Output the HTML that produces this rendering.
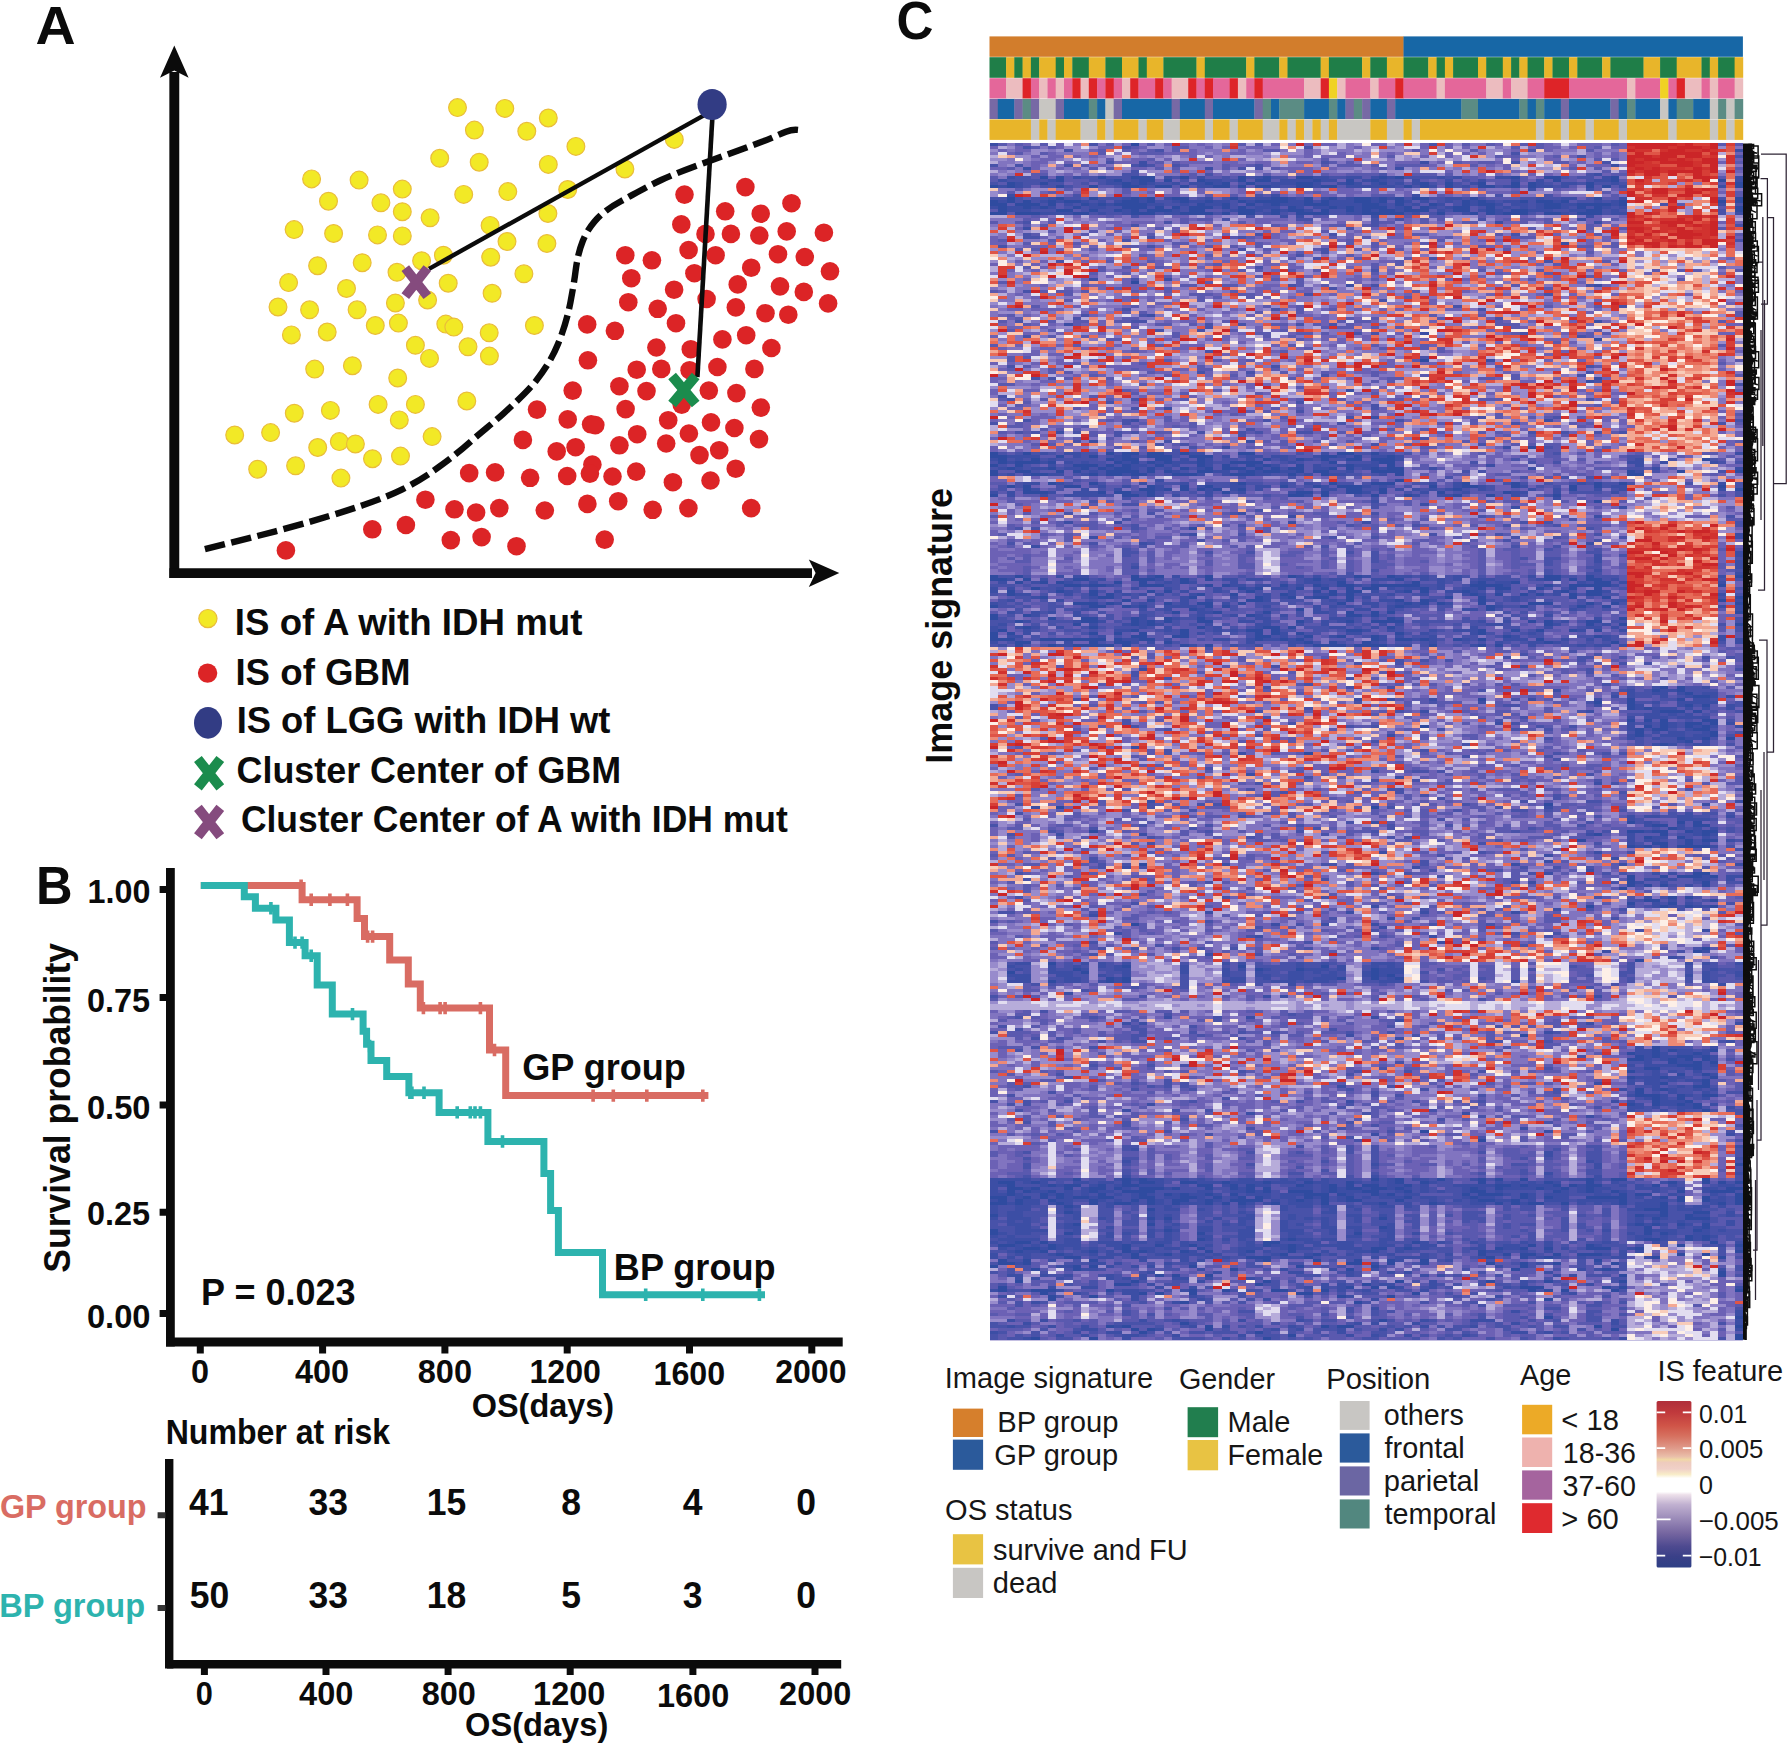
<!DOCTYPE html>
<html lang="en"><head><meta charset="utf-8"><title>Figure</title>
<style>
html,body{margin:0;padding:0;background:#fff}
body{width:1787px;height:1745px;overflow:hidden}
svg{display:block}
text{font-family:"Liberation Sans",sans-serif;fill:#0b0b0b}
.b{font-weight:700}
.r{font-weight:400;fill:#161616}
.sal{fill:#d96c63}
.tea{fill:#2db3ae}
</style></head><body>
<svg width="1787" height="1745" viewBox="0 0 1787 1745">
<rect width="1787" height="1745" fill="#fff"/>
<g id="panelA">
<path d="M174.3 578V72" stroke="#0b0b0b" stroke-width="9.9" fill="none"/>
<path d="M169.4 573.1H812" stroke="#0b0b0b" stroke-width="9.8" fill="none"/>
<path d="M174.3 45.6L188.6 77.8L174.3 70.6L160 77.8Z" fill="#0b0b0b"/>
<path d="M839.3 573.1L808.8 587L815.6 573.1L808.8 559.4Z" fill="#0b0b0b"/>
<g fill="#f2e926" stroke="#eabd3a" stroke-width="1.2">
<circle cx="457.5" cy="107.6" r="8.9"/>
<circle cx="504.8" cy="108.4" r="8.9"/>
<circle cx="548.3" cy="118.0" r="8.9"/>
<circle cx="474.4" cy="130.1" r="8.9"/>
<circle cx="526.8" cy="131.3" r="8.9"/>
<circle cx="439.7" cy="158.3" r="8.9"/>
<circle cx="479.2" cy="162.2" r="8.9"/>
<circle cx="548.3" cy="164.4" r="8.9"/>
<circle cx="311.6" cy="178.9" r="8.9"/>
<circle cx="359.1" cy="180.1" r="8.9"/>
<circle cx="402.3" cy="189.1" r="8.9"/>
<circle cx="463.7" cy="194.4" r="8.9"/>
<circle cx="507.8" cy="191.6" r="8.9"/>
<circle cx="328.5" cy="201.2" r="8.9"/>
<circle cx="380.9" cy="202.8" r="8.9"/>
<circle cx="402.3" cy="211.7" r="8.9"/>
<circle cx="430.1" cy="217.8" r="8.9"/>
<circle cx="547.9" cy="213.5" r="8.9"/>
<circle cx="490.1" cy="225.4" r="8.9"/>
<circle cx="294.1" cy="229.6" r="8.9"/>
<circle cx="333.6" cy="233.5" r="8.9"/>
<circle cx="377.5" cy="234.9" r="8.9"/>
<circle cx="402.3" cy="235.9" r="8.9"/>
<circle cx="507.0" cy="241.5" r="8.9"/>
<circle cx="546.9" cy="243.5" r="8.9"/>
<circle cx="443.4" cy="255.2" r="8.9"/>
<circle cx="421.6" cy="260.7" r="8.9"/>
<circle cx="490.7" cy="257.2" r="8.9"/>
<circle cx="317.6" cy="265.7" r="8.9"/>
<circle cx="362.2" cy="262.7" r="8.9"/>
<circle cx="397.0" cy="272.3" r="8.9"/>
<circle cx="523.9" cy="273.8" r="8.9"/>
<circle cx="288.6" cy="282.6" r="8.9"/>
<circle cx="346.5" cy="288.5" r="8.9"/>
<circle cx="448.2" cy="283.2" r="8.9"/>
<circle cx="492.1" cy="293.3" r="8.9"/>
<circle cx="427.6" cy="300.0" r="8.9"/>
<circle cx="395.4" cy="303.0" r="8.9"/>
<circle cx="278.0" cy="307.0" r="8.9"/>
<circle cx="309.6" cy="309.8" r="8.9"/>
<circle cx="357.1" cy="309.8" r="8.9"/>
<circle cx="398.4" cy="323.1" r="8.9"/>
<circle cx="375.3" cy="325.5" r="8.9"/>
<circle cx="445.8" cy="324.1" r="8.9"/>
<circle cx="453.8" cy="327.1" r="8.9"/>
<circle cx="534.4" cy="325.5" r="8.9"/>
<circle cx="327.2" cy="332.0" r="8.9"/>
<circle cx="291.4" cy="334.9" r="8.9"/>
<circle cx="489.2" cy="332.8" r="8.9"/>
<circle cx="415.4" cy="345.3" r="8.9"/>
<circle cx="429.5" cy="358.4" r="8.9"/>
<circle cx="314.7" cy="369.1" r="8.9"/>
<circle cx="352.4" cy="365.7" r="8.9"/>
<circle cx="397.7" cy="378.0" r="8.9"/>
<circle cx="378.1" cy="404.4" r="8.9"/>
<circle cx="415.4" cy="404.4" r="8.9"/>
<circle cx="294.3" cy="413.2" r="8.9"/>
<circle cx="330.4" cy="410.4" r="8.9"/>
<circle cx="399.3" cy="419.9" r="8.9"/>
<circle cx="234.7" cy="435.0" r="8.9"/>
<circle cx="270.6" cy="432.6" r="8.9"/>
<circle cx="432.1" cy="436.6" r="8.9"/>
<circle cx="317.7" cy="447.5" r="8.9"/>
<circle cx="339.3" cy="441.6" r="8.9"/>
<circle cx="355.4" cy="444.0" r="8.9"/>
<circle cx="372.5" cy="458.7" r="8.9"/>
<circle cx="400.5" cy="456.1" r="8.9"/>
<circle cx="257.7" cy="469.2" r="8.9"/>
<circle cx="295.6" cy="465.8" r="8.9"/>
<circle cx="340.9" cy="478.1" r="8.9"/>
<circle cx="575.9" cy="146.4" r="8.9"/>
<circle cx="674.3" cy="139.4" r="8.9"/>
<circle cx="624.9" cy="169.0" r="8.9"/>
<circle cx="567.7" cy="189.5" r="8.9"/>
<circle cx="468.0" cy="346.8" r="8.9"/>
<circle cx="489.4" cy="356.1" r="8.9"/>
<circle cx="466.8" cy="401.0" r="8.9"/>
</g>
<g fill="#dc2426">
<circle cx="745.4" cy="187.1" r="9.3"/>
<circle cx="684.5" cy="194.6" r="9.3"/>
<circle cx="791.5" cy="203.2" r="9.3"/>
<circle cx="725.2" cy="211.3" r="9.3"/>
<circle cx="760.7" cy="213.7" r="9.3"/>
<circle cx="681.3" cy="224.4" r="9.3"/>
<circle cx="705.5" cy="233.9" r="9.3"/>
<circle cx="730.9" cy="233.9" r="9.3"/>
<circle cx="759.3" cy="235.5" r="9.3"/>
<circle cx="786.7" cy="231.4" r="9.3"/>
<circle cx="823.9" cy="232.7" r="9.3"/>
<circle cx="688.6" cy="250.0" r="9.3"/>
<circle cx="715.6" cy="255.2" r="9.3"/>
<circle cx="778.0" cy="254.2" r="9.3"/>
<circle cx="804.8" cy="257.0" r="9.3"/>
<circle cx="625.3" cy="255.2" r="9.3"/>
<circle cx="651.9" cy="260.3" r="9.3"/>
<circle cx="751.2" cy="267.7" r="9.3"/>
<circle cx="830.0" cy="271.3" r="9.3"/>
<circle cx="631.3" cy="278.2" r="9.3"/>
<circle cx="694.4" cy="273.2" r="9.3"/>
<circle cx="737.7" cy="284.4" r="9.3"/>
<circle cx="780.0" cy="286.4" r="9.3"/>
<circle cx="803.8" cy="291.9" r="9.3"/>
<circle cx="674.1" cy="289.7" r="9.3"/>
<circle cx="628.3" cy="302.2" r="9.3"/>
<circle cx="706.6" cy="299.0" r="9.3"/>
<circle cx="657.7" cy="308.8" r="9.3"/>
<circle cx="735.8" cy="307.4" r="9.3"/>
<circle cx="828.1" cy="303.4" r="9.3"/>
<circle cx="765.5" cy="313.2" r="9.3"/>
<circle cx="788.3" cy="314.7" r="9.3"/>
<circle cx="587.2" cy="324.4" r="9.3"/>
<circle cx="614.9" cy="330.8" r="9.3"/>
<circle cx="676.0" cy="323.2" r="9.3"/>
<circle cx="722.4" cy="339.4" r="9.3"/>
<circle cx="746.2" cy="335.2" r="9.3"/>
<circle cx="771.4" cy="348.0" r="9.3"/>
<circle cx="656.4" cy="347.5" r="9.3"/>
<circle cx="690.8" cy="349.2" r="9.3"/>
<circle cx="587.9" cy="360.3" r="9.3"/>
<circle cx="636.7" cy="369.7" r="9.3"/>
<circle cx="661.3" cy="368.9" r="9.3"/>
<circle cx="689.6" cy="370.2" r="9.3"/>
<circle cx="717.4" cy="367.0" r="9.3"/>
<circle cx="754.4" cy="368.9" r="9.3"/>
<circle cx="572.7" cy="390.6" r="9.3"/>
<circle cx="619.4" cy="386.2" r="9.3"/>
<circle cx="646.5" cy="391.1" r="9.3"/>
<circle cx="708.8" cy="390.6" r="9.3"/>
<circle cx="736.4" cy="393.1" r="9.3"/>
<circle cx="537.0" cy="409.6" r="9.3"/>
<circle cx="625.6" cy="409.1" r="9.3"/>
<circle cx="681.7" cy="404.6" r="9.3"/>
<circle cx="760.8" cy="407.6" r="9.3"/>
<circle cx="567.7" cy="419.4" r="9.3"/>
<circle cx="591.1" cy="424.3" r="9.3"/>
<circle cx="595.3" cy="425.1" r="9.3"/>
<circle cx="668.2" cy="420.2" r="9.3"/>
<circle cx="711.0" cy="422.4" r="9.3"/>
<circle cx="734.4" cy="428.0" r="9.3"/>
<circle cx="522.9" cy="439.9" r="9.3"/>
<circle cx="637.2" cy="434.2" r="9.3"/>
<circle cx="688.9" cy="433.5" r="9.3"/>
<circle cx="759.0" cy="439.1" r="9.3"/>
<circle cx="556.7" cy="451.4" r="9.3"/>
<circle cx="575.6" cy="447.2" r="9.3"/>
<circle cx="619.4" cy="445.3" r="9.3"/>
<circle cx="666.2" cy="443.5" r="9.3"/>
<circle cx="699.5" cy="455.1" r="9.3"/>
<circle cx="719.2" cy="450.2" r="9.3"/>
<circle cx="592.4" cy="464.5" r="9.3"/>
<circle cx="589.9" cy="473.6" r="9.3"/>
<circle cx="735.7" cy="468.7" r="9.3"/>
<circle cx="469.2" cy="473.1" r="9.3"/>
<circle cx="495.1" cy="472.4" r="9.3"/>
<circle cx="530.1" cy="477.8" r="9.3"/>
<circle cx="567.2" cy="476.0" r="9.3"/>
<circle cx="612.5" cy="476.5" r="9.3"/>
<circle cx="636.2" cy="471.6" r="9.3"/>
<circle cx="672.9" cy="482.2" r="9.3"/>
<circle cx="710.5" cy="480.5" r="9.3"/>
<circle cx="425.4" cy="499.7" r="9.3"/>
<circle cx="454.5" cy="509.3" r="9.3"/>
<circle cx="476.1" cy="512.5" r="9.3"/>
<circle cx="499.3" cy="508.1" r="9.3"/>
<circle cx="544.8" cy="510.5" r="9.3"/>
<circle cx="587.4" cy="503.9" r="9.3"/>
<circle cx="618.2" cy="501.2" r="9.3"/>
<circle cx="652.7" cy="509.8" r="9.3"/>
<circle cx="688.4" cy="508.1" r="9.3"/>
<circle cx="751.2" cy="508.1" r="9.3"/>
<circle cx="450.8" cy="540.1" r="9.3"/>
<circle cx="481.6" cy="537.1" r="9.3"/>
<circle cx="516.5" cy="546.2" r="9.3"/>
<circle cx="604.7" cy="539.6" r="9.3"/>
<circle cx="372.3" cy="529.3" r="9.3"/>
<circle cx="405.9" cy="525.0" r="9.3"/>
<circle cx="285.9" cy="550.4" r="9.3"/>
</g>
<path d="M204.9 549.2 C235 541.5 258 536 281.5 529.7 C310 522 337 514 362 505.5 C378 500 391 495 402.3 489.4 C416 482.5 428 475 438.6 467.2 C450 459 460 451 469.2 442.8 C482 431.5 493 423 503.7 413.3 C516 402 527 392 535.7 381.3 C545 369.5 552.5 357.5 557.9 344.3 C564 329.5 568 315 570.5 302 C573 288.5 574.5 280 575.5 271.7 C577 260 579 250.5 582.6 241.5 C585.5 234 589.5 227.5 594.7 221.4 C601.5 213.5 610 207 620.9 201.2 C633 194.8 646 187 661.2 180 C677 172.8 694 166.5 709.5 161 C727 154.8 745 148 761.9 141.8 C771 138.5 779 134.5 786 131.7 C791.5 129.6 797 129.3 801.5 130.6" fill="none" stroke="#0b0b0b" stroke-width="6.4" stroke-dasharray="20.5 6.5"/>
<path d="M429 268.8L707 113.6" stroke="#0b0b0b" stroke-width="4.4" fill="none"/>
<path d="M712.8 110L697.4 377" stroke="#0b0b0b" stroke-width="4.6" fill="none"/>
<ellipse cx="712.1" cy="104.5" rx="14.6" ry="15.6" fill="#323c84"/>
<path d="M405.3 268.1L427.3 296.1M427.3 268.1L405.3 296.1" stroke="#854b7e" stroke-width="9.6" fill="none"/>
<path d="M672.1 376.0L695.7 404.0M695.7 376.0L672.1 404.0" stroke="#1b8c4d" stroke-width="10.0" fill="none"/>
<circle cx="207.9" cy="618.6" r="9.1" fill="#f2e926" stroke="#eabd3a" stroke-width="1.2"/>
<circle cx="207.6" cy="673.1" r="9.7" fill="#dc2426"/>
<ellipse cx="208" cy="722.9" rx="14" ry="15.8" fill="#323c84"/>
<path d="M197.9 759.0L220.3 787.4M220.3 759.0L197.9 787.4" stroke="#1b8c4d" stroke-width="9.8" fill="none"/>
<path d="M197.9 807.9L220.3 836.3M220.3 807.9L197.9 836.3" stroke="#854b7e" stroke-width="9.8" fill="none"/>
<text class="b" font-size="37.50" transform="translate(234.82 634.60) scale(0.9776 1)">IS of A with IDH mut</text>
<text class="b" font-size="37.50" transform="translate(235.42 684.50) scale(0.9777 1)">IS of GBM</text>
<text class="b" font-size="37.50" transform="translate(236.64 733.40) scale(0.9702 1)">IS of LGG with IDH wt</text>
<text class="b" font-size="37.50" transform="translate(236.57 782.80) scale(0.9564 1)">Cluster Center of GBM</text>
<text class="b" font-size="37.50" transform="translate(240.88 832.20) scale(0.9454 1)">Cluster Center of A with IDH mut</text>
<text class="b" font-size="53.80" transform="translate(35.51 43.60) scale(1.0320 1)">A</text>
</g>
<g id="panelB">
<path d="M200.8 885.6H302.1V899.7H357.1V918.4H364.5V936.6H389.7V960.1H408.3V983.9H420.3V1008.1H489.5V1050.0H505.7V1095.6H708.4" fill="none" stroke="#d96c63" stroke-width="7" stroke-linejoin="miter"/>
<path d="M301.1 879.4v12.4M311.2 893.5v12.4M329.9 893.5v12.4M347.4 893.5v12.4M367.6 930.4v12.4M372.6 930.4v12.4M423.4 1001.9v12.4M440.1 1001.9v12.4M445.1 1001.9v12.4M480.4 1001.9v12.4M494.5 1043.8v12.4M593.1 1089.4v12.4M613.3 1089.4v12.4M646.8 1089.4v12.4M702.8 1089.4v12.4" fill="none" stroke="#d96c63" stroke-width="3.6"/>
<path d="M200.8 885.6H244.3V896.7H255.4V908.3H275.9V920.0H289.4V942.6H305.1V955.7H317.2V984.9H332.3V1014.1H363.1V1031.2H366.6V1044.3H371.0V1060.4H386.7V1076.6H408.9V1092.7H439.1V1112.4H487.9V1141.5H543.9V1173.5H550.6V1210.4H558.4V1252.5H602.5V1294.8H765.0" fill="none" stroke="#2db3ae" stroke-width="7" stroke-linejoin="miter"/>
<path d="M270.9 902.1v12.4M295.0 936.4v12.4M302.1 936.4v12.4M311.2 949.5v12.4M352.5 1007.9v12.4M365.6 1033.8v12.4M369.6 1039.8v12.4M409.9 1086.5v12.4M411.9 1086.5v12.4M424.0 1086.5v12.4M457.2 1106.2v12.4M470.3 1106.2v12.4M475.0 1106.2v12.4M480.4 1106.2v12.4M502.5 1135.3v12.4M645.7 1288.6v12.4M702.8 1288.6v12.4M759.4 1288.6v12.4" fill="none" stroke="#2db3ae" stroke-width="3.6"/>
<path d="M170.4 868V1346.4" stroke="#0b0b0b" stroke-width="8.8" fill="none"/>
<path d="M166 1342H842.7" stroke="#0b0b0b" stroke-width="8.9" fill="none"/>
<path d="M159.6 889.5H167M159.6 997.6H167M159.6 1105.1H167M159.6 1212.2H167M159.6 1313.5H167" stroke="#0b0b0b" stroke-width="7" fill="none"/>
<path d="M200.3 1345V1353.5M322.6 1345V1353.5M444.9 1345V1353.5M567.2 1345V1353.5M689.5 1345V1353.5M811.8 1345V1353.5" stroke="#0b0b0b" stroke-width="7" fill="none"/>
<text class="b" font-size="34.00" transform="translate(87.56 903.00) scale(0.9501 1)">1.00</text>
<text class="b" font-size="34.00" transform="translate(86.90 1012.30) scale(0.9543 1)">0.75</text>
<text class="b" font-size="34.00" transform="translate(86.89 1118.70) scale(0.9620 1)">0.50</text>
<text class="b" font-size="34.00" transform="translate(86.90 1224.70) scale(0.9543 1)">0.25</text>
<text class="b" font-size="34.00" transform="translate(86.89 1327.70) scale(0.9620 1)">0.00</text>
<text class="b" font-size="34.00" transform="translate(191.00 1382.90) scale(0.9536 1)">0</text>
<text class="b" font-size="34.00" transform="translate(295.11 1382.90) scale(0.9518 1)">400</text>
<text class="b" font-size="34.00" transform="translate(417.72 1382.90) scale(0.9570 1)">800</text>
<text class="b" font-size="34.00" transform="translate(529.47 1382.90) scale(0.9439 1)">1200</text>
<text class="b" font-size="34.00" transform="translate(653.47 1384.50) scale(0.9481 1)">1600</text>
<text class="b" font-size="34.00" transform="translate(775.28 1382.90) scale(0.9412 1)">2000</text>
<text class="b" font-size="33.40" transform="translate(471.70 1417.00) scale(0.9720 1)">OS(days)</text>
<text class="b" font-size="36.20" transform="translate(69.70 1272.67) rotate(-90) scale(0.9819 1)">Survival probability</text>
<text class="b" font-size="37.50" transform="translate(201.06 1304.90) scale(0.9604 1)">P = 0.023</text>
<text class="b" font-size="37.60" transform="translate(522.16 1080.10) scale(0.9600 1)">GP group</text>
<text class="b" font-size="37.60" transform="translate(613.86 1280.40) scale(0.9593 1)">BP group</text>
<text class="b" font-size="52.90" transform="translate(36.01 904.20) scale(0.9576 1)">B</text>
<text class="b" font-size="34.30" transform="translate(165.72 1444.20) scale(0.9350 1)">Number at risk</text>
<path d="M169.2 1459V1668.4" stroke="#0b0b0b" stroke-width="8.4" fill="none"/>
<path d="M167 1664.2H841.2" stroke="#0b0b0b" stroke-width="8.6" fill="none"/>
<path d="M157.6 1515.2H165.5M157.6 1608H165.5" stroke="#333" stroke-width="6" fill="none"/>
<path d="M204.4 1668V1675M326.0 1668V1675M448.1 1668V1675M570.2 1668V1675M692.9 1668V1675M815.0 1668V1675" stroke="#0b0b0b" stroke-width="7" fill="none"/>
<text class="b sal" font-size="33.30" transform="translate(-0.09 1518.40) scale(0.9713 1)">GP group</text>
<text class="b tea" font-size="33.30" transform="translate(-0.72 1616.90) scale(0.9774 1)">BP group</text>
<text class="b" font-size="37.00" text-anchor="middle" transform="translate(208.80 1515.00) scale(0.9600 1)">41</text>
<text class="b" font-size="37.00" text-anchor="middle" transform="translate(328.30 1515.00) scale(0.9600 1)">33</text>
<text class="b" font-size="37.00" text-anchor="middle" transform="translate(446.60 1515.00) scale(0.9600 1)">15</text>
<text class="b" font-size="37.00" text-anchor="middle" transform="translate(571.20 1515.00) scale(0.9600 1)">8</text>
<text class="b" font-size="37.00" text-anchor="middle" transform="translate(692.60 1515.00) scale(0.9600 1)">4</text>
<text class="b" font-size="37.00" text-anchor="middle" transform="translate(806.10 1515.00) scale(0.9600 1)">0</text>
<text class="b" font-size="37.00" text-anchor="middle" transform="translate(209.60 1607.70) scale(0.9600 1)">50</text>
<text class="b" font-size="37.00" text-anchor="middle" transform="translate(328.30 1607.70) scale(0.9600 1)">33</text>
<text class="b" font-size="37.00" text-anchor="middle" transform="translate(446.60 1607.70) scale(0.9600 1)">18</text>
<text class="b" font-size="37.00" text-anchor="middle" transform="translate(571.20 1607.70) scale(0.9600 1)">5</text>
<text class="b" font-size="37.00" text-anchor="middle" transform="translate(692.60 1607.70) scale(0.9600 1)">3</text>
<text class="b" font-size="37.00" text-anchor="middle" transform="translate(806.10 1607.70) scale(0.9600 1)">0</text>
<text class="b" font-size="34.00" transform="translate(195.67 1704.50) scale(0.9040 1)">0</text>
<text class="b" font-size="34.00" transform="translate(299.11 1704.50) scale(0.9573 1)">400</text>
<text class="b" font-size="34.00" transform="translate(421.63 1704.50) scale(0.9552 1)">800</text>
<text class="b" font-size="34.00" text-anchor="middle" transform="translate(569.20 1704.50) scale(0.9550 1)">1200</text>
<text class="b" font-size="34.00" text-anchor="middle" transform="translate(693.10 1706.90) scale(0.9550 1)">1600</text>
<text class="b" font-size="34.00" text-anchor="middle" transform="translate(815.20 1704.50) scale(0.9550 1)">2000</text>
<text class="b" font-size="33.40" transform="translate(464.99 1736.30) scale(0.9776 1)">OS(days)</text>
</g>
<g id="panelC">
<text class="b" font-size="54.50" transform="translate(896.45 39.20) scale(0.9384 1)">C</text>
<text class="b" font-size="37.50" transform="translate(952.00 763.64) rotate(-90) scale(0.9589 1)">Image signature</text>
<rect x="989.5" y="36.4" width="414.3" height="20.4" fill="#d27d2c"/>
<rect x="1403.5" y="36.4" width="339.4" height="20.4" fill="#1767a6"/>
<rect x="989.5" y="57.2" width="16.9" height="20.6" fill="#1f7e48"/>
<rect x="1006.1" y="57.2" width="8.6" height="20.6" fill="#e8b52a"/>
<rect x="1014.3" y="57.2" width="8.6" height="20.6" fill="#1f7e48"/>
<rect x="1022.6" y="57.2" width="8.6" height="20.6" fill="#e8b52a"/>
<rect x="1030.9" y="57.2" width="8.6" height="20.6" fill="#1f7e48"/>
<rect x="1039.2" y="57.2" width="16.9" height="20.6" fill="#e8b52a"/>
<rect x="1055.7" y="57.2" width="8.6" height="20.6" fill="#1f7e48"/>
<rect x="1064.0" y="57.2" width="8.6" height="20.6" fill="#e8b52a"/>
<rect x="1072.3" y="57.2" width="16.9" height="20.6" fill="#1f7e48"/>
<rect x="1088.8" y="57.2" width="16.9" height="20.6" fill="#e8b52a"/>
<rect x="1105.4" y="57.2" width="16.9" height="20.6" fill="#1f7e48"/>
<rect x="1122.0" y="57.2" width="16.9" height="20.6" fill="#e8b52a"/>
<rect x="1138.5" y="57.2" width="8.6" height="20.6" fill="#1f7e48"/>
<rect x="1146.8" y="57.2" width="16.9" height="20.6" fill="#e8b52a"/>
<rect x="1163.4" y="57.2" width="33.4" height="20.6" fill="#1f7e48"/>
<rect x="1196.5" y="57.2" width="8.6" height="20.6" fill="#e8b52a"/>
<rect x="1204.8" y="57.2" width="41.7" height="20.6" fill="#1f7e48"/>
<rect x="1246.2" y="57.2" width="8.6" height="20.6" fill="#e8b52a"/>
<rect x="1254.4" y="57.2" width="25.1" height="20.6" fill="#1f7e48"/>
<rect x="1279.3" y="57.2" width="8.6" height="20.6" fill="#e8b52a"/>
<rect x="1287.5" y="57.2" width="33.4" height="20.6" fill="#1f7e48"/>
<rect x="1320.7" y="57.2" width="8.6" height="20.6" fill="#e8b52a"/>
<rect x="1328.9" y="57.2" width="33.4" height="20.6" fill="#1f7e48"/>
<rect x="1362.1" y="57.2" width="8.6" height="20.6" fill="#e8b52a"/>
<rect x="1370.3" y="57.2" width="16.9" height="20.6" fill="#1f7e48"/>
<rect x="1386.9" y="57.2" width="16.9" height="20.6" fill="#e8b52a"/>
<rect x="1403.5" y="57.2" width="25.1" height="20.6" fill="#1f7e48"/>
<rect x="1428.3" y="57.2" width="8.6" height="20.6" fill="#e8b52a"/>
<rect x="1436.6" y="57.2" width="8.6" height="20.6" fill="#1f7e48"/>
<rect x="1444.9" y="57.2" width="8.6" height="20.6" fill="#e8b52a"/>
<rect x="1453.1" y="57.2" width="25.1" height="20.6" fill="#1f7e48"/>
<rect x="1478.0" y="57.2" width="8.6" height="20.6" fill="#e8b52a"/>
<rect x="1486.2" y="57.2" width="16.9" height="20.6" fill="#1f7e48"/>
<rect x="1502.8" y="57.2" width="8.6" height="20.6" fill="#e8b52a"/>
<rect x="1511.1" y="57.2" width="8.6" height="20.6" fill="#1f7e48"/>
<rect x="1519.4" y="57.2" width="8.6" height="20.6" fill="#e8b52a"/>
<rect x="1527.6" y="57.2" width="16.9" height="20.6" fill="#1f7e48"/>
<rect x="1544.2" y="57.2" width="8.6" height="20.6" fill="#e8b52a"/>
<rect x="1552.5" y="57.2" width="16.9" height="20.6" fill="#1f7e48"/>
<rect x="1569.0" y="57.2" width="8.6" height="20.6" fill="#e8b52a"/>
<rect x="1577.3" y="57.2" width="25.1" height="20.6" fill="#1f7e48"/>
<rect x="1602.2" y="57.2" width="8.6" height="20.6" fill="#e8b52a"/>
<rect x="1610.4" y="57.2" width="33.4" height="20.6" fill="#1f7e48"/>
<rect x="1643.6" y="57.2" width="16.9" height="20.6" fill="#e8b52a"/>
<rect x="1660.1" y="57.2" width="16.9" height="20.6" fill="#1f7e48"/>
<rect x="1676.7" y="57.2" width="25.1" height="20.6" fill="#e8b52a"/>
<rect x="1701.5" y="57.2" width="8.6" height="20.6" fill="#1f7e48"/>
<rect x="1709.8" y="57.2" width="8.6" height="20.6" fill="#e8b52a"/>
<rect x="1718.1" y="57.2" width="16.9" height="20.6" fill="#1f7e48"/>
<rect x="1734.6" y="57.2" width="8.6" height="20.6" fill="#e8b52a"/>
<rect x="989.5" y="78.2" width="16.9" height="20.3" fill="#e4679a"/>
<rect x="1006.1" y="78.2" width="16.9" height="20.3" fill="#ecbcbf"/>
<rect x="1022.6" y="78.2" width="8.6" height="20.3" fill="#de2428"/>
<rect x="1030.9" y="78.2" width="8.6" height="20.3" fill="#e4679a"/>
<rect x="1039.2" y="78.2" width="8.6" height="20.3" fill="#ecbcbf"/>
<rect x="1047.5" y="78.2" width="8.6" height="20.3" fill="#e4679a"/>
<rect x="1055.7" y="78.2" width="8.6" height="20.3" fill="#ecbcbf"/>
<rect x="1064.0" y="78.2" width="8.6" height="20.3" fill="#e4679a"/>
<rect x="1072.3" y="78.2" width="8.6" height="20.3" fill="#de2428"/>
<rect x="1080.6" y="78.2" width="8.6" height="20.3" fill="#ecbcbf"/>
<rect x="1088.8" y="78.2" width="8.6" height="20.3" fill="#de2428"/>
<rect x="1097.1" y="78.2" width="8.6" height="20.3" fill="#e4679a"/>
<rect x="1105.4" y="78.2" width="8.6" height="20.3" fill="#de2428"/>
<rect x="1113.7" y="78.2" width="8.6" height="20.3" fill="#e4679a"/>
<rect x="1122.0" y="78.2" width="8.6" height="20.3" fill="#ecbcbf"/>
<rect x="1130.2" y="78.2" width="8.6" height="20.3" fill="#de2428"/>
<rect x="1138.5" y="78.2" width="16.9" height="20.3" fill="#e4679a"/>
<rect x="1155.1" y="78.2" width="8.6" height="20.3" fill="#de2428"/>
<rect x="1163.4" y="78.2" width="8.6" height="20.3" fill="#e4679a"/>
<rect x="1171.6" y="78.2" width="16.9" height="20.3" fill="#ecbcbf"/>
<rect x="1188.2" y="78.2" width="8.6" height="20.3" fill="#de2428"/>
<rect x="1196.5" y="78.2" width="8.6" height="20.3" fill="#e4679a"/>
<rect x="1204.8" y="78.2" width="8.6" height="20.3" fill="#de2428"/>
<rect x="1213.0" y="78.2" width="16.9" height="20.3" fill="#e4679a"/>
<rect x="1229.6" y="78.2" width="8.6" height="20.3" fill="#de2428"/>
<rect x="1237.9" y="78.2" width="8.6" height="20.3" fill="#ecbcbf"/>
<rect x="1246.2" y="78.2" width="8.6" height="20.3" fill="#e4679a"/>
<rect x="1254.4" y="78.2" width="8.6" height="20.3" fill="#de2428"/>
<rect x="1262.7" y="78.2" width="41.7" height="20.3" fill="#e4679a"/>
<rect x="1304.1" y="78.2" width="16.9" height="20.3" fill="#ecbcbf"/>
<rect x="1320.7" y="78.2" width="8.6" height="20.3" fill="#de2428"/>
<rect x="1328.9" y="78.2" width="8.6" height="20.3" fill="#f0d224"/>
<rect x="1337.2" y="78.2" width="8.6" height="20.3" fill="#ecbcbf"/>
<rect x="1345.5" y="78.2" width="25.1" height="20.3" fill="#e4679a"/>
<rect x="1370.3" y="78.2" width="8.6" height="20.3" fill="#ecbcbf"/>
<rect x="1378.6" y="78.2" width="16.9" height="20.3" fill="#e4679a"/>
<rect x="1395.2" y="78.2" width="8.6" height="20.3" fill="#de2428"/>
<rect x="1403.5" y="78.2" width="33.4" height="20.3" fill="#e4679a"/>
<rect x="1436.6" y="78.2" width="8.6" height="20.3" fill="#ecbcbf"/>
<rect x="1444.9" y="78.2" width="41.7" height="20.3" fill="#e4679a"/>
<rect x="1486.2" y="78.2" width="16.9" height="20.3" fill="#ecbcbf"/>
<rect x="1502.8" y="78.2" width="8.6" height="20.3" fill="#e4679a"/>
<rect x="1511.1" y="78.2" width="16.9" height="20.3" fill="#ecbcbf"/>
<rect x="1527.6" y="78.2" width="16.9" height="20.3" fill="#e4679a"/>
<rect x="1544.2" y="78.2" width="25.1" height="20.3" fill="#de2428"/>
<rect x="1569.0" y="78.2" width="58.3" height="20.3" fill="#e4679a"/>
<rect x="1627.0" y="78.2" width="8.6" height="20.3" fill="#ecbcbf"/>
<rect x="1635.3" y="78.2" width="25.1" height="20.3" fill="#e4679a"/>
<rect x="1660.1" y="78.2" width="8.6" height="20.3" fill="#f0d224"/>
<rect x="1668.4" y="78.2" width="8.6" height="20.3" fill="#e4679a"/>
<rect x="1676.7" y="78.2" width="8.6" height="20.3" fill="#de2428"/>
<rect x="1684.9" y="78.2" width="16.9" height="20.3" fill="#ecbcbf"/>
<rect x="1701.5" y="78.2" width="8.6" height="20.3" fill="#e4679a"/>
<rect x="1709.8" y="78.2" width="8.6" height="20.3" fill="#ecbcbf"/>
<rect x="1718.1" y="78.2" width="16.9" height="20.3" fill="#e4679a"/>
<rect x="1734.6" y="78.2" width="8.6" height="20.3" fill="#ecbcbf"/>
<rect x="989.5" y="98.9" width="8.6" height="20.1" fill="#7769a5"/>
<rect x="997.8" y="98.9" width="16.9" height="20.1" fill="#1767a6"/>
<rect x="1014.3" y="98.9" width="8.6" height="20.1" fill="#7769a5"/>
<rect x="1022.6" y="98.9" width="8.6" height="20.1" fill="#5b8c84"/>
<rect x="1030.9" y="98.9" width="8.6" height="20.1" fill="#7769a5"/>
<rect x="1039.2" y="98.9" width="16.9" height="20.1" fill="#c8c6c2"/>
<rect x="1055.7" y="98.9" width="8.6" height="20.1" fill="#7769a5"/>
<rect x="1064.0" y="98.9" width="25.1" height="20.1" fill="#1767a6"/>
<rect x="1088.8" y="98.9" width="8.6" height="20.1" fill="#5b8c84"/>
<rect x="1097.1" y="98.9" width="8.6" height="20.1" fill="#1767a6"/>
<rect x="1105.4" y="98.9" width="8.6" height="20.1" fill="#c8c6c2"/>
<rect x="1113.7" y="98.9" width="8.6" height="20.1" fill="#7769a5"/>
<rect x="1122.0" y="98.9" width="50.0" height="20.1" fill="#1767a6"/>
<rect x="1171.6" y="98.9" width="8.6" height="20.1" fill="#7769a5"/>
<rect x="1179.9" y="98.9" width="25.1" height="20.1" fill="#1767a6"/>
<rect x="1204.8" y="98.9" width="8.6" height="20.1" fill="#7769a5"/>
<rect x="1213.0" y="98.9" width="41.7" height="20.1" fill="#1767a6"/>
<rect x="1254.4" y="98.9" width="8.6" height="20.1" fill="#7769a5"/>
<rect x="1262.7" y="98.9" width="8.6" height="20.1" fill="#5b8c84"/>
<rect x="1271.0" y="98.9" width="8.6" height="20.1" fill="#1767a6"/>
<rect x="1279.3" y="98.9" width="25.1" height="20.1" fill="#5b8c84"/>
<rect x="1304.1" y="98.9" width="25.1" height="20.1" fill="#1767a6"/>
<rect x="1328.9" y="98.9" width="8.6" height="20.1" fill="#5b8c84"/>
<rect x="1337.2" y="98.9" width="8.6" height="20.1" fill="#1767a6"/>
<rect x="1345.5" y="98.9" width="8.6" height="20.1" fill="#7769a5"/>
<rect x="1353.8" y="98.9" width="8.6" height="20.1" fill="#5b8c84"/>
<rect x="1362.1" y="98.9" width="8.6" height="20.1" fill="#7769a5"/>
<rect x="1370.3" y="98.9" width="16.9" height="20.1" fill="#1767a6"/>
<rect x="1386.9" y="98.9" width="8.6" height="20.1" fill="#7769a5"/>
<rect x="1395.2" y="98.9" width="66.5" height="20.1" fill="#1767a6"/>
<rect x="1461.4" y="98.9" width="16.9" height="20.1" fill="#5b8c84"/>
<rect x="1478.0" y="98.9" width="41.7" height="20.1" fill="#1767a6"/>
<rect x="1519.4" y="98.9" width="8.6" height="20.1" fill="#5b8c84"/>
<rect x="1527.6" y="98.9" width="8.6" height="20.1" fill="#1767a6"/>
<rect x="1535.9" y="98.9" width="8.6" height="20.1" fill="#5b8c84"/>
<rect x="1544.2" y="98.9" width="16.9" height="20.1" fill="#1767a6"/>
<rect x="1560.8" y="98.9" width="8.6" height="20.1" fill="#7769a5"/>
<rect x="1569.0" y="98.9" width="41.7" height="20.1" fill="#1767a6"/>
<rect x="1610.4" y="98.9" width="8.6" height="20.1" fill="#7769a5"/>
<rect x="1618.7" y="98.9" width="8.6" height="20.1" fill="#1767a6"/>
<rect x="1627.0" y="98.9" width="8.6" height="20.1" fill="#5b8c84"/>
<rect x="1635.3" y="98.9" width="25.1" height="20.1" fill="#1767a6"/>
<rect x="1660.1" y="98.9" width="8.6" height="20.1" fill="#c8c6c2"/>
<rect x="1668.4" y="98.9" width="8.6" height="20.1" fill="#1767a6"/>
<rect x="1676.7" y="98.9" width="16.9" height="20.1" fill="#5b8c84"/>
<rect x="1693.2" y="98.9" width="16.9" height="20.1" fill="#1767a6"/>
<rect x="1709.8" y="98.9" width="8.6" height="20.1" fill="#c8c6c2"/>
<rect x="1718.1" y="98.9" width="8.6" height="20.1" fill="#5b8c84"/>
<rect x="1726.3" y="98.9" width="8.6" height="20.1" fill="#c8c6c2"/>
<rect x="1734.6" y="98.9" width="8.6" height="20.1" fill="#5b8c84"/>
<rect x="989.5" y="119.4" width="41.7" height="20.5" fill="#e8b52a"/>
<rect x="1030.9" y="119.4" width="8.6" height="20.5" fill="#c8c6c2"/>
<rect x="1039.2" y="119.4" width="8.6" height="20.5" fill="#e8b52a"/>
<rect x="1047.5" y="119.4" width="8.6" height="20.5" fill="#c8c6c2"/>
<rect x="1055.7" y="119.4" width="25.1" height="20.5" fill="#e8b52a"/>
<rect x="1080.6" y="119.4" width="16.9" height="20.5" fill="#c8c6c2"/>
<rect x="1097.1" y="119.4" width="8.6" height="20.5" fill="#e8b52a"/>
<rect x="1105.4" y="119.4" width="8.6" height="20.5" fill="#c8c6c2"/>
<rect x="1113.7" y="119.4" width="25.1" height="20.5" fill="#e8b52a"/>
<rect x="1138.5" y="119.4" width="8.6" height="20.5" fill="#c8c6c2"/>
<rect x="1146.8" y="119.4" width="16.9" height="20.5" fill="#e8b52a"/>
<rect x="1163.4" y="119.4" width="16.9" height="20.5" fill="#c8c6c2"/>
<rect x="1179.9" y="119.4" width="25.1" height="20.5" fill="#e8b52a"/>
<rect x="1204.8" y="119.4" width="8.6" height="20.5" fill="#c8c6c2"/>
<rect x="1213.0" y="119.4" width="16.9" height="20.5" fill="#e8b52a"/>
<rect x="1229.6" y="119.4" width="8.6" height="20.5" fill="#c8c6c2"/>
<rect x="1237.9" y="119.4" width="25.1" height="20.5" fill="#e8b52a"/>
<rect x="1262.7" y="119.4" width="16.9" height="20.5" fill="#c8c6c2"/>
<rect x="1279.3" y="119.4" width="8.6" height="20.5" fill="#e8b52a"/>
<rect x="1287.5" y="119.4" width="8.6" height="20.5" fill="#c8c6c2"/>
<rect x="1295.8" y="119.4" width="8.6" height="20.5" fill="#e8b52a"/>
<rect x="1304.1" y="119.4" width="8.6" height="20.5" fill="#c8c6c2"/>
<rect x="1312.4" y="119.4" width="8.6" height="20.5" fill="#e8b52a"/>
<rect x="1320.7" y="119.4" width="8.6" height="20.5" fill="#c8c6c2"/>
<rect x="1328.9" y="119.4" width="8.6" height="20.5" fill="#e8b52a"/>
<rect x="1337.2" y="119.4" width="33.4" height="20.5" fill="#c8c6c2"/>
<rect x="1370.3" y="119.4" width="16.9" height="20.5" fill="#e8b52a"/>
<rect x="1386.9" y="119.4" width="16.9" height="20.5" fill="#c8c6c2"/>
<rect x="1403.5" y="119.4" width="8.6" height="20.5" fill="#e8b52a"/>
<rect x="1411.7" y="119.4" width="8.6" height="20.5" fill="#c8c6c2"/>
<rect x="1420.0" y="119.4" width="116.2" height="20.5" fill="#e8b52a"/>
<rect x="1535.9" y="119.4" width="8.6" height="20.5" fill="#c8c6c2"/>
<rect x="1544.2" y="119.4" width="16.9" height="20.5" fill="#e8b52a"/>
<rect x="1560.8" y="119.4" width="8.6" height="20.5" fill="#c8c6c2"/>
<rect x="1569.0" y="119.4" width="16.9" height="20.5" fill="#e8b52a"/>
<rect x="1585.6" y="119.4" width="8.6" height="20.5" fill="#c8c6c2"/>
<rect x="1593.9" y="119.4" width="25.1" height="20.5" fill="#e8b52a"/>
<rect x="1618.7" y="119.4" width="8.6" height="20.5" fill="#c8c6c2"/>
<rect x="1627.0" y="119.4" width="41.7" height="20.5" fill="#e8b52a"/>
<rect x="1668.4" y="119.4" width="8.6" height="20.5" fill="#c8c6c2"/>
<rect x="1676.7" y="119.4" width="33.4" height="20.5" fill="#e8b52a"/>
<rect x="1709.8" y="119.4" width="8.6" height="20.5" fill="#c8c6c2"/>
<rect x="1718.1" y="119.4" width="8.6" height="20.5" fill="#e8b52a"/>
<rect x="1726.3" y="119.4" width="8.6" height="20.5" fill="#c8c6c2"/>
<rect x="1734.6" y="119.4" width="8.6" height="20.5" fill="#e8b52a"/>
<rect x="990.0" y="143.2" width="752.9" height="1197.2" fill="#6e62b6"/>
<g transform="translate(990.00 144.70) scale(8.2736 3.0005)" fill="none" stroke-width="1.04" shape-rendering="crispEdges">
<path stroke="#2f4ba0" d="M17 0h1M6 11h1M8 11h1M13 11h1M17 11h3M23 11h1M30 11h1M33 11h1M37 11h2M47 11h1M49 11h1M63 11h1M67 11h2M75 11h1M8 12h1M15 12h1M18 12h2M21 12h1M25 12h1M30 12h1M32 12h2M39 12h1M43 12h1M46 12h1M68 12h1M75 12h1M88 12h1M2 13h1M6 13h1M16 13h1M18 13h1M26 13h1M28 13h1M31 13h1M37 13h2M43 13h1M47 13h1M52 13h1M55 13h1M59 13h1M63 13h1M65 13h1M72 13h1M90 13h1M0 14h1M2 14h1M8 14h1M12 14h1M16 14h2M20 14h2M23 14h1M27 14h2M30 14h1M32 14h2M37 14h2M40 14h2M50 14h1M52 14h1M55 14h1M59 14h2M63 14h1M65 14h1M72 14h1M74 14h1M90 14h1M2 18h1M8 18h1M12 18h1M17 18h1M19 18h1M22 18h2M29 18h1M34 18h2M38 18h1M41 18h1M44 18h2M47 18h1M49 18h1M51 18h2M58 18h1M73 18h1M90 18h1M0 19h1M2 19h1M4 19h1M7 19h1M9 19h2M16 19h2M19 19h1M23 19h1M26 19h1M30 19h1M32 19h4M38 19h1M40 19h1M44 19h2M47 19h1M49 19h1M57 19h1M59 19h1M64 19h1M66 19h2M69 19h1M76 19h1M88 19h1M90 19h1M0 20h2M3 20h3M7 20h1M11 20h1M13 20h1M15 20h4M25 20h1M28 20h1M31 20h1M34 20h1M38 20h3M45 20h2M49 20h1M53 20h1M57 20h1M59 20h2M67 20h2M71 20h4M76 20h1M1 21h1M4 21h1M6 21h1M10 21h1M16 21h3M20 21h1M22 21h1M24 21h3M28 21h1M30 21h1M36 21h1M41 21h1M43 21h1M45 21h3M50 21h1M52 21h1M56 21h2M60 21h1M67 21h2M71 21h1M73 21h1M90 21h1M1 22h1M8 22h2M12 22h1M15 22h1M17 22h1M19 22h3M24 22h2M30 22h2M34 22h1M36 22h2M40 22h1M43 22h1M45 22h1M47 22h2M50 22h3M56 22h2M60 22h1M63 22h2M72 22h2M90 22h1M0 23h2M3 23h3M10 23h2M17 23h3M23 23h4M28 23h1M30 23h2M34 23h1M37 23h4M45 23h5M54 23h1M58 23h1M60 23h1M62 23h3M67 23h2M71 23h3M17 46h1M73 65h1M52 72h1M65 101h1M0 103h1M4 103h1M14 103h1M16 103h2M19 103h2M23 103h1M30 103h2M42 103h2M46 103h1M0 104h2M8 104h1M12 104h1M16 104h1M19 104h3M24 104h3M40 104h2M44 104h1M48 104h1M1 105h1M5 105h1M14 105h1M16 105h2M20 105h2M25 105h1M33 105h1M37 105h1M40 105h1M43 105h2M46 105h3M86 105h1M1 106h1M3 106h3M7 106h1M15 106h1M17 106h1M19 106h1M21 106h1M25 106h1M29 106h4M41 106h1M47 106h2M0 107h1M3 107h1M10 107h3M14 107h1M16 107h1M20 107h1M25 107h1M28 107h1M31 107h1M33 107h1M37 107h1M43 107h1M48 107h1M2 108h1M7 108h1M11 108h1M13 108h1M15 108h2M19 108h1M23 108h1M26 108h1M28 108h3M32 108h1M34 108h1M36 108h2M41 108h1M43 108h1M46 108h1M48 108h2M0 109h1M3 109h2M8 109h1M10 109h1M14 109h4M19 109h1M21 109h1M25 109h2M31 109h1M33 109h2M37 109h1M39 109h2M46 109h4M77 109h1M83 109h1M90 109h1M0 110h1M5 110h2M12 110h1M14 110h2M17 110h2M22 110h3M29 110h3M36 110h1M40 110h1M49 110h1M77 110h2M49 112h1M7 113h1M12 113h1M30 113h1M41 113h1M46 113h3M57 113h1M63 113h1M73 113h1M76 113h1M2 114h1M4 114h1M9 114h2M19 114h1M23 114h1M26 114h1M35 114h1M39 114h1M42 114h3M53 114h1M57 114h2M63 114h1M70 114h1M73 114h1M88 114h1M4 115h1M18 115h2M21 115h1M23 115h1M25 115h1M27 115h1M30 115h1M43 115h2M47 115h1M56 115h1M70 115h1M90 115h1M4 116h3M13 116h1M15 116h2M19 116h1M28 116h1M37 116h2M40 116h1M43 116h2M47 116h1M54 116h1M62 116h1M0 117h1M16 117h2M19 117h1M36 117h2M40 117h1M46 117h1M50 117h1M56 117h1M60 117h1M68 117h1M73 119h1M24 128h1M0 144h1M3 144h1M17 144h1M20 144h1M26 144h1M36 144h1M44 144h1M48 144h1M67 144h2M72 144h1M90 144h1M0 145h2M4 145h1M10 145h2M17 145h3M23 145h1M26 145h1M39 145h1M49 145h1M67 145h2M70 145h1M72 145h2M3 146h1M6 146h1M8 146h1M15 146h1M18 146h1M23 146h1M42 146h1M51 146h1M59 146h1M63 146h1M73 146h2M9 147h2M12 147h2M18 147h3M26 147h1M28 147h1M35 147h1M39 147h1M42 147h2M46 147h6M58 147h4M67 147h1M70 147h5M88 147h1M5 148h1M30 148h1M32 148h1M37 148h1M40 148h1M43 148h1M45 148h2M52 148h1M59 148h1M61 148h2M66 148h1M70 148h1M73 148h1M2 149h1M8 149h1M12 149h1M19 149h1M21 149h1M31 149h1M39 149h1M41 149h1M43 149h2M50 149h1M52 149h1M57 149h1M69 149h1M72 149h2M2 150h1M12 150h1M14 150h1M25 150h1M29 150h1M35 150h1M41 150h1M43 150h1M58 150h1M61 150h1M64 150h1M66 150h1M70 150h1M72 150h2M6 151h1M13 151h2M24 151h1M32 151h1M36 151h1M39 151h2M43 151h1M55 151h1M59 151h1M70 151h1M74 151h1M90 151h1M16 152h1M19 152h1M31 152h2M43 152h1M49 152h1M52 152h1M59 152h1M88 152h1M10 153h3M14 153h1M21 153h1M25 153h2M30 153h1M42 153h1M50 153h1M52 153h1M54 153h1M59 153h1M65 153h3M72 153h1M75 153h1M90 153h1M0 154h1M12 154h2M16 154h1M18 154h1M26 154h1M28 154h1M49 154h1M60 154h1M64 154h1M71 154h1M74 154h1M24 155h1M37 155h1M60 155h1M22 156h1M27 156h1M33 156h1M43 156h1M46 156h1M48 156h1M90 156h1M0 157h1M4 157h1M31 157h1M43 157h2M46 157h1M0 158h1M7 158h1M11 158h2M17 158h1M21 158h1M25 158h1M48 158h1M76 158h1M3 159h1M11 159h2M17 159h1M19 159h1M21 159h1M25 159h2M37 159h1M43 159h1M46 159h4M65 159h1M67 159h1M72 159h2M10 160h1M17 160h1M19 160h1M67 160h1M72 160h1M76 160h1M90 160h1M4 161h1M12 161h1M25 161h1M33 161h2M36 161h1M48 161h1M1 162h1M17 162h1M23 162h1M31 162h2M34 162h1M43 162h2M59 162h1M63 162h1M66 162h1M70 162h1M73 162h1M0 163h1M2 163h1M12 163h1M15 163h1M18 163h1M23 163h1M32 163h1M34 163h1M37 163h1M49 163h1M59 163h1M0 164h1M17 164h2M22 164h2M32 164h2M38 164h1M42 164h1M46 164h1M62 164h1M73 164h1M0 165h3M6 165h8M15 165h1M18 165h2M32 165h1M35 165h1M37 165h1M46 165h1M49 165h2M52 165h1M56 165h1M59 165h1M66 165h1M3 166h2M12 166h1M15 166h2M21 166h1M38 166h1M41 166h1M45 166h1M67 166h1M75 166h1M3 167h1M7 167h1M10 167h5M16 167h1M23 167h1M26 167h1M39 167h4M44 167h4M53 167h1M59 167h1M61 167h1M81 181h1M83 181h1M80 182h1M83 182h1M84 183h1M85 184h2M59 185h1M77 185h1M83 185h1M73 186h1M77 186h1M77 187h1M84 187h1M86 187h1M77 188h1M79 188h1M81 189h3M85 189h1M77 192h1M79 192h1M81 192h1M86 192h2M81 193h1M84 193h2M87 193h1M52 194h1M79 194h1M81 194h1M84 194h1M86 194h1M78 195h1M80 195h2M85 195h2M78 196h1M87 196h1M78 197h1M87 197h1M83 198h1M86 198h1M89 198h1M84 199h1M81 200h1M38 203h1M67 220h1M8 221h1M46 221h1M77 226h1M83 226h1M85 226h1M80 227h2M85 227h2M82 228h1M12 229h1M77 229h2M80 229h2M84 229h1M86 229h2M73 230h1M81 230h1M86 230h1M79 231h1M83 231h1M71 232h1M84 232h1M86 232h2M80 233h2M84 233h1M77 234h1M79 234h1M81 234h1M83 234h4M18 240h1M85 243h2M77 244h1M81 244h1M83 244h3M87 244h1M77 245h1M77 246h1M86 246h1M77 247h1M79 247h1M81 247h1M86 247h1M76 248h1M82 251h1M84 251h1M79 252h2M87 252h1M77 253h1M82 253h1M72 254h1M81 254h1M84 254h1M87 254h1M17 260h1M86 268h1M85 269h1M78 272h1M7 273h1M16 274h1M30 274h1M40 274h1M10 275h1M32 275h1M37 275h1M46 275h1M2 276h1M11 276h1M46 276h1M46 277h1M48 277h1M14 278h1M16 278h1M42 278h1M46 278h1M49 278h1M7 279h1M14 279h1M16 279h1M64 297h1M80 301h1M80 302h1M82 302h1M87 302h1M77 303h1M80 303h1M85 303h1M78 304h1M80 304h1M83 304h2M86 304h1M77 305h2M82 305h1M84 305h1M86 305h1M82 306h1M85 306h1M87 306h1M83 307h3M79 308h2M85 308h1M77 309h1M83 310h1M86 310h1M77 311h1M81 311h1M87 311h1M86 312h1M81 313h1M86 313h1M85 314h2M78 315h1M81 315h1M78 316h1M78 317h3M83 317h1M86 317h2M80 318h1M83 318h1M80 319h1M84 319h1M77 320h1M80 320h1M83 320h1M85 320h1M85 321h1M86 322h1M52 329h1M59 332h1M90 340h1M10 345h1M16 345h1M18 345h1M46 345h1M49 345h1M54 345h1M59 345h1M61 345h1M64 345h1M72 345h1M75 345h2M86 345h1M1 346h2M5 346h1M16 346h1M18 346h2M23 346h2M28 346h1M33 346h1M38 346h1M43 346h1M49 346h1M52 346h1M59 346h1M67 346h1M72 346h1M82 346h1M86 346h1M88 346h1M90 346h1M2 347h1M7 347h1M9 347h2M13 347h1M16 347h2M25 347h2M29 347h1M31 347h1M37 347h1M41 347h1M43 347h1M45 347h2M50 347h1M61 347h2M64 347h1M68 347h1M70 347h1M72 347h2M80 347h1M2 348h2M5 348h1M9 348h1M12 348h2M15 348h1M18 348h3M22 348h1M26 348h1M29 348h1M31 348h1M33 348h1M41 348h1M43 348h2M46 348h2M49 348h1M58 348h1M61 348h1M66 348h1M69 348h1M72 348h1M89 348h2M2 349h1M4 349h1M7 349h1M12 349h1M16 349h4M31 349h1M33 349h1M36 349h3M41 349h1M45 349h2M50 349h1M58 349h2M68 349h1M72 349h1M75 349h1M83 349h1M87 349h3M2 350h1M6 350h1M8 350h1M13 350h1M18 350h1M21 350h1M23 350h1M26 350h1M29 350h1M38 350h3M42 350h1M46 350h1M48 350h1M57 350h1M59 350h3M64 350h1M76 350h1M78 350h2M90 350h1M0 351h2M4 351h1M6 351h1M8 351h1M10 351h2M13 351h2M18 351h2M23 351h2M27 351h1M30 351h1M32 351h1M38 351h1M40 351h1M43 351h1M50 351h1M58 351h1M64 351h1M67 351h1M72 351h5M81 351h1M83 351h1M86 351h1M90 351h1M1 352h1M3 352h1M7 352h1M12 352h1M17 352h1M19 352h1M22 352h2M26 352h1M29 352h4M37 352h1M40 352h1M43 352h2M49 352h1M59 352h2M63 352h1M76 352h1M83 352h1M86 352h1M90 352h1M0 353h2M3 353h1M8 353h1M12 353h1M15 353h2M19 353h1M22 353h1M26 353h1M28 353h1M30 353h1M34 353h1M40 353h1M47 353h1M53 353h1M61 353h1M63 353h1M65 353h2M69 353h1M76 353h1M81 353h1M88 353h1M90 353h1M9 354h1M81 354h1M19 355h1M79 355h3M9 356h1M81 356h1M85 356h2M0 357h1M78 357h1M81 357h1M84 357h1M19 358h1M21 358h1M47 358h1M80 358h1M84 358h3M10 360h1M19 360h1M78 360h1M80 360h1M83 360h1M86 360h1M47 361h1M79 361h1M86 361h1M0 362h1M21 362h1M79 362h1M85 362h1M0 363h1M9 363h1M25 363h1M44 363h1M79 363h1M81 363h1M84 364h1M86 364h1M25 365h1M36 365h1M79 365h2M84 365h1M86 365h1M3 366h2M6 366h1M33 366h2M51 366h1M87 366h1M1 367h2M7 367h1M16 367h1M20 367h1M24 367h1M33 367h1M36 367h1M65 367h1M72 367h1M83 367h1M90 367h1M4 368h2M7 368h1M16 368h1M25 368h1M36 368h1M46 368h2M50 368h1M61 368h1M64 368h1M67 368h1M72 368h3M78 368h1M3 369h1M6 369h1M12 369h1M16 369h1M18 369h1M23 369h1M26 369h1M31 369h1M36 369h1M46 369h1M59 369h1M90 369h1M8 370h1M17 370h1M21 370h1M35 370h1M39 370h1M59 370h1M62 370h1M64 370h2M68 370h1M71 370h3M83 370h1M86 370h1M9 371h2M17 371h1M31 371h3M38 371h1M60 371h1M64 371h1M67 371h1M80 371h1M88 371h1M1 372h1M4 372h1M12 372h1M33 372h1M39 372h1M44 372h1M48 372h1M52 372h1M73 372h1M1 373h2M4 373h1M43 373h2M48 373h1M52 373h1M60 373h1M64 373h1M68 373h1M75 373h1M0 374h1M10 374h1M12 374h1M24 374h1M37 374h1M46 374h1M64 374h1M5 375h1M10 375h1M29 375h1M43 375h1M63 375h1M74 375h1M88 376h1M20 377h1M22 377h1M26 377h1M76 377h1M88 377h1M3 379h1M17 379h1M33 379h1M49 379h1M60 379h1M67 379h1M76 379h1M15 380h2M32 380h1M45 380h1M1 381h1M43 381h1M46 381h1M48 381h1M64 381h3M74 381h1M76 381h1M1 382h1M5 382h3M14 382h1M24 382h1M28 382h1M34 382h2M40 382h1M65 382h1M67 382h1M69 382h1M75 382h1M90 382h1M6 383h1M18 383h1M20 383h1M24 383h1M37 383h2M51 383h1M7 384h1M12 384h1M42 384h1M48 384h1M7 385h1M67 385h1M23 386h1M44 386h1M67 391h1M90 391h1M47 392h1M23 393h1M14 394h1M16 394h1M26 394h1M40 394h1M42 394h2M73 394h1M90 394h1M17 395h1M19 395h1M26 395h1M75 395h1M18 396h1M32 396h1M36 397h1M90 397h1M5 398h1M12 398h1M33 398h1M90 398h1"/>
<path stroke="#3c4ea5" d="M0 0h1M90 2h1M18 6h1M52 6h1M18 7h1M75 7h1M4 8h1M26 8h1M49 8h1M73 10h1M2 11h1M10 11h1M21 11h1M25 11h1M32 11h1M39 11h2M43 11h2M46 11h1M48 11h1M54 11h1M56 11h1M61 11h2M74 11h1M90 11h1M1 12h1M7 12h1M14 12h1M17 12h1M26 12h2M35 12h4M40 12h2M45 12h1M47 12h1M51 12h1M55 12h1M59 12h1M63 12h1M66 12h1M73 12h2M90 12h1M3 13h1M14 13h2M17 13h1M19 13h1M22 13h1M24 13h2M27 13h1M34 13h3M39 13h1M42 13h1M44 13h1M46 13h1M49 13h1M51 13h1M58 13h1M66 13h1M69 13h2M75 13h1M1 14h1M3 14h1M18 14h1M25 14h2M34 14h1M39 14h1M43 14h6M53 14h1M57 14h1M62 14h1M66 14h2M69 14h1M76 14h1M88 14h1M65 15h1M72 15h1M2 17h1M34 17h1M51 17h1M7 18h1M16 18h1M18 18h1M21 18h1M26 18h1M32 18h2M36 18h1M40 18h1M43 18h1M46 18h1M48 18h1M55 18h2M66 18h1M69 18h2M76 18h1M1 19h1M6 19h1M8 19h1M11 19h1M13 19h1M15 19h1M18 19h1M22 19h1M24 19h2M27 19h2M31 19h1M36 19h2M41 19h3M46 19h1M50 19h1M52 19h1M55 19h1M58 19h1M60 19h1M62 19h2M68 19h1M73 19h1M75 19h1M9 20h1M12 20h1M14 20h1M19 20h2M23 20h1M26 20h2M33 20h1M35 20h3M41 20h4M47 20h1M51 20h1M54 20h1M58 20h1M61 20h1M63 20h2M66 20h1M69 20h2M75 20h1M88 20h1M0 21h1M2 21h2M5 21h1M7 21h1M12 21h2M32 21h3M37 21h1M39 21h2M42 21h1M44 21h1M49 21h1M53 21h1M55 21h1M62 21h1M64 21h1M66 21h1M69 21h1M74 21h1M76 21h1M2 22h3M16 22h1M22 22h1M29 22h1M32 22h1M35 22h1M38 22h1M44 22h1M46 22h1M49 22h1M54 22h1M59 22h1M61 22h1M65 22h3M70 22h2M75 22h1M6 23h4M13 23h1M16 23h1M21 23h2M33 23h1M43 23h2M51 23h1M57 23h1M61 23h1M69 23h1M75 23h2M90 23h1M35 24h1M37 24h1M46 24h1M72 24h1M71 25h1M61 26h1M73 26h1M4 28h1M69 33h1M12 45h1M21 45h1M43 47h1M73 47h1M19 57h1M73 59h1M9 60h1M52 63h1M60 72h1M73 78h1M72 79h1M43 82h1M21 88h1M46 91h1M17 92h1M67 92h1M8 96h1M12 99h1M31 99h1M28 101h1M62 101h1M6 103h1M9 103h2M24 103h2M40 103h1M90 103h1M2 104h4M10 104h1M15 104h1M17 104h1M28 104h1M31 104h2M34 104h2M39 104h1M42 104h1M46 104h2M49 104h1M0 105h1M3 105h1M7 105h1M15 105h1M23 105h1M26 105h1M31 105h1M35 105h1M38 105h1M49 105h1M78 105h1M2 106h1M6 106h1M9 106h1M11 106h1M16 106h1M20 106h1M22 106h3M26 106h1M36 106h1M46 106h1M77 106h2M81 106h1M87 106h1M7 107h1M17 107h2M22 107h1M26 107h1M32 107h1M34 107h1M39 107h1M42 107h1M44 107h3M60 107h1M78 107h1M1 108h1M3 108h1M5 108h2M9 108h2M14 108h1M17 108h1M21 108h1M25 108h1M39 108h2M45 108h1M47 108h1M53 108h1M65 108h1M80 108h1M90 108h1M12 109h1M22 109h1M27 109h2M30 109h1M32 109h1M35 109h2M43 109h1M78 109h1M2 110h1M4 110h1M7 110h2M11 110h1M16 110h1M25 110h1M28 110h1M32 110h2M38 110h1M41 110h2M47 110h1M20 112h1M4 113h2M8 113h1M18 113h1M23 113h1M29 113h1M35 113h1M38 113h1M53 113h1M56 113h1M71 113h1M88 113h1M13 114h1M16 114h1M20 114h1M25 114h1M29 114h2M32 114h2M40 114h1M45 114h1M47 114h1M56 114h1M59 114h1M64 114h1M75 114h2M5 115h1M11 115h1M15 115h1M20 115h1M26 115h1M29 115h1M32 115h1M40 115h2M49 115h1M51 115h1M53 115h1M55 115h1M59 115h1M65 115h1M68 115h1M73 115h1M76 115h1M88 115h1M0 116h1M2 116h1M7 116h1M10 116h3M26 116h1M30 116h1M36 116h1M45 116h1M52 116h1M57 116h1M63 116h2M68 116h1M75 116h1M2 117h1M6 117h1M9 117h5M22 117h1M26 117h1M38 117h1M51 117h1M54 117h2M63 117h1M68 118h1M46 119h1M52 120h1M63 121h1M76 121h1M30 123h1M36 124h1M73 124h1M9 126h1M15 126h1M36 126h1M45 126h1M24 130h1M90 130h1M12 131h1M90 131h1M18 133h1M72 133h1M5 134h1M90 136h1M73 137h1M90 137h1M73 138h1M73 139h1M90 139h1M90 140h1M17 141h1M90 141h1M73 142h1M90 143h1M8 144h1M10 144h2M19 144h1M22 144h1M37 144h1M39 144h1M45 144h1M49 144h2M52 144h1M56 144h1M65 144h1M88 144h1M2 145h1M6 145h1M13 145h1M20 145h1M28 145h2M31 145h2M38 145h1M41 145h2M46 145h3M52 145h1M54 145h1M56 145h1M59 145h2M66 145h1M75 145h1M1 146h1M5 146h1M9 146h1M12 146h1M21 146h1M24 146h1M29 146h1M38 146h2M54 146h1M58 146h1M61 146h2M71 146h1M76 146h1M88 146h1M11 147h1M14 147h1M29 147h2M32 147h2M37 147h1M40 147h1M44 147h1M54 147h1M62 147h1M75 147h1M0 148h1M2 148h1M8 148h1M17 148h1M21 148h1M27 148h1M31 148h1M34 148h2M48 148h1M50 148h2M54 148h1M57 148h2M0 149h1M9 149h1M15 149h1M23 149h1M27 149h1M36 149h1M46 149h1M49 149h1M55 149h2M58 149h1M61 149h1M65 149h1M68 149h1M74 149h1M3 150h2M9 150h1M16 150h1M18 150h1M20 150h1M24 150h1M33 150h1M36 150h1M39 150h2M48 150h1M52 150h1M57 150h1M59 150h1M68 150h1M88 150h1M5 151h1M12 151h1M23 151h1M29 151h1M33 151h1M35 151h1M38 151h1M45 151h1M63 151h1M2 152h1M8 152h1M23 152h1M26 152h1M33 152h1M41 152h1M47 152h2M53 152h1M63 152h1M75 152h2M90 152h1M0 153h1M15 153h1M18 153h1M23 153h1M28 153h1M45 153h2M49 153h1M51 153h1M55 153h1M17 154h1M21 154h4M33 154h1M39 154h1M41 154h1M43 154h1M46 154h1M48 154h1M50 154h2M61 154h1M88 154h1M90 154h1M11 155h1M18 155h1M21 155h1M25 155h1M39 155h1M44 155h2M48 155h1M57 155h2M70 155h1M90 155h1M2 156h1M5 156h1M7 156h1M10 156h1M25 156h2M39 156h2M5 157h1M10 157h1M18 157h1M25 157h1M29 157h1M32 157h1M35 157h1M67 157h1M18 158h1M22 158h1M32 158h2M41 158h3M49 158h1M73 158h1M4 159h1M10 159h1M13 159h1M18 159h1M30 159h2M33 159h1M40 159h1M42 159h1M59 159h1M62 159h1M69 159h1M1 160h1M12 160h1M16 160h1M18 160h1M20 160h1M26 160h1M32 160h2M37 160h1M40 160h1M47 160h1M49 160h1M60 160h2M68 160h1M74 160h1M0 161h1M3 161h1M5 161h1M8 161h1M18 161h1M21 161h1M27 161h1M32 161h1M41 161h2M46 161h1M58 161h1M67 161h1M72 161h2M75 161h1M0 162h1M4 162h1M15 162h2M21 162h1M27 162h1M29 162h1M45 162h1M48 162h1M53 162h1M56 162h3M71 162h1M76 162h1M4 163h1M25 163h1M35 163h1M43 163h2M52 163h1M58 163h1M65 163h1M2 164h2M13 164h1M35 164h1M41 164h1M47 164h1M49 164h1M53 164h1M63 164h1M74 164h1M88 164h1M16 165h2M21 165h1M27 165h2M31 165h1M33 165h2M36 165h1M47 165h1M51 165h1M53 165h1M57 165h1M62 165h3M69 165h1M72 165h1M74 165h1M88 165h1M90 165h1M0 166h1M9 166h1M17 166h1M19 166h1M31 166h1M36 166h2M46 166h1M53 166h1M61 166h1M65 166h2M68 166h1M90 166h1M1 167h1M8 167h2M24 167h1M29 167h1M32 167h1M36 167h1M49 167h2M58 167h1M65 167h1M71 167h1M73 167h2M76 167h1M18 175h1M80 181h1M86 181h1M68 182h1M77 182h1M81 182h2M77 183h1M80 183h2M83 183h1M86 183h2M75 184h1M77 184h1M81 184h1M84 184h1M87 184h1M89 184h1M44 185h1M48 185h1M53 185h1M65 185h1M73 185h1M85 185h2M59 186h1M80 186h1M83 186h5M73 187h1M78 187h1M83 187h1M89 187h1M78 188h1M80 188h3M84 188h1M86 188h1M89 188h1M52 189h1M72 189h1M80 189h1M79 190h2M82 190h1M84 190h1M77 191h1M79 191h3M83 191h4M61 193h1M77 193h1M79 193h1M82 193h1M89 193h1M77 194h1M82 194h1M85 194h1M87 194h1M90 194h1M77 195h1M84 195h1M80 196h1M82 196h2M86 196h1M48 197h1M77 197h1M81 197h3M85 197h2M77 198h1M80 198h1M84 198h2M83 199h1M86 199h1M80 200h1M82 200h1M85 200h2M17 201h1M30 203h1M46 209h1M31 210h1M49 211h1M73 213h1M19 219h1M90 219h1M86 220h1M5 221h1M67 221h1M84 223h1M77 224h1M79 224h2M83 224h2M89 224h1M77 225h1M83 225h4M46 226h1M79 226h1M79 227h1M83 227h1M83 228h1M85 228h1M87 228h1M79 229h1M85 229h1M8 230h1M18 230h1M72 230h1M77 230h1M85 230h1M87 230h1M77 231h1M80 231h2M86 231h1M77 232h1M79 232h2M89 232h1M77 233h1M86 233h1M78 234h1M87 234h1M47 236h1M73 236h1M67 237h1M75 238h1M67 239h1M28 240h1M63 240h1M76 240h1M90 240h1M16 241h1M51 241h1M72 242h1M46 243h1M67 243h1M80 243h1M82 243h1M86 244h1M89 244h2M79 245h2M82 245h1M85 245h2M89 245h1M63 246h1M65 246h1M78 246h1M81 246h1M84 247h1M79 251h1M82 252h1M80 253h1M84 253h1M46 254h1M77 254h1M80 254h1M82 254h1M85 254h2M68 255h1M26 256h1M43 256h1M52 256h1M63 256h1M12 257h1M48 258h1M34 260h1M40 260h1M46 260h1M47 261h1M86 262h1M15 263h1M32 264h1M53 264h1M54 266h1M46 268h1M74 269h1M86 269h1M26 270h1M82 271h1M3 273h2M11 273h1M13 273h1M16 273h1M28 273h1M30 273h1M37 273h1M40 273h1M46 273h3M84 273h1M86 273h1M90 273h1M2 274h1M7 274h1M10 274h1M13 274h1M15 274h1M23 274h1M37 274h1M42 274h1M46 274h1M48 274h1M3 275h1M7 275h1M11 275h1M15 275h2M23 275h1M28 275h1M30 275h1M33 275h1M38 275h3M42 275h1M47 275h3M87 275h1M7 276h3M16 276h1M23 276h1M28 276h1M32 276h1M36 276h2M39 276h1M41 276h1M45 276h1M47 276h3M86 276h1M90 276h1M2 277h3M8 277h2M13 277h1M16 277h1M28 277h1M32 277h2M36 277h2M40 277h2M45 277h1M47 277h1M84 277h1M86 277h1M90 277h1M3 278h2M9 278h2M15 278h1M29 278h2M33 278h1M36 278h2M39 278h3M48 278h1M86 278h1M2 279h3M9 279h2M13 279h1M15 279h1M28 279h3M34 279h3M38 279h3M47 279h3M63 279h1M86 279h2M36 280h1M88 280h1M9 283h1M33 284h1M35 284h1M73 284h1M21 291h1M31 291h1M46 291h1M49 292h1M16 293h1M18 293h1M72 293h1M90 293h1M67 296h1M43 297h1M49 298h1M89 299h1M78 301h1M87 301h1M78 302h2M83 302h2M86 302h1M78 303h2M81 303h1M83 303h2M86 303h1M79 304h1M81 304h2M85 304h1M87 304h1M79 305h1M81 305h1M83 305h1M87 305h1M79 306h1M83 306h2M77 307h1M79 307h4M87 307h1M84 308h1M80 309h1M82 309h1M85 309h1M80 310h1M87 310h1M78 311h3M82 311h2M77 312h1M79 312h2M82 312h1M84 312h2M73 313h1M77 313h1M79 313h2M42 314h1M80 314h1M83 314h1M76 315h1M80 315h1M82 315h1M85 315h1M87 315h1M82 316h1M86 316h1M77 317h1M81 317h1M84 317h1M79 318h1M81 318h1M86 318h1M43 319h1M75 319h1M77 319h1M81 319h3M19 320h1M78 320h1M81 320h2M84 320h1M87 320h1M77 321h2M80 321h1M83 321h2M89 321h1M16 322h1M77 322h1M81 322h1M83 322h1M31 323h1M57 323h1M72 324h1M64 328h1M67 329h1M46 330h1M89 330h1M90 334h1M17 335h1M67 336h1M67 337h1M90 338h1M16 339h1M72 339h1M46 340h1M73 340h1M73 341h1M67 343h1M90 343h1M16 344h1M46 344h1M73 344h1M0 345h5M6 345h2M15 345h1M17 345h1M19 345h2M23 345h1M25 345h1M30 345h2M35 345h1M37 345h2M40 345h1M48 345h1M51 345h2M58 345h1M70 345h2M73 345h1M0 346h1M4 346h1M6 346h1M10 346h2M13 346h2M20 346h1M25 346h3M29 346h4M34 346h3M39 346h2M44 346h1M46 346h1M48 346h1M53 346h1M61 346h1M63 346h1M65 346h1M68 346h1M75 346h1M81 346h1M0 347h2M6 347h1M8 347h1M12 347h1M15 347h1M18 347h3M28 347h1M32 347h2M38 347h1M40 347h1M48 347h2M52 347h1M56 347h5M63 347h1M65 347h3M71 347h1M76 347h1M78 347h1M82 347h1M88 347h2M0 348h1M4 348h1M11 348h1M16 348h1M21 348h1M30 348h1M36 348h3M40 348h1M42 348h1M45 348h1M48 348h1M50 348h1M52 348h1M57 348h1M59 348h1M62 348h4M67 348h2M71 348h1M73 348h2M78 348h3M83 348h1M86 348h2M0 349h1M5 349h2M9 349h1M11 349h1M13 349h2M25 349h2M29 349h2M32 349h1M40 349h1M42 349h3M49 349h1M52 349h1M54 349h1M57 349h1M61 349h1M69 349h1M71 349h1M73 349h1M76 349h1M80 349h1M86 349h1M0 350h2M3 350h1M7 350h1M9 350h1M11 350h1M15 350h1M17 350h1M19 350h1M22 350h1M24 350h2M27 350h1M31 350h3M35 350h3M43 350h1M47 350h1M50 350h2M62 350h1M65 350h1M67 350h3M73 350h2M82 350h1M87 350h1M3 351h1M9 351h1M12 351h1M17 351h1M21 351h2M25 351h1M29 351h1M33 351h1M35 351h2M39 351h1M42 351h1M45 351h1M47 351h3M52 351h2M57 351h1M59 351h2M65 351h1M68 351h2M78 351h1M80 351h1M88 351h1M0 352h1M4 352h2M8 352h2M13 352h1M15 352h1M20 352h1M25 352h1M27 352h1M34 352h1M36 352h1M38 352h1M42 352h1M53 352h1M56 352h1M58 352h1M61 352h2M65 352h1M67 352h3M71 352h5M79 352h3M87 352h2M2 353h1M4 353h2M7 353h1M9 353h1M14 353h1M17 353h1M20 353h1M23 353h3M31 353h1M33 353h1M36 353h3M45 353h2M50 353h1M54 353h1M58 353h2M64 353h1M71 353h1M73 353h1M75 353h1M78 353h3M87 353h1M0 354h1M3 354h2M10 354h1M14 354h1M21 354h1M30 354h1M35 354h1M37 354h2M40 354h2M43 354h1M47 354h2M50 354h1M78 354h3M83 354h1M85 354h2M88 354h1M0 355h1M3 355h2M9 355h1M21 355h2M25 355h1M35 355h1M41 355h1M44 355h1M77 355h2M83 355h3M0 356h1M2 356h2M10 356h1M19 356h1M30 356h1M40 356h2M89 356h1M2 357h2M10 357h1M19 357h1M21 357h1M31 357h1M36 357h1M43 357h2M47 357h1M79 357h2M85 357h2M89 357h1M0 358h1M2 358h3M10 358h1M13 358h1M27 358h1M30 358h2M36 358h1M38 358h1M40 358h1M44 358h1M78 358h1M81 358h1M2 359h1M4 359h1M19 359h1M21 359h1M26 359h1M30 359h1M35 359h1M40 359h1M44 359h1M78 359h1M80 359h1M83 359h1M86 359h1M89 359h1M2 360h3M9 360h1M22 360h1M28 360h1M30 360h1M35 360h1M37 360h1M40 360h1M48 360h1M77 360h1M79 360h1M81 360h1M84 360h1M89 360h1M3 361h2M9 361h2M14 361h1M21 361h1M25 361h2M31 361h1M35 361h1M40 361h2M43 361h2M48 361h1M83 361h1M85 361h1M3 362h4M10 362h1M19 362h1M22 362h1M25 362h2M30 362h2M35 362h3M41 362h1M44 362h1M47 362h2M74 362h1M80 362h3M86 362h1M88 362h1M1 363h1M3 363h2M10 363h1M14 363h1M16 363h1M19 363h1M21 363h1M30 363h2M36 363h2M41 363h1M48 363h1M51 363h1M77 363h1M82 363h1M85 363h2M0 364h1M2 364h1M14 364h1M19 364h1M21 364h1M25 364h2M30 364h2M36 364h1M43 364h2M48 364h1M78 364h2M81 364h1M85 364h1M87 364h1M1 365h5M9 365h2M21 365h1M26 365h1M28 365h1M30 365h1M35 365h1M37 365h2M40 365h2M47 365h2M78 365h1M81 365h1M85 365h1M0 366h1M2 366h1M9 366h2M13 366h3M17 366h2M20 366h2M23 366h1M31 366h1M38 366h2M42 366h2M47 366h1M52 366h1M54 366h1M58 366h1M64 366h1M67 366h1M74 366h1M80 366h1M90 366h1M3 367h1M5 367h1M8 367h3M14 367h2M23 367h1M26 367h1M31 367h1M34 367h2M37 367h1M39 367h5M47 367h2M50 367h1M52 367h2M59 367h1M62 367h2M67 367h1M73 367h1M88 367h1M1 368h1M3 368h1M6 368h1M8 368h1M10 368h1M12 368h1M15 368h1M18 368h2M21 368h2M30 368h3M35 368h1M37 368h2M42 368h3M49 368h1M51 368h2M58 368h2M62 368h2M69 368h1M77 368h1M90 368h1M2 369h1M4 369h2M11 369h1M14 369h1M17 369h1M19 369h1M24 369h1M30 369h1M33 369h1M40 369h1M44 369h2M49 369h1M60 369h2M64 369h1M67 369h1M76 369h1M78 369h1M0 370h1M3 370h2M7 370h1M9 370h1M12 370h1M14 370h2M20 370h1M23 370h3M27 370h1M30 370h1M34 370h1M38 370h1M41 370h1M43 370h1M48 370h1M52 370h1M55 370h1M74 370h1M76 370h1M0 371h1M2 371h1M4 371h1M13 371h2M18 371h1M23 371h1M26 371h1M28 371h1M35 371h3M46 371h1M49 371h4M59 371h1M66 371h1M68 371h1M71 371h1M75 371h2M79 371h1M7 372h1M18 372h1M23 372h1M25 372h1M32 372h1M49 372h1M55 372h1M3 373h1M12 373h2M15 373h1M21 373h1M24 373h1M46 373h1M66 373h1M73 373h1M8 374h2M14 374h1M17 374h1M19 374h1M61 374h1M11 375h2M25 375h1M35 375h1M41 375h1M46 375h1M71 375h1M73 375h1M75 375h1M88 375h1M19 376h1M27 376h1M36 376h2M43 376h1M48 376h1M50 376h1M67 376h1M2 377h2M6 377h1M9 377h1M14 377h1M18 377h1M43 377h1M52 377h1M54 377h1M68 377h1M70 377h1M3 378h1M5 378h1M8 378h1M14 378h1M16 378h1M18 378h1M22 378h2M26 378h1M31 378h1M25 379h1M53 379h1M64 379h1M19 380h1M40 380h1M42 380h1M47 380h2M53 380h1M64 380h1M72 380h1M7 381h1M11 381h2M20 381h1M24 381h1M38 381h1M40 381h1M42 381h1M49 381h1M53 381h1M62 381h1M90 381h1M0 382h1M8 382h1M16 382h2M23 382h1M42 382h1M45 382h1M52 382h1M10 383h1M16 383h2M70 383h1M1 384h1M17 384h1M24 384h1M43 384h1M61 384h1M17 385h1M25 385h1M33 385h1M46 385h1M5 386h1M22 386h1M46 388h1M63 389h1M90 389h1M90 390h1M2 392h1M6 392h1M18 392h1M22 392h1M30 392h1M37 392h1M52 392h1M58 392h3M75 392h1M90 392h1M4 393h1M44 393h1M46 393h1M51 393h1M63 393h1M75 393h1M90 393h1M2 394h1M7 394h1M11 394h1M15 394h1M24 394h1M28 394h1M32 394h1M36 394h1M52 394h1M58 394h1M11 395h2M20 395h1M34 395h1M37 395h1M42 395h1M47 395h1M49 395h1M90 395h1M0 396h1M10 396h1M14 396h2M42 396h1M63 396h2M67 396h1M8 397h1M11 397h1M16 397h2M22 397h1M30 397h1M43 397h1M46 397h1M50 397h1M57 397h1M4 398h1M16 398h1M28 398h1M68 398h1M76 398h1"/>
<path stroke="#4852a9" d="M12 0h1M53 0h1M4 1h1M16 1h1M38 1h1M9 2h1M20 2h1M65 2h1M63 3h1M71 4h1M90 4h1M14 6h1M40 6h1M63 6h1M74 6h1M0 7h1M3 7h1M9 7h1M17 7h1M19 7h1M22 7h1M32 7h1M30 8h1M32 8h1M17 9h1M16 10h2M26 10h1M47 10h1M72 10h1M3 11h2M11 11h2M14 11h3M22 11h1M28 11h1M31 11h1M34 11h2M41 11h2M50 11h4M55 11h1M69 11h1M71 11h2M2 12h5M12 12h2M16 12h1M23 12h1M28 12h2M48 12h2M57 12h1M72 12h1M0 13h1M4 13h2M7 13h2M11 13h1M13 13h1M20 13h2M30 13h1M32 13h2M48 13h1M53 13h1M56 13h1M67 13h1M71 13h1M73 13h2M76 13h1M4 14h1M6 14h2M9 14h1M15 14h1M19 14h1M35 14h2M49 14h1M51 14h1M56 14h1M61 14h1M68 14h1M10 17h1M32 17h1M61 17h1M67 17h1M0 18h2M3 18h1M5 18h2M9 18h2M13 18h3M25 18h1M28 18h1M30 18h2M37 18h1M42 18h1M50 18h1M53 18h2M57 18h1M59 18h1M64 18h2M67 18h2M72 18h1M88 18h1M3 19h1M5 19h1M12 19h1M20 19h2M29 19h1M39 19h1M54 19h1M56 19h1M61 19h1M65 19h1M71 19h2M74 19h1M6 20h1M10 20h1M21 20h2M24 20h1M29 20h1M32 20h1M48 20h1M50 20h1M56 20h1M65 20h1M81 20h1M90 20h1M9 21h1M11 21h1M14 21h2M19 21h1M23 21h1M27 21h1M29 21h1M31 21h1M48 21h1M54 21h1M59 21h1M61 21h1M63 21h1M65 21h1M70 21h1M72 21h1M75 21h1M5 22h3M11 22h1M13 22h2M18 22h1M23 22h1M28 22h1M33 22h1M41 22h2M55 22h1M62 22h1M68 22h2M74 22h1M76 22h1M88 22h1M12 23h1M14 23h2M20 23h1M27 23h1M32 23h1M35 23h1M41 23h2M50 23h1M53 23h1M65 23h1M70 23h1M74 23h1M88 23h1M17 24h1M31 24h1M28 25h1M37 25h2M46 25h1M49 25h1M59 25h1M4 26h1M21 26h1M46 26h1M17 27h1M46 27h1M90 27h1M43 28h1M4 30h1M32 30h1M41 30h1M63 30h1M4 31h2M19 31h1M30 31h1M16 32h1M90 32h1M1 34h1M19 34h1M30 35h1M40 35h1M40 36h1M37 37h1M39 38h1M53 38h1M8 39h1M67 39h1M32 41h1M46 42h1M17 45h1M36 47h1M46 47h1M72 47h1M41 48h1M4 49h1M38 50h1M67 50h1M47 52h1M56 54h1M76 54h1M16 55h1M34 55h1M59 55h1M11 57h1M18 57h1M10 58h1M61 58h1M3 59h1M17 59h2M26 60h1M30 60h1M37 60h1M41 60h1M26 61h1M20 62h1M25 62h1M44 63h1M46 63h1M64 63h1M4 64h1M71 64h1M26 69h1M52 71h1M2 74h1M34 74h1M72 74h1M25 76h1M31 76h1M72 76h1M40 77h1M71 77h1M5 78h1M7 78h1M73 79h1M90 80h1M1 84h1M2 85h1M17 85h1M72 85h1M14 86h1M37 86h1M46 87h1M17 88h1M46 88h1M37 89h1M43 91h1M59 91h1M68 91h1M4 92h1M16 92h1M33 92h1M49 92h1M90 92h1M0 93h1M16 93h1M42 93h1M63 93h1M88 93h1M31 95h1M3 96h1M5 96h1M10 96h1M15 96h1M17 96h1M25 96h1M30 96h1M32 96h1M37 96h2M65 96h1M69 96h1M73 96h1M76 96h1M15 97h1M30 97h1M52 98h1M10 99h1M21 99h1M20 100h1M23 100h1M46 100h1M59 100h1M24 101h1M67 101h1M22 102h1M1 103h1M3 103h1M5 103h1M7 103h1M11 103h2M15 103h1M21 103h2M37 103h1M44 103h2M47 103h2M50 103h1M68 103h1M11 104h1M14 104h1M18 104h1M22 104h1M30 104h1M36 104h1M43 104h1M77 104h2M2 105h1M4 105h1M6 105h1M8 105h5M28 105h2M34 105h1M36 105h1M39 105h1M41 105h2M63 105h1M77 105h1M82 105h1M87 105h1M0 106h1M10 106h1M12 106h2M18 106h1M27 106h2M35 106h1M37 106h1M40 106h1M43 106h3M58 106h1M65 106h1M68 106h1M88 106h1M90 106h1M1 107h1M4 107h1M9 107h1M13 107h1M15 107h1M19 107h1M21 107h1M29 107h1M40 107h2M0 108h1M4 108h1M8 108h1M12 108h1M18 108h1M20 108h1M24 108h1M31 108h1M33 108h1M35 108h1M44 108h1M77 108h2M5 109h1M11 109h1M13 109h1M18 109h1M23 109h1M41 109h2M57 109h1M59 109h1M80 109h1M88 109h1M1 110h1M10 110h1M13 110h1M19 110h1M21 110h1M34 110h2M37 110h1M43 110h2M46 110h1M17 111h1M30 111h1M36 111h1M55 111h1M64 111h1M69 111h1M72 111h1M10 112h1M3 113h1M9 113h1M13 113h1M20 113h3M26 113h3M31 113h2M36 113h1M39 113h1M42 113h2M45 113h1M51 113h2M62 113h1M64 113h1M67 113h1M70 113h1M72 113h1M74 113h2M77 113h1M84 113h1M90 113h1M1 114h1M3 114h1M8 114h1M12 114h1M27 114h2M36 114h1M38 114h1M46 114h1M48 114h1M50 114h1M60 114h1M66 114h1M68 114h1M74 114h1M90 114h1M1 115h1M8 115h1M13 115h1M37 115h1M45 115h2M52 115h1M54 115h1M57 115h1M60 115h1M75 115h1M17 116h2M20 116h1M22 116h1M24 116h1M29 116h1M50 116h1M56 116h1M70 116h4M90 116h1M14 117h1M18 117h1M20 117h1M25 117h1M33 117h1M44 117h1M64 117h1M67 117h1M88 117h1M90 117h1M16 118h1M46 118h1M12 119h1M16 120h2M46 120h1M46 121h1M32 122h1M9 123h1M19 123h1M29 123h1M46 123h1M59 124h1M89 124h1M16 125h1M70 125h1M64 126h1M67 126h1M90 126h1M17 127h1M30 127h1M43 127h1M51 127h1M62 127h1M68 127h1M90 127h1M3 128h1M5 128h1M17 128h1M72 128h1M23 130h1M30 130h1M53 130h1M61 130h1M73 130h1M41 131h1M46 131h1M63 131h1M68 131h1M76 131h1M25 132h1M62 132h1M73 132h1M2 133h1M12 133h1M19 133h1M18 134h1M40 134h1M63 134h1M68 134h1M16 135h1M67 135h1M73 135h1M16 136h2M26 136h1M31 136h1M43 136h1M46 136h1M72 136h2M16 137h1M46 137h1M76 137h1M46 138h1M64 138h1M67 138h2M90 138h1M46 139h1M67 139h1M17 140h1M67 140h1M73 140h1M72 141h2M46 142h1M67 142h1M90 142h1M43 143h1M67 143h1M72 143h2M1 144h2M4 144h1M25 144h1M30 144h1M42 144h2M51 144h1M53 144h1M55 144h1M57 144h1M59 144h1M61 144h2M69 144h2M73 144h3M9 145h1M12 145h1M22 145h1M24 145h1M33 145h1M37 145h1M40 145h1M44 145h1M53 145h1M55 145h1M58 145h1M61 145h3M65 145h1M74 145h1M88 145h1M90 145h1M10 146h1M20 146h1M22 146h1M35 146h1M37 146h1M40 146h2M46 146h1M50 146h1M55 146h1M60 146h1M72 146h1M0 147h3M4 147h1M7 147h2M15 147h1M21 147h2M25 147h1M36 147h1M41 147h1M45 147h1M52 147h2M57 147h1M66 147h1M68 147h1M6 148h2M10 148h1M12 148h1M22 148h1M24 148h1M36 148h1M39 148h1M49 148h1M53 148h1M56 148h1M64 148h1M67 148h1M69 148h1M76 148h1M90 148h1M7 149h1M10 149h1M13 149h1M28 149h1M30 149h1M32 149h1M59 149h1M62 149h1M70 149h1M0 150h1M6 150h1M11 150h1M15 150h1M17 150h1M22 150h1M32 150h1M42 150h1M44 150h4M51 150h1M55 150h1M65 150h1M67 150h1M71 150h1M74 150h2M90 150h1M3 151h2M11 151h1M15 151h1M17 151h1M19 151h1M47 151h1M53 151h2M62 151h1M64 151h2M72 151h1M88 151h1M1 152h1M4 152h1M6 152h1M12 152h1M29 152h1M35 152h3M40 152h1M42 152h1M45 152h1M60 152h1M62 152h1M64 152h1M67 152h1M71 152h1M1 153h1M3 153h1M7 153h1M13 153h1M17 153h1M19 153h1M22 153h1M32 153h3M36 153h1M38 153h1M40 153h2M48 153h1M61 153h1M71 153h1M73 153h1M76 153h1M1 154h2M4 154h1M7 154h2M11 154h1M19 154h1M25 154h1M29 154h1M32 154h1M42 154h1M44 154h1M52 154h1M54 154h2M62 154h2M65 154h1M68 154h1M70 154h1M72 154h1M3 155h1M7 155h1M9 155h2M12 155h1M20 155h1M26 155h1M29 155h1M33 155h2M41 155h1M49 155h1M54 155h1M61 155h1M65 155h1M71 155h1M74 155h1M3 156h1M6 156h1M13 156h1M18 156h2M21 156h1M32 156h1M37 156h1M41 156h1M62 156h1M64 156h1M67 156h1M2 157h1M11 157h1M14 157h1M19 157h1M24 157h1M28 157h1M33 157h1M37 157h1M41 157h1M45 157h1M47 157h1M63 157h1M1 158h1M14 158h1M16 158h1M23 158h2M26 158h2M30 158h1M35 158h1M38 158h1M44 158h1M46 158h1M57 158h1M62 158h1M64 158h1M90 158h1M0 159h3M7 159h3M15 159h1M20 159h1M22 159h1M34 159h1M38 159h1M41 159h1M44 159h1M51 159h4M57 159h2M68 159h1M71 159h1M75 159h2M90 159h1M0 160h1M5 160h1M7 160h1M22 160h1M24 160h1M28 160h1M43 160h1M45 160h1M52 160h1M56 160h1M58 160h2M62 160h1M73 160h1M88 160h1M1 161h1M11 161h1M13 161h1M15 161h3M19 161h1M26 161h1M29 161h1M31 161h1M38 161h3M44 161h1M49 161h1M62 161h2M71 161h1M90 161h1M5 162h1M9 162h2M12 162h1M20 162h1M22 162h1M26 162h1M28 162h1M30 162h1M35 162h2M39 162h2M42 162h1M49 162h1M54 162h1M65 162h1M90 162h1M7 163h1M11 163h1M21 163h2M27 163h1M29 163h1M31 163h1M38 163h2M50 163h1M53 163h1M60 163h1M62 163h1M64 163h1M66 163h1M5 164h1M12 164h1M15 164h1M31 164h1M34 164h1M37 164h1M45 164h1M51 164h2M57 164h2M61 164h1M65 164h2M71 164h2M75 164h1M3 165h1M5 165h1M25 165h1M38 165h1M43 165h1M54 165h1M58 165h1M75 165h1M2 166h1M13 166h1M22 166h1M39 166h1M42 166h1M47 166h1M49 166h2M52 166h1M57 166h1M59 166h1M62 166h1M64 166h1M69 166h1M72 166h1M74 166h1M88 166h1M0 167h1M4 167h1M6 167h1M18 167h2M21 167h1M30 167h2M38 167h1M43 167h1M48 167h1M52 167h1M56 167h1M63 167h1M69 167h2M72 167h1M26 168h1M70 169h1M64 170h1M73 170h1M62 171h1M71 171h2M76 171h1M86 171h1M89 171h1M49 172h1M52 172h1M55 172h1M71 172h1M44 173h1M49 173h1M76 173h1M79 173h1M34 174h1M64 174h1M72 175h1M90 175h1M17 176h1M72 176h1M17 177h1M21 178h1M43 178h1M38 180h1M74 180h1M33 181h1M43 181h1M48 181h1M77 181h1M84 181h2M59 182h1M76 182h1M79 182h1M84 182h4M75 183h1M78 183h2M85 183h1M78 184h2M83 184h1M10 185h1M63 185h1M81 185h2M87 185h1M44 186h1M53 186h1M72 186h1M78 186h2M90 186h1M0 187h1M62 187h2M80 187h1M85 187h1M90 187h1M0 188h1M38 188h1M32 189h1M49 189h1M71 189h1M87 189h1M90 189h1M77 190h2M81 190h1M83 190h1M86 190h1M33 191h1M64 191h1M82 191h1M16 192h1M61 192h1M84 192h1M89 192h1M16 193h1M36 193h1M63 193h1M78 193h1M80 193h1M83 193h1M86 193h1M17 194h1M43 194h1M46 194h1M66 194h1M70 194h1M80 194h1M83 194h1M21 195h1M54 195h1M63 195h1M67 195h1M79 195h1M82 195h1M87 195h1M77 196h1M84 196h2M90 196h1M32 197h1M79 197h1M84 197h1M89 197h1M67 198h1M78 198h1M81 198h2M87 198h1M46 199h1M78 199h1M81 199h2M57 200h1M78 200h1M84 200h1M89 200h1M21 202h1M52 202h1M21 203h1M68 203h1M74 203h1M76 203h1M57 204h1M67 204h1M68 205h1M26 208h1M51 209h2M54 209h1M72 210h1M38 211h1M46 212h1M51 212h1M73 212h1M32 213h1M75 213h1M31 215h1M48 215h2M84 215h1M90 215h1M35 216h1M49 216h1M76 216h1M52 217h1M68 217h1M54 218h1M68 218h1M64 219h1M72 219h2M3 220h1M19 220h1M25 220h1M27 220h1M57 220h1M19 221h1M48 221h1M61 221h1M16 222h1M24 222h1M56 222h1M63 222h2M67 222h1M76 222h1M3 223h1M82 223h1M86 223h2M89 223h1M30 224h1M73 224h1M81 224h2M85 224h2M54 225h1M78 225h1M87 225h1M43 226h1M72 226h1M78 226h1M80 226h1M0 227h1M18 227h1M26 227h1M37 227h1M48 227h1M55 227h1M71 227h1M12 228h1M24 228h1M39 228h1M48 228h1M65 228h1M80 228h1M84 228h1M89 228h1M7 229h1M26 229h1M37 229h1M46 229h1M63 229h1M72 229h1M74 229h1M89 229h1M2 230h1M40 230h1M83 230h2M19 231h1M31 231h1M48 231h1M50 231h1M84 231h1M87 231h1M61 232h1M81 232h1M83 232h1M85 232h1M90 232h1M19 233h1M59 233h1M73 233h1M78 233h1M83 233h1M85 233h1M80 234h1M89 234h1M90 235h1M59 236h1M77 236h1M54 237h1M12 238h1M12 239h1M52 239h1M13 240h1M16 240h1M40 240h2M52 240h1M13 241h1M18 241h1M64 241h1M68 241h1M72 241h1M53 242h1M61 242h1M3 243h1M50 243h1M65 243h1M74 243h1M76 243h1M54 244h1M4 245h1M40 245h1M81 245h1M87 245h1M26 246h1M75 246h1M85 246h1M89 246h2M78 247h1M82 247h1M18 250h1M3 251h1M28 251h1M40 251h1M73 251h1M77 251h1M81 251h1M85 251h1M77 252h2M84 252h1M86 252h1M17 253h1M81 253h1M85 253h1M89 253h1M79 254h1M83 254h1M52 255h1M72 255h1M76 255h1M83 255h1M1 256h2M12 256h1M41 258h1M51 258h1M75 258h1M0 259h1M26 259h1M37 260h1M53 260h1M60 260h1M32 261h1M46 262h1M78 262h1M63 263h1M68 263h1M31 264h1M47 264h1M67 264h1M12 266h1M38 266h1M20 267h1M64 267h1M13 268h1M17 268h1M22 268h1M25 268h1M29 268h1M38 268h1M85 268h1M83 269h1M12 270h1M32 270h1M83 271h1M87 271h1M2 273h1M9 273h1M14 273h1M23 273h1M32 273h1M35 273h2M38 273h2M41 273h1M49 273h1M77 273h1M87 273h1M3 274h2M9 274h1M11 274h1M14 274h1M28 274h1M32 274h5M38 274h2M45 274h1M47 274h1M49 274h1M70 274h1M77 274h1M84 274h1M86 274h2M90 274h1M2 275h1M4 275h1M8 275h2M13 275h2M34 275h3M41 275h1M45 275h1M54 275h1M65 275h1M77 275h1M84 275h1M86 275h1M88 275h3M4 276h1M10 276h1M14 276h2M29 276h2M33 276h2M38 276h1M40 276h1M42 276h1M52 276h1M76 276h2M84 276h1M87 276h1M89 276h1M10 277h2M14 277h1M23 277h1M29 277h2M34 277h2M38 277h2M42 277h1M49 277h1M72 277h1M76 277h1M87 277h2M2 278h1M7 278h2M11 278h1M23 278h1M28 278h1M32 278h1M35 278h1M38 278h1M45 278h1M47 278h1M59 278h1M77 278h1M84 278h1M87 278h1M90 278h1M8 279h1M11 279h1M23 279h1M32 279h2M37 279h1M41 279h1M45 279h2M52 279h1M77 279h1M84 279h1M5 280h1M7 280h1M23 280h1M32 280h1M47 280h1M75 280h1M17 281h1M23 281h1M72 281h1M11 282h1M0 284h1M18 284h1M59 285h1M6 289h1M21 290h1M36 290h1M3 291h1M12 291h1M27 291h1M17 292h1M27 292h1M1 294h1M17 294h1M24 294h1M48 294h1M61 294h1M3 295h1M17 295h2M41 295h1M0 296h1M18 296h1M24 296h1M30 296h1M34 296h1M43 296h1M48 296h1M68 296h1M17 297h2M25 297h1M51 297h1M5 298h1M8 298h1M17 298h1M30 298h1M13 299h1M17 299h2M61 299h1M67 299h1M88 299h1M5 301h1M12 301h1M62 301h1M81 301h4M3 302h1M81 302h1M85 302h1M71 304h1M80 305h1M89 305h1M49 306h1M77 306h2M86 306h1M12 307h1M19 307h1M23 307h1M86 307h1M47 308h1M67 308h1M77 308h2M81 308h3M86 308h2M30 309h1M44 309h1M50 309h1M59 309h1M78 309h2M83 309h1M8 310h1M43 310h1M79 310h1M81 310h1M85 310h1M9 311h1M84 311h1M86 311h1M21 312h1M78 312h1M81 312h1M83 312h1M17 313h1M21 313h1M23 313h1M85 313h1M4 314h1M19 314h1M21 314h1M23 314h1M48 314h1M78 314h2M82 314h1M84 314h1M87 314h1M17 315h1M24 315h1M43 315h1M52 315h1M68 315h1M83 315h2M86 315h1M7 316h1M46 316h1M68 316h1M77 316h1M80 316h1M83 316h2M87 316h1M89 316h2M2 317h1M46 317h1M49 317h1M59 317h1M85 317h1M28 318h1M78 318h1M82 318h1M85 318h1M0 319h1M4 319h1M9 319h1M24 319h1M37 319h1M51 319h1M59 319h1M2 320h1M4 320h1M43 320h1M42 321h1M73 321h1M79 321h1M82 321h1M86 321h1M3 322h1M22 322h1M26 322h1M53 322h1M78 322h2M84 322h2M87 322h1M89 322h2M45 323h1M90 323h1M59 324h1M23 325h1M54 325h1M4 326h1M16 326h1M43 326h1M67 326h1M16 327h1M46 327h1M90 327h1M31 328h1M42 328h1M0 329h1M21 329h1M48 329h1M89 329h1M26 330h1M43 331h1M59 331h1M44 332h1M90 332h1M16 334h2M37 334h1M43 334h1M46 334h1M72 334h2M16 335h1M43 335h1M46 335h1M68 335h1M73 335h1M90 335h1M4 336h1M31 336h1M37 336h1M43 336h1M46 336h1M59 336h1M72 336h2M90 336h1M46 337h1M72 337h2M90 337h1M4 338h1M16 338h2M46 338h1M64 338h1M67 338h1M72 338h2M40 339h1M46 339h1M73 339h1M90 339h1M4 340h1M16 340h1M31 340h1M63 340h2M4 341h1M37 341h1M46 341h1M90 341h1M16 342h1M40 342h1M64 342h1M72 342h2M90 342h1M16 343h1M36 343h2M46 343h1M59 343h1M64 343h1M72 343h2M4 344h1M43 344h1M67 344h1M90 344h1M5 345h1M8 345h2M12 345h2M21 345h2M24 345h1M26 345h1M29 345h1M33 345h2M36 345h1M41 345h4M47 345h1M53 345h1M55 345h1M60 345h1M67 345h3M74 345h1M78 345h1M90 345h1M3 346h1M8 346h1M12 346h1M15 346h1M17 346h1M21 346h1M37 346h1M41 346h2M45 346h1M47 346h1M54 346h2M62 346h1M64 346h1M66 346h1M73 346h1M76 346h2M83 346h1M89 346h1M3 347h3M14 347h1M23 347h1M30 347h1M35 347h2M39 347h1M42 347h1M47 347h1M51 347h1M54 347h2M74 347h2M79 347h1M83 347h1M87 347h1M90 347h1M6 348h3M14 348h1M17 348h1M23 348h3M27 348h2M39 348h1M51 348h1M53 348h1M55 348h2M60 348h1M70 348h1M75 348h2M81 348h2M88 348h1M1 349h1M3 349h1M8 349h1M10 349h1M15 349h1M20 349h5M28 349h1M34 349h1M39 349h1M47 349h2M51 349h1M53 349h1M55 349h2M60 349h1M62 349h4M67 349h1M70 349h1M74 349h1M77 349h1M81 349h1M90 349h1M4 350h2M10 350h1M12 350h1M14 350h1M16 350h1M20 350h1M30 350h1M34 350h1M44 350h2M49 350h1M56 350h1M58 350h1M63 350h1M70 350h3M75 350h1M77 350h1M83 350h1M88 350h1M2 351h1M5 351h1M7 351h1M15 351h2M20 351h1M26 351h1M28 351h1M34 351h1M37 351h1M41 351h1M44 351h1M46 351h1M51 351h1M54 351h3M61 351h1M63 351h1M77 351h1M87 351h1M89 351h1M2 352h1M10 352h2M14 352h1M16 352h1M18 352h1M21 352h1M24 352h1M28 352h1M35 352h1M39 352h1M41 352h1M45 352h4M50 352h3M54 352h1M57 352h1M64 352h1M70 352h1M77 352h2M82 352h1M89 352h1M13 353h1M18 353h1M21 353h1M27 353h1M35 353h1M39 353h1M43 353h1M48 353h2M52 353h1M55 353h3M60 353h1M62 353h1M67 353h2M72 353h1M74 353h1M77 353h1M83 353h1M86 353h1M89 353h1M1 354h2M5 354h2M8 354h1M13 354h1M17 354h1M19 354h2M22 354h1M25 354h2M28 354h1M31 354h1M36 354h1M44 354h1M46 354h1M51 354h1M57 354h3M62 354h1M64 354h2M69 354h1M76 354h1M82 354h1M84 354h1M1 355h2M6 355h1M8 355h1M10 355h1M13 355h2M17 355h1M20 355h1M26 355h1M28 355h1M30 355h1M36 355h3M40 355h1M43 355h1M46 355h3M50 355h2M62 355h1M64 355h2M69 355h1M74 355h1M82 355h1M86 355h2M89 355h1M1 356h1M4 356h3M8 356h1M13 356h2M16 356h1M20 356h3M25 356h2M28 356h1M31 356h1M35 356h4M43 356h2M47 356h2M57 356h3M74 356h1M77 356h4M82 356h3M1 357h1M4 357h3M9 357h1M13 357h2M17 357h1M20 357h1M22 357h1M25 357h2M28 357h3M35 357h1M37 357h2M40 357h2M48 357h1M50 357h2M55 357h1M57 357h2M62 357h1M65 357h1M71 357h1M74 357h1M77 357h1M82 357h2M88 357h1M90 357h1M5 358h1M8 358h2M14 358h1M17 358h1M20 358h1M22 358h1M25 358h1M35 358h1M37 358h1M39 358h1M41 358h1M43 358h1M46 358h1M48 358h1M51 358h1M57 358h3M62 358h1M69 358h1M77 358h1M79 358h1M82 358h2M87 358h1M0 359h2M3 359h1M5 359h1M9 359h2M14 359h1M16 359h2M28 359h1M31 359h1M36 359h3M41 359h1M43 359h1M46 359h3M50 359h2M57 359h1M59 359h1M69 359h1M77 359h1M81 359h2M84 359h2M87 359h1M0 360h1M6 360h1M8 360h1M16 360h2M21 360h1M25 360h2M29 360h1M31 360h1M36 360h1M41 360h1M43 360h2M46 360h2M51 360h1M62 360h1M64 360h2M69 360h1M71 360h1M74 360h1M0 361h3M5 361h1M8 361h1M19 361h1M22 361h1M28 361h3M36 361h3M51 361h1M62 361h1M69 361h1M71 361h1M74 361h1M77 361h2M81 361h1M84 361h1M87 361h2M1 362h2M9 362h1M13 362h2M16 362h2M20 362h1M28 362h2M39 362h2M43 362h1M64 362h1M69 362h1M72 362h1M77 362h2M83 362h2M87 362h1M89 362h2M2 363h1M5 363h2M17 363h1M22 363h1M26 363h1M35 363h1M38 363h1M40 363h1M43 363h1M47 363h1M55 363h1M65 363h1M74 363h1M78 363h1M80 363h1M83 363h2M87 363h4M1 364h1M3 364h3M8 364h2M13 364h1M16 364h1M22 364h1M28 364h2M35 364h1M37 364h2M40 364h2M46 364h2M63 364h1M65 364h1M74 364h1M77 364h1M80 364h1M82 364h1M89 364h1M0 365h1M8 365h1M13 365h2M16 365h1M19 365h2M22 365h1M31 365h1M39 365h1M43 365h2M50 365h2M57 365h1M59 365h1M65 365h1M71 365h1M74 365h1M77 365h1M82 365h2M87 365h1M89 365h2M1 366h1M5 366h1M7 366h2M12 366h1M16 366h1M19 366h1M24 366h3M28 366h1M30 366h1M35 366h3M41 366h1M44 366h3M48 366h3M55 366h1M59 366h1M61 366h2M65 366h1M70 366h1M72 366h2M75 366h1M81 366h1M0 367h1M4 367h1M6 367h1M12 367h1M17 367h3M21 367h1M25 367h1M30 367h1M32 367h1M45 367h2M61 367h1M64 367h1M69 367h1M74 367h3M78 367h1M81 367h1M86 367h2M2 368h1M9 368h1M11 368h1M13 368h1M20 368h1M23 368h1M26 368h1M29 368h1M34 368h1M39 368h1M45 368h1M53 368h3M57 368h1M71 368h1M76 368h1M88 368h1M0 369h2M8 369h1M10 369h1M13 369h1M20 369h2M28 369h2M34 369h2M37 369h2M43 369h1M47 369h1M50 369h2M54 369h2M57 369h1M62 369h2M65 369h1M70 369h1M73 369h2M88 369h1M2 370h1M5 370h2M10 370h2M16 370h1M19 370h1M22 370h1M26 370h1M31 370h1M33 370h1M40 370h1M44 370h1M46 370h2M53 370h1M60 370h2M66 370h1M88 370h1M5 371h4M12 371h1M16 371h1M19 371h4M25 371h1M27 371h1M29 371h2M34 371h1M39 371h1M42 371h3M48 371h1M53 371h1M55 371h1M58 371h1M62 371h1M65 371h1M69 371h1M72 371h3M90 371h1M2 372h2M10 372h1M28 372h1M41 372h1M43 372h1M54 372h1M60 372h1M71 372h1M0 373h1M9 373h3M19 373h1M22 373h2M31 373h1M36 373h2M51 373h1M63 373h1M65 373h1M67 373h1M71 373h1M76 373h1M3 374h2M21 374h1M31 374h2M40 374h1M42 374h1M47 374h1M65 374h1M71 374h1M76 374h1M90 374h1M2 375h1M4 375h1M9 375h1M13 375h1M21 375h2M33 375h1M57 375h1M68 375h1M76 375h1M90 375h1M0 376h1M2 376h1M6 376h1M18 376h1M42 376h1M44 376h1M59 376h1M7 377h2M13 377h1M15 377h1M37 377h3M44 377h1M56 377h1M61 377h1M72 377h3M90 377h1M9 378h1M15 378h1M32 378h1M67 378h1M75 378h2M12 379h1M15 379h2M18 379h1M22 379h2M34 379h1M36 379h1M42 379h1M46 379h1M51 379h1M59 379h1M65 379h1M68 379h1M75 379h1M1 380h1M9 380h1M12 380h1M17 380h1M21 380h2M33 380h2M37 380h1M43 380h1M46 380h1M54 380h1M56 380h1M59 380h1M61 380h2M69 380h1M76 380h1M26 381h1M34 381h1M37 381h1M41 381h1M52 381h1M55 381h1M63 381h1M75 381h1M2 382h3M15 382h1M18 382h2M21 382h1M29 382h1M31 382h2M36 382h1M38 382h1M44 382h1M49 382h2M61 382h1M66 382h1M76 382h1M7 383h1M11 383h1M14 383h1M30 383h1M40 383h1M42 383h1M45 383h2M55 383h1M58 383h1M69 383h1M8 384h1M25 384h1M30 384h1M38 384h1M56 384h1M74 384h1M26 385h1M31 385h1M60 385h1M3 386h1M6 386h1M18 386h1M26 386h1M30 386h1M45 386h1M52 386h1M58 386h1M65 386h1M73 386h1M76 386h1M3 387h1M16 387h1M59 387h1M72 387h2M21 388h1M43 388h1M67 388h2M76 388h1M90 388h1M16 389h1M30 389h2M43 389h1M46 389h1M48 389h1M72 389h2M16 390h1M19 390h1M40 390h1M46 390h1M59 390h1M67 390h1M72 390h1M76 390h1M37 391h1M43 391h1M59 391h1M64 391h1M72 391h2M10 392h1M21 392h1M23 392h1M38 392h1M40 392h2M46 392h1M48 392h1M53 392h1M65 392h1M68 392h1M72 392h2M0 393h1M15 393h5M24 393h1M34 393h1M43 393h1M58 393h1M61 393h1M88 393h1M0 394h2M3 394h2M20 394h1M23 394h1M30 394h1M37 394h1M41 394h1M48 394h1M50 394h1M54 394h1M56 394h2M61 394h2M65 394h1M68 394h2M75 394h2M6 395h1M10 395h1M28 395h1M33 395h1M36 395h1M39 395h3M44 395h1M55 395h2M62 395h1M71 395h1M1 396h1M5 396h1M12 396h1M19 396h1M21 396h1M24 396h2M27 396h3M31 396h1M33 396h1M36 396h1M39 396h1M46 396h2M57 396h1M66 396h1M69 396h1M0 397h1M3 397h1M5 397h1M15 397h1M18 397h1M32 397h3M40 397h1M47 397h1M52 397h1M55 397h1M58 397h1M0 398h1M2 398h2M8 398h2M22 398h4M30 398h1M34 398h1M36 398h1M38 398h1M45 398h2M51 398h1M54 398h1M56 398h1M60 398h1M64 398h1M69 398h1M74 398h1M88 398h1"/>
<path stroke="#5a59af" d="M1 0h1M3 0h1M6 0h1M14 0h1M19 0h1M30 0h1M32 0h1M57 0h1M60 0h1M64 0h1M66 0h1M75 0h1M88 0h1M90 0h1M5 1h1M7 1h1M17 1h1M22 1h2M63 1h1M66 1h1M73 1h1M13 2h1M16 2h1M19 2h1M22 2h1M33 2h2M51 2h1M58 2h1M72 2h1M3 3h1M6 3h1M13 3h1M18 3h3M48 4h1M61 4h1M63 4h1M68 4h1M14 5h1M19 5h1M40 5h1M73 5h1M75 5h1M20 6h1M22 6h1M41 6h1M43 6h1M56 6h1M59 6h2M68 6h2M90 6h1M11 7h1M23 7h1M28 7h1M31 7h1M40 7h1M42 7h3M46 7h1M49 7h4M58 7h1M2 8h1M12 8h1M14 8h1M20 8h1M22 8h1M28 8h1M34 8h1M47 8h1M70 8h1M73 8h1M90 8h1M74 9h1M5 10h2M24 10h1M33 10h1M40 10h1M43 10h4M51 10h3M55 10h1M75 10h2M0 11h1M5 11h1M9 11h1M24 11h1M26 11h2M29 11h1M45 11h1M57 11h2M64 11h1M70 11h1M88 11h1M0 12h1M9 12h3M31 12h1M34 12h1M44 12h1M52 12h1M54 12h1M58 12h1M60 12h3M64 12h1M67 12h1M69 12h2M76 12h1M1 13h1M10 13h1M23 13h1M40 13h2M45 13h1M50 13h1M54 13h1M57 13h1M61 13h2M68 13h1M88 13h1M10 14h2M13 14h2M22 14h1M24 14h1M29 14h1M42 14h1M58 14h1M64 14h1M70 14h1M73 14h1M75 14h1M3 15h1M9 15h1M16 15h1M68 15h1M73 15h1M76 15h1M2 16h1M7 16h1M16 16h1M39 16h1M63 16h1M74 16h1M90 16h1M26 17h1M29 17h1M33 17h1M46 17h3M54 17h1M75 17h1M90 17h1M4 18h1M11 18h1M24 18h1M60 18h4M74 18h2M14 19h1M48 19h1M51 19h1M53 19h1M70 19h1M2 20h1M8 20h1M30 20h1M52 20h1M62 20h1M83 20h1M8 21h1M21 21h1M35 21h1M38 21h1M51 21h1M58 21h1M88 21h1M0 22h1M10 22h1M26 22h2M39 22h1M53 22h1M58 22h1M2 23h1M29 23h1M36 23h1M52 23h1M55 23h2M59 23h1M66 23h1M5 24h1M14 24h1M39 24h2M50 24h1M53 24h2M59 24h1M4 25h1M23 25h1M25 25h2M52 25h1M54 25h1M62 25h1M64 25h2M67 25h1M75 25h1M0 26h1M3 26h1M7 26h1M23 26h1M30 26h1M38 26h1M47 26h2M52 26h1M57 26h2M64 26h1M67 26h1M4 27h1M6 27h1M34 27h1M41 27h2M45 27h1M72 27h1M20 28h1M65 28h1M72 28h1M76 28h1M88 28h1M7 29h1M12 29h1M22 29h1M40 29h1M5 30h1M11 30h1M19 30h1M51 30h2M61 30h1M73 30h1M90 30h1M29 31h1M31 31h1M41 31h1M45 31h1M55 31h1M63 31h3M1 32h1M7 32h1M43 32h1M54 32h1M4 33h1M10 33h1M22 33h2M32 33h1M43 33h1M46 33h1M52 33h1M75 33h1M16 34h2M26 34h1M29 34h1M32 34h1M46 34h1M59 34h1M71 34h2M75 34h1M3 35h1M5 35h1M12 35h1M33 35h1M39 35h1M44 35h1M49 35h1M62 35h1M37 36h1M72 36h1M18 37h1M26 37h1M43 37h1M36 38h1M44 38h1M50 38h1M14 39h1M19 39h1M49 39h1M74 39h1M27 40h1M46 40h1M49 40h1M68 40h1M4 41h1M13 41h1M16 41h1M20 41h1M46 41h1M88 41h1M13 42h1M30 42h1M32 42h1M36 42h1M39 42h1M59 42h1M66 42h1M80 42h1M83 42h1M85 42h1M90 42h1M12 43h1M16 43h1M46 43h1M61 43h1M67 43h1M21 44h1M32 44h1M72 44h1M34 45h1M37 45h1M46 45h1M65 45h1M83 45h1M1 46h1M26 46h1M37 46h1M11 47h1M23 47h2M28 47h2M37 47h1M40 47h1M63 47h1M15 48h1M21 48h1M67 48h1M0 49h1M6 49h1M8 49h2M11 49h1M17 49h1M21 49h1M29 49h1M51 49h1M9 50h1M24 50h3M30 50h2M17 51h1M25 51h1M27 51h1M31 51h1M50 51h1M9 52h1M25 52h1M5 54h1M17 54h1M33 54h1M37 54h1M67 54h1M73 54h1M37 55h1M41 55h1M16 56h1M18 56h1M32 56h1M37 56h1M90 56h1M2 57h1M53 57h1M59 57h1M90 57h1M3 58h1M16 58h2M43 58h1M46 58h1M54 58h1M1 59h1M7 59h1M10 59h2M15 59h2M28 59h1M42 59h1M44 59h2M61 59h1M88 59h1M4 60h1M10 60h1M20 60h2M24 60h1M34 60h2M39 60h1M43 60h1M61 60h3M17 61h1M40 61h1M42 61h2M46 61h1M49 61h1M63 61h1M2 62h1M7 62h1M29 62h1M35 62h1M73 62h1M22 63h1M32 63h2M37 63h2M40 63h1M63 63h1M72 63h1M74 63h1M7 64h1M11 64h1M22 64h1M33 64h1M36 64h1M72 64h1M14 65h2M37 65h1M68 66h1M0 67h1M10 67h1M20 67h1M36 67h1M46 67h1M52 67h1M88 67h1M38 68h1M47 68h1M52 68h1M54 68h1M17 69h1M35 69h1M54 69h1M2 71h1M4 71h1M2 72h1M12 72h1M21 72h1M27 72h1M31 72h1M51 72h1M90 72h1M10 73h1M18 73h1M88 73h1M4 74h1M25 74h1M61 74h1M73 74h1M2 75h1M7 75h1M17 75h1M25 75h2M34 75h1M7 76h1M9 76h1M19 76h1M35 76h1M40 76h1M46 76h1M12 77h1M21 77h1M29 77h1M31 77h1M46 77h1M52 77h1M63 77h1M90 77h1M9 78h1M14 78h1M36 78h1M48 78h2M59 78h2M63 78h1M46 79h1M48 79h1M1 80h2M18 80h1M37 81h1M16 82h1M27 82h1M17 83h1M23 83h1M32 83h1M46 83h1M12 84h1M1 85h1M6 85h1M14 85h1M23 85h1M37 85h1M42 85h1M49 85h1M59 85h3M4 86h1M75 86h1M3 87h1M73 87h1M10 88h1M34 88h1M37 88h1M31 89h1M33 89h1M29 90h1M61 90h1M90 90h1M21 91h1M35 91h1M61 91h1M65 91h1M67 91h1M71 91h1M14 92h1M21 92h1M58 92h1M3 93h1M18 93h1M24 93h1M39 93h1M54 93h1M58 93h1M70 93h1M72 93h1M90 93h1M2 94h2M11 94h1M17 94h1M22 94h1M24 94h1M71 94h1M6 95h1M8 95h1M10 95h1M38 95h1M46 95h1M48 95h1M52 95h1M1 96h1M4 96h1M12 96h1M16 96h1M20 96h2M31 96h1M42 96h1M54 96h1M59 96h1M61 96h1M75 96h1M12 97h1M45 97h1M62 97h1M65 97h1M69 97h1M10 98h1M14 98h1M40 98h1M60 98h1M17 99h1M33 99h1M35 99h1M39 99h1M43 99h1M57 99h1M90 99h1M5 100h1M7 100h1M22 100h1M35 100h1M41 100h1M50 100h1M63 100h1M65 100h1M67 100h2M15 101h1M18 101h1M31 101h1M36 101h1M52 101h2M68 101h1M74 101h1M14 102h1M67 102h2M73 102h1M2 103h1M8 103h1M18 103h1M27 103h1M33 103h2M38 103h1M49 103h1M52 103h1M59 103h1M67 103h1M71 103h1M78 103h1M86 103h2M6 104h2M9 104h1M13 104h1M23 104h1M27 104h1M33 104h1M37 104h2M45 104h1M64 104h1M67 104h2M76 104h1M83 104h1M89 104h1M13 105h1M22 105h1M24 105h1M27 105h1M30 105h1M32 105h1M65 105h1M68 105h1M71 105h1M88 105h1M90 105h1M14 106h1M34 106h1M38 106h2M49 106h1M73 106h1M2 107h1M5 107h1M8 107h1M23 107h2M27 107h1M30 107h1M35 107h1M38 107h1M49 107h1M52 107h1M58 107h1M66 107h1M77 107h1M80 107h1M22 108h1M27 108h1M38 108h1M51 108h2M54 108h1M73 108h2M76 108h1M79 108h1M82 108h1M1 109h2M6 109h2M20 109h1M24 109h1M29 109h1M38 109h1M44 109h1M63 109h1M3 110h1M20 110h1M27 110h1M45 110h1M52 110h1M56 110h2M61 110h2M68 110h1M71 110h1M87 110h1M9 111h1M42 111h1M44 111h1M67 111h1M74 111h1M11 112h2M16 112h1M24 112h1M31 112h2M35 112h1M46 112h1M48 112h1M54 112h1M61 112h1M72 112h1M0 113h2M10 113h1M16 113h1M33 113h2M55 113h1M68 113h2M14 114h2M17 114h1M21 114h1M31 114h1M37 114h1M41 114h1M55 114h1M67 114h1M71 114h2M0 115h1M3 115h1M7 115h1M14 115h1M17 115h1M24 115h1M31 115h1M38 115h1M42 115h1M58 115h1M63 115h1M66 115h1M71 115h2M1 116h1M21 116h1M23 116h1M27 116h1M39 116h1M41 116h2M46 116h1M51 116h1M55 116h1M58 116h4M74 116h1M76 116h1M88 116h1M4 117h2M7 117h2M23 117h2M28 117h1M30 117h3M34 117h2M45 117h1M49 117h1M52 117h1M57 117h1M61 117h1M66 117h1M73 117h2M76 117h1M2 118h1M7 118h1M11 118h1M26 118h1M33 118h1M35 118h1M71 118h1M79 118h1M2 119h1M14 119h1M17 119h1M31 119h1M37 119h1M45 119h1M50 119h1M60 119h1M62 119h2M69 119h1M72 119h1M76 119h1M3 120h1M12 120h1M47 120h1M50 120h1M11 121h1M34 121h1M73 121h1M89 121h1M17 122h1M19 122h2M59 122h1M4 123h1M12 123h1M15 123h1M28 123h1M36 123h2M39 123h2M0 124h1M11 124h1M17 124h1M20 124h1M31 124h1M40 124h1M46 124h1M60 124h1M69 124h1M48 125h1M52 125h1M73 125h1M89 125h2M5 126h1M8 126h1M12 126h1M42 126h1M51 126h1M2 127h1M8 127h1M10 127h3M16 127h1M25 127h1M28 127h1M44 127h1M46 127h1M49 127h1M52 127h1M58 127h1M67 127h1M71 127h4M2 128h1M12 128h1M18 128h1M21 128h1M23 128h1M26 128h1M30 128h1M33 128h1M41 128h1M46 128h1M53 128h1M64 128h1M73 128h1M17 129h1M30 129h1M33 129h1M1 130h1M6 130h1M9 130h1M46 130h1M59 130h1M62 130h1M9 131h1M15 131h1M17 131h1M20 131h2M30 131h1M40 131h1M56 131h1M69 131h1M2 132h1M9 132h1M19 132h1M28 132h1M30 132h1M52 132h1M58 132h1M67 132h1M4 133h1M23 133h1M44 133h1M51 133h1M57 133h1M63 133h1M69 133h1M2 134h1M12 134h1M16 134h1M23 134h1M29 134h1M31 134h1M38 134h1M43 134h1M58 134h1M72 134h1M17 135h1M31 135h1M40 135h1M43 135h1M46 135h1M48 135h1M59 135h1M62 135h2M68 135h1M72 135h1M88 135h1M90 135h1M19 136h1M36 136h2M40 136h1M59 136h1M63 136h1M67 136h2M4 137h1M17 137h1M19 137h1M26 137h1M30 137h2M35 137h2M40 137h1M43 137h1M48 137h1M59 137h1M63 137h1M67 137h2M2 138h1M4 138h1M9 138h1M16 138h2M19 138h1M30 138h1M41 138h1M48 138h1M59 138h1M63 138h1M72 138h1M3 139h2M16 139h2M19 139h1M26 139h1M30 139h1M40 139h1M43 139h1M47 139h1M52 139h1M59 139h1M63 139h1M68 139h1M72 139h1M16 140h1M26 140h1M30 140h2M35 140h1M40 140h1M43 140h1M46 140h3M59 140h1M63 140h3M68 140h1M72 140h1M76 140h1M88 140h1M4 141h1M16 141h1M30 141h2M37 141h1M40 141h1M43 141h1M46 141h2M59 141h1M63 141h1M67 141h2M76 141h1M88 141h1M4 142h1M16 142h2M19 142h1M43 142h1M59 142h1M65 142h1M68 142h1M72 142h1M89 142h1M4 143h1M16 143h2M31 143h1M41 143h1M46 143h1M52 143h1M59 143h1M63 143h1M65 143h1M68 143h1M6 144h1M12 144h1M18 144h1M28 144h2M31 144h1M33 144h1M35 144h1M38 144h1M40 144h1M46 144h2M64 144h1M71 144h1M76 144h1M15 145h1M21 145h1M27 145h1M30 145h1M34 145h1M50 145h1M69 145h1M71 145h1M76 145h1M0 146h1M4 146h1M11 146h1M13 146h2M17 146h1M19 146h1M28 146h1M32 146h1M34 146h1M43 146h1M47 146h1M49 146h1M52 146h2M56 146h1M65 146h2M69 146h1M75 146h1M3 147h1M5 147h2M17 147h1M24 147h1M31 147h1M34 147h1M38 147h1M56 147h1M63 147h2M69 147h1M76 147h1M4 148h1M9 148h1M15 148h1M18 148h1M26 148h1M28 148h2M42 148h1M60 148h1M63 148h1M75 148h1M3 149h1M6 149h1M20 149h1M22 149h1M26 149h1M34 149h2M37 149h2M40 149h1M47 149h2M53 149h1M63 149h1M66 149h1M88 149h1M90 149h1M1 150h1M8 150h1M10 150h1M13 150h1M21 150h1M26 150h1M28 150h1M34 150h1M37 150h1M49 150h2M60 150h1M63 150h1M2 151h1M9 151h1M20 151h3M26 151h1M30 151h1M34 151h1M41 151h1M44 151h1M48 151h1M50 151h1M52 151h1M60 151h2M66 151h4M73 151h1M76 151h1M10 152h2M13 152h1M15 152h1M20 152h1M24 152h1M27 152h2M50 152h1M54 152h1M58 152h1M61 152h1M65 152h1M68 152h2M74 152h1M2 153h1M5 153h2M8 153h1M24 153h1M29 153h1M37 153h1M47 153h1M53 153h1M62 153h2M69 153h2M3 154h1M6 154h1M10 154h1M14 154h1M34 154h1M45 154h1M47 154h1M59 154h1M67 154h1M69 154h1M73 154h1M76 154h1M6 155h1M27 155h1M30 155h3M35 155h1M40 155h1M42 155h1M50 155h1M52 155h1M59 155h1M63 155h2M72 155h2M75 155h1M88 155h1M0 156h1M16 156h1M20 156h1M24 156h1M28 156h3M34 156h1M44 156h2M47 156h1M49 156h3M54 156h1M68 156h1M70 156h1M72 156h2M76 156h1M1 157h1M6 157h1M12 157h1M16 157h1M20 157h1M22 157h1M26 157h1M48 157h1M51 157h4M61 157h1M64 157h1M69 157h1M73 157h1M75 157h1M2 158h1M5 158h1M8 158h1M13 158h1M19 158h1M28 158h1M31 158h1M47 158h1M52 158h1M54 158h1M59 158h1M66 158h2M75 158h1M5 159h2M16 159h1M23 159h2M32 159h1M55 159h2M66 159h1M2 160h1M8 160h2M13 160h3M21 160h1M23 160h1M25 160h1M34 160h2M38 160h2M44 160h1M51 160h1M53 160h3M64 160h1M69 160h1M71 160h1M75 160h1M6 161h1M9 161h1M14 161h1M23 161h2M35 161h1M43 161h1M45 161h1M47 161h1M52 161h1M56 161h1M59 161h1M66 161h1M70 161h1M76 161h1M88 161h1M3 162h1M6 162h1M8 162h1M11 162h1M13 162h1M18 162h2M24 162h2M41 162h1M47 162h1M50 162h3M55 162h1M62 162h1M64 162h1M67 162h2M75 162h1M88 162h1M9 163h1M16 163h1M20 163h1M24 163h1M26 163h1M30 163h1M42 163h1M45 163h2M54 163h3M63 163h1M71 163h1M74 163h1M76 163h1M90 163h1M7 164h1M10 164h1M16 164h1M19 164h2M24 164h1M26 164h1M36 164h1M40 164h1M44 164h1M50 164h1M55 164h1M60 164h1M64 164h1M69 164h1M90 164h1M4 165h1M20 165h1M23 165h1M26 165h1M29 165h2M41 165h2M60 165h1M67 165h2M70 165h2M73 165h1M76 165h1M1 166h1M6 166h2M14 166h1M23 166h1M28 166h1M30 166h1M32 166h4M43 166h1M51 166h1M54 166h1M56 166h1M58 166h1M63 166h1M71 166h1M73 166h1M76 166h1M2 167h1M15 167h1M17 167h1M20 167h1M22 167h1M25 167h1M28 167h1M34 167h1M37 167h1M54 167h2M57 167h1M60 167h1M66 167h1M68 167h1M88 167h1M20 168h1M31 168h1M46 168h1M52 168h1M61 168h1M65 168h1M70 168h2M73 168h1M89 168h2M26 169h1M56 169h1M61 169h2M64 169h1M88 169h1M19 170h1M52 170h1M90 170h1M17 171h1M19 171h1M30 171h1M40 171h1M53 171h1M65 171h1M80 171h1M90 171h1M30 172h1M47 172h1M63 172h1M69 172h1M75 172h1M86 172h1M90 172h1M52 173h1M61 173h1M71 173h1M73 173h1M8 174h1M18 174h1M28 174h1M49 174h1M60 174h1M90 174h1M61 175h1M69 175h1M71 175h1M25 176h1M36 176h1M47 176h1M50 176h1M69 176h1M65 177h1M72 177h1M75 177h1M17 178h1M46 178h1M51 178h1M73 178h1M76 178h1M81 178h1M90 178h1M87 179h1M13 180h1M37 180h1M47 180h1M49 180h1M51 180h1M53 180h1M57 180h1M61 180h1M63 180h1M76 181h1M78 181h1M89 181h1M33 182h1M65 182h1M72 182h1M78 182h1M37 183h1M68 183h1M12 184h1M17 184h1M30 184h1M65 184h1M68 184h1M80 184h1M82 184h1M49 185h1M51 185h2M67 185h1M70 185h1M75 185h2M80 185h1M18 186h1M20 186h1M50 186h1M52 186h1M54 186h3M61 186h1M68 186h1M76 186h1M81 186h1M89 186h1M12 187h1M50 187h1M54 187h1M61 187h1M72 187h1M87 187h1M67 188h1M75 188h1M83 188h1M85 188h1M87 188h2M18 189h1M38 189h1M47 189h1M50 189h1M57 189h1M61 189h2M67 189h1M76 189h4M84 189h1M86 189h1M89 189h1M46 190h1M52 190h1M58 190h1M61 190h1M63 190h1M85 190h1M87 190h1M3 191h1M50 191h1M59 191h1M62 191h1M89 191h1M5 192h1M20 192h1M64 192h1M68 192h1M72 192h1M80 192h1M83 192h1M85 192h1M46 193h1M57 193h1M65 193h1M13 194h1M44 194h2M59 194h1M67 194h1M76 194h1M10 195h1M20 195h1M33 195h1M41 195h1M50 195h1M64 195h2M69 195h2M76 195h1M83 195h1M48 196h1M67 196h1M79 196h1M81 196h1M89 196h1M52 197h1M57 197h2M80 197h1M6 198h1M36 198h1M52 198h1M58 198h1M76 198h1M79 198h1M30 199h1M36 199h1M67 199h1M79 199h2M87 199h1M89 199h1M77 200h1M79 200h1M83 200h1M87 200h1M3 201h1M67 201h1M90 201h1M10 202h1M19 202h1M40 202h1M43 202h1M58 202h1M60 202h1M62 202h1M66 202h1M71 202h1M7 203h1M19 203h1M25 203h1M28 203h1M34 203h1M37 203h1M52 203h1M55 203h1M59 203h1M69 203h1M73 203h1M17 204h1M49 204h1M74 204h1M90 204h1M18 205h1M49 206h1M18 207h1M20 207h1M59 207h1M63 207h1M69 207h1M72 207h2M90 207h1M12 208h1M37 208h1M46 208h1M51 208h1M67 208h1M72 208h1M26 209h1M36 209h2M50 209h1M58 209h1M73 209h1M3 210h1M40 210h1M55 210h1M59 210h1M63 210h1M25 211h1M42 211h1M52 211h1M59 211h1M64 211h1M68 211h1M90 211h1M38 212h1M55 212h1M63 212h1M65 212h1M77 212h1M84 212h1M90 212h1M30 213h1M45 213h1M54 213h2M59 213h1M86 213h1M89 213h2M5 215h1M16 215h1M39 215h1M58 215h1M61 215h3M67 215h2M73 215h1M34 216h1M44 216h1M64 216h1M3 217h1M32 217h1M34 217h1M50 217h1M62 217h1M64 217h1M69 217h1M73 217h1M76 217h1M23 218h1M41 218h1M50 218h1M76 218h1M13 219h1M26 219h1M43 219h1M52 219h1M55 219h1M67 219h1M13 220h1M20 220h1M22 220h1M38 220h1M46 220h1M48 220h1M51 220h1M53 220h1M58 220h1M65 220h1M69 220h2M72 220h2M82 220h1M23 221h1M26 221h3M44 221h1M58 221h2M68 221h2M71 221h2M76 221h1M80 221h1M8 222h1M21 222h1M41 222h1M46 222h1M50 222h1M52 222h1M59 222h1M68 222h1M72 222h2M82 222h1M87 222h1M90 222h1M10 223h1M23 223h1M30 223h1M33 223h2M36 223h1M40 223h1M46 223h1M52 223h1M54 223h2M61 223h1M64 223h1M67 223h1M71 223h1M77 223h1M80 223h1M83 223h1M10 224h1M24 224h1M26 224h2M31 224h1M36 224h1M41 224h1M47 224h1M50 224h1M52 224h1M59 224h1M63 224h2M67 224h1M76 224h1M78 224h1M87 224h1M4 225h1M9 225h1M15 225h1M17 225h2M57 225h1M68 225h1M71 225h1M89 225h2M19 226h1M35 226h1M48 226h1M52 226h1M59 226h1M67 226h1M81 226h1M84 226h1M87 226h1M90 226h1M3 227h1M8 227h2M17 227h1M33 227h1M52 227h1M57 227h1M62 227h1M67 227h2M74 227h1M84 227h1M87 227h1M89 227h1M2 228h2M7 228h1M37 228h1M41 228h1M45 228h1M61 228h2M66 228h1M68 228h1M71 228h1M75 228h5M81 228h1M86 228h1M88 228h1M90 228h1M8 229h1M13 229h1M16 229h1M23 229h1M25 229h1M30 229h1M43 229h3M51 229h2M61 229h2M64 229h2M69 229h1M76 229h1M83 229h1M90 229h1M23 230h1M26 230h1M32 230h1M34 230h1M43 230h1M46 230h1M52 230h1M59 230h1M68 230h1M71 230h1M74 230h1M76 230h1M78 230h3M82 230h1M2 231h1M8 231h1M11 231h1M20 231h1M27 231h1M32 231h1M34 231h1M42 231h1M59 231h1M65 231h3M70 231h3M78 231h1M85 231h1M32 232h2M35 232h1M49 232h2M54 232h1M64 232h1M68 232h1M78 232h1M82 232h1M17 233h1M82 233h1M89 233h1M73 234h1M82 234h1M11 235h1M64 235h1M68 235h1M85 235h1M87 235h1M4 236h1M19 236h1M40 236h1M52 236h1M56 236h1M60 236h1M72 236h1M0 237h1M2 237h1M16 237h1M31 237h1M73 237h1M85 237h1M88 237h1M7 238h1M27 238h2M31 238h1M55 238h1M57 238h1M73 238h1M86 238h1M89 238h1M13 239h1M69 239h1M88 239h1M4 240h2M11 240h1M43 240h1M75 240h1M12 241h1M43 241h1M52 241h1M75 241h1M86 241h1M33 242h1M42 242h1M46 242h1M60 242h1M63 242h2M67 242h2M70 242h1M85 242h1M4 243h1M12 243h1M47 243h1M51 243h2M63 243h1M69 243h1M77 243h1M79 243h1M84 243h1M89 243h2M9 244h1M17 244h1M38 244h1M63 244h1M74 244h2M79 244h2M19 245h1M62 245h2M76 245h1M83 245h2M2 246h1M24 246h1M28 246h1M43 246h1M50 246h1M62 246h1M71 246h1M79 246h2M82 246h3M87 246h1M4 247h1M8 247h1M24 247h1M37 247h1M43 247h1M46 247h1M53 247h1M65 247h1M80 247h1M83 247h1M85 247h1M87 247h1M89 247h1M4 248h1M10 248h1M31 248h1M36 248h1M47 248h1M75 248h1M78 248h1M82 248h1M4 249h1M19 249h1M79 249h1M31 250h1M41 250h1M48 250h1M47 251h1M49 251h1M52 251h1M64 251h2M68 251h1M74 251h1M90 251h1M4 252h1M38 252h1M81 252h1M85 252h1M46 253h2M50 253h1M57 253h1M72 253h1M74 253h1M78 253h1M12 254h1M16 254h1M19 254h1M26 254h1M53 254h1M62 254h1M78 254h1M11 255h1M41 255h1M59 255h1M61 255h1M86 255h1M4 256h1M19 256h1M21 256h1M33 256h1M37 256h1M40 256h1M47 256h1M54 256h1M60 256h1M68 256h1M76 256h1M88 256h1M17 257h1M28 257h1M32 257h1M52 257h1M59 257h2M67 257h1M16 258h2M36 258h1M67 258h2M2 259h1M22 259h1M40 259h2M50 259h1M59 259h1M63 259h1M67 259h2M9 260h1M18 260h1M26 260h1M59 260h1M90 260h1M15 261h1M18 261h1M34 261h1M36 261h1M43 261h1M59 261h1M61 261h1M0 262h1M16 262h1M18 262h1M26 262h1M31 262h2M40 262h1M44 262h1M49 262h1M59 262h1M65 262h1M67 262h1M16 263h1M19 263h1M47 263h1M52 263h1M61 263h1M90 263h1M3 264h1M16 264h1M42 264h1M44 264h1M48 264h1M63 264h1M69 264h1M32 265h1M41 265h1M59 265h1M0 266h1M26 266h1M36 266h1M49 266h1M65 266h1M6 267h1M10 267h1M12 267h1M14 267h1M29 267h1M37 267h1M49 267h1M89 267h1M0 268h1M12 268h1M32 268h1M37 268h1M47 268h1M81 268h1M87 268h1M10 269h1M22 269h1M26 269h1M28 269h1M32 269h1M41 269h1M11 270h1M14 270h1M19 270h1M36 270h1M73 270h1M24 271h1M26 271h1M37 271h1M41 272h1M8 273h1M10 273h1M15 273h1M29 273h1M33 273h1M42 273h1M45 273h1M52 273h2M65 273h1M89 273h1M8 274h1M29 274h1M41 274h1M52 274h1M57 274h1M59 274h2M71 274h1M76 274h1M88 274h2M29 275h1M56 275h1M60 275h1M63 275h1M70 275h3M3 276h1M13 276h1M35 276h1M54 276h1M57 276h1M59 276h2M63 276h1M71 276h2M88 276h1M7 277h1M15 277h1M52 277h1M56 277h2M59 277h2M63 277h1M65 277h1M71 277h1M77 277h1M89 277h1M13 278h1M34 278h1M52 278h1M54 278h1M56 278h1M60 278h1M63 278h1M65 278h1M70 278h1M72 278h1M76 278h1M88 278h2M42 279h1M54 279h2M57 279h1M59 279h1M65 279h1M70 279h3M76 279h1M88 279h3M4 280h1M8 280h1M12 280h1M18 280h1M29 280h1M38 280h1M40 280h2M45 280h2M48 280h1M73 280h1M84 280h1M4 281h1M7 281h1M16 281h1M18 281h1M22 281h1M36 281h1M65 281h1M4 282h2M12 282h1M23 282h1M46 282h1M55 282h1M57 282h1M70 282h1M73 282h1M40 283h1M47 283h1M61 283h1M73 283h1M3 284h1M5 284h1M28 284h1M31 284h1M46 284h1M51 284h1M69 284h1M71 284h1M82 284h1M0 285h1M16 285h2M31 285h1M46 285h1M52 285h1M73 285h1M4 289h1M15 289h2M20 289h2M23 289h1M31 289h2M35 289h1M38 289h1M48 289h1M58 289h1M90 289h1M3 290h2M11 290h1M35 290h1M37 290h2M2 291h1M5 291h1M11 291h1M13 291h1M18 291h1M34 291h1M36 291h3M40 291h1M43 291h1M49 291h1M70 291h1M72 291h1M1 292h1M6 292h1M12 292h1M25 292h1M31 292h1M40 292h1M42 292h1M47 292h2M68 292h1M90 292h1M6 293h1M17 293h1M35 293h1M37 293h1M43 293h1M48 293h1M53 293h1M67 293h2M71 293h1M75 293h1M5 294h1M16 294h1M18 294h1M35 294h1M52 294h1M63 294h1M65 294h1M68 294h1M71 294h2M10 295h1M24 295h1M30 295h1M2 296h3M7 296h1M10 296h1M13 296h1M16 296h1M28 296h1M31 296h2M35 296h1M37 296h1M40 296h3M60 296h1M62 296h1M89 296h1M2 297h2M5 297h1M7 297h1M13 297h1M15 297h2M24 297h1M26 297h1M29 297h1M34 297h1M36 297h2M54 297h1M60 297h1M67 297h1M3 298h1M9 298h1M15 298h2M21 298h2M24 298h1M46 298h1M54 298h1M56 298h1M60 298h1M67 298h1M74 298h1M7 299h2M15 299h1M31 299h1M33 299h1M40 299h1M45 299h1M60 299h1M74 299h1M76 299h1M33 300h1M49 300h1M67 300h2M1 301h3M8 301h1M46 301h1M49 301h1M67 301h1M76 301h1M86 301h1M21 302h1M31 302h1M34 302h1M61 302h1M89 302h1M13 303h1M73 303h1M76 303h1M82 303h1M77 304h1M89 304h1M85 305h1M12 306h1M19 306h1M80 306h2M47 307h1M67 307h1M78 307h1M12 308h1M15 308h1M19 308h1M43 308h1M50 308h2M0 309h1M6 309h1M8 309h1M21 309h1M23 309h1M31 309h1M43 309h1M63 309h1M65 309h1M67 309h2M72 309h1M81 309h1M84 309h1M86 309h2M89 309h1M2 310h1M30 310h1M58 310h1M77 310h2M84 310h1M89 310h1M24 311h1M52 311h1M85 311h1M6 312h2M13 312h1M17 312h1M54 312h1M73 312h1M87 312h2M2 313h1M4 313h1M15 313h1M18 313h1M41 313h2M53 313h1M60 313h1M64 313h2M67 313h1M82 313h1M87 313h1M90 313h1M2 314h2M12 314h1M17 314h1M20 314h1M24 314h1M54 314h1M62 314h1M77 314h1M81 314h1M90 314h1M3 315h1M12 315h1M21 315h1M23 315h1M29 315h1M42 315h1M46 315h1M58 315h1M77 315h1M79 315h1M90 315h1M19 316h1M28 316h1M38 316h1M43 316h1M65 316h1M67 316h1M72 316h1M79 316h1M81 316h1M85 316h1M10 317h1M32 317h1M63 317h1M67 317h2M82 317h1M88 317h1M9 318h1M11 318h1M38 318h1M40 318h1M46 318h1M49 318h1M59 318h1M69 318h1M84 318h1M6 319h1M23 319h1M34 319h1M40 319h2M48 319h1M56 319h1M58 319h1M78 319h2M85 319h1M87 319h1M89 319h1M8 320h1M17 320h1M23 320h1M28 320h1M45 320h1M52 320h1M57 320h1M59 320h1M70 320h1M12 321h1M18 321h1M37 321h1M46 321h2M54 321h1M58 321h1M61 321h1M75 321h1M81 321h1M90 321h1M7 322h1M12 322h1M35 322h1M46 322h1M48 322h1M61 322h1M80 322h1M82 322h1M12 323h1M17 323h1M22 323h1M26 323h1M41 323h1M46 323h1M76 323h1M4 324h1M8 324h1M12 324h2M15 324h1M17 324h1M23 324h1M46 324h1M61 324h1M63 324h2M73 324h1M2 325h1M4 325h1M10 325h1M16 325h1M44 325h1M57 325h1M68 325h1M74 325h1M7 326h1M21 326h1M23 326h1M47 326h2M54 326h1M72 326h1M7 327h1M25 327h2M38 327h1M43 327h1M68 327h1M73 327h1M9 328h1M16 328h2M43 328h1M48 328h1M50 328h1M73 328h1M90 328h1M10 329h1M32 329h1M39 329h1M46 329h1M72 329h1M2 330h1M5 330h1M8 330h1M23 330h1M32 330h1M48 330h1M55 330h2M69 330h2M90 330h1M17 331h1M30 331h1M40 331h1M47 331h1M64 331h1M69 331h1M7 332h1M14 332h1M17 332h2M48 332h1M52 332h1M64 332h1M73 332h1M76 332h1M5 333h1M26 333h1M57 333h1M26 334h1M40 334h1M53 334h1M59 334h1M64 334h1M67 334h2M10 335h1M19 335h1M30 335h2M40 335h1M59 335h1M62 335h2M67 335h1M72 335h1M0 336h1M3 336h1M16 336h2M19 336h1M36 336h1M40 336h1M62 336h2M65 336h1M68 336h1M76 336h1M0 337h1M3 337h1M9 337h1M16 337h2M19 337h1M21 337h1M26 337h1M31 337h1M36 337h3M43 337h1M48 337h1M62 337h4M68 337h1M76 337h1M19 338h1M21 338h1M26 338h1M30 338h2M40 338h1M43 338h1M59 338h1M63 338h1M68 338h1M76 338h1M4 339h1M17 339h1M36 339h1M43 339h1M50 339h1M59 339h1M65 339h1M67 339h1M17 340h1M26 340h1M37 340h1M40 340h1M43 340h1M47 340h2M52 340h2M57 340h1M65 340h1M67 340h2M72 340h1M76 340h1M16 341h1M26 341h1M31 341h1M43 341h1M59 341h1M61 341h1M63 341h2M67 341h1M72 341h1M76 341h1M4 342h1M17 342h1M19 342h1M26 342h1M36 342h1M43 342h1M46 342h1M62 342h2M67 342h2M88 342h1M2 343h3M9 343h1M19 343h1M21 343h1M30 343h2M40 343h2M43 343h1M58 343h1M62 343h2M65 343h1M68 343h1M76 343h1M3 344h1M17 344h1M25 344h1M31 344h1M36 344h2M47 344h1M51 344h1M59 344h1M64 344h1M68 344h1M72 344h1M76 344h1M11 345h1M27 345h2M32 345h1M39 345h1M45 345h1M50 345h1M56 345h2M62 345h2M66 345h1M88 345h1M7 346h1M9 346h1M50 346h2M57 346h2M60 346h1M70 346h2M78 346h2M87 346h1M11 347h1M21 347h2M24 347h1M34 347h1M44 347h1M53 347h1M69 347h1M77 347h1M86 347h1M1 348h1M10 348h1M32 348h1M34 348h2M77 348h1M27 349h1M66 349h1M78 349h2M82 349h1M28 350h1M41 350h1M52 350h4M66 350h1M81 350h1M86 350h1M89 350h1M31 351h1M62 351h1M66 351h1M70 351h2M79 351h1M6 352h1M33 352h1M55 352h1M6 353h1M10 353h2M29 353h1M32 353h1M41 353h2M44 353h1M51 353h1M70 353h1M82 353h1M16 354h1M23 354h1M27 354h1M29 354h1M39 354h1M45 354h1M53 354h1M56 354h1M67 354h2M71 354h2M74 354h1M77 354h1M87 354h1M89 354h2M5 355h1M16 355h1M27 355h1M29 355h1M31 355h1M57 355h2M63 355h1M71 355h2M76 355h1M88 355h1M90 355h1M17 356h1M29 356h1M46 356h1M51 356h1M53 356h1M55 356h1M61 356h3M65 356h1M67 356h3M71 356h1M76 356h1M87 356h2M8 357h1M16 357h1M27 357h1M39 357h1M45 357h2M53 357h1M59 357h1M63 357h2M68 357h2M72 357h2M76 357h1M87 357h1M1 358h1M6 358h1M16 358h1M26 358h1M28 358h2M50 358h1M53 358h1M61 358h1M63 358h3M67 358h1M71 358h2M74 358h1M76 358h1M88 358h3M6 359h1M8 359h1M13 359h1M20 359h1M22 359h1M25 359h1M27 359h1M39 359h1M53 359h1M55 359h1M58 359h1M61 359h1M63 359h3M71 359h1M74 359h1M76 359h1M79 359h1M88 359h1M90 359h1M1 360h1M5 360h1M13 360h2M20 360h1M23 360h1M27 360h1M38 360h1M45 360h1M53 360h1M57 360h2M61 360h1M63 360h1M76 360h1M82 360h1M85 360h1M87 360h2M90 360h1M13 361h1M16 361h2M20 361h1M23 361h1M27 361h1M39 361h1M45 361h2M50 361h1M58 361h1M61 361h1M63 361h1M65 361h1M72 361h1M82 361h1M89 361h2M8 362h1M27 362h1M38 362h1M50 362h2M55 362h1M57 362h2M61 362h3M65 362h1M67 362h2M71 362h1M76 362h1M8 363h1M13 363h1M20 363h1M27 363h3M45 363h2M50 363h1M56 363h4M61 363h4M68 363h2M71 363h2M76 363h1M6 364h1M10 364h1M20 364h1M39 364h1M45 364h1M51 364h1M53 364h1M57 364h2M62 364h1M67 364h3M73 364h1M76 364h1M83 364h1M88 364h1M90 364h1M6 365h1M17 365h1M27 365h1M29 365h1M46 365h1M55 365h1M58 365h1M62 365h1M64 365h1M67 365h1M69 365h1M73 365h1M76 365h1M88 365h1M22 366h1M27 366h1M29 366h1M32 366h1M53 366h1M57 366h1M60 366h1M63 366h1M66 366h1M68 366h1M71 366h1M76 366h1M86 366h1M88 366h1M11 367h1M13 367h1M22 367h1M27 367h1M29 367h1M38 367h1M44 367h1M49 367h1M51 367h1M55 367h1M58 367h1M66 367h1M68 367h1M71 367h1M14 368h1M17 368h1M27 368h1M33 368h1M40 368h2M48 368h1M65 368h2M68 368h1M70 368h1M75 368h1M9 369h1M15 369h1M22 369h1M25 369h1M27 369h1M32 369h1M39 369h1M41 369h2M48 369h1M52 369h2M58 369h1M66 369h1M68 369h2M71 369h2M83 369h1M13 370h1M18 370h1M28 370h2M32 370h1M36 370h2M42 370h1M45 370h1M49 370h2M54 370h1M57 370h2M67 370h1M69 370h1M75 370h1M80 370h1M90 370h1M1 371h1M3 371h1M11 371h1M15 371h1M24 371h1M40 371h2M54 371h1M56 371h1M61 371h1M70 371h1M77 371h1M13 372h1M15 372h1M21 372h1M24 372h1M29 372h1M31 372h1M40 372h1M58 372h1M63 372h1M76 372h1M88 372h1M5 373h1M16 373h1M41 373h1M50 373h1M54 373h2M61 373h2M5 374h1M7 374h1M15 374h2M23 374h1M26 374h2M29 374h1M38 374h2M41 374h1M44 374h1M48 374h1M57 374h1M59 374h1M62 374h2M68 374h1M70 374h1M72 374h1M74 374h1M88 374h1M6 375h1M16 375h2M19 375h2M30 375h1M36 375h2M44 375h1M47 375h1M51 375h1M64 375h2M72 375h1M1 376h1M9 376h1M15 376h1M24 376h1M26 376h1M29 376h1M47 376h1M49 376h1M64 376h2M72 376h1M74 376h2M90 376h1M1 377h1M19 377h1M21 377h1M23 377h1M29 377h1M41 377h1M47 377h2M50 377h1M55 377h1M59 377h1M63 377h2M17 378h1M25 378h1M27 378h1M34 378h1M36 378h1M38 378h1M58 378h1M63 378h1M5 379h3M10 379h1M20 379h2M29 379h2M32 379h1M41 379h1M44 379h1M47 379h1M61 379h1M66 379h1M69 379h1M73 379h1M0 380h1M3 380h1M5 380h1M7 380h1M10 380h2M36 380h1M50 380h1M52 380h1M63 380h1M65 380h1M68 380h1M71 380h1M81 380h1M90 380h1M0 381h1M2 381h1M15 381h3M54 381h1M61 381h1M69 381h1M9 382h1M11 382h2M25 382h1M41 382h1M43 382h1M46 382h2M60 382h1M63 382h2M2 383h1M5 383h1M21 383h1M28 383h1M32 383h1M39 383h1M44 383h1M53 383h1M63 383h1M74 383h1M76 383h1M88 383h1M3 384h1M11 384h1M14 384h1M18 384h1M26 384h1M32 384h1M35 384h1M40 384h1M45 384h3M50 384h2M55 384h1M57 384h1M64 384h2M68 384h1M88 384h1M2 385h1M15 385h1M18 385h1M24 385h1M29 385h1M56 385h1M61 385h1M69 385h1M76 385h1M1 386h1M9 386h2M12 386h1M16 386h2M21 386h1M24 386h1M28 386h1M34 386h1M38 386h2M41 386h2M55 386h1M57 386h1M71 386h1M74 386h1M5 387h1M10 387h1M14 387h1M36 387h3M44 387h1M46 387h1M57 387h1M62 387h3M67 387h2M85 387h1M90 387h1M2 388h1M16 388h1M23 388h1M25 388h1M30 388h1M36 388h1M40 388h1M65 388h1M72 388h2M9 389h1M14 389h1M17 389h1M40 389h1M47 389h1M62 389h1M64 389h1M68 389h1M0 390h1M3 390h2M17 390h1M21 390h1M25 390h2M30 390h2M36 390h2M43 390h1M47 390h1M50 390h1M55 390h1M58 390h1M62 390h2M65 390h1M73 390h1M17 391h1M19 391h1M26 391h1M31 391h1M40 391h1M46 391h2M62 391h2M68 391h1M3 392h2M8 392h2M12 392h1M16 392h2M19 392h2M24 392h3M28 392h1M32 392h1M50 392h1M55 392h1M57 392h1M62 392h2M67 392h1M76 392h1M1 393h1M5 393h1M9 393h1M11 393h2M14 393h1M20 393h1M22 393h1M25 393h1M28 393h1M31 393h2M36 393h1M38 393h1M40 393h2M48 393h2M52 393h2M57 393h1M60 393h1M64 393h1M66 393h1M68 393h1M71 393h3M76 393h1M6 394h1M9 394h2M12 394h1M17 394h3M31 394h1M35 394h1M39 394h1M44 394h2M47 394h1M49 394h1M60 394h1M64 394h1M66 394h1M1 395h3M13 395h1M15 395h1M18 395h1M22 395h1M27 395h1M31 395h1M45 395h2M48 395h1M52 395h1M63 395h1M66 395h1M69 395h1M73 395h1M88 395h1M7 396h1M9 396h1M13 396h1M17 396h1M26 396h1M34 396h1M37 396h1M41 396h1M44 396h1M48 396h1M51 396h1M55 396h1M58 396h1M62 396h1M68 396h1M72 396h1M74 396h3M90 396h1M1 397h1M4 397h1M7 397h1M9 397h2M12 397h1M14 397h1M19 397h1M21 397h1M27 397h1M35 397h1M38 397h2M41 397h2M54 397h1M56 397h1M62 397h1M64 397h2M70 397h1M72 397h1M1 398h1M6 398h1M20 398h1M26 398h1M29 398h1M32 398h1M35 398h1M37 398h1M39 398h1M41 398h2M44 398h1M48 398h3M55 398h1M65 398h1M70 398h4M75 398h1"/>
<path stroke="#6c61b5" d="M4 0h1M8 0h1M16 0h1M21 0h1M23 0h1M25 0h1M34 0h1M38 0h1M40 0h2M46 0h2M52 0h1M55 0h1M61 0h1M67 0h1M71 0h3M76 0h1M0 1h1M3 1h1M8 1h1M13 1h2M18 1h1M26 1h1M28 1h1M31 1h2M44 1h1M52 1h1M55 1h1M57 1h1M65 1h1M67 1h2M70 1h1M72 1h1M75 1h2M1 2h1M3 2h2M12 2h1M17 2h1M24 2h1M30 2h1M38 2h1M63 2h1M67 2h1M2 3h1M7 3h1M17 3h1M21 3h4M29 3h2M38 3h1M42 3h1M48 3h1M55 3h1M57 3h1M59 3h1M73 3h1M75 3h1M90 3h1M5 4h1M7 4h2M10 4h1M12 4h1M24 4h1M26 4h1M38 4h1M40 4h3M52 4h1M55 4h1M62 4h1M67 4h1M70 4h1M73 4h1M75 4h1M6 5h2M17 5h2M21 5h1M30 5h1M63 5h1M67 5h2M90 5h1M5 6h2M9 6h1M15 6h3M19 6h1M23 6h4M28 6h2M32 6h2M37 6h2M49 6h3M54 6h1M57 6h2M61 6h1M71 6h1M88 6h1M5 7h1M13 7h1M20 7h1M29 7h2M33 7h1M53 7h1M60 7h1M62 7h1M70 7h1M72 7h3M0 8h2M5 8h1M8 8h1M10 8h1M17 8h2M35 8h4M41 8h1M46 8h1M62 8h1M4 9h1M6 9h1M22 9h1M26 9h1M36 9h1M38 9h1M55 9h1M63 9h1M76 9h1M90 9h1M9 10h1M11 10h1M23 10h1M27 10h1M29 10h2M37 10h2M41 10h2M59 10h1M61 10h1M65 10h1M67 10h1M74 10h1M7 11h1M36 11h1M59 11h1M66 11h1M73 11h1M20 12h1M22 12h1M42 12h1M53 12h1M56 12h1M65 12h1M71 12h1M9 13h1M12 13h1M29 13h1M64 13h1M5 14h1M31 14h1M54 14h1M22 15h1M25 15h1M30 15h1M33 15h1M42 15h2M46 15h1M49 15h1M57 15h1M59 15h1M63 15h1M69 15h2M75 15h1M6 16h1M10 16h1M19 16h1M22 16h1M25 16h1M30 16h1M34 16h1M38 16h1M40 16h1M42 16h3M46 16h1M50 16h1M60 16h3M88 16h1M9 17h1M16 17h1M21 17h2M35 17h1M37 17h1M40 17h2M43 17h1M50 17h1M55 17h1M57 17h1M59 17h1M68 17h1M20 18h1M27 18h1M39 18h1M71 18h1M55 20h1M3 24h2M6 24h1M10 24h1M12 24h2M15 24h1M18 24h2M22 24h2M26 24h1M44 24h1M61 24h2M64 24h1M73 24h1M76 24h1M5 25h1M7 25h1M24 25h1M32 25h4M40 25h1M44 25h1M48 25h1M50 25h1M61 25h1M66 25h1M72 25h2M14 26h2M17 26h3M26 26h1M32 26h2M37 26h1M42 26h1M50 26h1M54 26h1M62 26h2M72 26h1M74 26h1M88 26h1M90 26h1M15 27h2M27 27h1M35 27h1M40 27h1M47 27h1M49 27h1M73 27h1M75 27h1M3 28h1M10 28h1M14 28h1M22 28h1M46 28h1M49 28h1M70 28h1M15 29h1M33 29h1M35 29h2M44 29h1M72 29h1M14 30h1M28 30h1M34 30h1M43 30h1M49 30h1M65 30h1M68 30h1M0 31h1M6 31h1M8 31h1M16 31h1M32 31h1M34 31h1M43 31h1M48 31h2M53 31h2M74 31h1M90 31h1M0 32h1M13 32h1M21 32h1M26 32h1M31 32h1M35 32h2M42 32h1M47 32h1M59 32h1M61 32h1M72 32h1M74 32h1M0 33h2M7 33h1M33 33h1M36 33h1M50 33h1M56 33h1M72 33h1M4 34h3M10 34h1M12 34h1M18 34h1M20 34h1M22 34h1M24 34h1M40 34h1M42 34h1M49 34h1M54 34h1M60 34h1M62 34h1M74 34h1M8 35h1M18 35h2M46 35h1M52 35h1M72 35h1M31 36h1M33 36h1M66 36h1M11 37h1M19 37h1M28 37h1M32 37h1M36 37h1M72 37h1M14 38h1M19 38h1M26 38h1M42 38h1M57 38h1M65 38h1M89 38h1M3 39h1M6 39h1M11 39h1M20 39h1M28 39h1M33 39h1M47 39h2M0 40h1M5 40h1M18 40h1M20 40h1M23 40h1M26 40h1M33 40h2M36 40h1M66 40h1M75 40h1M6 41h1M21 41h1M25 41h1M36 41h2M43 41h1M53 41h1M59 41h1M2 42h1M5 42h1M15 42h2M19 42h1M26 42h1M34 42h1M48 42h1M61 42h1M72 42h1M76 42h1M48 43h1M62 43h1M79 43h1M88 43h1M12 44h1M14 44h1M23 44h1M26 44h1M34 44h1M38 44h1M44 44h1M46 44h1M59 44h1M68 44h1M4 45h1M11 45h1M16 45h1M43 45h2M55 45h1M57 45h1M68 45h1M73 45h1M16 46h1M44 46h1M71 46h1M6 47h1M12 47h2M16 47h3M33 47h2M45 47h1M74 47h1M9 48h1M13 48h1M17 48h1M19 48h1M32 48h2M38 48h1M46 48h1M1 49h1M18 49h1M32 49h1M34 49h1M37 49h2M57 49h1M90 49h1M3 50h1M21 50h1M27 50h1M32 50h1M41 50h1M50 50h1M60 50h1M62 50h1M66 50h1M70 50h1M75 50h1M84 50h1M5 51h1M16 51h1M19 51h1M33 51h1M36 51h1M71 51h1M12 52h1M14 52h1M16 52h1M19 52h1M53 52h1M73 52h1M20 53h2M53 53h1M67 53h1M89 53h1M10 54h1M16 54h1M19 54h1M36 54h1M41 54h1M61 54h1M2 55h2M5 55h4M12 55h1M15 55h1M21 55h1M25 55h1M29 55h1M35 55h1M40 55h1M44 55h1M47 55h1M49 55h1M55 55h2M64 55h1M73 55h1M11 56h1M28 56h1M59 56h1M72 56h1M1 57h1M4 57h1M12 57h1M24 57h1M31 57h1M37 57h2M40 57h1M2 58h1M35 58h1M39 58h2M44 58h1M60 58h1M13 59h1M21 59h1M23 59h2M40 59h1M46 59h1M53 59h1M62 59h1M65 59h1M70 59h1M74 59h1M1 60h1M5 60h1M7 60h1M11 60h1M13 60h1M17 60h1M40 60h1M44 60h1M47 60h1M72 60h1M89 60h2M2 61h2M6 61h1M32 61h1M35 61h1M52 61h1M58 61h1M64 61h1M32 62h1M34 62h1M44 62h1M60 62h1M4 63h2M8 63h1M13 63h1M30 63h1M36 63h1M49 63h1M62 63h1M69 63h1M71 63h1M88 63h2M0 64h1M28 64h1M40 64h2M45 64h1M48 64h1M19 65h1M21 65h1M26 65h1M28 65h1M33 65h1M38 65h1M40 65h1M42 65h1M45 65h1M52 65h1M67 65h2M19 66h1M30 66h1M42 66h1M57 66h1M61 66h1M70 66h1M3 67h1M8 67h1M15 67h1M23 67h3M34 67h1M41 67h1M53 67h1M59 67h1M64 67h1M1 68h1M6 68h2M11 68h1M14 68h1M17 68h1M22 68h2M37 68h1M44 68h1M49 68h1M66 68h1M71 68h1M5 69h1M16 69h1M18 69h1M34 69h1M55 69h1M69 69h1M90 69h1M4 70h2M7 70h2M28 70h1M67 70h1M16 71h1M73 71h1M8 72h1M30 72h1M36 72h1M48 72h1M67 72h1M71 72h1M88 72h1M0 73h1M2 73h1M5 73h1M8 73h2M17 73h1M30 73h1M48 73h1M52 73h2M60 73h1M11 74h1M14 74h5M47 74h2M1 75h1M8 75h1M15 75h2M18 75h2M22 75h2M30 75h1M37 75h1M45 75h1M61 75h1M88 75h1M12 76h1M20 76h2M26 76h1M29 76h1M41 76h1M44 76h2M47 76h1M56 76h1M62 76h1M10 77h1M13 77h1M18 77h1M26 77h1M37 77h1M0 78h2M29 78h1M39 78h1M43 78h1M47 78h1M61 78h1M68 78h1M74 78h1M0 79h1M6 79h2M14 79h1M57 79h1M64 79h2M5 80h1M14 80h1M28 80h1M31 80h1M33 80h1M45 80h1M31 81h1M47 81h1M0 82h1M4 82h2M17 82h1M46 82h1M71 82h1M73 82h1M90 82h1M0 83h1M19 83h2M33 83h1M41 83h1M44 83h1M54 83h1M60 83h1M72 83h1M75 83h2M14 84h1M18 84h1M24 84h1M41 84h1M49 84h1M52 84h1M68 84h1M4 85h1M20 85h1M22 85h1M36 85h1M48 85h1M51 85h1M73 85h1M75 85h1M17 86h1M28 86h1M43 86h1M45 86h1M1 87h1M4 87h1M12 87h1M32 87h1M37 87h1M44 87h1M62 87h1M71 87h2M2 88h2M12 88h1M14 88h1M20 88h1M29 88h1M40 88h1M47 88h1M51 88h1M64 88h1M14 89h1M16 89h2M26 89h1M28 89h2M46 89h2M88 89h1M1 90h1M6 90h1M13 90h1M27 90h1M30 90h1M37 90h1M43 90h1M46 90h1M48 90h1M67 90h2M2 91h1M5 91h3M15 91h1M23 91h1M57 91h2M74 91h2M88 91h1M90 91h1M0 92h1M5 92h1M10 92h1M13 92h1M15 92h1M18 92h1M23 92h1M31 92h2M35 92h1M37 92h1M44 92h1M50 92h1M68 92h1M74 92h1M76 92h1M4 93h2M17 93h1M21 93h2M30 93h1M40 93h1M46 93h2M49 93h1M56 93h1M64 93h1M71 93h1M76 93h1M4 94h1M7 94h2M10 94h1M16 94h1M21 94h1M23 94h1M30 94h1M36 94h1M38 94h1M40 94h2M43 94h1M49 94h1M68 94h1M72 94h1M77 94h1M90 94h1M4 95h1M14 95h1M24 95h1M28 95h1M32 95h2M35 95h1M37 95h1M64 95h1M76 95h1M2 96h1M13 96h2M28 96h1M33 96h1M35 96h1M39 96h2M45 96h2M51 96h1M62 96h1M70 96h1M88 96h1M90 96h1M1 97h1M4 97h1M6 97h1M20 97h1M24 97h1M32 97h1M34 97h1M38 97h1M40 97h1M43 97h1M54 97h1M61 97h1M73 97h1M90 97h1M0 98h1M8 98h1M19 98h1M21 98h1M23 98h1M34 98h1M44 98h1M47 98h2M59 98h1M63 98h3M68 98h1M4 99h1M7 99h1M14 99h1M18 99h1M47 99h1M59 99h1M62 99h1M65 99h1M72 99h1M89 99h1M9 100h1M14 100h1M24 100h1M26 100h1M28 100h1M31 100h1M33 100h2M54 100h1M72 100h1M76 100h1M89 100h1M0 101h1M5 101h1M8 101h1M22 101h1M25 101h1M27 101h1M32 101h1M35 101h1M45 101h1M61 101h1M88 101h1M90 101h1M0 102h1M3 102h1M8 102h1M12 102h1M18 102h1M24 102h1M33 102h1M47 102h1M52 102h1M62 102h1M90 102h1M28 103h1M32 103h1M35 103h2M41 103h1M54 103h1M58 103h1M61 103h1M73 103h1M77 103h1M50 104h2M58 104h1M60 104h2M63 104h1M73 104h1M80 104h1M84 104h1M19 105h1M45 105h1M51 105h1M60 105h1M62 105h1M66 105h2M69 105h1M76 105h1M33 106h1M60 106h1M66 106h2M71 106h1M74 106h1M6 107h1M36 107h1M47 107h1M56 107h2M59 107h1M63 107h2M68 107h1M72 107h1M89 107h2M42 108h1M57 108h1M69 108h1M71 108h1M75 108h1M9 109h1M45 109h1M53 109h1M64 109h2M69 109h2M72 109h1M81 109h1M9 110h1M39 110h1M48 110h1M55 110h1M60 110h1M66 110h1M70 110h1M72 110h1M75 110h1M86 110h1M88 110h1M90 110h1M0 111h1M5 111h1M12 111h1M14 111h1M19 111h1M22 111h2M31 111h2M40 111h1M48 111h2M60 111h1M63 111h1M79 111h1M0 112h2M23 112h1M26 112h1M30 112h1M33 112h2M37 112h1M42 112h1M56 112h1M64 112h1M70 112h1M73 112h1M80 112h1M84 112h1M87 112h1M11 113h1M14 113h2M24 113h1M40 113h1M50 113h1M59 113h1M0 114h1M5 114h1M11 114h1M24 114h1M34 114h1M49 114h1M52 114h1M54 114h1M61 114h2M65 114h1M84 114h2M6 115h1M33 115h1M35 115h2M48 115h1M61 115h2M64 115h1M67 115h1M69 115h1M79 115h1M3 116h1M14 116h1M25 116h1M31 116h1M33 116h2M48 116h2M67 116h1M80 116h2M89 116h1M3 117h1M27 117h1M41 117h1M47 117h1M59 117h1M62 117h1M69 117h2M72 117h1M75 117h1M84 117h1M87 117h1M89 117h1M1 118h1M12 118h1M17 118h2M24 118h1M34 118h1M48 118h1M51 118h2M59 118h1M62 118h1M65 118h1M72 118h2M84 118h1M3 119h3M8 119h2M22 119h2M26 119h2M33 119h4M42 119h3M48 119h2M52 119h1M4 120h1M25 120h2M29 120h1M34 120h1M38 120h1M56 120h2M63 120h2M72 120h3M19 121h1M28 121h2M38 121h1M40 121h1M43 121h1M54 121h1M56 121h1M75 121h1M2 122h1M7 122h1M16 122h1M23 122h1M26 122h1M29 122h1M31 122h1M36 122h1M40 122h1M57 122h1M89 122h1M2 123h1M17 123h1M21 123h1M32 123h3M38 123h1M43 123h2M48 123h2M54 123h1M72 123h2M90 123h1M6 124h3M10 124h1M12 124h1M15 124h1M23 124h1M28 124h1M38 124h2M41 124h1M43 124h2M48 124h1M52 124h1M62 124h1M84 124h3M3 125h1M5 125h1M17 125h1M19 125h3M31 125h1M33 125h1M40 125h1M46 125h1M49 125h1M58 125h1M63 125h1M72 125h1M0 126h1M7 126h1M10 126h2M17 126h4M29 126h2M34 126h1M40 126h2M44 126h1M46 126h1M48 126h1M58 126h4M63 126h1M72 126h2M76 126h1M3 127h1M5 127h1M13 127h1M15 127h1M19 127h1M22 127h1M24 127h1M34 127h1M37 127h1M40 127h2M45 127h1M56 127h1M61 127h1M66 127h1M76 127h1M9 128h1M13 128h2M16 128h1M32 128h1M35 128h1M44 128h1M51 128h1M54 128h1M62 128h1M65 128h1M90 128h1M0 129h1M18 129h1M22 129h1M40 129h1M46 129h1M48 129h1M67 129h2M73 129h1M0 130h1M7 130h1M10 130h1M15 130h2M18 130h1M20 130h2M37 130h1M42 130h1M48 130h1M69 130h1M72 130h1M6 131h1M18 131h1M24 131h1M26 131h1M29 131h1M31 131h1M36 131h1M43 131h1M47 131h2M53 131h2M72 131h1M3 132h1M5 132h1M14 132h1M18 132h1M20 132h2M23 132h2M32 132h1M39 132h3M45 132h2M51 132h1M53 132h1M61 132h1M68 132h2M72 132h1M90 132h1M0 133h1M5 133h1M7 133h1M11 133h1M16 133h1M20 133h1M28 133h1M34 133h2M40 133h1M42 133h1M53 133h2M58 133h1M65 133h1M67 133h1M74 133h2M88 133h1M1 134h1M6 134h1M9 134h1M13 134h1M15 134h1M17 134h1M20 134h3M33 134h2M42 134h1M46 134h2M51 134h1M57 134h1M65 134h1M67 134h1M73 134h1M88 134h1M90 134h1M0 135h1M3 135h2M12 135h1M19 135h1M22 135h1M25 135h2M30 135h1M36 135h3M44 135h1M47 135h1M51 135h2M57 135h2M61 135h1M64 135h2M69 135h1M74 135h1M0 136h5M6 136h1M10 136h1M21 136h2M25 136h1M29 136h2M35 136h1M41 136h1M44 136h1M48 136h1M51 136h3M58 136h1M61 136h2M64 136h2M69 136h1M71 136h1M76 136h1M88 136h1M0 137h2M3 137h1M5 137h2M9 137h1M14 137h1M21 137h1M37 137h1M44 137h1M47 137h1M51 137h1M57 137h2M61 137h2M64 137h2M71 137h2M74 137h1M88 137h1M0 138h1M21 138h1M25 138h2M31 138h1M35 138h3M40 138h1M43 138h1M47 138h1M50 138h3M58 138h1M61 138h2M65 138h1M69 138h1M71 138h1M76 138h1M88 138h1M0 139h1M8 139h2M31 139h1M35 139h4M41 139h1M44 139h1M48 139h1M50 139h2M57 139h2M62 139h1M64 139h1M69 139h1M74 139h1M76 139h1M88 139h1M1 140h4M19 140h1M21 140h2M36 140h1M41 140h1M44 140h1M50 140h3M55 140h1M58 140h1M62 140h1M74 140h1M0 141h1M2 141h2M5 141h1M9 141h1M14 141h1M19 141h1M21 141h1M23 141h1M25 141h2M35 141h2M38 141h1M41 141h1M44 141h1M48 141h1M52 141h1M58 141h1M62 141h1M64 141h2M71 141h1M75 141h1M1 142h3M10 142h1M14 142h1M26 142h1M31 142h1M35 142h4M44 142h1M47 142h2M51 142h2M57 142h1M63 142h2M69 142h1M71 142h1M74 142h1M76 142h1M88 142h1M3 143h1M8 143h3M19 143h1M26 143h1M30 143h1M36 143h2M39 143h2M47 143h2M50 143h1M57 143h1M62 143h1M64 143h1M69 143h1M74 143h1M76 143h1M88 143h1M5 144h1M7 144h1M13 144h1M15 144h2M23 144h2M32 144h1M41 144h1M60 144h1M7 145h2M14 145h1M25 145h1M35 145h1M43 145h1M51 145h1M64 145h1M7 146h1M16 146h1M25 146h3M30 146h1M36 146h1M45 146h1M48 146h1M64 146h1M67 146h1M70 146h1M90 146h1M23 147h1M27 147h1M55 147h1M65 147h1M90 147h1M1 148h1M3 148h1M13 148h2M16 148h1M19 148h2M23 148h1M41 148h1M44 148h1M71 148h1M74 148h1M88 148h1M11 149h1M14 149h1M17 149h2M24 149h2M42 149h1M51 149h1M64 149h1M71 149h1M76 149h1M5 150h1M23 150h1M27 150h1M31 150h1M38 150h1M53 150h2M76 150h1M1 151h1M7 151h2M10 151h1M16 151h1M31 151h1M42 151h1M57 151h2M0 152h1M3 152h1M5 152h1M9 152h1M14 152h1M17 152h2M22 152h1M25 152h1M44 152h1M46 152h1M55 152h1M70 152h1M73 152h1M4 153h1M20 153h1M31 153h1M43 153h1M57 153h1M64 153h1M88 153h1M5 154h1M9 154h1M15 154h1M27 154h1M31 154h1M35 154h1M38 154h1M40 154h1M58 154h1M1 155h1M15 155h3M19 155h1M22 155h2M28 155h1M36 155h1M43 155h1M46 155h2M51 155h1M55 155h1M62 155h1M67 155h1M69 155h1M76 155h1M4 156h1M9 156h1M11 156h1M14 156h2M23 156h1M31 156h1M52 156h2M56 156h1M58 156h2M63 156h1M66 156h1M74 156h1M15 157h1M17 157h1M21 157h1M27 157h1M36 157h1M39 157h2M42 157h1M49 157h1M57 157h3M70 157h1M72 157h1M76 157h1M88 157h3M4 158h1M9 158h1M15 158h1M29 158h1M34 158h1M36 158h2M40 158h1M45 158h1M58 158h1M65 158h1M71 158h1M74 158h1M88 158h1M14 159h1M28 159h2M39 159h1M45 159h1M60 159h1M63 159h2M70 159h1M88 159h1M4 160h1M29 160h1M31 160h1M46 160h1M48 160h1M50 160h1M65 160h1M2 161h1M10 161h1M22 161h1M30 161h1M50 161h1M53 161h1M60 161h1M64 161h2M68 161h2M74 161h1M2 162h1M7 162h1M14 162h1M33 162h1M37 162h2M46 162h1M60 162h2M69 162h1M1 163h1M3 163h1M6 163h1M10 163h1M13 163h2M17 163h1M33 163h1M40 163h1M47 163h2M51 163h1M61 163h1M68 163h3M73 163h1M75 163h1M6 164h1M8 164h2M11 164h1M25 164h1M27 164h2M39 164h1M43 164h1M67 164h1M22 165h1M24 165h1M39 165h1M48 165h1M55 165h1M61 165h1M65 165h1M10 166h2M18 166h1M24 166h4M44 166h1M48 166h1M55 166h1M60 166h1M70 166h1M5 167h1M62 167h1M64 167h1M67 167h1M75 167h1M90 167h1M9 168h1M21 168h2M30 168h1M44 168h1M54 168h2M57 168h1M60 168h1M63 168h2M72 168h1M75 168h1M79 168h2M88 168h1M14 169h1M16 169h1M44 169h1M51 169h2M60 169h1M67 169h1M89 169h1M38 170h3M54 170h1M59 170h2M65 170h2M69 170h1M72 170h1M75 170h1M78 170h3M89 170h1M21 171h1M47 171h2M57 171h1M67 171h1M75 171h1M82 171h1M5 172h1M11 172h1M37 172h1M43 172h1M50 172h1M53 172h1M64 172h3M68 172h1M70 172h1M72 172h1M76 172h1M88 172h1M4 173h1M31 173h1M53 173h1M55 173h1M58 173h1M90 173h1M25 174h1M55 174h1M57 174h1M61 174h1M71 174h2M74 174h1M76 174h1M83 174h1M86 174h1M34 175h1M62 175h1M64 175h1M68 175h1M70 175h1M74 175h1M33 176h1M49 176h1M56 176h1M67 176h1M70 176h1M2 177h2M11 177h1M30 177h1M34 177h1M36 177h1M50 177h1M52 177h1M61 177h1M68 177h1M89 177h1M3 178h1M26 178h1M34 178h1M36 178h1M50 178h1M75 178h1M78 178h1M84 178h1M17 179h2M50 179h1M62 179h1M73 179h1M4 180h1M16 180h1M22 180h1M48 180h1M59 180h1M73 180h1M75 180h1M85 180h1M90 180h1M31 181h1M53 181h1M55 181h1M58 181h2M61 181h1M63 181h7M72 181h1M74 181h1M79 181h1M82 181h1M87 181h1M26 182h1M30 182h1M37 182h1M43 182h1M51 182h1M55 182h1M57 182h2M61 182h3M66 182h1M74 182h1M5 183h1M26 183h1M54 183h4M73 183h1M82 183h1M88 183h1M24 184h1M26 184h1M52 184h1M54 184h1M57 184h3M63 184h2M66 184h1M70 184h2M73 184h1M88 184h1M35 185h1M39 185h1M50 185h1M54 185h1M61 185h1M66 185h1M78 185h2M84 185h1M89 185h1M2 186h1M12 186h1M17 186h1M22 186h1M31 186h1M33 186h1M42 186h1M62 186h1M64 186h1M69 186h1M75 186h1M82 186h1M1 187h1M10 187h1M46 187h1M57 187h2M64 187h1M69 187h1M81 187h2M16 188h1M32 188h1M41 188h1M50 188h1M52 188h1M54 188h1M57 188h1M59 188h1M61 188h2M64 188h1M72 188h1M90 188h1M2 189h1M23 189h1M27 189h1M46 189h1M51 189h1M55 189h1M58 189h1M88 189h1M5 190h1M35 190h1M53 190h1M59 190h2M65 190h1M73 190h1M76 190h1M89 190h1M20 191h1M28 191h1M52 191h1M63 191h1M72 191h1M87 191h1M11 192h2M29 192h1M36 192h1M51 192h1M54 192h1M76 192h1M78 192h1M82 192h1M18 193h1M26 193h2M32 193h1M55 193h1M66 193h3M74 193h1M10 194h1M18 194h1M26 194h2M33 194h1M60 194h1M63 194h1M65 194h1M69 194h1M89 194h1M30 195h1M49 195h1M51 195h1M59 195h3M72 195h1M74 195h1M89 195h1M11 196h1M26 196h1M32 196h1M59 196h1M69 196h1M72 196h1M15 197h1M28 197h1M49 197h1M72 197h1M76 197h1M16 198h1M35 198h1M44 198h1M57 198h1M61 198h1M68 198h1M71 198h1M75 198h1M16 199h1M34 199h1M63 199h1M68 199h1M74 199h1M77 199h1M85 199h1M38 200h1M42 200h1M46 200h1M50 200h1M60 200h1M68 200h1M76 200h1M2 201h1M14 201h1M25 201h1M44 201h1M50 201h1M61 201h1M69 201h1M84 201h1M28 202h1M31 202h1M51 202h1M54 202h1M57 202h1M59 202h1M67 202h2M72 202h3M76 202h1M89 202h1M3 203h1M8 203h1M23 203h2M31 203h1M35 203h2M56 203h3M64 203h1M67 203h1M71 203h1M11 204h1M18 204h1M43 204h1M52 204h2M75 204h2M22 205h1M47 205h1M59 205h1M67 205h1M90 205h1M8 206h1M23 206h1M48 206h1M52 206h1M54 206h1M61 206h1M64 206h2M67 206h1M69 206h1M74 206h1M76 206h1M88 206h1M23 207h1M26 207h1M39 207h2M50 207h1M60 207h1M62 207h1M66 207h3M74 207h1M0 208h1M19 208h1M21 208h1M28 208h1M34 208h1M39 208h2M43 208h1M47 208h1M50 208h1M52 208h1M55 208h1M58 208h3M64 208h1M68 208h1M70 208h2M73 208h1M90 208h1M5 209h1M31 209h1M40 209h1M42 209h2M47 209h2M53 209h1M57 209h1M61 209h2M68 209h1M70 209h1M2 210h1M13 210h1M19 210h1M43 210h1M50 210h1M53 210h1M57 210h2M61 210h1M70 210h1M76 210h1M90 210h1M1 211h1M8 211h1M13 211h1M20 211h1M53 211h1M63 211h1M66 211h1M75 211h1M84 211h1M6 212h1M11 212h1M16 212h2M58 212h1M60 212h1M64 212h1M66 212h2M72 212h1M75 212h1M88 212h1M7 213h1M12 213h1M31 213h1M34 213h1M37 213h1M44 213h1M46 213h1M48 213h1M51 213h2M57 213h1M62 213h2M65 213h1M69 213h1M76 213h1M7 215h1M11 215h1M14 215h1M30 215h1M36 215h2M40 215h1M45 215h1M51 215h1M55 215h2M60 215h1M65 215h1M72 215h1M75 215h2M46 216h2M54 216h1M58 216h2M62 216h2M68 216h1M72 216h2M31 217h1M40 217h1M43 217h2M46 217h1M55 217h1M59 217h1M65 217h1M67 217h1M71 217h1M90 217h1M3 218h1M42 218h2M45 218h1M58 218h1M63 218h1M65 218h1M69 218h1M71 218h1M73 218h1M2 219h2M8 219h2M21 219h1M27 219h1M40 219h1M42 219h1M45 219h1M48 219h2M56 219h1M62 219h1M74 219h1M87 219h1M7 220h2M17 220h1M33 220h1M37 220h1M55 220h1M60 220h1M66 220h1M71 220h1M75 220h2M1 221h2M9 221h1M12 221h1M17 221h1M34 221h1M52 221h2M57 221h1M63 221h1M70 221h1M73 221h1M90 221h1M1 222h1M28 222h1M34 222h1M47 222h1M55 222h1M57 222h1M65 222h1M70 222h1M84 222h1M0 223h1M7 223h1M13 223h1M16 223h1M18 223h1M26 223h1M41 223h2M50 223h1M57 223h1M63 223h1M65 223h1M70 223h1M76 223h1M78 223h2M85 223h1M4 224h1M7 224h1M9 224h1M11 224h1M16 224h1M20 224h2M32 224h1M53 224h1M55 224h1M58 224h1M60 224h1M65 224h1M71 224h1M90 224h1M10 225h1M12 225h1M23 225h1M25 225h2M37 225h1M52 225h1M60 225h1M73 225h1M79 225h4M0 226h1M3 226h2M11 226h1M15 226h2M41 226h1M51 226h1M55 226h1M57 226h1M60 226h1M64 226h1M70 226h1M73 226h1M75 226h1M82 226h1M86 226h1M89 226h1M5 227h1M7 227h1M12 227h1M21 227h1M36 227h1M38 227h2M41 227h1M47 227h1M59 227h2M64 227h2M72 227h1M75 227h2M78 227h1M82 227h1M88 227h1M90 227h1M0 228h1M8 228h1M10 228h1M14 228h1M18 228h1M21 228h1M25 228h2M34 228h1M43 228h1M46 228h1M51 228h2M55 228h1M59 228h1M64 228h1M67 228h1M69 228h2M72 228h3M0 229h1M10 229h2M17 229h2M40 229h2M49 229h2M56 229h1M58 229h1M66 229h1M68 229h1M73 229h1M82 229h1M88 229h1M0 230h1M5 230h1M13 230h1M37 230h1M51 230h1M57 230h1M60 230h1M67 230h1M90 230h1M5 231h1M16 231h1M22 231h1M35 231h1M52 231h2M58 231h1M73 231h2M89 231h1M5 232h1M10 232h1M23 232h1M28 232h1M31 232h1M34 232h1M37 232h1M40 232h1M44 232h1M58 232h3M63 232h1M65 232h1M72 232h2M76 232h1M28 233h1M48 233h1M51 233h1M79 233h1M87 233h1M2 234h1M10 234h1M22 234h1M25 234h1M37 234h1M61 234h1M74 234h1M20 235h1M37 235h1M47 235h1M54 235h1M0 236h1M5 236h1M8 236h1M10 236h1M21 236h1M28 236h1M51 236h1M54 236h2M61 236h1M74 236h3M12 237h1M20 237h1M22 237h1M32 237h2M52 237h2M58 237h2M64 237h1M68 237h1M72 237h1M75 237h1M84 237h1M86 237h1M90 237h1M0 238h1M3 238h1M30 238h1M33 238h1M65 238h2M22 239h1M28 239h1M30 239h2M34 239h1M50 239h1M57 239h1M76 239h1M89 239h2M1 240h2M12 240h1M21 240h1M25 240h1M30 240h1M35 240h1M38 240h1M51 240h1M54 240h1M58 240h1M60 240h1M64 240h2M67 240h3M71 240h1M9 241h1M21 241h2M30 241h1M37 241h2M42 241h1M44 241h2M53 241h1M55 241h2M58 241h1M60 241h2M63 241h1M69 241h1M73 241h1M80 241h1M89 241h2M3 242h1M6 242h1M9 242h2M22 242h1M37 242h1M47 242h1M50 242h1M52 242h1M58 242h1M73 242h1M75 242h1M88 242h1M5 243h1M10 243h1M17 243h1M22 243h1M43 243h1M71 243h1M73 243h1M78 243h1M81 243h1M83 243h1M88 243h1M10 244h1M14 244h1M18 244h2M22 244h1M40 244h1M59 244h1M64 244h1M68 244h1M78 244h1M82 244h1M88 244h1M13 245h1M16 245h1M32 245h1M38 245h1M46 245h1M50 245h1M61 245h1M65 245h1M68 245h1M73 245h2M78 245h1M88 245h1M90 245h1M0 246h1M11 246h2M14 246h1M19 246h1M21 246h1M23 246h1M25 246h1M54 246h1M61 246h1M73 246h1M5 247h1M12 247h1M49 247h1M62 247h1M71 247h4M76 247h1M2 248h1M8 248h1M16 248h1M20 248h1M28 248h1M52 248h1M59 248h2M63 248h1M71 248h1M30 249h1M37 249h1M40 249h1M46 249h1M70 249h1M88 249h1M12 250h1M19 250h1M46 250h1M49 250h1M64 250h1M68 250h1M71 250h1M2 251h1M8 251h1M10 251h1M19 251h2M23 251h1M29 251h1M34 251h3M43 251h1M57 251h1M60 251h1M62 251h2M66 251h1M83 251h1M87 251h1M89 251h1M0 252h1M11 252h1M17 252h1M42 252h2M54 252h1M61 252h1M66 252h1M83 252h1M89 252h2M4 253h1M12 253h1M14 253h3M26 253h2M30 253h1M39 253h1M43 253h1M45 253h1M56 253h1M58 253h2M67 253h1M79 253h1M83 253h1M86 253h2M6 254h1M8 254h2M13 254h1M27 254h1M33 254h1M37 254h1M39 254h1M48 254h1M57 254h1M73 254h1M88 254h1M2 255h1M4 255h1M15 255h1M19 255h1M38 255h1M43 255h1M53 255h1M73 255h1M75 255h1M3 256h1M5 256h1M7 256h1M14 256h1M18 256h1M20 256h1M22 256h1M31 256h2M36 256h1M42 256h1M53 256h1M62 256h1M64 256h1M67 256h1M72 256h1M2 257h1M11 257h1M18 257h1M21 257h2M26 257h1M40 257h1M48 257h1M53 257h1M62 257h2M73 257h1M75 257h1M82 257h1M6 258h2M23 258h1M29 258h1M35 258h1M40 258h1M43 258h2M59 258h1M63 258h1M73 258h1M86 258h1M1 259h1M3 259h1M6 259h1M16 259h2M20 259h1M23 259h1M27 259h1M32 259h1M35 259h1M37 259h1M43 259h1M46 259h1M53 259h1M74 259h1M0 260h1M7 260h1M10 260h1M23 260h1M29 260h1M32 260h2M47 260h3M52 260h1M56 260h1M61 260h2M64 260h1M66 260h2M74 260h1M10 261h1M17 261h1M20 261h1M22 261h1M26 261h1M28 261h1M33 261h1M38 261h1M46 261h1M65 261h1M67 261h1M14 262h2M19 262h2M23 262h1M27 262h1M35 262h1M41 262h2M47 262h1M57 262h1M66 262h1M68 262h1M88 262h1M0 263h2M7 263h1M18 263h1M20 263h1M26 263h1M30 263h2M35 263h1M38 263h1M41 263h1M43 263h2M48 263h1M54 263h1M56 263h2M59 263h1M71 263h1M73 263h1M4 264h1M6 264h3M12 264h1M30 264h1M43 264h1M59 264h1M68 264h1M88 264h1M7 265h1M17 265h1M20 265h1M24 265h1M33 265h2M46 265h2M49 265h1M51 265h1M56 265h1M62 265h1M85 265h1M4 266h1M8 266h3M18 266h1M32 266h1M37 266h1M42 266h1M44 266h1M51 266h1M56 266h1M64 266h1M72 266h1M0 267h1M9 267h1M22 267h1M25 267h1M32 267h1M44 267h1M46 267h1M48 267h1M51 267h1M62 267h1M81 267h1M83 267h1M86 267h1M2 268h1M5 268h1M10 268h1M16 268h1M19 268h1M21 268h1M23 268h1M26 268h1M31 268h1M36 268h1M40 268h1M48 268h1M51 268h1M59 268h1M90 268h1M4 269h1M8 269h2M11 269h1M17 269h1M30 269h1M35 269h2M40 269h1M43 269h1M47 269h1M67 269h1M82 269h1M90 269h1M0 270h1M9 270h1M37 270h2M40 270h1M42 270h1M48 270h1M0 271h2M4 271h1M10 271h1M25 271h1M34 271h2M49 271h1M52 271h1M76 271h1M80 271h1M88 271h1M4 272h2M7 272h1M9 272h1M12 272h1M21 272h1M25 272h2M28 272h1M31 272h2M36 272h1M43 272h1M48 272h1M52 272h1M67 272h1M75 272h1M77 272h1M34 273h1M54 273h1M59 273h2M63 273h1M70 273h3M76 273h1M88 273h1M53 274h4M63 274h1M72 274h1M52 275h2M57 275h1M59 275h1M76 275h1M55 276h2M65 276h1M70 276h1M53 277h1M55 277h1M70 277h1M53 278h1M55 278h1M57 278h1M53 279h1M56 279h1M60 279h1M9 280h1M16 280h1M19 280h1M25 280h1M27 280h1M30 280h1M37 280h1M44 280h1M54 280h1M56 280h1M69 280h4M76 280h1M5 281h1M10 281h1M12 281h1M15 281h1M20 281h1M26 281h1M29 281h1M33 281h1M35 281h1M38 281h1M46 281h3M52 281h1M69 281h1M74 281h1M17 282h1M22 282h1M28 282h1M31 282h1M33 282h1M36 282h1M39 282h1M61 282h1M67 282h1M86 282h1M0 283h1M4 283h1M6 283h1M19 283h1M22 283h1M31 283h2M37 283h1M39 283h1M43 283h1M46 283h1M55 283h1M63 283h1M65 283h1M69 283h1M74 283h1M76 283h1M90 283h1M1 284h1M9 284h1M21 284h1M25 284h1M32 284h1M40 284h1M49 284h1M52 284h1M60 284h1M67 284h1M74 284h1M90 284h1M7 285h1M9 285h1M18 285h1M23 285h1M28 285h1M33 285h1M40 285h1M42 285h2M49 285h1M51 285h1M60 285h1M67 285h1M74 285h1M87 285h1M0 289h1M3 289h1M13 289h1M17 289h1M26 289h1M28 289h1M30 289h1M39 289h2M46 289h1M51 289h1M89 289h1M6 290h1M12 290h1M17 290h2M22 290h2M30 290h2M44 290h1M46 290h1M51 290h1M76 290h1M90 290h1M1 291h1M6 291h1M10 291h1M16 291h1M20 291h1M24 291h3M28 291h1M35 291h1M42 291h1M51 291h1M57 291h1M67 291h2M71 291h1M75 291h1M5 292h1M7 292h1M13 292h1M32 292h1M35 292h1M37 292h2M56 292h1M62 292h1M67 292h1M74 292h2M0 293h1M30 293h1M32 293h1M38 293h1M47 293h1M54 293h1M59 293h2M64 293h1M74 293h1M8 294h1M14 294h1M19 294h1M22 294h1M25 294h1M28 294h2M34 294h1M41 294h3M46 294h2M51 294h1M56 294h1M73 294h1M89 294h1M0 295h2M8 295h2M15 295h1M20 295h1M25 295h1M28 295h1M32 295h2M37 295h2M42 295h2M46 295h2M49 295h1M51 295h1M57 295h1M67 295h1M89 295h1M5 296h1M9 296h1M15 296h1M17 296h1M19 296h4M26 296h2M38 296h1M44 296h1M47 296h1M49 296h1M51 296h1M53 296h2M59 296h1M63 296h1M69 296h1M90 296h1M4 297h1M9 297h1M11 297h1M14 297h1M20 297h2M23 297h1M32 297h1M40 297h2M46 297h1M56 297h1M66 297h1M68 297h2M73 297h1M18 298h1M20 298h1M26 298h3M31 298h2M34 298h1M36 298h2M39 298h1M42 298h1M44 298h1M52 298h1M62 298h1M1 299h1M3 299h3M12 299h1M16 299h1M24 299h1M37 299h1M46 299h1M48 299h1M51 299h1M63 299h2M68 299h3M75 299h1M84 299h1M90 299h1M0 300h2M4 300h1M6 300h1M10 300h1M17 300h2M65 300h1M76 300h1M90 300h1M0 301h1M24 301h1M26 301h1M28 301h1M30 301h4M37 301h2M42 301h1M48 301h1M50 301h1M52 301h2M60 301h1M85 301h1M1 302h1M12 302h1M18 302h1M20 302h1M41 302h2M44 302h1M46 302h2M69 302h1M72 302h1M76 302h2M1 303h1M6 303h1M16 303h1M30 303h1M32 303h1M44 303h1M46 303h1M57 303h1M87 303h1M89 303h1M1 304h1M14 304h1M16 304h4M24 304h1M27 304h1M30 304h1M32 304h1M37 304h2M64 304h1M74 304h3M9 305h1M17 305h1M60 305h1M90 305h1M5 306h1M14 306h1M29 306h1M47 306h1M51 306h2M65 306h1M89 306h1M2 307h1M5 307h1M9 307h1M13 307h2M18 307h1M26 307h1M32 307h1M36 307h1M46 307h1M48 307h1M50 307h1M55 307h1M63 307h3M73 307h1M90 307h1M17 308h2M29 308h1M37 308h1M44 308h1M55 308h1M68 308h1M73 308h1M89 308h1M1 309h1M7 309h1M18 309h2M51 309h1M55 309h1M57 309h1M66 309h1M71 309h1M7 310h1M17 310h1M32 310h1M34 310h1M39 310h1M51 310h2M55 310h1M63 310h1M90 310h1M3 311h1M8 311h1M12 311h1M15 311h1M17 311h2M25 311h1M33 311h1M39 311h2M43 311h1M46 311h3M58 311h1M72 311h1M27 312h1M48 312h1M52 312h1M62 312h1M72 312h1M89 312h1M9 313h2M12 313h1M16 313h1M22 313h1M37 313h1M62 313h1M75 313h2M83 313h2M89 313h1M1 314h1M9 314h2M16 314h1M18 314h1M32 314h1M40 314h2M43 314h2M56 314h1M60 314h1M72 314h1M0 315h1M2 315h1M9 315h1M11 315h1M15 315h1M18 315h3M35 315h1M38 315h1M40 315h1M44 315h1M61 315h2M65 315h1M74 315h1M89 315h1M0 316h1M9 316h1M16 316h1M21 316h1M23 316h1M29 316h1M35 316h1M40 316h2M44 316h1M49 316h1M75 316h1M0 317h1M8 317h1M14 317h1M16 317h4M22 317h1M27 317h1M30 317h1M38 317h1M41 317h1M43 317h1M61 317h1M65 317h2M76 317h1M90 317h1M2 318h2M7 318h2M12 318h2M18 318h1M25 318h1M42 318h1M61 318h2M75 318h1M77 318h1M87 318h1M89 318h1M2 319h1M5 319h1M8 319h1M17 319h1M22 319h1M25 319h2M28 319h2M31 319h1M33 319h1M38 319h1M44 319h1M46 319h1M52 319h1M62 319h2M66 319h1M69 319h1M73 319h1M76 319h1M86 319h1M88 319h1M9 320h1M12 320h1M16 320h1M18 320h1M22 320h1M24 320h2M29 320h3M33 320h3M37 320h2M42 320h1M47 320h1M49 320h1M54 320h1M56 320h1M63 320h3M71 320h1M73 320h2M79 320h1M89 320h1M3 321h3M11 321h1M14 321h2M23 321h1M25 321h1M28 321h1M30 321h2M33 321h1M36 321h1M40 321h1M48 321h1M72 321h1M87 321h1M4 322h1M30 322h1M37 322h1M39 322h1M43 322h2M49 322h1M55 322h1M57 322h3M65 322h1M67 322h2M70 322h1M73 322h1M0 323h1M5 323h1M7 323h1M18 323h3M23 323h2M32 323h1M34 323h1M50 323h1M53 323h1M62 323h1M67 323h3M11 324h1M16 324h1M28 324h1M30 324h2M33 324h1M38 324h1M40 324h1M48 324h1M51 324h2M55 324h2M65 324h1M69 324h1M71 324h1M76 324h1M6 325h1M11 325h1M25 325h1M30 325h1M35 325h1M40 325h1M42 325h1M47 325h2M50 325h1M63 325h1M72 325h2M75 325h1M87 325h2M90 325h1M0 326h1M2 326h1M25 326h1M27 326h1M30 326h1M33 326h1M37 326h2M42 326h1M46 326h1M52 326h1M61 326h1M63 326h1M68 326h1M70 326h1M90 326h1M0 327h2M3 327h2M12 327h1M15 327h1M21 327h1M23 327h1M31 327h1M33 327h1M40 327h1M45 327h1M47 327h2M50 327h1M59 327h1M61 327h1M64 327h1M72 327h1M74 327h1M3 328h1M5 328h1M10 328h1M12 328h1M14 328h2M21 328h1M26 328h1M37 328h1M40 328h1M44 328h1M47 328h1M56 328h1M60 328h2M70 328h1M5 329h1M7 329h1M14 329h1M31 329h1M36 329h1M41 329h1M43 329h3M47 329h1M49 329h2M58 329h1M64 329h1M76 329h1M4 330h1M6 330h1M9 330h1M13 330h1M16 330h1M19 330h1M21 330h1M24 330h1M30 330h1M36 330h2M40 330h1M52 330h1M58 330h2M76 330h1M5 331h1M7 331h3M18 331h1M33 331h1M35 331h1M48 331h1M51 331h1M67 331h1M73 331h1M76 331h1M90 331h1M11 332h3M16 332h1M23 332h1M28 332h1M33 332h1M35 332h1M38 332h1M40 332h1M42 332h2M50 332h1M56 332h1M67 332h4M89 332h1M0 333h1M6 333h1M12 333h1M16 333h1M42 333h2M56 333h1M59 333h2M72 333h2M90 333h1M1 334h5M9 334h1M19 334h1M21 334h2M30 334h2M44 334h1M51 334h2M57 334h1M62 334h2M65 334h1M69 334h1M71 334h1M74 334h1M76 334h1M88 334h1M1 335h1M3 335h3M9 335h1M14 335h1M25 335h2M28 335h2M36 335h2M41 335h1M44 335h1M48 335h1M51 335h3M56 335h3M61 335h1M64 335h2M69 335h1M71 335h1M76 335h1M88 335h1M1 336h2M8 336h1M20 336h3M25 336h2M30 336h1M38 336h1M41 336h1M47 336h2M51 336h3M58 336h1M61 336h1M64 336h1M71 336h1M74 336h1M2 337h1M4 337h1M10 337h1M22 337h1M25 337h1M30 337h1M35 337h1M40 337h2M44 337h1M47 337h1M51 337h1M59 337h1M69 337h1M71 337h1M74 337h1M2 338h2M5 338h1M22 338h1M35 338h4M44 338h1M47 338h2M50 338h1M52 338h2M62 338h1M65 338h1M74 338h1M88 338h1M0 339h1M3 339h1M5 339h1M10 339h1M13 339h1M19 339h1M21 339h1M25 339h2M30 339h2M37 339h1M41 339h1M44 339h1M47 339h1M51 339h2M55 339h1M57 339h1M62 339h3M68 339h2M74 339h1M76 339h1M88 339h1M0 340h1M2 340h2M14 340h1M19 340h1M21 340h2M25 340h1M29 340h2M35 340h2M38 340h1M41 340h1M44 340h1M50 340h2M55 340h1M59 340h1M62 340h1M69 340h1M71 340h1M75 340h1M88 340h1M0 341h1M2 341h2M9 341h2M13 341h1M17 341h1M19 341h1M25 341h1M30 341h1M36 341h1M40 341h1M44 341h1M47 341h1M50 341h3M56 341h1M58 341h1M62 341h1M65 341h1M68 341h1M75 341h1M88 341h1M1 342h3M8 342h2M13 342h2M21 342h3M30 342h2M35 342h1M37 342h2M44 342h1M47 342h2M51 342h2M56 342h2M59 342h1M61 342h1M65 342h1M71 342h1M74 342h3M0 343h2M8 343h1M10 343h1M13 343h1M17 343h1M25 343h2M35 343h1M44 343h1M47 343h1M50 343h2M56 343h2M69 343h1M74 343h2M88 343h1M0 344h1M2 344h1M5 344h1M8 344h2M14 344h1M18 344h2M21 344h1M26 344h1M30 344h1M39 344h1M41 344h1M44 344h1M48 344h1M57 344h2M61 344h3M65 344h1M69 344h1M74 344h2M88 344h1M14 345h1M65 345h1M77 345h1M79 345h2M82 345h2M87 345h1M89 345h1M22 346h1M56 346h1M69 346h1M74 346h1M27 347h1M81 347h1M54 348h1M85 348h1M35 349h1M84 349h1M84 350h1M82 351h1M66 352h1M15 354h1M55 354h1M61 354h1M63 354h1M23 355h1M39 355h1M45 355h1M53 355h1M55 355h1M59 355h1M61 355h1M68 355h1M23 356h1M27 356h1M39 356h1M45 356h1M50 356h1M56 356h1M64 356h1M72 356h1M90 356h1M56 357h1M61 357h1M67 357h1M45 358h1M55 358h2M68 358h1M73 358h1M29 359h1M45 359h1M62 359h1M67 359h2M72 359h2M39 360h1M50 360h1M55 360h1M59 360h1M67 360h2M72 360h2M6 361h1M53 361h1M55 361h3M59 361h1M64 361h1M68 361h1M76 361h1M80 361h1M45 362h2M53 362h1M56 362h1M59 362h1M73 362h1M23 363h1M39 363h1M53 363h1M67 363h1M73 363h1M17 364h1M23 364h1M27 364h1M50 364h1M55 364h1M59 364h1M61 364h1M64 364h1M71 364h2M23 365h1M45 365h1M53 365h1M56 365h1M61 365h1M63 365h1M68 365h1M11 366h1M40 366h1M79 366h1M83 366h1M85 366h1M28 367h1M56 367h2M60 367h1M70 367h1M77 367h1M89 367h1M24 368h1M28 368h1M56 368h1M60 368h1M7 369h1M56 369h1M75 369h1M77 369h1M80 369h1M1 370h1M51 370h1M63 370h1M70 370h1M57 371h1M85 371h1M6 372h1M14 372h1M16 372h2M34 372h1M36 372h2M57 372h1M62 372h1M64 372h1M69 372h1M74 372h1M80 372h1M86 372h1M90 372h1M6 373h1M14 373h1M17 373h2M27 373h2M30 373h1M53 373h1M57 373h2M86 373h1M90 373h1M11 374h1M22 374h1M30 374h1M33 374h1M36 374h1M43 374h1M50 374h1M52 374h2M58 374h1M1 375h1M14 375h2M24 375h1M26 375h1M31 375h2M42 375h1M49 375h1M61 375h1M86 375h1M3 376h1M12 376h3M17 376h1M22 376h2M25 376h1M31 376h1M33 376h1M35 376h1M38 376h1M51 376h1M54 376h1M63 376h1M68 376h1M10 377h1M12 377h1M16 377h1M32 377h5M42 377h1M53 377h1M57 377h1M65 377h1M67 377h1M75 377h1M78 377h1M1 378h1M11 378h2M35 378h1M41 378h1M46 378h1M51 378h2M56 378h1M61 378h1M72 378h2M78 378h1M88 378h1M11 379h1M13 379h1M26 379h1M39 379h1M54 379h2M84 379h1M88 379h3M2 380h1M13 380h1M18 380h1M23 380h1M30 380h2M38 380h2M44 380h1M49 380h1M66 380h1M73 380h1M87 380h2M3 381h1M13 381h1M18 381h1M23 381h1M29 381h1M31 381h1M33 381h1M36 381h1M45 381h1M50 381h1M77 381h1M88 381h1M10 382h1M13 382h1M20 382h1M26 382h1M48 382h1M51 382h1M53 382h1M55 382h1M58 382h2M62 382h1M88 382h1M1 383h1M12 383h1M15 383h1M19 383h1M29 383h1M33 383h3M41 383h1M48 383h1M50 383h1M54 383h1M56 383h1M64 383h1M72 383h2M81 383h1M84 383h1M90 383h1M0 384h1M5 384h1M13 384h1M23 384h1M31 384h1M33 384h2M49 384h1M53 384h2M62 384h1M69 384h4M90 384h1M1 385h1M3 385h1M9 385h1M16 385h1M20 385h1M35 385h1M38 385h1M40 385h1M42 385h1M44 385h1M53 385h1M58 385h2M63 385h1M65 385h1M74 385h1M90 385h1M4 386h1M8 386h1M11 386h1M14 386h1M19 386h1M33 386h1M47 386h3M53 386h1M63 386h2M67 386h1M69 386h1M72 386h1M88 386h2M0 387h3M4 387h1M6 387h1M8 387h1M12 387h2M21 387h2M26 387h1M29 387h3M40 387h1M43 387h1M47 387h1M49 387h1M51 387h1M55 387h2M65 387h1M74 387h3M89 387h1M3 388h2M10 388h1M14 388h1M17 388h1M19 388h1M27 388h3M31 388h1M35 388h1M37 388h1M39 388h1M41 388h1M44 388h1M47 388h1M49 388h1M57 388h1M59 388h1M62 388h3M69 388h1M74 388h1M88 388h1M0 389h2M3 389h3M8 389h1M10 389h1M19 389h1M21 389h1M25 389h1M27 389h1M29 389h1M35 389h1M37 389h3M44 389h1M50 389h3M58 389h2M65 389h1M67 389h1M69 389h1M76 389h1M78 389h1M88 389h1M1 390h2M6 390h1M9 390h2M13 390h2M22 390h1M29 390h1M35 390h1M38 390h1M41 390h1M52 390h2M57 390h1M61 390h1M64 390h1M68 390h2M71 390h1M74 390h1M77 390h1M87 390h2M3 391h2M6 391h1M9 391h1M16 391h1M21 391h2M28 391h1M30 391h1M35 391h2M38 391h1M41 391h1M44 391h1M48 391h1M50 391h1M52 391h1M55 391h1M57 391h2M61 391h1M65 391h1M71 391h1M76 391h1M80 391h1M7 392h1M11 392h1M31 392h1M39 392h1M42 392h1M44 392h2M49 392h1M51 392h1M54 392h1M56 392h1M64 392h1M66 392h1M70 392h2M80 392h1M88 392h1M2 393h2M8 393h1M10 393h1M21 393h1M26 393h1M29 393h2M35 393h1M42 393h1M56 393h1M59 393h1M62 393h1M65 393h1M69 393h1M74 393h1M85 393h1M5 394h1M8 394h1M13 394h1M21 394h2M29 394h1M33 394h2M38 394h1M46 394h1M51 394h1M63 394h1M74 394h1M82 394h1M0 395h1M4 395h1M8 395h2M16 395h1M24 395h2M29 395h2M32 395h1M50 395h1M53 395h1M57 395h1M59 395h2M68 395h1M74 395h1M76 395h1M85 395h1M2 396h1M8 396h1M11 396h1M23 396h1M30 396h1M38 396h1M43 396h1M45 396h1M50 396h1M52 396h1M54 396h1M60 396h1M71 396h1M88 396h1M2 397h1M6 397h1M20 397h1M24 397h2M28 397h2M44 397h2M49 397h1M51 397h1M53 397h1M59 397h2M63 397h1M68 397h2M73 397h1M75 397h1M86 397h1M88 397h1M7 398h1M10 398h1M14 398h1M17 398h3M27 398h1M31 398h1M43 398h1M47 398h1M52 398h1M57 398h3M61 398h2M67 398h1"/>
<path stroke="#8174c0" d="M2 0h1M10 0h1M13 0h1M18 0h1M24 0h1M26 0h1M28 0h1M36 0h1M43 0h1M49 0h1M58 0h2M68 0h1M74 0h1M6 1h1M21 1h1M24 1h2M30 1h1M33 1h2M43 1h1M48 1h1M61 1h1M90 1h1M2 2h1M7 2h1M18 2h1M21 2h1M25 2h3M29 2h1M32 2h1M35 2h1M39 2h1M42 2h2M50 2h1M52 2h1M59 2h1M62 2h1M68 2h3M73 2h3M0 3h1M4 3h1M8 3h4M15 3h1M25 3h1M27 3h2M31 3h2M39 3h1M43 3h1M45 3h1M47 3h1M49 3h1M52 3h1M62 3h1M68 3h1M72 3h1M76 3h1M11 4h1M13 4h1M18 4h1M20 4h1M23 4h1M28 4h1M33 4h1M36 4h2M44 4h2M47 4h1M64 4h2M72 4h1M74 4h1M76 4h1M2 5h1M5 5h1M8 5h1M12 5h1M16 5h1M39 5h1M43 5h1M48 5h1M51 5h1M61 5h1M76 5h1M1 6h2M4 6h1M10 6h1M27 6h1M30 6h2M36 6h1M39 6h1M42 6h1M44 6h1M47 6h2M53 6h1M65 6h1M70 6h1M1 7h1M4 7h1M6 7h1M8 7h1M12 7h1M14 7h1M24 7h4M36 7h2M45 7h1M48 7h1M59 7h1M61 7h1M76 7h1M90 7h1M3 8h1M9 8h1M19 8h1M25 8h1M27 8h1M29 8h1M39 8h1M42 8h2M45 8h1M48 8h1M51 8h1M53 8h1M56 8h1M58 8h1M60 8h1M69 8h1M1 9h1M3 9h1M10 9h2M16 9h1M24 9h1M28 9h1M32 9h1M40 9h2M44 9h1M46 9h1M51 9h1M64 9h1M0 10h1M2 10h1M8 10h1M13 10h1M18 10h1M20 10h3M25 10h1M28 10h1M34 10h2M48 10h1M57 10h1M62 10h1M68 10h1M70 10h2M88 10h1M90 10h1M1 11h1M60 11h1M65 11h1M76 11h1M24 12h1M50 12h1M60 13h1M85 13h1M71 14h1M1 15h2M4 15h1M8 15h1M10 15h1M13 15h1M15 15h1M19 15h1M29 15h1M39 15h1M44 15h1M50 15h1M60 15h3M66 15h1M88 15h1M90 15h1M1 16h1M15 16h1M17 16h2M29 16h1M32 16h1M45 16h1M48 16h2M68 16h1M75 16h1M8 17h1M14 17h1M17 17h1M19 17h1M23 17h1M30 17h1M36 17h1M38 17h1M44 17h2M56 17h1M64 17h2M69 17h3M74 17h1M76 17h1M7 24h1M16 24h1M27 24h1M33 24h2M36 24h1M38 24h1M42 24h2M55 24h1M60 24h1M65 24h1M71 24h1M74 24h2M0 25h4M10 25h1M12 25h1M16 25h4M21 25h2M30 25h2M36 25h1M41 25h3M51 25h1M76 25h1M1 26h2M6 26h1M9 26h1M11 26h1M13 26h1M16 26h1M20 26h1M22 26h1M24 26h2M29 26h1M31 26h1M34 26h3M45 26h1M51 26h1M53 26h1M56 26h1M60 26h1M66 26h1M70 26h1M0 27h1M3 27h1M13 27h1M18 27h1M20 27h1M32 27h1M48 27h1M62 27h1M69 27h1M13 28h1M16 28h1M19 28h1M27 28h1M40 28h1M52 28h1M67 28h1M69 28h1M74 28h1M3 29h1M18 29h2M30 29h2M43 29h1M49 29h1M56 29h1M76 29h1M1 30h1M7 30h1M10 30h1M16 30h1M18 30h1M26 30h1M35 30h1M44 30h1M53 30h1M62 30h1M1 31h1M35 31h1M38 31h1M42 31h1M56 31h1M58 31h1M61 31h1M71 31h1M4 32h2M23 32h1M32 32h3M48 32h4M58 32h1M64 32h1M11 33h1M14 33h1M19 33h1M26 33h2M34 33h1M48 33h2M54 33h1M58 33h2M61 33h1M71 33h1M90 33h1M2 34h2M25 34h1M30 34h1M47 34h1M56 34h2M90 34h1M7 35h1M11 35h1M23 35h2M28 35h2M34 35h1M65 35h1M75 35h2M88 35h1M90 35h1M1 36h1M5 36h1M7 36h1M12 36h1M14 36h1M18 36h1M21 36h1M26 36h1M36 36h1M39 36h1M50 36h1M75 36h1M78 36h1M2 37h1M9 37h1M21 37h1M23 37h1M38 37h1M40 37h1M42 37h1M44 37h1M52 37h1M70 37h1M78 37h1M10 38h1M12 38h1M17 38h1M20 38h1M23 38h1M27 38h4M33 38h1M47 38h1M74 38h2M88 38h1M17 39h2M21 39h1M23 39h1M30 39h1M35 39h1M41 39h1M45 39h2M53 39h1M58 39h1M60 39h1M65 39h1M87 39h1M3 40h1M25 40h1M43 40h3M47 40h1M58 40h1M12 41h1M17 41h1M31 41h1M33 41h1M48 41h1M58 41h1M63 41h1M73 41h1M89 41h2M4 42h1M14 42h1M23 42h3M28 42h1M33 42h1M37 42h1M49 42h1M88 42h1M0 43h1M2 43h1M15 43h1M18 43h1M23 43h1M39 43h1M42 43h1M44 43h1M54 43h2M69 43h1M2 44h1M4 44h1M17 44h1M27 44h1M42 44h2M65 44h1M74 44h2M83 44h1M90 44h1M3 45h1M7 45h1M22 45h1M24 45h1M28 45h1M40 45h3M45 45h1M47 45h1M53 45h1M60 45h2M64 45h1M67 45h1M71 45h1M74 45h1M90 45h1M3 46h1M11 46h1M21 46h1M29 46h1M33 46h2M41 46h2M46 46h1M49 46h1M57 46h1M62 46h1M65 46h1M90 46h1M1 47h1M4 47h2M14 47h2M30 47h1M32 47h1M39 47h1M61 47h1M67 47h1M70 47h2M75 47h1M89 47h1M0 48h1M3 48h2M6 48h1M22 48h2M31 48h1M34 48h2M37 48h1M42 48h1M47 48h1M49 48h1M54 48h1M60 48h1M73 48h1M3 49h1M10 49h1M20 49h1M24 49h1M26 49h1M28 49h1M42 49h2M48 49h1M58 49h1M62 49h1M72 49h1M88 49h1M2 50h1M4 50h1M7 50h1M12 50h1M15 50h1M36 50h1M40 50h1M44 50h1M47 50h1M49 50h1M52 50h1M64 50h2M90 50h1M2 51h1M4 51h1M9 51h2M15 51h1M18 51h1M20 51h1M23 51h1M26 51h1M37 51h2M46 51h2M53 51h1M59 51h1M65 51h1M69 51h1M1 52h2M5 52h1M13 52h1M22 52h1M27 52h2M34 52h1M37 52h2M40 52h1M43 52h1M67 52h1M71 52h1M89 52h1M4 53h3M48 53h2M55 53h1M61 53h1M68 53h1M72 53h1M0 54h1M6 54h1M12 54h4M20 54h1M24 54h1M26 54h1M32 54h1M43 54h1M45 54h1M68 54h2M72 54h1M1 55h1M4 55h1M11 55h1M19 55h1M22 55h1M30 55h1M32 55h1M43 55h1M58 55h1M89 55h2M0 56h1M4 56h1M7 56h1M14 56h1M19 56h1M23 56h1M26 56h1M29 56h1M34 56h1M38 56h1M85 56h1M0 57h1M5 57h1M10 57h1M13 57h1M20 57h1M28 57h1M39 57h1M41 57h1M44 57h1M46 57h2M63 57h1M70 57h1M76 57h1M8 58h1M15 58h1M18 58h2M24 58h1M26 58h1M29 58h1M41 58h1M50 58h1M57 58h1M64 58h1M2 59h1M5 59h1M20 59h1M22 59h1M26 59h1M30 59h2M35 59h1M37 59h1M49 59h1M2 60h1M8 60h1M19 60h1M25 60h1M31 60h2M36 60h1M45 60h1M55 60h2M65 60h1M7 61h1M14 61h2M22 61h2M29 61h1M37 61h1M45 61h1M57 61h1M67 61h2M6 62h1M9 62h1M16 62h1M18 62h1M22 62h2M41 62h3M50 62h1M68 62h1M76 62h1M81 62h1M12 63h1M18 63h1M23 63h1M29 63h1M41 63h1M45 63h1M61 63h1M66 63h1M3 64h1M6 64h1M13 64h1M15 64h1M17 64h2M21 64h1M26 64h1M30 64h1M35 64h1M37 64h1M42 64h1M44 64h1M54 64h1M57 64h3M69 64h1M74 64h1M1 65h1M3 65h1M8 65h1M12 65h1M22 65h1M30 65h2M34 65h1M47 65h1M49 65h1M51 65h1M25 66h1M28 66h1M41 66h1M51 66h1M63 66h2M90 66h1M13 67h1M38 67h1M40 67h1M43 67h2M47 67h1M51 67h1M65 67h2M70 67h1M2 68h2M5 68h1M31 68h1M35 68h1M41 68h1M43 68h1M46 68h1M59 68h1M67 68h1M74 68h1M88 68h1M90 68h1M7 69h1M19 69h1M23 69h1M40 69h1M42 69h1M45 69h3M50 69h1M58 69h1M73 69h1M2 70h2M14 70h1M34 70h1M41 70h1M44 70h1M54 70h2M58 70h1M8 71h1M21 71h1M25 71h1M30 71h1M36 71h1M40 71h1M49 71h1M88 71h1M7 72h1M10 72h1M15 72h1M18 72h1M22 72h1M28 72h1M33 72h1M35 72h1M47 72h1M63 72h1M3 73h1M12 73h2M25 73h1M28 73h1M32 73h1M34 73h1M75 73h1M89 73h1M1 74h1M5 74h1M26 74h1M33 74h1M37 74h2M50 74h1M54 74h1M57 74h1M64 74h2M88 74h1M4 75h1M6 75h1M31 75h1M41 75h2M46 75h1M57 75h2M67 75h2M72 75h1M76 75h1M2 76h2M6 76h1M11 76h1M23 76h1M37 76h1M43 76h1M48 76h1M57 76h1M63 76h1M90 76h1M1 77h1M8 77h2M19 77h1M36 77h1M41 77h1M45 77h1M47 77h2M69 77h1M76 77h1M6 78h1M16 78h1M22 78h1M24 78h1M26 78h1M30 78h1M57 78h1M65 78h1M71 78h1M1 79h1M3 79h1M18 79h1M39 79h1M59 79h1M71 79h1M86 79h1M88 79h1M3 80h2M6 80h1M8 80h2M11 80h1M15 80h1M20 80h1M26 80h1M29 80h1M40 80h1M54 80h1M88 80h1M5 81h1M14 81h1M49 81h1M53 81h2M60 81h2M73 81h1M90 81h1M8 82h1M19 82h2M23 82h1M31 82h1M37 82h1M41 82h1M48 82h1M52 82h1M55 82h1M61 82h1M68 82h1M75 82h1M4 83h1M8 83h1M45 83h1M63 83h1M71 83h1M0 84h1M3 84h2M7 84h1M17 84h1M21 84h1M30 84h1M50 84h1M60 84h1M69 84h1M72 84h1M75 84h1M8 85h1M10 85h1M15 85h1M25 85h1M27 85h2M32 85h1M34 85h1M44 85h1M46 85h2M88 85h1M1 86h1M12 86h1M25 86h1M27 86h1M29 86h1M36 86h1M88 86h1M90 86h1M5 87h1M16 87h2M21 87h1M28 87h1M33 87h1M35 87h1M38 87h2M45 87h1M54 87h1M66 87h1M11 88h1M26 88h1M33 88h1M36 88h1M38 88h1M41 88h1M53 88h2M57 88h1M61 88h1M74 88h1M19 89h1M38 89h1M42 89h2M48 89h1M54 89h1M68 89h1M71 89h1M73 89h1M90 89h1M0 90h1M2 90h2M5 90h1M7 90h1M15 90h1M21 90h1M28 90h1M34 90h1M38 90h1M44 90h1M65 90h1M76 90h1M10 91h2M14 91h1M16 91h2M19 91h2M27 91h1M32 91h1M41 91h1M49 91h1M51 91h1M62 91h1M1 92h2M22 92h1M27 92h1M46 92h3M63 92h1M65 92h1M72 92h1M88 92h1M2 93h1M14 93h1M23 93h1M26 93h1M28 93h1M32 93h1M34 93h2M37 93h2M61 93h1M74 93h1M9 94h1M14 94h1M18 94h1M20 94h1M25 94h1M28 94h1M31 94h2M35 94h1M42 94h1M44 94h1M46 94h1M48 94h1M54 94h1M62 94h1M64 94h2M67 94h1M74 94h1M76 94h1M7 95h1M11 95h2M17 95h1M25 95h1M30 95h1M42 95h2M51 95h1M75 95h1M6 96h1M18 96h1M48 96h2M55 96h1M3 97h1M14 97h1M18 97h1M21 97h1M25 97h1M31 97h1M33 97h1M37 97h1M39 97h1M46 97h1M53 97h1M57 97h1M74 97h1M3 98h1M6 98h1M9 98h1M12 98h1M15 98h1M18 98h1M22 98h1M24 98h2M28 98h2M32 98h2M35 98h1M39 98h1M42 98h2M50 98h1M73 98h2M76 98h1M5 99h1M8 99h1M11 99h1M15 99h2M24 99h2M29 99h1M37 99h2M42 99h1M44 99h1M51 99h1M2 100h3M21 100h1M27 100h1M30 100h1M36 100h1M38 100h1M45 100h1M55 100h2M62 100h1M75 100h1M2 101h1M4 101h1M9 101h3M14 101h1M21 101h1M26 101h1M29 101h2M40 101h1M43 101h1M47 101h2M54 101h1M56 101h1M60 101h1M73 101h1M75 101h1M1 102h1M4 102h1M10 102h1M30 102h1M34 102h1M46 102h1M61 102h1M71 102h1M13 103h1M29 103h1M39 103h1M51 103h1M55 103h1M70 103h1M79 103h1M82 103h1M88 103h2M29 104h1M52 104h1M54 104h1M57 104h1M62 104h1M66 104h1M71 104h1M88 104h1M90 104h1M18 105h1M57 105h2M64 105h1M75 105h1M8 106h1M42 106h1M51 106h3M55 106h2M62 106h1M70 106h1M75 106h1M80 106h1M54 107h1M61 107h2M67 107h1M69 107h1M71 107h1M73 107h2M88 107h1M50 108h1M56 108h1M58 108h1M60 108h5M67 108h2M70 108h1M81 108h1M85 108h1M50 109h1M55 109h1M60 109h2M67 109h1M71 109h1M73 109h1M75 109h2M82 109h1M50 110h1M53 110h1M65 110h1M67 110h1M73 110h1M7 111h2M10 111h1M13 111h1M16 111h1M24 111h6M35 111h1M37 111h1M39 111h1M46 111h2M50 111h1M53 111h1M56 111h1M61 111h2M89 111h1M9 112h1M13 112h1M15 112h1M21 112h2M27 112h2M38 112h1M43 112h2M47 112h1M53 112h1M59 112h1M63 112h1M69 112h1M74 112h1M76 112h2M2 113h1M6 113h1M17 113h1M19 113h1M37 113h1M49 113h1M54 113h1M60 113h2M65 113h2M6 114h2M18 114h1M22 114h1M51 114h1M69 114h1M79 114h2M87 114h1M2 115h1M9 115h2M16 115h1M39 115h1M50 115h1M74 115h1M8 116h2M32 116h1M35 116h1M53 116h1M69 116h1M82 116h1M85 116h2M1 117h1M21 117h1M39 117h1M42 117h1M48 117h1M53 117h1M58 117h1M71 117h1M77 117h1M0 118h1M5 118h1M8 118h1M10 118h1M14 118h1M19 118h1M36 118h3M40 118h1M42 118h4M53 118h2M56 118h1M67 118h1M69 118h2M74 118h1M88 118h2M0 119h2M7 119h1M15 119h2M18 119h1M25 119h1M32 119h1M38 119h1M51 119h1M58 119h1M61 119h1M67 119h1M70 119h1M78 119h1M5 120h1M7 120h1M15 120h1M24 120h1M27 120h2M32 120h1M35 120h1M37 120h1M44 120h2M48 120h2M51 120h1M53 120h1M55 120h1M59 120h1M67 120h1M69 120h2M76 120h2M1 121h1M3 121h1M5 121h1M16 121h2M24 121h1M26 121h1M31 121h1M44 121h1M47 121h2M51 121h2M55 121h1M59 121h1M62 121h1M69 121h1M72 121h1M74 121h1M85 121h2M88 121h1M5 122h2M9 122h1M15 122h1M28 122h1M34 122h2M39 122h1M46 122h3M51 122h1M55 122h2M58 122h1M62 122h1M67 122h1M73 122h1M88 122h1M0 123h1M5 123h1M13 123h2M16 123h1M22 123h2M26 123h1M35 123h1M47 123h1M52 123h2M56 123h2M79 123h1M87 123h1M89 123h1M2 124h1M25 124h3M30 124h1M33 124h1M45 124h1M47 124h1M49 124h1M61 124h1M72 124h1M74 124h1M80 124h1M0 125h1M2 125h1M7 125h1M9 125h2M12 125h1M14 125h1M18 125h1M22 125h2M26 125h1M36 125h1M38 125h1M41 125h3M55 125h3M59 125h1M68 125h2M2 126h2M16 126h1M21 126h1M28 126h1M33 126h1M43 126h1M49 126h2M62 126h1M68 126h1M74 126h1M4 127h1M6 127h2M9 127h1M14 127h1M18 127h1M21 127h1M29 127h1M31 127h1M35 127h1M38 127h1M42 127h1M47 127h1M53 127h3M60 127h1M64 127h1M70 127h1M75 127h1M0 128h2M8 128h1M19 128h1M22 128h1M29 128h1M36 128h1M38 128h1M40 128h1M43 128h1M58 128h1M61 128h1M67 128h4M76 128h1M2 129h1M6 129h1M9 129h1M14 129h1M19 129h3M23 129h2M26 129h1M28 129h1M42 129h1M49 129h1M60 129h3M64 129h1M69 129h1M71 129h1M75 129h1M90 129h1M8 130h1M12 130h2M17 130h1M19 130h1M22 130h1M27 130h2M31 130h1M34 130h2M43 130h1M47 130h1M49 130h2M57 130h1M60 130h1M66 130h1M76 130h1M2 131h1M16 131h1M19 131h1M28 131h1M32 131h1M34 131h2M37 131h1M57 131h1M73 131h2M88 131h1M1 132h1M4 132h1M6 132h1M11 132h3M26 132h2M31 132h1M35 132h1M38 132h1M42 132h1M48 132h1M54 132h1M63 132h3M71 132h1M76 132h1M1 133h1M14 133h2M24 133h1M27 133h1M39 133h1M41 133h1M46 133h1M50 133h1M59 133h1M62 133h1M68 133h1M0 134h1M3 134h1M7 134h1M28 134h1M35 134h2M45 134h1M54 134h1M61 134h2M64 134h1M66 134h1M69 134h1M1 135h2M5 135h2M8 135h3M13 135h1M21 135h1M23 135h1M27 135h3M35 135h1M41 135h1M45 135h1M53 135h1M55 135h1M76 135h1M5 136h1M8 136h2M12 136h3M18 136h1M23 136h1M27 136h1M38 136h2M47 136h1M49 136h2M55 136h3M74 136h2M2 137h1M8 137h1M10 137h1M12 137h1M18 137h1M22 137h2M25 137h1M28 137h2M38 137h1M41 137h1M50 137h1M52 137h2M55 137h1M69 137h1M75 137h1M1 138h1M3 138h1M5 138h2M10 138h1M13 138h2M20 138h1M23 138h1M27 138h1M29 138h1M44 138h1M49 138h1M53 138h1M55 138h1M57 138h1M70 138h1M1 139h2M5 139h2M12 139h3M20 139h4M25 139h1M27 139h3M39 139h1M49 139h1M53 139h1M55 139h2M61 139h1M65 139h2M71 139h1M0 140h1M5 140h2M8 140h3M12 140h4M25 140h1M27 140h1M29 140h1M37 140h3M49 140h1M53 140h2M57 140h1M69 140h1M71 140h1M89 140h1M1 141h1M8 141h1M10 141h1M12 141h2M18 141h1M20 141h1M22 141h1M27 141h3M39 141h1M50 141h2M55 141h3M61 141h1M69 141h1M74 141h1M0 142h1M5 142h2M8 142h2M13 142h1M18 142h1M20 142h4M25 142h1M27 142h4M39 142h3M49 142h2M55 142h1M58 142h1M61 142h2M75 142h1M0 143h3M13 143h2M20 143h4M25 143h1M29 143h1M35 143h1M38 143h1M44 143h1M49 143h1M51 143h1M53 143h1M55 143h2M58 143h1M61 143h1M71 143h1M75 143h1M89 143h1M14 144h1M21 144h1M34 144h1M58 144h1M63 144h1M66 144h1M3 145h1M5 145h1M16 145h1M36 145h1M45 145h1M2 146h1M31 146h1M33 146h1M44 146h1M16 147h1M11 148h1M38 148h1M47 148h1M55 148h1M68 148h1M72 148h1M5 149h1M16 149h1M29 149h1M33 149h1M54 149h1M60 149h1M67 149h1M75 149h1M19 150h1M30 150h1M62 150h1M69 150h1M18 151h1M25 151h1M27 151h1M46 151h1M49 151h1M71 151h1M75 151h1M21 152h1M30 152h1M34 152h1M38 152h1M51 152h1M72 152h1M16 153h1M27 153h1M39 153h1M44 153h1M56 153h1M58 153h1M60 153h1M68 153h1M74 153h1M89 153h1M30 154h1M37 154h1M53 154h1M57 154h1M66 154h1M75 154h1M0 155h1M2 155h1M4 155h1M8 155h1M13 155h2M66 155h1M68 155h1M1 156h1M8 156h1M12 156h1M35 156h2M55 156h1M65 156h1M71 156h1M88 156h1M3 157h1M8 157h1M23 157h1M30 157h1M34 157h1M56 157h1M66 157h1M68 157h1M71 157h1M74 157h1M3 158h1M6 158h1M50 158h1M53 158h1M56 158h1M60 158h1M72 158h1M27 159h1M35 159h2M50 159h1M6 160h1M11 160h1M30 160h1M36 160h1M41 160h2M57 160h1M66 160h1M70 160h1M20 161h1M28 161h1M37 161h1M51 161h1M54 161h1M72 162h1M74 162h1M80 162h1M8 163h1M36 163h1M41 163h1M57 163h1M67 163h1M72 163h1M88 163h1M1 164h1M4 164h1M14 164h1M21 164h1M30 164h1M48 164h1M54 164h1M56 164h1M59 164h1M68 164h1M81 164h1M14 165h1M40 165h1M44 165h1M5 166h1M20 166h1M29 166h1M40 166h1M27 167h1M33 167h1M35 167h1M15 168h1M18 168h1M28 168h1M33 168h1M35 168h1M39 168h1M56 168h1M58 168h1M66 168h2M74 168h1M84 168h1M5 169h1M7 169h1M19 169h1M39 169h1M50 169h1M58 169h1M63 169h1M65 169h1M68 169h1M71 169h1M73 169h1M76 169h1M82 169h1M90 169h1M4 170h1M15 170h1M23 170h1M43 170h1M48 170h1M51 170h1M56 170h1M58 170h1M68 170h1M74 170h1M76 170h1M0 171h1M4 171h1M6 171h1M27 171h1M39 171h1M56 171h1M59 171h1M66 171h1M70 171h1M74 171h1M77 171h1M79 171h1M17 172h1M19 172h1M23 172h1M29 172h1M33 172h1M36 172h1M51 172h1M54 172h1M56 172h1M62 172h1M79 172h1M85 172h1M0 173h1M25 173h1M30 173h1M42 173h1M54 173h1M56 173h1M64 173h1M69 173h1M75 173h1M12 174h1M48 174h1M51 174h1M58 174h2M67 174h1M89 174h1M2 175h1M17 175h1M25 175h1M50 175h1M54 175h1M58 175h1M63 175h1M65 175h1M76 175h2M81 175h2M84 175h2M88 175h2M43 176h2M55 176h1M59 176h1M68 176h1M71 176h1M74 176h1M80 176h1M82 176h1M84 176h1M86 176h1M89 176h2M4 177h1M25 177h1M35 177h1M54 177h1M59 177h1M66 177h1M76 177h1M80 177h1M6 178h1M39 178h1M54 178h2M57 178h1M59 178h1M62 178h1M65 178h1M68 178h1M72 178h1M74 178h1M89 178h1M3 179h1M11 179h1M58 179h2M71 179h2M80 179h1M83 179h1M7 180h1M18 180h1M30 180h1M42 180h1M54 180h1M62 180h1M64 180h1M67 180h5M76 180h1M84 180h1M88 180h1M5 181h1M13 181h2M17 181h1M21 181h1M23 181h1M29 181h1M37 181h1M40 181h1M42 181h1M47 181h1M54 181h1M57 181h1M60 181h1M70 181h1M12 182h1M17 182h1M45 182h1M50 182h1M52 182h1M54 182h1M69 182h1M71 182h1M75 182h1M88 182h3M3 183h1M18 183h1M23 183h2M44 183h1M50 183h1M52 183h1M61 183h1M69 183h3M74 183h1M89 183h1M10 184h1M16 184h1M31 184h1M38 184h1M50 184h1M56 184h1M13 185h1M22 185h2M56 185h3M64 185h1M69 185h1M71 185h1M74 185h1M30 186h1M40 186h1M49 186h1M67 186h1M6 187h1M33 187h1M55 187h1M59 187h1M70 187h1M74 187h1M79 187h1M22 188h1M33 188h1M53 188h1M56 188h1M73 188h1M13 189h1M15 189h1M19 189h1M25 189h1M40 189h1M43 189h2M54 189h1M59 189h1M63 189h1M65 189h2M68 189h1M73 189h1M11 190h1M17 190h2M21 190h1M25 190h1M40 190h1M57 190h1M66 190h1M70 190h1M90 190h1M0 191h1M24 191h1M29 191h1M35 191h3M48 191h1M51 191h1M60 191h1M73 191h1M76 191h1M78 191h1M88 191h1M90 191h1M24 192h1M27 192h2M32 192h1M37 192h1M42 192h1M45 192h1M57 192h2M60 192h1M63 192h1M69 192h1M74 192h2M90 192h1M3 193h1M9 193h1M17 193h1M21 193h1M35 193h1M43 193h1M50 193h1M53 193h1M59 193h1M64 193h1M69 193h1M73 193h1M31 194h1M49 194h1M53 194h1M58 194h1M71 194h3M78 194h1M88 194h1M11 195h1M14 195h1M23 195h1M47 195h1M57 195h2M68 195h1M75 195h1M88 195h1M90 195h1M3 196h1M14 196h1M46 196h1M52 196h1M58 196h1M63 196h1M68 196h1M74 196h1M10 197h1M24 197h2M47 197h1M56 197h1M59 197h1M61 197h1M68 197h1M73 197h1M88 197h1M17 198h1M20 198h1M30 198h1M40 198h1M46 198h2M49 198h1M54 198h1M59 198h1M72 198h2M90 198h1M0 199h1M2 199h1M45 199h1M52 199h1M56 199h1M60 199h1M69 199h1M73 199h1M75 199h2M88 199h1M90 199h1M22 200h1M49 200h1M51 200h1M54 200h3M64 200h1M67 200h1M69 200h1M72 200h1M75 200h1M88 200h1M90 200h1M11 201h1M30 201h1M38 201h1M40 201h1M62 201h1M66 201h1M70 201h1M73 201h2M83 201h1M4 202h1M12 202h1M30 202h1M38 202h2M55 202h1M63 202h2M69 202h1M79 202h1M90 202h1M1 203h2M6 203h1M27 203h1M53 203h1M60 203h3M70 203h1M89 203h1M4 204h1M15 204h1M22 204h1M25 204h1M28 204h1M34 204h2M44 204h1M47 204h1M61 204h2M65 204h1M68 204h3M72 204h2M87 204h1M10 205h1M25 205h1M28 205h1M49 205h1M54 205h1M75 205h1M38 206h1M50 206h1M53 206h1M59 206h1M62 206h1M68 206h1M70 206h1M72 206h2M79 206h1M90 206h1M0 207h1M3 207h1M6 207h1M14 207h1M28 207h2M33 207h2M51 207h1M53 207h2M56 207h2M65 207h1M70 207h2M76 207h1M87 207h1M3 208h1M5 208h1M7 208h1M24 208h1M31 208h1M36 208h1M63 208h1M75 208h1M82 208h1M88 208h2M8 209h2M16 209h1M56 209h1M63 209h1M71 209h2M75 209h2M89 209h2M8 210h1M20 210h1M24 210h1M29 210h1M34 210h1M38 210h1M41 210h1M44 210h1M46 210h2M49 210h1M51 210h2M54 210h1M56 210h1M60 210h1M62 210h1M65 210h1M73 210h1M75 210h1M77 210h1M88 210h1M7 211h1M10 211h1M22 211h3M28 211h1M36 211h2M39 211h1M46 211h1M54 211h2M58 211h1M61 211h1M65 211h1M69 211h1M73 211h2M76 211h1M10 212h1M12 212h1M31 212h1M33 212h1M39 212h1M42 212h1M44 212h1M54 212h1M59 212h1M71 212h1M74 212h1M82 212h1M8 213h2M17 213h1M28 213h1M42 213h1M47 213h1M53 213h1M56 213h1M61 213h1M64 213h1M68 213h1M71 213h2M74 213h1M22 214h1M29 214h4M39 214h1M46 214h1M51 214h2M65 214h1M67 214h1M73 214h1M89 214h1M0 215h3M6 215h1M9 215h1M26 215h1M28 215h1M32 215h1M50 215h1M57 215h1M69 215h1M71 215h1M74 215h1M77 215h1M83 215h1M89 215h1M5 216h2M8 216h1M32 216h1M40 216h1M51 216h1M55 216h1M57 216h1M61 216h1M65 216h1M70 216h1M90 216h1M5 217h1M8 217h1M16 217h2M29 217h1M41 217h1M49 217h1M51 217h1M53 217h1M57 217h1M60 217h1M63 217h1M72 217h1M75 217h1M26 218h2M29 218h1M52 218h1M55 218h1M57 218h1M64 218h1M70 218h1M72 218h1M74 218h1M5 219h1M25 219h1M38 219h1M51 219h1M53 219h2M57 219h2M61 219h1M66 219h1M68 219h2M75 219h2M80 219h1M85 219h2M89 219h1M42 220h1M45 220h1M49 220h2M54 220h1M64 220h1M74 220h1M13 221h1M24 221h1M32 221h1M36 221h1M47 221h1M50 221h1M86 221h1M3 222h1M7 222h1M10 222h1M13 222h1M25 222h3M42 222h1M48 222h2M60 222h1M62 222h1M66 222h1M74 222h1M88 222h1M1 223h1M4 223h1M20 223h1M22 223h1M24 223h1M27 223h3M37 223h1M39 223h1M47 223h2M53 223h1M60 223h1M62 223h1M69 223h1M73 223h1M81 223h1M0 224h1M12 224h2M17 224h1M25 224h1M40 224h1M44 224h3M49 224h1M54 224h1M56 224h2M61 224h1M69 224h1M74 224h1M88 224h1M11 225h1M33 225h1M35 225h1M39 225h1M42 225h1M46 225h2M49 225h1M61 225h1M63 225h5M75 225h1M7 226h1M9 226h1M12 226h1M17 226h1M24 226h1M26 226h1M32 226h3M37 226h1M40 226h1M50 226h1M62 226h1M66 226h1M68 226h1M71 226h1M74 226h1M76 226h1M2 227h1M10 227h1M15 227h1M19 227h1M22 227h2M25 227h1M27 227h1M31 227h2M35 227h1M43 227h2M49 227h3M53 227h1M66 227h1M73 227h1M1 228h1M6 228h1M9 228h1M11 228h1M15 228h1M20 228h1M29 228h1M31 228h2M47 228h1M60 228h1M63 228h1M3 229h3M9 229h1M24 229h1M27 229h1M31 229h1M33 229h2M53 229h2M59 229h1M70 229h2M4 230h1M7 230h1M12 230h1M19 230h1M22 230h1M33 230h1M36 230h1M44 230h1M49 230h1M56 230h1M58 230h1M64 230h3M75 230h1M89 230h1M3 231h2M14 231h1M17 231h2M21 231h1M24 231h1M28 231h2M36 231h2M43 231h1M47 231h1M54 231h1M56 231h1M61 231h1M63 231h2M82 231h1M90 231h1M0 232h1M2 232h1M4 232h1M13 232h1M20 232h1M51 232h1M55 232h1M62 232h1M66 232h1M69 232h1M74 232h1M4 233h1M9 233h1M14 233h1M20 233h1M22 233h1M24 233h1M31 233h1M35 233h1M42 233h1M55 233h1M58 233h1M65 233h1M67 233h1M71 233h2M75 233h1M90 233h1M0 234h1M9 234h1M18 234h1M24 234h1M30 234h1M33 234h1M54 234h1M59 234h2M75 234h1M88 234h1M4 235h1M7 235h1M12 235h1M17 235h1M24 235h1M28 235h1M60 235h2M63 235h1M65 235h1M72 235h1M75 235h1M77 235h1M88 235h1M3 236h1M22 236h2M31 236h2M66 236h2M71 236h1M88 236h2M3 237h1M5 237h1M11 237h1M15 237h1M21 237h1M27 237h1M36 237h1M40 237h1M60 237h1M71 237h1M76 237h1M4 238h1M11 238h1M13 238h1M15 238h2M32 238h1M36 238h1M40 238h1M52 238h2M60 238h1M62 238h1M68 238h1M4 239h1M6 239h1M9 239h1M20 239h2M26 239h1M33 239h1M40 239h1M49 239h1M54 239h1M62 239h2M65 239h1M74 239h1M84 239h1M3 240h1M7 240h1M14 240h1M29 240h1M31 240h2M36 240h1M39 240h1M53 240h1M73 240h1M77 240h1M88 240h1M2 241h1M7 241h1M26 241h1M46 241h1M48 241h2M59 241h1M65 241h2M70 241h1M74 241h1M79 241h1M83 241h1M7 242h1M23 242h1M32 242h1M39 242h1M62 242h1M69 242h1M0 243h1M6 243h1M21 243h1M23 243h1M34 243h1M42 243h1M44 243h1M53 243h1M55 243h1M58 243h1M61 243h1M68 243h1M75 243h1M87 243h1M2 244h1M16 244h1M26 244h1M31 244h1M46 244h1M48 244h1M51 244h2M61 244h1M65 244h1M69 244h1M73 244h1M76 244h1M0 245h1M6 245h1M14 245h1M28 245h1M49 245h1M66 245h1M71 245h1M1 246h1M8 246h1M15 246h1M29 246h1M37 246h1M44 246h1M46 246h1M53 246h1M60 246h1M66 246h1M68 246h1M0 247h1M2 247h2M10 247h1M25 247h1M28 247h3M40 247h1M44 247h1M48 247h1M88 247h1M90 247h1M3 248h1M5 248h1M9 248h1M13 248h1M18 248h2M37 248h1M43 248h1M50 248h1M65 248h1M74 248h1M77 248h1M86 248h1M89 248h1M9 249h1M18 249h1M20 249h2M25 249h1M29 249h1M31 249h1M52 249h1M55 249h1M60 249h1M67 249h1M71 249h3M78 249h1M89 249h1M0 250h1M8 250h2M14 250h1M16 250h1M20 250h1M23 250h1M26 250h1M32 250h1M34 250h1M56 250h1M76 250h1M4 251h1M7 251h1M12 251h1M18 251h1M25 251h2M37 251h1M42 251h1M45 251h2M53 251h1M58 251h1M75 251h1M78 251h1M80 251h1M86 251h1M12 252h1M15 252h1M18 252h1M23 252h1M35 252h1M48 252h1M56 252h2M60 252h1M67 252h2M70 252h1M88 252h1M0 253h1M5 253h1M10 253h1M19 253h1M21 253h1M33 253h1M35 253h1M49 253h1M71 253h1M2 254h1M5 254h1M15 254h1M18 254h1M35 254h1M41 254h1M44 254h1M67 254h1M71 254h1M74 254h1M76 254h1M17 255h2M20 255h1M23 255h1M31 255h1M33 255h1M40 255h1M46 255h1M49 255h2M55 255h1M58 255h1M79 255h1M89 255h1M0 256h1M6 256h1M11 256h1M16 256h2M41 256h1M46 256h1M48 256h1M61 256h1M70 256h2M73 256h1M75 256h1M3 257h1M6 257h2M14 257h1M16 257h1M19 257h2M37 257h1M41 257h4M50 257h2M54 257h2M69 257h3M78 257h1M0 258h1M3 258h2M12 258h1M18 258h2M22 258h1M26 258h1M30 258h1M32 258h1M34 258h1M37 258h1M50 258h1M52 258h2M60 258h2M66 258h1M70 258h1M76 258h1M78 258h1M4 259h1M14 259h1M18 259h1M24 259h1M30 259h1M34 259h1M38 259h1M48 259h1M55 259h1M61 259h1M64 259h1M66 259h1M69 259h1M76 259h1M2 260h1M13 260h1M20 260h3M27 260h2M35 260h1M38 260h1M50 260h2M57 260h2M72 260h1M2 261h2M16 261h1M40 261h2M44 261h1M55 261h1M57 261h1M76 261h1M90 261h1M1 262h1M4 262h1M9 262h2M17 262h1M28 262h1M30 262h1M34 262h1M48 262h1M51 262h1M54 262h1M2 263h3M8 263h1M17 263h1M22 263h1M29 263h1M33 263h1M39 263h2M64 263h1M69 263h1M88 263h1M0 264h2M9 264h1M13 264h1M15 264h1M17 264h1M21 264h1M23 264h3M29 264h1M33 264h1M38 264h1M46 264h1M49 264h2M52 264h1M54 264h1M57 264h1M65 264h1M1 265h2M12 265h1M18 265h1M21 265h1M29 265h1M35 265h1M38 265h1M42 265h2M48 265h1M58 265h1M61 265h1M63 265h1M65 265h1M72 265h2M1 266h1M14 266h1M20 266h1M22 266h1M27 266h3M34 266h2M40 266h1M47 266h2M4 267h1M15 267h1M18 267h1M21 267h1M24 267h1M27 267h1M38 267h1M43 267h1M47 267h1M78 267h1M3 268h2M6 268h1M9 268h1M11 268h1M27 268h1M39 268h1M42 268h1M44 268h2M49 268h1M52 268h1M62 268h1M65 268h1M76 268h3M84 268h1M0 269h2M5 269h1M19 269h1M21 269h1M27 269h1M29 269h1M45 269h2M63 269h1M70 269h1M4 270h1M8 270h1M10 270h1M17 270h1M24 270h1M29 270h1M34 270h2M43 270h4M55 270h1M64 270h1M81 270h2M87 270h1M5 271h3M11 271h1M14 271h1M23 271h1M32 271h2M41 271h1M43 271h1M45 271h1M48 271h1M67 271h1M77 271h2M0 272h1M2 272h2M8 272h1M13 272h2M16 272h1M33 272h1M37 272h1M40 272h1M46 272h2M49 272h1M83 272h1M85 272h1M88 272h2M26 273h1M43 273h1M55 273h3M65 274h1M26 275h1M55 275h1M17 276h1M53 276h1M17 277h2M43 277h1M54 277h1M71 278h1M12 279h1M18 279h1M0 280h1M11 280h1M20 280h1M33 280h1M39 280h1M42 280h2M49 280h3M61 280h2M65 280h1M67 280h1M79 280h1M82 280h1M85 280h1M9 281h1M11 281h1M14 281h1M21 281h1M25 281h1M28 281h1M42 281h2M49 281h1M56 281h1M60 281h2M63 281h1M70 281h1M73 281h1M82 281h1M86 281h1M90 281h1M0 282h1M2 282h2M7 282h1M18 282h1M25 282h1M38 282h1M40 282h1M44 282h1M47 282h1M49 282h1M51 282h1M59 282h1M65 282h1M76 282h1M89 282h2M2 283h1M11 283h1M15 283h1M18 283h1M20 283h1M26 283h1M29 283h2M33 283h1M35 283h1M51 283h1M57 283h2M60 283h1M62 283h1M68 283h1M71 283h1M83 283h1M89 283h1M10 284h1M13 284h2M16 284h2M20 284h1M23 284h1M26 284h1M29 284h1M36 284h1M38 284h1M45 284h1M55 284h1M57 284h1M61 284h2M65 284h1M2 285h2M11 285h1M22 285h1M25 285h2M30 285h1M32 285h1M44 285h1M53 285h1M57 285h1M64 285h1M68 285h2M89 285h1M7 289h1M11 289h1M25 289h1M29 289h1M33 289h1M37 289h1M44 289h1M47 289h1M49 289h1M52 289h1M54 289h1M62 289h1M64 289h1M71 289h1M73 289h1M76 289h1M78 289h1M0 290h2M7 290h1M13 290h2M16 290h1M19 290h2M25 290h1M28 290h1M33 290h2M39 290h3M54 290h1M58 290h2M62 290h1M89 290h1M0 291h1M7 291h2M15 291h1M22 291h1M29 291h2M33 291h1M44 291h1M47 291h1M53 291h3M62 291h1M2 292h2M10 292h2M20 292h2M23 292h1M28 292h1M30 292h1M41 292h1M44 292h3M52 292h2M55 292h1M59 292h1M1 293h3M7 293h1M9 293h4M19 293h1M23 293h3M31 293h1M34 293h1M41 293h2M44 293h3M52 293h1M73 293h1M6 294h1M10 294h1M26 294h2M33 294h1M36 294h2M39 294h1M44 294h1M69 294h1M4 295h1M6 295h1M11 295h2M16 295h1M19 295h1M26 295h1M29 295h1M34 295h1M36 295h1M40 295h1M44 295h2M48 295h1M50 295h1M52 295h1M75 295h1M77 295h1M83 295h1M8 296h1M11 296h2M14 296h1M25 296h1M29 296h1M36 296h1M45 296h1M57 296h1M64 296h1M66 296h1M76 296h1M88 296h1M10 297h1M12 297h1M19 297h1M27 297h1M33 297h1M42 297h1M44 297h1M49 297h1M58 297h2M61 297h2M74 297h1M77 297h1M4 298h1M7 298h1M25 298h1M38 298h1M63 298h2M71 298h2M87 298h2M0 299h1M6 299h1M14 299h1M20 299h1M22 299h2M27 299h1M29 299h2M34 299h1M36 299h1M38 299h1M73 299h1M80 299h1M5 300h1M8 300h1M11 300h2M15 300h2M20 300h3M30 300h1M37 300h1M41 300h3M45 300h1M47 300h1M52 300h1M58 300h1M70 300h1M72 300h1M75 300h1M88 300h1M7 301h1M9 301h1M11 301h1M19 301h2M22 301h1M25 301h1M35 301h2M39 301h3M51 301h1M59 301h1M61 301h1M63 301h1M69 301h1M72 301h1M77 301h1M79 301h1M89 301h2M5 302h1M13 302h1M23 302h1M32 302h1M45 302h1M49 302h1M52 302h1M55 302h1M57 302h1M64 302h1M73 302h1M5 303h1M9 303h1M12 303h1M18 303h3M27 303h2M38 303h1M41 303h1M45 303h1M48 303h2M53 303h1M55 303h1M63 303h3M68 303h1M72 303h1M2 304h1M5 304h1M7 304h1M9 304h1M12 304h1M29 304h1M31 304h1M35 304h1M39 304h1M45 304h1M54 304h1M60 304h1M63 304h1M65 304h1M68 304h1M90 304h1M1 305h1M18 305h1M45 305h1M49 305h1M61 305h1M63 305h2M72 305h1M88 305h1M3 306h1M13 306h1M20 306h1M34 306h1M37 306h1M63 306h2M75 306h1M1 307h1M3 307h1M8 307h1M10 307h1M15 307h1M17 307h1M20 307h2M29 307h2M33 307h2M41 307h1M44 307h1M54 307h1M68 307h2M71 307h1M75 307h1M0 308h3M11 308h1M23 308h2M26 308h1M32 308h1M35 308h1M45 308h1M52 308h1M56 308h4M62 308h2M72 308h1M20 309h1M22 309h1M25 309h2M32 309h1M34 309h2M40 309h1M49 309h1M54 309h1M70 309h1M0 310h1M4 310h1M11 310h1M14 310h1M18 310h1M26 310h1M28 310h1M44 310h1M47 310h1M49 310h1M59 310h1M67 310h3M71 310h1M82 310h1M0 311h3M13 311h1M21 311h1M32 311h1M45 311h1M61 311h2M66 311h1M71 311h1M76 311h1M88 311h3M1 312h1M4 312h2M14 312h2M18 312h1M20 312h1M37 312h1M65 312h1M71 312h1M75 312h1M0 313h2M11 313h1M13 313h1M19 313h2M27 313h1M38 313h1M44 313h1M46 313h1M48 313h1M51 313h1M54 313h1M61 313h1M68 313h1M72 313h1M78 313h1M5 314h1M7 314h1M11 314h1M14 314h2M25 314h1M27 314h2M31 314h1M45 314h2M52 314h2M58 314h2M67 314h1M71 314h1M75 314h2M89 314h1M7 315h1M10 315h1M14 315h1M16 315h1M28 315h1M32 315h1M36 315h1M41 315h1M54 315h2M64 315h1M88 315h1M2 316h1M6 316h1M8 316h1M12 316h4M17 316h2M24 316h1M27 316h1M31 316h1M45 316h1M47 316h2M52 316h1M61 316h1M76 316h1M88 316h1M1 317h1M4 317h4M11 317h2M20 317h2M24 317h1M26 317h1M29 317h1M31 317h1M33 317h1M36 317h2M50 317h4M56 317h2M60 317h1M62 317h1M89 317h1M6 318h1M17 318h1M26 318h1M31 318h1M39 318h1M41 318h1M43 318h1M48 318h1M50 318h2M58 318h1M60 318h1M64 318h2M67 318h1M70 318h1M74 318h1M88 318h1M90 318h1M12 319h1M14 319h3M18 319h2M30 319h1M32 319h1M36 319h1M39 319h1M42 319h1M45 319h1M49 319h2M54 319h1M60 319h2M68 319h1M71 319h1M74 319h1M0 320h2M5 320h2M11 320h1M14 320h1M20 320h2M32 320h1M36 320h1M39 320h1M44 320h1M48 320h1M50 320h1M61 320h1M67 320h1M72 320h1M75 320h1M86 320h1M88 320h1M0 321h1M6 321h1M17 321h1M22 321h1M24 321h1M26 321h1M32 321h1M35 321h1M39 321h1M49 321h4M59 321h1M63 321h1M68 321h1M74 321h1M2 322h1M5 322h1M10 322h1M14 322h1M17 322h1M19 322h1M28 322h1M33 322h1M47 322h1M54 322h1M60 322h1M62 322h1M64 322h1M71 322h1M75 322h2M8 323h1M10 323h2M14 323h1M21 323h1M30 323h1M33 323h1M38 323h1M44 323h1M47 323h1M52 323h1M55 323h2M59 323h2M63 323h1M65 323h1M73 323h1M0 324h1M3 324h1M6 324h1M10 324h1M19 324h1M25 324h1M35 324h2M39 324h1M42 324h2M54 324h1M68 324h1M74 324h1M5 325h1M12 325h3M36 325h3M46 325h1M49 325h1M56 325h1M59 325h1M62 325h1M66 325h2M71 325h1M9 326h1M12 326h1M17 326h1M24 326h1M28 326h1M35 326h2M45 326h1M53 326h1M57 326h1M59 326h1M69 326h1M71 326h1M75 326h1M88 326h1M2 327h1M5 327h2M10 327h2M13 327h2M17 327h1M19 327h1M27 327h1M32 327h1M35 327h1M37 327h1M39 327h1M41 327h1M49 327h1M57 327h1M76 327h1M0 328h1M2 328h1M7 328h1M18 328h2M23 328h1M32 328h3M51 328h1M55 328h1M66 328h1M72 328h1M76 328h1M2 329h1M8 329h2M11 329h2M17 329h1M19 329h1M24 329h2M28 329h1M35 329h1M55 329h1M59 329h1M63 329h1M65 329h2M69 329h2M73 329h2M0 330h2M3 330h1M7 330h1M11 330h1M14 330h1M17 330h2M22 330h1M25 330h1M27 330h3M35 330h1M38 330h1M43 330h2M47 330h1M51 330h1M54 330h1M62 330h1M67 330h1M73 330h2M10 331h1M12 331h2M19 331h1M22 331h1M24 331h2M28 331h1M32 331h1M37 331h1M45 331h1M55 331h1M62 331h1M66 331h1M1 332h1M4 332h2M8 332h1M25 332h1M31 332h1M41 332h1M53 332h1M55 332h1M65 332h2M71 332h1M78 332h1M8 333h2M13 333h1M25 333h1M27 333h2M31 333h1M37 333h1M40 333h1M44 333h1M46 333h1M58 333h1M67 333h2M74 333h1M0 334h1M8 334h1M10 334h1M12 334h3M20 334h1M23 334h1M25 334h1M27 334h1M29 334h1M39 334h1M41 334h1M47 334h2M50 334h1M56 334h1M58 334h1M60 334h2M0 335h1M2 335h1M6 335h1M8 335h1M13 335h1M20 335h4M35 335h1M38 335h1M47 335h1M50 335h1M55 335h1M66 335h1M74 335h2M5 336h2M10 336h1M12 336h1M14 336h1M18 336h1M23 336h1M29 336h1M35 336h1M39 336h1M44 336h1M49 336h2M54 336h4M69 336h1M88 336h1M1 337h1M5 337h1M8 337h1M13 337h2M18 337h1M39 337h1M50 337h1M52 337h2M55 337h2M58 337h1M61 337h1M75 337h1M88 337h2M0 338h2M6 338h1M9 338h2M12 338h2M18 338h1M23 338h1M25 338h1M27 338h1M39 338h1M41 338h1M49 338h1M51 338h1M55 338h4M69 338h1M71 338h1M75 338h1M1 339h2M6 339h1M9 339h1M22 339h1M29 339h1M35 339h1M38 339h2M48 339h2M56 339h1M58 339h1M71 339h1M75 339h1M1 340h1M5 340h2M8 340h3M12 340h2M18 340h1M23 340h1M39 340h1M56 340h1M58 340h1M66 340h1M74 340h1M1 341h1M5 341h1M8 341h1M12 341h1M14 341h1M18 341h1M21 341h3M29 341h1M35 341h1M38 341h1M41 341h1M48 341h2M53 341h1M55 341h1M57 341h1M69 341h1M71 341h1M74 341h1M0 342h1M10 342h1M12 342h1M25 342h1M28 342h2M41 342h1M50 342h1M53 342h1M58 342h1M69 342h1M5 343h1M14 343h1M20 343h1M22 343h2M28 343h1M38 343h2M48 343h2M52 343h2M61 343h1M71 343h1M1 344h1M6 344h1M10 344h1M22 344h2M27 344h1M29 344h1M35 344h1M38 344h1M40 344h1M49 344h2M52 344h2M55 344h2M71 344h1M81 345h1M80 346h1M85 346h1M84 347h1M80 350h1M85 350h1M24 354h1M32 354h1M49 354h1M60 354h1M70 354h1M73 354h1M75 354h1M15 355h1M24 355h1M49 355h1M56 355h1M67 355h1M73 355h1M75 355h1M24 356h1M49 356h1M73 356h1M75 356h1M23 357h1M75 357h1M15 358h1M18 358h1M23 358h2M49 358h1M75 358h1M23 359h1M56 359h1M24 360h1M56 360h1M15 361h1M24 361h1M60 361h1M67 361h1M73 361h1M15 362h1M23 362h2M49 362h1M75 362h1M15 363h1M18 363h1M24 363h1M49 363h1M52 363h1M60 363h1M75 363h1M24 364h1M54 364h1M56 364h1M75 364h1M15 365h1M24 365h1M49 365h1M60 365h1M72 365h1M56 366h1M69 366h1M89 366h1M54 367h1M85 367h1M0 368h1M56 370h1M89 370h1M47 371h1M63 371h1M82 371h2M0 372h1M5 372h1M8 372h2M19 372h2M22 372h1M26 372h1M38 372h1M45 372h2M51 372h1M56 372h1M65 372h1M72 372h1M82 372h2M20 373h1M34 373h1M47 373h1M59 373h1M69 373h1M72 373h1M83 373h1M1 374h1M18 374h1M45 374h1M66 374h1M69 374h1M23 375h1M27 375h2M34 375h1M55 375h1M67 375h1M78 375h1M4 376h1M8 376h1M10 376h2M21 376h1M28 376h1M30 376h1M41 376h1M45 376h1M52 376h1M58 376h1M62 376h1M73 376h1M89 376h1M0 377h1M24 377h1M27 377h2M31 377h1M40 377h1M60 377h1M69 377h1M79 377h2M89 377h1M0 378h1M6 378h2M10 378h1M20 378h2M28 378h2M37 378h1M43 378h3M50 378h1M53 378h2M59 378h1M62 378h1M0 379h2M14 379h1M19 379h1M35 379h1M37 379h1M40 379h1M52 379h1M56 379h1M58 379h1M63 379h1M70 379h1M72 379h1M80 379h1M86 379h1M4 380h1M6 380h1M14 380h1M20 380h1M24 380h2M35 380h1M41 380h1M67 380h1M74 380h1M82 380h1M4 381h3M14 381h1M19 381h1M32 381h1M51 381h1M67 381h1M72 381h2M79 381h1M86 381h1M89 381h1M33 382h1M37 382h1M54 382h1M56 382h1M70 382h1M72 382h1M89 382h1M3 383h2M25 383h3M43 383h1M47 383h1M49 383h1M60 383h2M65 383h1M68 383h1M71 383h1M75 383h1M79 383h1M87 383h1M89 383h1M6 384h1M9 384h1M15 384h2M19 384h1M22 384h1M37 384h1M39 384h1M41 384h1M52 384h1M63 384h1M75 384h1M80 384h1M87 384h1M89 384h1M8 385h1M32 385h1M34 385h1M39 385h1M43 385h1M45 385h1M47 385h1M49 385h1M70 385h1M75 385h1M77 385h1M81 385h1M83 385h1M88 385h1M13 386h1M29 386h1M31 386h1M36 386h1M50 386h2M54 386h1M68 386h1M75 386h1M81 386h1M9 387h1M15 387h1M17 387h3M23 387h1M25 387h1M27 387h2M35 387h1M39 387h1M41 387h1M48 387h1M50 387h1M52 387h2M58 387h1M69 387h1M71 387h1M0 388h2M5 388h2M13 388h1M18 388h1M20 388h1M22 388h1M26 388h1M38 388h1M50 388h2M55 388h2M58 388h1M61 388h1M71 388h1M75 388h1M77 388h1M86 388h1M89 388h1M2 389h1M12 389h1M22 389h2M26 389h1M36 389h1M49 389h1M55 389h1M57 389h1M61 389h1M74 389h2M89 389h1M8 390h1M15 390h1M18 390h1M23 390h1M27 390h2M44 390h1M48 390h2M60 390h1M75 390h1M86 390h1M0 391h3M8 391h1M10 391h1M13 391h2M18 391h1M25 391h1M27 391h1M29 391h1M39 391h1M49 391h1M51 391h1M53 391h1M56 391h1M69 391h1M74 391h2M85 391h2M13 392h2M27 392h1M29 392h1M33 392h1M35 392h2M6 393h2M13 393h1M33 393h1M37 393h1M54 393h2M70 393h1M81 393h1M86 393h1M89 393h1M25 394h1M53 394h1M55 394h1M59 394h1M67 394h1M72 394h1M80 394h1M85 394h2M88 394h1M7 395h1M14 395h1M21 395h1M23 395h1M35 395h1M38 395h1M43 395h1M58 395h1M61 395h1M64 395h1M67 395h1M72 395h1M3 396h1M20 396h1M40 396h1M53 396h1M56 396h1M61 396h1M65 396h1M78 396h2M86 396h1M13 397h1M23 397h1M26 397h1M31 397h1M37 397h1M61 397h1M66 397h1M13 398h1M15 398h1M21 398h1M40 398h1M53 398h1M63 398h1M66 398h1M80 398h1"/>
<path stroke="#988bcc" d="M15 0h1M20 0h1M27 0h1M44 0h1M56 0h1M70 0h1M2 1h1M9 1h2M12 1h1M19 1h2M27 1h1M41 1h1M45 1h1M49 1h1M54 1h1M58 1h1M62 1h1M69 1h1M88 1h1M0 2h1M5 2h2M8 2h1M10 2h2M31 2h1M37 2h1M41 2h1M45 2h1M47 2h3M54 2h1M56 2h2M60 2h2M5 3h1M26 3h1M33 3h1M35 3h3M44 3h1M58 3h1M60 3h1M65 3h3M69 3h2M74 3h1M3 4h2M6 4h1M14 4h1M17 4h1M19 4h1M21 4h1M27 4h1M31 4h2M50 4h1M56 4h1M60 4h1M66 4h1M0 5h2M4 5h1M9 5h1M11 5h1M13 5h1M20 5h1M23 5h1M25 5h1M27 5h1M32 5h1M37 5h2M41 5h2M45 5h1M50 5h1M54 5h1M56 5h1M70 5h1M72 5h1M88 5h1M3 6h1M7 6h1M13 6h1M21 6h1M34 6h1M72 6h1M2 7h1M34 7h1M39 7h1M41 7h1M54 7h1M6 8h2M11 8h1M16 8h1M21 8h1M23 8h2M44 8h1M50 8h1M55 8h1M61 8h1M66 8h2M72 8h1M74 8h1M2 9h1M7 9h1M9 9h1M15 9h1M19 9h2M31 9h1M33 9h1M35 9h1M42 9h2M45 9h1M48 9h2M56 9h1M58 9h1M68 9h1M70 9h1M72 9h2M88 9h1M1 10h1M7 10h1M10 10h1M12 10h1M14 10h2M32 10h1M39 10h1M49 10h1M54 10h1M56 10h1M58 10h1M63 10h1M20 11h1M83 13h1M5 15h2M14 15h1M20 15h2M26 15h3M35 15h1M40 15h1M51 15h1M53 15h1M64 15h1M71 15h1M0 16h1M3 16h1M5 16h1M9 16h1M12 16h1M14 16h1M21 16h1M28 16h1M36 16h1M41 16h1M47 16h1M54 16h1M65 16h3M0 17h1M5 17h1M12 17h1M25 17h1M42 17h1M49 17h1M53 17h1M88 17h1M80 21h1M84 21h1M84 22h1M84 23h1M89 23h1M9 24h1M20 24h1M24 24h1M28 24h2M45 24h1M48 24h1M56 24h3M67 24h2M90 24h1M11 25h1M15 25h1M20 25h1M27 25h1M47 25h1M53 25h1M56 25h1M60 25h1M70 25h1M10 26h1M12 26h1M39 26h3M49 26h1M65 26h1M68 26h1M71 26h1M75 26h2M5 27h1M14 27h1M21 27h1M37 27h1M54 27h1M88 27h1M0 28h1M7 28h2M12 28h1M44 28h1M58 28h4M4 29h1M8 29h1M21 29h1M26 29h1M32 29h1M46 29h2M51 29h2M54 29h2M60 29h1M0 30h1M3 30h1M8 30h1M21 30h1M30 30h1M40 30h1M45 30h1M54 30h2M59 30h1M71 30h1M74 30h1M7 31h1M12 31h3M20 31h1M23 31h1M27 31h1M37 31h1M39 31h1M52 31h1M69 31h2M6 32h1M10 32h1M14 32h1M22 32h1M29 32h1M40 32h1M56 32h1M65 32h1M73 32h1M75 32h1M3 33h1M18 33h1M20 33h2M24 33h1M29 33h1M35 33h1M31 34h1M45 34h1M63 34h1M65 34h2M88 34h1M0 35h1M13 35h1M22 35h1M25 35h1M32 35h1M42 35h1M50 35h1M61 35h1M66 35h1M69 35h1M10 36h2M13 36h1M15 36h1M17 36h1M22 36h1M25 36h1M28 36h1M41 36h1M45 36h1M47 36h1M57 36h1M63 36h2M73 36h1M12 37h1M17 37h1M30 37h1M35 37h1M50 37h1M58 37h1M63 37h1M71 37h1M73 37h1M82 37h1M3 38h1M5 38h2M9 38h1M13 38h1M21 38h2M25 38h1M37 38h1M41 38h1M48 38h1M56 38h1M60 38h1M68 38h1M84 38h1M0 39h1M2 39h1M4 39h1M26 39h1M38 39h1M54 39h1M70 39h3M78 39h1M81 39h1M85 39h1M89 39h1M6 40h1M14 40h1M16 40h1M32 40h1M37 40h1M53 40h2M61 40h1M63 40h1M67 40h1M70 40h1M83 40h1M14 41h2M55 41h1M60 41h1M62 41h1M64 41h1M66 41h1M74 41h2M78 41h1M7 42h1M18 42h1M38 42h1M42 42h1M45 42h1M68 42h2M3 43h1M13 43h1M21 43h1M26 43h1M29 43h1M31 43h1M38 43h1M47 43h1M51 43h1M53 43h1M59 43h1M72 43h1M13 44h1M22 44h1M25 44h1M28 44h1M48 44h1M57 44h1M61 44h1M1 45h1M8 45h1M10 45h1M13 45h2M18 45h1M29 45h1M31 45h1M36 45h1M66 45h1M8 46h1M18 46h1M23 46h1M28 46h1M31 46h1M38 46h1M45 46h1M47 46h1M51 46h2M60 46h1M3 47h1M7 47h1M21 47h1M25 47h1M42 47h1M56 47h1M58 47h1M88 47h1M1 48h1M10 48h1M39 48h1M50 48h1M89 48h1M14 49h1M19 49h1M23 49h1M27 49h1M31 49h1M36 49h1M44 49h1M46 49h1M49 49h1M66 49h1M14 50h1M19 50h1M23 50h1M35 50h1M57 50h3M81 50h1M8 51h1M13 51h1M22 51h1M24 51h1M28 51h1M35 51h1M39 51h2M43 51h1M67 51h1M80 51h1M6 52h2M18 52h1M29 52h1M32 52h2M39 52h1M41 52h1M49 52h1M55 52h2M90 52h1M0 53h1M2 53h1M9 53h1M14 53h2M18 53h1M26 53h1M36 53h1M41 53h1M44 53h1M56 53h1M60 53h1M1 54h1M8 54h1M18 54h1M28 54h1M30 54h1M34 54h1M40 54h1M46 54h1M51 54h1M64 54h1M66 54h1M78 54h1M88 54h1M9 55h1M14 55h1M17 55h2M20 55h1M26 55h2M33 55h1M36 55h1M39 55h1M53 55h1M67 55h1M71 55h1M74 55h1M82 55h1M84 55h1M1 56h2M5 56h1M13 56h1M22 56h1M25 56h1M27 56h1M30 56h1M39 56h1M48 56h1M51 56h2M75 56h1M3 57h1M8 57h1M17 57h1M25 57h1M33 57h1M45 57h1M54 57h1M56 57h1M65 57h1M75 57h1M88 57h1M6 58h1M21 58h1M27 58h2M32 58h1M49 58h1M68 58h1M73 58h2M76 58h1M89 58h1M9 59h1M33 59h2M59 59h1M75 59h1M15 60h1M18 60h1M22 60h1M27 60h1M38 60h1M42 60h1M59 60h1M64 60h1M8 61h2M19 61h2M24 61h1M31 61h1M38 61h1M47 61h1M86 61h1M0 62h1M4 62h1M40 62h1M48 62h1M72 62h1M1 63h1M7 63h1M11 63h1M16 63h1M39 63h1M47 63h1M51 63h1M54 63h1M67 63h1M20 64h1M29 64h1M47 64h1M49 64h1M73 64h1M10 65h1M17 65h1M25 65h1M39 65h1M63 65h1M70 65h1M1 66h1M8 66h1M15 66h1M17 66h1M20 66h1M26 66h2M31 66h1M36 66h1M38 66h1M40 66h1M43 66h1M59 66h1M73 66h2M76 66h1M88 66h1M5 67h1M11 67h2M16 67h1M27 67h1M30 67h1M71 67h1M8 68h1M15 68h2M21 68h1M29 68h1M34 68h1M55 68h1M13 69h1M25 69h1M30 69h2M36 69h2M41 69h1M44 69h1M49 69h1M53 69h1M56 69h2M66 69h1M76 69h1M18 70h2M23 70h3M36 70h2M40 70h1M43 70h1M49 70h1M57 70h1M90 70h1M0 71h2M7 71h1M15 71h1M22 71h1M27 71h1M47 71h1M69 71h1M89 71h1M19 72h1M23 72h1M25 72h1M54 72h1M61 72h1M89 72h1M4 73h1M7 73h1M27 73h1M40 73h2M43 73h1M49 73h2M68 73h1M73 73h1M80 73h1M8 74h1M20 74h2M24 74h1M41 74h1M55 74h1M69 74h1M11 75h1M14 75h1M35 75h1M39 75h1M49 75h4M65 75h1M70 75h1M73 75h1M89 75h1M10 76h1M14 76h1M18 76h1M24 76h1M28 76h1M30 76h1M32 76h1M39 76h1M58 76h1M61 76h1M65 76h3M71 76h1M14 77h1M17 77h1M20 77h1M24 77h1M30 77h1M44 77h1M50 77h1M70 77h1M73 77h1M17 78h1M42 78h1M45 78h2M55 78h2M64 78h1M4 79h2M9 79h1M11 79h1M15 79h1M28 79h1M43 79h1M45 79h1M47 79h1M68 79h1M90 79h1M21 80h1M30 80h1M34 80h1M37 80h1M41 80h1M43 80h1M46 80h2M53 80h1M57 80h1M69 80h1M0 81h1M2 81h3M11 81h2M16 81h2M20 81h1M27 81h1M41 81h1M63 81h1M72 81h1M88 81h1M12 82h2M42 82h1M58 82h1M63 82h2M6 83h1M11 83h1M18 83h1M22 83h1M36 83h1M64 83h1M6 84h1M11 84h1M20 84h1M25 84h1M33 84h1M35 84h1M43 84h3M47 84h1M58 84h1M64 84h1M88 84h1M16 85h1M29 85h1M40 85h1M43 85h1M70 85h2M5 86h2M16 86h1M21 86h1M39 86h2M46 86h1M50 86h1M53 86h1M60 86h1M15 87h1M22 87h2M41 87h2M48 87h1M51 87h1M53 87h1M61 87h1M67 87h1M0 88h1M5 88h1M7 88h1M16 88h1M31 88h1M45 88h1M52 88h1M88 88h1M1 89h1M5 89h3M9 89h1M11 89h1M20 89h1M24 89h1M36 89h1M44 89h1M9 90h2M19 90h1M22 90h1M25 90h2M36 90h1M41 90h1M50 90h2M60 90h1M64 90h1M70 90h2M4 91h1M8 91h1M22 91h1M28 91h4M37 91h2M40 91h1M50 91h1M53 91h1M66 91h1M70 91h1M76 91h1M6 92h1M9 92h1M11 92h1M20 92h1M26 92h1M28 92h1M34 92h1M52 92h1M54 92h2M57 92h1M86 92h1M6 93h1M8 93h1M15 93h1M20 93h1M27 93h1M29 93h1M41 93h1M43 93h1M59 93h1M13 94h1M26 94h1M33 94h1M51 94h2M69 94h1M89 94h1M2 95h2M13 95h1M15 95h1M19 95h2M26 95h1M69 95h1M71 95h1M90 95h1M23 96h1M34 96h1M57 96h1M60 96h1M89 96h1M0 97h1M2 97h1M8 97h1M16 97h1M19 97h1M29 97h1M42 97h1M44 97h1M47 97h1M56 97h1M60 97h1M64 97h1M68 97h1M71 97h1M38 98h1M54 98h1M56 98h2M69 98h1M71 98h1M23 99h1M26 99h1M34 99h1M41 99h1M45 99h1M48 99h2M66 99h1M68 99h1M76 99h1M81 99h1M1 100h1M18 100h1M25 100h1M39 100h1M42 100h1M48 100h1M58 100h1M69 100h2M74 100h1M13 101h1M23 101h1M33 101h1M51 101h1M57 101h1M59 101h1M70 101h1M89 101h1M6 102h2M28 102h2M31 102h1M36 102h1M40 102h3M48 102h1M50 102h1M63 102h1M70 102h1M26 103h1M60 103h1M62 103h1M65 103h2M69 103h1M72 103h1M74 103h3M55 104h1M69 104h1M72 104h1M75 104h1M52 105h2M56 105h1M59 105h1M61 105h1M72 105h3M80 105h1M83 105h1M57 106h1M61 106h1M63 106h1M69 106h1M72 106h1M76 106h1M89 106h1M53 107h1M70 107h1M75 107h1M79 107h1M85 107h1M55 108h1M72 108h1M83 108h1M87 108h1M89 108h1M51 109h2M62 109h1M66 109h1M68 109h1M26 110h1M63 110h2M69 110h1M74 110h1M76 110h1M80 110h3M6 111h1M15 111h1M18 111h1M33 111h2M51 111h1M54 111h1M59 111h1M71 111h1M80 111h2M87 111h1M90 111h1M5 112h2M14 112h1M19 112h1M25 112h1M40 112h1M45 112h1M55 112h1M65 112h1M68 112h1M75 112h1M79 112h1M44 113h1M58 113h1M81 114h2M12 115h1M22 115h1M28 115h1M82 115h1M85 115h1M65 116h2M77 116h1M15 117h1M29 117h1M43 117h1M65 117h1M3 118h2M9 118h1M13 118h1M15 118h1M21 118h2M25 118h1M27 118h1M31 118h2M47 118h1M60 118h1M77 118h1M10 119h1M40 119h1M47 119h1M54 119h1M56 119h1M89 119h1M1 120h1M6 120h1M19 120h1M33 120h1M54 120h1M62 120h1M66 120h1M78 120h2M83 120h1M88 120h2M0 121h1M7 121h1M9 121h2M13 121h3M18 121h1M20 121h1M25 121h1M30 121h1M32 121h2M49 121h2M61 121h1M66 121h2M77 121h1M90 121h1M3 122h1M18 122h1M21 122h2M27 122h1M37 122h1M43 122h1M49 122h2M53 122h1M64 122h1M72 122h1M74 122h1M76 122h1M83 122h1M90 122h1M3 123h1M6 123h1M8 123h1M18 123h1M20 123h1M24 123h1M31 123h1M51 123h1M59 123h1M64 123h1M68 123h1M75 123h2M82 123h1M85 123h1M88 123h1M5 124h1M13 124h2M16 124h1M18 124h2M21 124h1M51 124h1M57 124h2M64 124h1M79 124h1M88 124h1M90 124h1M15 125h1M28 125h1M30 125h1M34 125h2M51 125h1M61 125h1M64 125h1M66 125h1M71 125h1M80 125h1M82 125h1M13 126h1M22 126h1M24 126h2M31 126h1M35 126h1M37 126h1M39 126h1M47 126h1M52 126h2M55 126h1M57 126h1M69 126h2M88 126h1M0 127h1M20 127h1M23 127h1M26 127h1M32 127h1M39 127h1M50 127h1M59 127h1M65 127h1M7 128h1M10 128h1M20 128h1M28 128h1M37 128h1M39 128h1M42 128h1M49 128h1M56 128h2M63 128h1M66 128h1M74 128h2M89 128h1M1 129h1M12 129h2M15 129h2M29 129h1M31 129h1M37 129h2M43 129h3M50 129h1M52 129h3M56 129h1M59 129h1M66 129h1M70 129h1M72 129h1M88 129h2M5 130h1M26 130h1M29 130h1M36 130h1M38 130h1M40 130h1M44 130h1M51 130h1M54 130h1M64 130h1M74 130h1M5 131h1M7 131h2M14 131h1M23 131h1M44 131h2M50 131h3M55 131h1M59 131h1M62 131h1M70 131h1M0 132h1M8 132h1M15 132h2M22 132h1M36 132h2M55 132h1M59 132h2M75 132h1M88 132h1M3 133h1M9 133h1M13 133h1M17 133h1M22 133h1M26 133h1M29 133h4M36 133h1M43 133h1M45 133h1M52 133h1M55 133h1M61 133h1M71 133h1M11 134h1M14 134h1M19 134h1M24 134h1M30 134h1M41 134h1M44 134h1M48 134h1M52 134h1M56 134h1M70 134h1M74 134h1M14 135h1M18 135h1M20 135h1M24 135h1M39 135h1M50 135h1M56 135h1M66 135h1M71 135h1M20 136h1M28 136h1M32 136h1M54 136h1M70 136h1M13 137h1M20 137h1M24 137h1M27 137h1M32 137h1M39 137h1M49 137h1M56 137h1M70 137h1M8 138h1M12 138h1M18 138h1M22 138h1M24 138h1M28 138h1M38 138h2M45 138h1M54 138h1M56 138h1M60 138h1M74 138h2M89 138h1M10 139h1M18 139h1M32 139h1M45 139h1M54 139h1M60 139h1M70 139h1M75 139h1M18 140h1M20 140h1M23 140h2M28 140h1M32 140h1M45 140h1M56 140h1M61 140h1M66 140h1M70 140h1M75 140h1M6 141h1M15 141h1M32 141h1M45 141h1M49 141h1M53 141h2M60 141h1M66 141h1M12 142h1M32 142h1M42 142h1M45 142h1M53 142h2M56 142h1M60 142h1M66 142h1M5 143h2M12 143h1M18 143h1M27 143h2M42 143h1M45 143h1M54 143h1M60 143h1M70 143h1M9 144h1M27 144h1M57 145h1M57 146h1M65 148h1M4 149h1M45 149h1M7 150h1M56 150h1M0 151h1M28 151h1M37 151h1M51 151h1M56 151h1M39 152h1M57 152h1M35 153h1M20 154h1M5 155h1M38 155h1M53 155h1M56 155h1M17 156h1M38 156h1M42 156h1M57 156h1M60 156h1M69 156h1M7 157h1M9 157h1M13 157h1M38 157h1M62 157h1M51 158h1M63 158h1M68 158h1M70 158h1M74 159h1M89 159h1M27 160h1M63 160h1M89 160h1M7 161h1M55 161h1M57 161h1M89 162h1M5 163h1M19 163h1M89 163h1M29 164h1M85 164h1M45 165h1M77 165h1M89 165h1M8 166h1M89 166h1M51 167h1M79 167h1M86 167h1M89 167h1M1 168h1M11 168h1M34 168h1M38 168h1M51 168h1M68 168h1M83 168h1M87 168h1M13 169h1M23 169h1M29 169h1M40 169h1M42 169h1M54 169h2M57 169h1M59 169h1M69 169h1M72 169h1M77 169h2M80 169h1M87 169h1M31 170h1M35 170h1M50 170h1M53 170h1M55 170h1M62 170h1M70 170h1M83 170h1M86 170h1M7 171h1M24 171h1M29 171h1M31 171h2M42 171h1M52 171h1M55 171h1M68 171h1M81 171h1M83 171h1M85 171h1M87 171h2M15 172h1M25 172h1M46 172h1M57 172h1M77 172h1M80 172h2M26 173h1M43 173h1M57 173h1M63 173h1M65 173h2M72 173h1M86 173h1M20 174h1M24 174h1M27 174h1M32 174h1M36 174h1M42 174h1M53 174h2M70 174h1M77 174h1M80 174h1M5 175h1M15 175h1M32 175h2M43 175h2M52 175h1M66 175h1M73 175h1M16 176h1M53 176h2M62 176h2M75 176h1M88 176h1M40 177h1M46 177h1M51 177h1M57 177h2M62 177h2M69 177h1M71 177h1M82 177h1M84 177h1M86 177h1M27 178h1M56 178h1M64 178h1M66 178h1M69 178h3M77 178h1M80 178h1M82 178h1M87 178h1M21 179h1M23 179h1M27 179h1M30 179h1M37 179h1M41 179h1M51 179h1M53 179h2M56 179h1M60 179h1M63 179h2M70 179h1M76 179h1M79 179h1M84 179h1M88 179h1M90 179h1M2 180h1M27 180h1M33 180h1M40 180h1M55 180h1M58 180h1M60 180h1M79 180h1M83 180h1M86 180h1M89 180h1M2 181h1M8 181h2M15 181h1M25 181h1M30 181h1M36 181h1M39 181h1M46 181h1M51 181h1M73 181h1M88 181h1M7 182h1M9 182h1M49 182h1M70 182h1M2 183h1M6 183h2M10 183h1M12 183h1M48 183h1M51 183h1M58 183h1M90 183h1M22 184h1M43 184h1M51 184h1M60 184h1M74 184h1M76 184h1M5 185h1M60 185h1M62 185h1M0 186h1M7 186h1M15 186h1M32 186h1M43 186h1M57 186h2M63 186h1M71 186h1M15 187h1M17 187h1M20 187h1M22 187h2M26 187h1M29 187h1M34 187h1M36 187h1M51 187h2M65 187h1M67 187h1M71 187h1M76 187h1M88 187h1M18 188h1M45 188h1M47 188h1M51 188h1M55 188h1M60 188h1M65 188h2M68 188h4M1 189h1M12 189h1M64 189h1M70 189h1M74 189h1M1 190h1M16 190h1M27 190h1M30 190h2M33 190h1M38 190h1M49 190h1M55 190h2M64 190h1M69 190h1M72 190h1M1 191h1M9 191h2M12 191h1M61 191h1M66 191h1M69 191h1M74 191h2M6 192h1M15 192h1M25 192h1M34 192h1M43 192h1M46 192h1M49 192h2M53 192h1M65 192h1M70 192h1M44 193h1M56 193h1M58 193h1M1 194h1M5 194h1M11 194h1M39 194h1M50 194h1M54 194h1M56 194h2M61 194h1M68 194h1M74 194h1M7 195h1M18 195h2M27 195h1M43 195h1M48 195h1M53 195h1M55 195h1M66 195h1M71 195h1M20 196h1M35 196h1M47 196h1M54 196h1M57 196h1M88 196h1M2 197h1M13 197h1M16 197h1M21 197h1M37 197h1M42 197h2M50 197h1M53 197h1M63 197h1M67 197h1M71 197h1M74 197h2M1 198h1M3 198h1M5 198h1M8 198h1M13 198h1M23 198h1M27 198h1M29 198h1M31 198h1M55 198h1M60 198h1M62 198h1M69 198h2M88 198h1M12 199h2M17 199h1M21 199h1M32 199h1M38 199h2M41 199h2M50 199h1M54 199h2M61 199h2M65 199h1M70 199h1M8 200h1M25 200h1M44 200h1M59 200h1M61 200h1M66 200h1M70 200h1M73 200h1M10 201h1M16 201h1M22 201h1M26 201h1M32 201h1M36 201h1M43 201h1M46 201h1M55 201h1M68 201h1M76 201h1M89 201h1M0 202h1M42 202h1M47 202h1M49 202h1M88 202h1M9 203h1M17 203h1M40 203h1M45 203h1M49 203h1M54 203h1M63 203h1M75 203h1M78 203h1M84 203h1M90 203h1M14 204h1M20 204h1M24 204h1M33 204h1M37 204h1M55 204h2M59 204h1M63 204h2M66 204h1M3 205h1M11 205h1M17 205h1M42 205h1M51 205h1M57 205h2M61 205h1M73 205h1M76 205h1M88 205h1M5 206h2M14 206h1M20 206h1M28 206h1M33 206h1M45 206h1M66 206h1M75 206h1M4 207h1M8 207h1M10 207h1M12 207h1M15 207h1M37 207h1M44 207h2M52 207h1M58 207h1M64 207h1M75 207h1M77 207h1M88 207h2M2 208h1M9 208h1M13 208h1M32 208h1M35 208h1M53 208h1M62 208h1M1 209h1M25 209h1M28 209h1M38 209h1M45 209h1M59 209h1M69 209h1M88 209h1M21 210h1M26 210h1M45 210h1M66 210h2M69 210h1M82 210h1M2 211h1M6 211h1M27 211h1M32 211h1M60 211h1M62 211h1M67 211h1M71 211h1M9 212h1M14 212h1M57 212h1M70 212h1M89 212h1M10 213h1M23 213h1M29 213h1M39 213h2M60 213h1M67 213h1M3 214h1M7 214h1M24 214h1M37 214h1M53 214h1M55 214h1M57 214h1M62 214h1M68 214h1M72 214h1M76 214h1M85 214h1M90 214h1M8 215h1M10 215h1M34 215h1M38 215h1M43 215h1M54 215h1M64 215h1M88 215h1M28 216h1M50 216h1M60 216h1M67 216h1M69 216h1M1 217h1M7 217h1M14 217h1M30 217h1M42 217h1M58 217h1M5 218h3M38 218h1M49 218h1M51 218h1M60 218h3M67 218h1M75 218h1M81 218h1M83 218h1M90 218h1M1 219h1M11 219h1M22 219h1M24 219h1M32 219h1M36 219h1M47 219h1M50 219h1M70 219h1M2 220h1M10 220h1M24 220h1M39 220h1M59 220h1M68 220h1M83 220h1M88 220h1M90 220h1M3 221h1M16 221h1M55 221h2M60 221h1M65 221h1M74 221h1M84 221h1M88 221h1M23 222h1M54 222h1M58 222h1M61 222h1M77 222h1M80 222h1M5 223h1M11 223h2M14 223h2M17 223h1M21 223h1M43 223h1M45 223h1M56 223h1M58 223h2M66 223h1M74 223h2M88 223h1M90 223h1M3 224h1M14 224h2M18 224h1M29 224h1M33 224h1M42 224h2M68 224h1M72 224h1M75 224h1M5 225h2M13 225h1M20 225h1M27 225h3M53 225h1M56 225h1M59 225h1M62 225h1M70 225h1M88 225h1M1 226h1M5 226h2M20 226h1M49 226h1M53 226h2M56 226h1M58 226h1M61 226h1M69 226h1M1 227h1M6 227h1M13 227h2M34 227h1M40 227h1M45 227h1M61 227h1M69 227h2M77 227h1M19 228h1M23 228h1M33 228h1M42 228h1M44 228h1M50 228h1M54 228h1M58 228h1M1 229h1M19 229h2M28 229h2M36 229h1M55 229h1M57 229h1M1 230h1M9 230h2M16 230h1M20 230h2M24 230h2M28 230h3M35 230h1M39 230h1M41 230h2M53 230h1M62 230h2M69 230h1M6 231h1M9 231h1M13 231h1M23 231h1M25 231h2M39 231h1M44 231h1M46 231h1M49 231h1M62 231h1M68 231h1M75 231h2M88 231h1M16 232h1M22 232h1M42 232h1M52 232h1M88 232h1M0 233h1M2 233h1M12 233h1M18 233h1M29 233h1M33 233h2M56 233h1M66 233h1M74 233h1M88 233h1M3 234h1M7 234h1M28 234h1M32 234h1M43 234h2M47 234h1M51 234h1M56 234h1M64 234h1M67 234h1M69 234h1M72 234h1M90 234h1M3 235h1M10 235h1M16 235h1M19 235h1M40 235h1M46 235h1M49 235h1M52 235h1M56 235h2M59 235h1M62 235h1M66 235h1M73 235h1M76 235h1M9 236h1M27 236h1M33 236h1M35 236h1M37 236h1M50 236h1M53 236h1M64 236h1M69 236h1M90 236h1M13 237h1M23 237h1M30 237h1M55 237h1M62 237h1M70 237h1M81 237h1M1 238h1M14 238h1M21 238h1M35 238h1M38 238h2M41 238h1M46 238h1M50 238h2M59 238h1M61 238h1M72 238h1M90 238h1M2 239h1M5 239h1M14 239h1M23 239h1M39 239h1M42 239h1M47 239h2M53 239h1M59 239h1M22 240h1M42 240h1M47 240h1M50 240h1M55 240h1M72 240h1M11 241h1M33 241h1M50 241h1M57 241h1M62 241h1M67 241h1M88 241h1M1 242h1M5 242h1M11 242h1M13 242h1M28 242h1M36 242h1M45 242h1M65 242h2M74 242h1M82 242h1M90 242h1M1 243h1M14 243h1M24 243h1M26 243h1M30 243h1M33 243h1M40 243h2M54 243h1M56 243h1M70 243h1M6 244h1M8 244h1M15 244h1M34 244h1M41 244h1M43 244h1M56 244h2M9 245h1M15 245h1M23 245h2M26 245h1M31 245h1M36 245h1M41 245h2M44 245h1M54 245h1M58 245h1M69 245h2M5 246h1M13 246h1M31 246h1M34 246h1M36 246h1M41 246h1M48 246h1M59 246h1M64 246h1M7 247h1M20 247h1M31 247h1M35 247h1M39 247h1M42 247h1M60 247h1M75 247h1M7 248h1M15 248h1M26 248h1M30 248h1M41 248h1M45 248h1M49 248h1M51 248h1M58 248h1M70 248h1M73 248h1M79 248h1M81 248h1M87 248h1M5 249h1M27 249h1M41 249h1M53 249h1M58 249h1M66 249h1M82 249h1M5 250h1M7 250h1M24 250h1M28 250h1M33 250h1M35 250h2M42 250h1M57 250h3M69 250h1M72 250h1M80 250h1M84 250h1M1 251h1M6 251h1M13 251h1M22 251h1M54 251h2M59 251h1M2 252h1M7 252h1M16 252h1M21 252h1M29 252h1M31 252h1M36 252h1M41 252h1M45 252h1M47 252h1M58 252h1M65 252h1M72 252h2M76 252h1M20 253h1M29 253h1M32 253h1M37 253h2M48 253h1M53 253h1M60 253h1M63 253h1M66 253h1M68 253h1M75 253h2M14 254h1M17 254h1M30 254h1M42 254h1M47 254h1M64 254h1M66 254h1M68 254h1M75 254h1M89 254h1M1 255h1M6 255h2M9 255h2M12 255h1M14 255h1M22 255h1M26 255h1M28 255h1M30 255h1M32 255h1M34 255h1M48 255h1M56 255h1M66 255h1M69 255h2M74 255h1M80 255h1M84 255h1M15 256h1M23 256h2M29 256h2M51 256h1M58 256h1M66 256h1M15 257h1M29 257h1M38 257h1M47 257h1M66 257h1M1 258h2M8 258h2M15 258h1M20 258h2M27 258h2M38 258h2M47 258h1M49 258h1M55 258h1M58 258h1M64 258h1M71 258h1M74 258h1M77 258h1M83 258h1M10 259h1M19 259h1M29 259h1M33 259h1M36 259h1M44 259h1M47 259h1M51 259h1M56 259h1M60 259h1M77 259h1M79 259h1M1 260h1M3 260h2M8 260h1M11 260h1M15 260h1M36 260h1M42 260h2M55 260h1M65 260h1M75 260h1M88 260h1M5 261h1M7 261h1M9 261h1M21 261h1M23 261h2M29 261h1M37 261h1M39 261h1M42 261h1M58 261h1M66 261h1M72 261h1M75 261h1M89 261h1M2 262h2M29 262h1M37 262h2M52 262h1M60 262h2M71 262h1M75 262h1M6 263h1M10 263h2M21 263h1M25 263h1M27 263h2M42 263h1M75 263h1M85 263h2M2 264h1M5 264h1M18 264h3M22 264h1M26 264h1M34 264h1M51 264h1M60 264h2M71 264h1M73 264h1M82 264h1M10 265h2M15 265h1M22 265h1M25 265h1M40 265h1M44 265h1M50 265h1M52 265h1M60 265h1M64 265h1M67 265h1M5 266h3M24 266h1M30 266h1M33 266h1M45 266h1M74 266h1M86 266h2M2 267h1M7 267h1M13 267h1M19 267h1M23 267h1M36 267h1M39 267h1M42 267h1M45 267h1M54 267h1M60 267h1M74 267h2M20 268h1M41 268h1M43 268h1M67 268h1M83 268h1M12 269h1M15 269h1M18 269h1M20 269h1M23 269h1M31 269h1M77 269h1M84 269h1M89 269h1M1 270h2M5 270h1M20 270h1M33 270h1M39 270h1M47 270h1M56 270h1M74 270h2M86 270h1M88 270h3M9 271h1M19 271h1M21 271h1M30 271h1M38 271h2M42 271h1M46 271h2M68 271h1M70 271h1M89 271h1M1 272h1M11 272h1M17 272h1M19 272h1M23 272h1M30 272h1M42 272h1M65 272h1M69 272h1M86 272h1M0 273h1M12 273h1M17 273h2M21 273h1M24 273h1M31 273h1M44 273h1M78 273h1M0 274h1M5 274h1M12 274h1M17 274h1M19 274h1M22 274h1M25 274h1M44 274h1M78 274h1M80 274h1M1 275h1M5 275h2M12 275h1M17 275h3M22 275h1M27 275h1M31 275h1M81 275h1M83 275h1M0 276h1M5 276h1M12 276h1M18 276h1M20 276h2M26 276h1M43 276h1M81 276h1M85 276h1M0 277h1M5 277h2M12 277h1M26 277h1M80 277h2M0 278h1M5 278h1M12 278h1M22 278h1M24 278h2M27 278h1M31 278h1M43 278h1M73 278h1M78 278h1M80 278h1M0 279h1M5 279h2M17 279h1M19 279h1M25 279h3M31 279h1M43 279h1M79 279h1M1 280h1M10 280h1M13 280h2M21 280h1M34 280h1M58 280h1M60 280h1M86 280h1M1 281h1M6 281h1M19 281h1M32 281h1M40 281h2M45 281h1M51 281h1M55 281h1M57 281h1M76 281h1M80 281h1M8 282h1M19 282h1M26 282h1M43 282h1M48 282h1M62 282h2M68 282h1M71 282h1M83 282h3M87 282h1M1 283h1M3 283h1M5 283h1M10 283h1M14 283h1M16 283h2M21 283h1M23 283h1M25 283h1M41 283h1M49 283h2M56 283h1M70 283h1M87 283h1M6 284h1M11 284h2M30 284h1M34 284h1M42 284h2M56 284h1M59 284h1M64 284h1M68 284h1M76 284h1M88 284h1M1 285h1M4 285h1M12 285h1M15 285h1M19 285h2M24 285h1M29 285h1M34 285h1M36 285h1M45 285h1M58 285h1M75 285h1M0 286h1M12 286h1M16 286h2M31 286h1M37 286h1M43 286h1M46 286h1M73 286h1M90 286h1M18 287h1M22 287h1M25 287h1M37 287h2M40 287h1M43 287h1M72 287h2M88 287h1M90 287h1M16 288h1M31 288h1M37 288h1M43 288h1M46 288h2M52 288h1M64 288h1M72 288h1M90 288h1M1 289h2M5 289h1M24 289h1M34 289h1M36 289h1M41 289h1M50 289h1M74 289h2M8 290h2M24 290h1M26 290h1M42 290h2M48 290h1M57 290h1M60 290h1M81 290h1M17 291h1M19 291h1M32 291h1M41 291h1M45 291h1M52 291h1M69 291h1M83 291h1M4 292h1M9 292h1M14 292h1M16 292h1M18 292h1M22 292h1M24 292h1M34 292h1M43 292h1M51 292h1M64 292h1M89 292h1M5 293h1M13 293h1M15 293h1M21 293h2M26 293h1M28 293h2M51 293h1M61 293h1M76 293h1M89 293h1M0 294h1M3 294h1M12 294h2M15 294h1M20 294h2M31 294h1M45 294h1M53 294h1M57 294h1M59 294h1M88 294h1M13 295h2M22 295h2M31 295h1M39 295h1M66 295h1M23 296h1M71 296h1M74 296h1M8 297h1M28 297h1M30 297h2M38 297h1M45 297h1M50 297h1M53 297h1M0 298h3M10 298h2M23 298h1M40 298h1M43 298h1M45 298h1M48 298h1M66 298h1M70 298h1M76 298h1M2 299h1M9 299h2M26 299h1M28 299h1M32 299h1M43 299h1M50 299h1M52 299h1M56 299h1M85 299h1M2 300h2M7 300h1M9 300h1M14 300h1M25 300h2M28 300h1M31 300h2M34 300h1M36 300h1M40 300h1M50 300h1M57 300h1M85 300h1M4 301h1M17 301h1M54 301h1M57 301h1M71 301h1M74 301h1M88 301h1M4 302h1M9 302h1M15 302h1M25 302h1M27 302h1M30 302h1M35 302h1M39 302h1M43 302h1M58 302h3M63 302h1M0 303h1M2 303h1M4 303h1M11 303h1M22 303h1M24 303h1M31 303h1M33 303h2M36 303h1M39 303h2M47 303h1M50 303h2M54 303h1M61 303h1M69 303h1M0 304h1M3 304h1M11 304h1M15 304h1M34 304h1M40 304h1M43 304h1M48 304h1M50 304h2M66 304h1M88 304h1M2 305h1M6 305h1M14 305h1M21 305h1M29 305h1M32 305h1M34 305h1M37 305h1M39 305h2M54 305h1M62 305h1M67 305h1M76 305h1M0 306h1M6 306h4M18 306h1M26 306h1M31 306h2M36 306h1M42 306h1M48 306h1M50 306h1M58 306h1M67 306h1M76 306h1M88 306h1M4 307h1M35 307h1M61 307h2M89 307h1M4 308h1M7 308h1M13 308h1M25 308h1M30 308h1M49 308h1M53 308h1M65 308h1M69 308h1M9 309h2M12 309h2M27 309h2M42 309h1M46 309h1M53 309h1M58 309h1M62 309h1M69 309h1M3 310h1M9 310h2M12 310h1M20 310h1M24 310h2M31 310h1M33 310h1M37 310h1M40 310h1M42 310h1M46 310h1M60 310h1M66 310h1M72 310h1M75 310h1M88 310h1M4 311h4M41 311h1M16 312h1M31 312h1M39 312h1M50 312h1M55 312h1M58 312h2M63 312h2M66 312h1M76 312h1M7 313h2M24 313h1M28 313h1M33 313h2M13 314h1M22 314h1M26 314h1M35 314h1M51 314h1M61 314h1M63 314h1M65 314h2M68 314h1M88 314h1M4 315h3M25 315h2M30 315h2M33 315h2M37 315h1M39 315h1M45 315h1M47 315h1M50 315h1M53 315h1M56 315h2M59 315h1M3 316h3M10 316h2M20 316h1M22 316h1M26 316h1M34 316h1M37 316h1M39 316h1M42 316h1M53 316h1M56 316h2M59 316h1M64 316h1M69 316h1M71 316h1M3 317h1M9 317h1M13 317h1M23 317h1M25 317h1M28 317h1M34 317h1M40 317h1M44 317h1M47 317h2M58 317h1M64 317h1M73 317h1M10 318h1M15 318h1M19 318h1M21 318h1M24 318h1M27 318h1M30 318h1M34 318h1M37 318h1M44 318h1M52 318h1M73 318h1M1 319h1M10 319h1M27 319h1M65 319h1M67 319h1M70 319h1M3 320h1M26 320h1M40 320h1M51 320h1M55 320h1M2 321h1M8 321h1M10 321h1M13 321h1M16 321h1M19 321h3M29 321h1M38 321h1M41 321h1M44 321h2M56 321h1M60 321h1M62 321h1M64 321h1M67 321h1M76 321h1M0 322h2M6 322h1M15 322h1M18 322h1M23 322h2M29 322h1M31 322h1M34 322h1M38 322h1M40 322h3M50 322h1M56 322h1M72 322h1M1 323h1M4 323h1M6 323h1M9 323h1M13 323h1M16 323h1M25 323h1M35 323h1M37 323h1M39 323h2M43 323h1M48 323h1M54 323h1M61 323h1M64 323h1M66 323h1M70 323h2M74 323h2M5 324h1M29 324h1M37 324h1M41 324h1M47 324h1M53 324h1M60 324h1M75 324h1M79 324h1M0 325h2M15 325h1M18 325h4M24 325h1M26 325h1M28 325h1M31 325h1M34 325h1M41 325h1M43 325h1M52 325h2M55 325h1M58 325h1M65 325h1M69 325h1M76 325h1M1 326h1M5 326h2M8 326h1M11 326h1M14 326h1M19 326h1M26 326h1M55 326h2M76 326h1M18 327h1M22 327h1M30 327h1M34 327h1M36 327h1M44 327h1M60 327h1M63 327h1M69 327h2M6 328h1M20 328h1M25 328h1M27 328h1M29 328h2M36 328h1M41 328h1M45 328h2M49 328h1M52 328h3M57 328h1M59 328h1M62 328h2M65 328h1M67 328h1M69 328h1M74 328h1M88 328h1M4 329h1M13 329h1M16 329h1M22 329h1M26 329h2M29 329h1M34 329h1M40 329h1M42 329h1M62 329h1M71 329h1M39 330h1M45 330h1M50 330h1M64 330h1M72 330h1M87 330h2M0 331h2M4 331h1M11 331h1M16 331h1M27 331h1M29 331h1M31 331h1M36 331h1M38 331h1M46 331h1M49 331h2M57 331h1M61 331h1M72 331h1M74 331h1M88 331h2M10 332h1M21 332h1M26 332h2M29 332h1M32 332h1M34 332h1M37 332h1M39 332h1M46 332h1M57 332h1M62 332h1M72 332h1M81 332h1M88 332h1M11 333h1M14 333h1M20 333h1M22 333h2M34 333h2M38 333h2M47 333h2M53 333h2M61 333h2M70 333h1M6 334h1M28 334h1M32 334h1M35 334h2M38 334h1M49 334h1M54 334h2M66 334h1M70 334h1M75 334h1M12 335h1M15 335h1M18 335h1M24 335h1M27 335h1M39 335h1M49 335h1M54 335h1M60 335h1M9 336h1M13 336h1M15 336h1M27 336h2M45 336h1M70 336h1M75 336h1M6 337h1M12 337h1M20 337h1M23 337h2M27 337h1M29 337h1M32 337h1M34 337h1M49 337h1M54 337h1M57 337h1M60 337h1M66 337h1M8 338h1M14 338h1M20 338h1M24 338h1M28 338h2M32 338h1M34 338h1M54 338h1M61 338h1M8 339h1M12 339h1M14 339h2M18 339h1M20 339h1M24 339h1M28 339h1M32 339h1M45 339h1M53 339h2M60 339h2M27 340h2M42 340h1M45 340h1M49 340h1M54 340h1M61 340h1M6 341h1M20 341h1M27 341h2M39 341h1M45 341h1M5 342h2M15 342h1M18 342h1M20 342h1M27 342h1M39 342h1M45 342h1M49 342h1M55 342h1M60 342h1M12 343h1M24 343h1M27 343h1M29 343h1M32 343h1M34 343h1M55 343h1M12 344h2M20 344h1M24 344h1M28 344h1M60 344h1M66 344h1M70 344h1M85 351h1M84 353h2M18 354h1M34 354h1M52 354h1M54 354h1M66 354h1M18 355h1M34 355h1M52 355h1M54 355h1M66 355h1M70 355h1M15 356h1M18 356h1M42 356h1M52 356h1M54 356h1M66 356h1M15 357h1M24 357h1M32 357h1M34 357h1M42 357h1M49 357h1M60 357h1M66 357h1M12 358h1M42 358h1M52 358h1M54 358h1M60 358h1M12 359h1M15 359h1M18 359h1M24 359h1M34 359h1M49 359h1M52 359h1M54 359h1M60 359h1M66 359h1M75 359h1M15 360h1M18 360h1M34 360h1M49 360h1M52 360h1M66 360h1M70 360h1M75 360h1M12 361h1M18 361h1M34 361h1M49 361h1M54 361h1M66 361h1M70 361h1M75 361h1M18 362h1M34 362h1M42 362h1M60 362h1M32 363h1M34 363h1M42 363h1M54 363h1M15 364h1M32 364h1M42 364h1M49 364h1M52 364h1M60 364h1M18 365h1M34 365h1M42 365h1M52 365h1M54 365h1M66 365h1M75 365h1M78 366h1M84 366h1M82 368h1M89 368h1M85 370h1M87 370h1M45 371h1M89 371h1M30 372h1M35 372h1M42 372h1M50 372h1M53 372h1M68 372h1M75 372h1M85 372h1M89 372h1M8 373h1M26 373h1M32 373h1M35 373h1M38 373h1M40 373h1M49 373h1M56 373h1M70 373h1M74 373h1M88 373h2M6 374h1M13 374h1M20 374h1M25 374h1M35 374h1M49 374h1M56 374h1M60 374h1M73 374h1M75 374h1M79 374h1M82 374h1M86 374h1M7 375h1M18 375h1M48 375h1M52 375h2M56 375h1M58 375h2M62 375h1M69 375h1M89 375h1M16 376h1M40 376h1M56 376h1M60 376h1M66 376h1M69 376h3M76 376h2M82 376h1M4 377h2M11 377h1M46 377h1M51 377h1M66 377h1M71 377h1M2 378h1M33 378h1M39 378h1M42 378h1M48 378h2M65 378h2M68 378h1M71 378h1M74 378h1M80 378h1M83 378h3M87 378h1M90 378h1M2 379h1M8 379h1M27 379h1M43 379h1M45 379h1M48 379h1M50 379h1M57 379h1M62 379h1M78 379h1M82 379h1M26 380h1M29 380h1M55 380h1M57 380h1M75 380h1M85 380h1M8 381h3M21 381h1M25 381h1M35 381h1M44 381h1M47 381h1M59 381h1M68 381h1M71 381h1M78 381h1M80 381h2M85 381h1M87 381h1M22 382h1M27 382h1M68 382h1M74 382h1M78 382h1M81 382h2M84 382h3M0 383h1M8 383h1M13 383h1M22 383h1M52 383h1M77 383h1M80 383h1M83 383h1M10 384h1M27 384h3M59 384h1M66 384h2M73 384h1M76 384h2M81 384h1M83 384h1M85 384h1M5 385h2M10 385h2M14 385h1M21 385h2M30 385h1M36 385h2M41 385h1M51 385h1M62 385h1M71 385h1M84 385h1M86 385h1M89 385h1M0 386h1M2 386h1M7 386h1M27 386h1M32 386h1M37 386h1M43 386h1M46 386h1M60 386h1M62 386h1M66 386h1M20 387h1M24 387h1M42 387h1M45 387h1M61 387h1M66 387h1M81 387h1M87 387h2M8 388h2M12 388h1M24 388h1M45 388h1M48 388h1M52 388h1M54 388h1M66 388h1M81 388h1M85 388h1M6 389h1M13 389h1M15 389h1M18 389h1M20 389h1M24 389h1M28 389h1M41 389h1M45 389h1M53 389h1M56 389h1M60 389h1M71 389h1M85 389h1M12 390h1M20 390h1M24 390h1M32 390h1M39 390h1M45 390h1M51 390h1M56 390h1M82 390h1M89 390h1M5 391h1M12 391h1M15 391h1M20 391h1M23 391h2M32 391h2M60 391h1M83 391h1M87 391h2M0 392h2M5 392h1M43 392h1M61 392h1M74 392h1M83 392h1M85 392h1M87 392h1M89 392h1M27 393h1M39 393h1M45 393h1M47 393h1M50 393h1M78 393h1M80 393h1M27 394h1M70 394h2M5 395h1M54 395h1M65 395h1M70 395h1M87 395h1M4 396h1M6 396h1M16 396h1M22 396h1M59 396h1M70 396h1M73 396h1M77 396h1M82 396h1M89 396h1M48 397h1M67 397h1M71 397h1M74 397h1M76 397h1M78 397h1M11 398h1M82 398h1M84 398h1"/>
<path stroke="#b7acda" d="M5 0h1M31 0h1M33 0h1M42 0h1M48 0h1M51 0h1M1 1h1M39 1h1M42 1h1M46 1h1M56 1h1M60 1h1M64 1h1M74 1h1M40 2h1M44 2h1M71 2h1M40 3h1M54 3h1M64 3h1M71 3h1M88 3h1M0 4h1M15 4h1M22 4h1M29 4h2M34 4h1M49 4h1M51 4h1M53 4h1M15 5h1M22 5h1M31 5h1M33 5h1M46 5h2M49 5h1M52 5h2M55 5h1M58 5h3M66 5h1M69 5h1M0 6h1M64 6h1M66 6h1M35 7h1M55 7h1M64 7h1M67 7h1M71 7h1M88 7h1M13 8h1M33 8h1M57 8h1M63 8h1M65 8h1M0 9h1M8 9h1M14 9h1M27 9h1M29 9h2M34 9h1M47 9h1M50 9h1M67 9h1M75 9h1M4 10h1M80 12h1M82 14h1M23 15h1M48 15h1M56 15h1M74 15h1M27 16h1M69 16h1M52 17h1M58 17h1M60 17h1M62 17h1M85 18h1M83 19h2M78 21h1M77 22h1M79 22h1M83 22h1M0 24h2M11 24h1M21 24h1M25 24h1M30 24h1M32 24h1M66 24h1M88 24h1M9 25h1M14 25h1M29 25h1M39 25h1M45 25h1M58 25h1M90 25h1M27 26h2M59 26h1M69 26h1M8 27h1M23 27h1M28 27h1M39 27h1M2 28h1M18 28h1M29 28h1M36 28h1M42 28h1M56 28h1M66 28h1M1 29h1M5 29h2M11 29h1M13 29h1M16 29h1M27 29h1M37 29h1M62 29h1M90 29h1M9 30h1M13 30h1M15 30h1M64 30h1M69 30h1M88 30h1M3 31h1M9 31h1M24 31h1M26 31h1M36 31h1M46 31h1M88 31h1M17 32h1M28 32h1M55 32h1M2 33h1M28 33h1M62 33h1M64 33h1M8 34h1M21 34h1M39 34h1M44 34h1M50 34h1M67 34h1M37 35h1M2 36h1M4 36h1M19 36h1M32 36h1M34 36h1M44 36h1M70 36h2M80 36h1M86 36h1M88 36h1M1 37h1M6 37h3M13 37h1M39 37h1M41 37h1M47 37h2M53 37h1M56 37h1M66 37h1M69 37h1M74 37h2M2 38h1M34 38h1M38 38h1M80 38h1M82 38h1M86 38h1M7 39h1M22 39h1M36 39h1M75 39h1M13 40h1M73 40h1M76 40h1M81 40h1M87 40h1M0 41h1M8 41h1M23 41h1M41 41h1M45 41h1M65 41h1M76 41h1M83 41h1M0 42h1M6 42h1M20 42h1M53 42h1M60 42h1M65 42h1M86 42h1M4 43h1M17 43h1M25 43h1M32 43h1M50 43h1M57 43h1M70 43h1M74 43h1M84 43h1M5 44h1M19 44h1M60 44h1M82 44h1M86 44h1M9 45h1M19 45h1M38 45h1M49 45h1M77 45h1M86 45h1M88 45h2M7 46h1M15 46h1M20 46h1M24 46h1M35 46h2M39 46h1M69 46h1M82 46h1M86 46h1M9 47h1M38 47h1M41 47h1M49 47h1M57 47h1M77 47h1M80 47h1M2 48h1M27 48h1M43 48h1M63 48h1M76 48h1M86 48h1M2 49h1M39 49h1M52 49h1M54 49h1M69 49h1M75 49h1M84 49h1M1 50h1M10 50h1M13 50h1M72 50h1M3 51h1M41 51h1M58 51h1M84 51h1M90 51h1M4 52h1M20 52h2M42 52h1M54 52h1M62 52h2M65 52h2M72 52h1M80 52h1M82 52h1M84 52h1M10 53h1M13 53h1M24 53h2M30 53h3M39 53h1M50 53h1M57 53h1M71 53h1M78 53h1M22 54h1M25 54h1M59 54h1M70 54h1M90 54h1M10 55h1M28 55h1M46 55h1M60 55h1M72 55h1M85 55h2M24 56h1M31 56h1M44 56h1M50 56h1M55 56h3M6 57h1M9 57h1M15 57h1M26 57h1M29 57h1M35 57h1M43 57h1M60 57h1M62 57h1M66 57h2M9 58h1M11 58h1M13 58h1M30 58h1M37 58h1M4 59h1M8 59h1M19 59h1M27 59h1M36 59h1M47 59h1M55 59h1M57 59h1M23 60h1M48 60h1M86 60h1M12 61h1M39 61h1M66 61h1M77 61h1M80 61h1M5 62h1M21 62h1M26 62h1M74 62h1M10 63h1M14 63h1M59 63h1M75 63h1M82 63h1M8 64h1M19 64h1M24 64h1M32 64h1M51 64h1M67 64h1M6 65h1M29 65h1M75 65h2M79 65h1M90 65h1M4 66h1M11 66h1M13 66h1M21 66h1M23 66h1M32 66h2M45 66h1M47 66h1M56 66h1M58 66h1M71 66h1M29 67h1M31 67h1M48 67h1M50 67h1M32 68h1M39 68h2M42 68h1M56 68h2M10 69h1M24 69h1M52 69h1M64 69h1M72 69h1M6 70h1M9 70h1M22 70h1M46 70h1M52 70h1M56 70h1M13 71h1M23 71h1M29 71h1M34 71h1M48 71h1M60 71h1M76 71h1M5 72h1M11 72h1M44 72h1M53 72h1M69 72h1M76 72h1M15 73h1M35 73h2M57 73h2M66 73h1M90 73h1M0 74h1M3 74h1M22 74h1M31 74h1M39 74h1M60 74h1M5 75h1M9 75h2M13 75h1M40 75h1M53 75h1M27 76h1M34 76h1M36 76h1M50 76h1M64 76h1M76 76h1M7 77h1M15 77h1M39 77h1M59 77h1M11 78h1M38 78h1M58 78h1M88 78h1M19 79h1M33 79h1M49 79h1M16 80h1M24 80h1M60 80h2M6 81h2M9 81h1M13 81h1M19 81h1M22 81h3M30 81h1M36 81h1M45 81h1M51 81h1M75 81h1M22 82h1M28 82h1M30 82h1M32 82h2M44 82h1M54 82h1M60 82h1M66 82h1M1 83h2M12 83h1M25 83h1M27 83h1M30 83h2M47 83h1M49 83h1M55 83h1M59 83h1M88 83h1M9 84h1M22 84h1M26 84h1M28 84h2M36 84h2M90 84h1M5 85h1M13 85h1M65 85h1M8 86h1M19 86h1M22 86h1M35 86h1M63 86h1M66 86h2M2 87h1M14 87h1M26 87h2M40 87h1M47 87h1M58 87h1M64 87h1M22 88h1M24 88h1M27 88h2M43 88h1M50 88h1M62 88h1M83 88h1M10 89h1M22 89h1M25 89h1M35 89h1M39 89h2M49 89h1M53 89h1M66 89h1M69 89h1M74 89h1M31 90h2M42 90h1M47 90h1M75 90h1M18 91h1M25 91h1M39 91h1M54 91h3M81 91h1M39 92h3M45 92h1M70 92h1M10 93h1M33 93h1M69 93h1M75 93h1M89 93h1M0 94h1M19 94h1M27 94h1M45 94h1M47 94h1M50 94h1M53 94h1M56 94h1M60 94h1M86 94h2M0 95h1M5 95h1M23 95h1M34 95h1M45 95h1M50 95h1M56 95h1M61 95h1M63 95h1M66 95h1M70 95h1M72 95h2M9 96h1M24 96h1M26 96h1M41 96h1M47 96h1M64 96h1M17 97h1M27 97h1M63 97h1M16 98h1M31 98h1M41 98h1M13 99h1M20 99h1M46 99h1M0 100h1M17 100h1M44 100h1M61 100h1M88 100h1M3 101h1M12 101h1M34 101h1M63 101h1M2 102h1M45 102h1M54 102h1M65 102h1M89 102h1M53 103h1M57 103h1M63 103h2M81 103h1M53 104h1M56 104h1M59 104h1M65 104h1M70 104h1M79 104h1M82 104h1M85 104h1M87 104h1M50 105h1M55 105h1M70 105h1M89 105h1M54 106h1M59 106h1M64 106h1M86 106h1M51 107h1M55 107h1M65 107h1M76 107h1M81 107h1M59 108h1M84 108h1M86 108h1M88 108h1M54 109h1M56 109h1M58 109h1M51 110h1M54 110h1M58 110h1M89 110h1M3 111h1M11 111h1M20 111h1M43 111h1M84 111h1M86 111h1M3 112h1M7 112h1M36 112h1M58 112h1M81 112h1M86 112h1M88 112h1M78 113h1M34 115h1M78 115h1M84 116h1M87 116h1M79 117h1M23 118h1M28 118h2M41 118h1M64 118h1M80 118h1M86 118h2M11 119h1M39 119h1M55 119h1M66 119h1M79 119h1M81 119h1M85 119h1M2 120h1M8 120h1M10 120h1M13 120h1M21 120h2M39 120h1M42 120h1M87 120h1M2 121h1M6 121h1M8 121h1M23 121h1M36 121h1M41 121h1M45 121h1M57 121h1M68 121h1M70 121h1M12 122h1M38 122h1M41 122h2M71 122h1M77 122h1M79 122h2M1 123h1M10 123h1M25 123h1M42 123h1M55 123h1M60 123h1M69 123h1M78 123h1M4 124h1M63 124h1M66 124h1M70 124h1M75 124h1M81 124h1M8 125h1M29 125h1M37 125h1M50 125h1M77 125h1M79 125h1M83 125h1M85 125h2M88 125h1M4 126h1M23 126h1M38 126h1M1 127h1M4 128h1M6 128h1M27 128h1M34 128h1M48 128h1M3 129h1M7 129h1M25 129h1M27 129h1M34 129h1M39 129h1M65 129h1M76 129h1M4 130h1M32 130h1M39 130h1M41 130h1M45 130h1M63 130h1M65 130h1M1 131h1M22 131h1M25 131h1M33 131h1M67 131h1M75 131h1M29 132h1M34 132h1M47 132h1M50 132h1M47 133h1M60 133h1M66 133h1M76 133h1M89 133h1M10 134h1M25 134h1M39 134h1M53 134h1M15 135h1M32 135h3M49 135h1M54 135h1M60 135h1M70 135h1M75 135h1M15 136h1M24 136h1M34 136h1M45 136h1M60 136h1M66 136h1M15 137h1M34 137h1M45 137h1M54 137h1M60 137h1M66 137h1M7 138h1M15 138h1M32 138h1M42 138h1M66 138h1M15 139h1M24 139h1M34 139h1M34 140h1M42 140h1M60 140h1M11 141h1M24 141h1M42 141h1M70 141h1M15 142h1M24 142h1M33 142h1M70 142h1M15 143h1M24 143h1M32 143h1M34 143h1M66 143h1M54 144h1M68 146h1M89 146h1M25 148h1M33 148h1M1 149h1M7 152h1M56 152h1M66 152h1M9 153h1M36 154h1M56 154h1M61 156h1M75 156h1M50 157h1M10 158h1M20 158h1M39 158h1M55 158h1M61 158h1M69 158h1M61 159h1M85 159h1M3 160h1M78 160h1M61 161h1M28 163h1M87 163h1M76 164h1M84 165h1M13 168h1M23 168h1M62 168h1M77 168h1M85 168h2M0 169h1M75 169h1M83 169h2M6 170h1M11 170h2M20 170h1M57 170h1M71 170h1M77 170h1M87 170h1M1 171h1M8 171h1M43 171h2M58 171h1M64 171h1M12 172h1M45 172h1M58 172h1M60 172h2M82 172h1M23 173h1M28 173h1M34 173h1M59 173h2M81 173h1M83 173h1M39 174h1M50 174h1M56 174h1M78 174h2M82 174h1M88 174h1M30 175h1M39 175h1M51 175h1M53 175h1M55 175h3M60 175h1M67 175h1M3 176h1M8 176h1M27 176h1M57 176h2M60 176h1M65 176h1M81 176h1M87 176h1M8 177h1M24 177h1M28 177h1M39 177h1M56 177h1M73 177h2M78 177h1M81 177h1M83 177h1M88 177h1M47 178h1M49 178h1M83 178h1M86 178h1M39 179h1M44 179h1M48 179h1M61 179h1M65 179h2M68 179h1M78 179h1M50 180h1M56 180h1M72 180h1M77 180h1M82 180h1M4 181h1M20 181h1M52 181h1M71 181h1M75 181h1M90 181h1M6 182h1M27 182h1M44 182h1M1 183h1M21 183h1M39 183h1M41 183h1M46 183h1M59 183h2M65 183h1M2 184h1M37 184h1M42 184h1M53 184h1M55 185h1M68 185h1M90 185h1M45 186h1M47 186h1M70 186h1M2 187h1M40 187h1M53 187h1M66 187h1M75 187h1M13 188h1M17 188h1M63 188h1M76 188h1M0 189h1M53 189h1M60 189h1M41 190h1M68 190h1M74 190h2M6 191h1M27 191h1M42 191h1M47 191h1M49 191h1M53 191h1M57 191h1M71 191h1M7 192h1M17 192h1M19 192h1M44 192h1M55 192h1M62 192h1M66 192h2M73 192h1M88 192h1M30 193h2M45 193h1M54 193h1M60 193h1M70 193h1M88 193h1M21 194h1M41 194h1M22 195h1M28 195h1M32 195h1M56 195h1M6 196h1M24 196h1M34 196h1M43 196h1M50 196h1M53 196h1M56 196h1M61 196h2M73 196h1M76 196h1M11 197h1M20 197h1M30 197h1M35 197h1M39 197h1M41 197h1M44 197h2M55 197h1M62 197h1M64 197h1M4 198h1M41 198h1M56 198h1M66 198h1M18 199h1M28 199h1M49 199h1M53 199h1M59 199h1M66 199h1M7 200h1M15 200h1M41 200h1M62 200h1M19 201h1M21 201h1M39 201h1M41 201h1M48 201h1M52 201h3M59 201h2M64 201h1M82 201h1M8 202h1M23 202h1M27 202h1M70 202h1M75 202h1M84 202h1M0 203h1M10 203h2M22 203h1M32 203h1M44 203h1M50 203h1M88 203h1M8 204h1M32 204h1M42 204h1M50 204h1M60 204h1M81 204h1M23 205h1M33 205h1M53 205h1M56 205h1M64 205h2M70 205h1M72 205h1M80 205h1M2 206h1M10 206h2M18 206h2M25 206h1M39 206h1M41 206h1M46 206h2M51 206h1M56 206h1M63 206h1M16 207h1M27 207h1M35 207h1M55 207h1M1 208h1M22 208h1M33 208h1M54 208h1M56 208h2M87 208h1M0 209h1M12 209h1M27 209h1M55 209h1M74 209h1M77 209h1M83 210h1M34 211h1M47 211h2M51 211h1M72 211h1M80 211h2M86 211h1M88 211h1M43 212h1M86 212h1M1 213h1M20 213h1M66 213h1M77 213h1M83 213h1M87 213h2M14 214h1M18 214h1M38 214h1M40 214h1M44 214h1M49 214h1M58 214h1M60 214h2M69 214h1M75 214h1M80 214h1M88 214h1M25 215h1M33 215h1M42 215h1M47 215h1M52 215h1M59 215h1M85 215h1M3 216h1M22 216h1M29 216h1M37 216h1M53 216h1M81 216h1M84 216h1M89 216h1M0 217h1M54 217h1M80 217h1M84 217h1M86 217h1M88 217h1M66 218h1M88 218h1M71 219h1M63 220h1M78 220h1M80 220h1M85 220h1M87 220h1M71 222h1M89 222h1M32 223h1M44 223h1M51 223h1M68 223h1M8 224h1M19 224h1M35 224h1M38 224h1M51 224h1M62 224h1M0 225h1M3 225h1M7 225h2M14 225h1M19 225h1M24 225h1M31 225h2M34 225h1M38 225h1M40 225h1M43 225h1M55 225h1M58 225h1M72 225h1M74 225h1M2 226h1M8 226h1M10 226h1M13 226h1M22 226h1M25 226h1M27 226h1M30 226h1M38 226h2M42 226h1M63 226h1M65 226h1M11 227h1M20 227h1M30 227h1M42 227h1M54 227h1M56 227h1M58 227h1M63 227h1M4 228h1M13 228h1M27 228h1M30 228h1M53 228h1M56 228h1M22 229h1M35 229h1M60 229h1M6 230h1M11 230h1M14 230h1M38 230h1M45 230h1M48 230h1M50 230h1M54 230h1M61 230h1M70 230h1M10 231h1M15 231h1M33 231h1M40 231h2M57 231h1M1 232h1M6 232h1M8 232h1M12 232h1M48 232h1M5 233h1M13 233h1M40 233h1M52 233h1M63 233h1M69 233h1M1 234h1M21 234h1M27 234h1M50 234h1M53 234h1M55 234h1M66 234h1M1 235h1M8 235h1M15 235h1M27 235h1M34 235h1M36 235h1M38 235h2M41 235h1M45 235h1M55 235h1M67 235h1M71 235h1M79 235h1M12 236h1M14 236h1M16 236h1M38 236h1M49 236h1M57 236h1M83 236h1M6 237h1M10 237h1M17 237h1M34 237h1M38 237h1M49 237h1M51 237h1M56 237h2M63 237h1M66 237h1M8 238h1M37 238h1M54 238h1M56 238h1M64 238h1M67 238h1M69 238h1M77 238h1M0 239h1M16 239h1M18 239h1M25 239h1M38 239h1M56 239h1M60 239h1M66 239h1M70 239h2M82 239h2M20 240h1M37 240h1M61 240h1M82 240h1M86 240h2M31 241h1M40 241h1M18 242h1M44 242h1M48 242h1M51 242h1M54 242h1M79 242h1M83 242h1M89 242h1M2 243h1M9 243h1M15 243h1M59 243h1M64 243h1M49 244h1M60 244h1M67 244h1M71 244h1M7 245h2M21 245h1M34 245h1M45 245h1M48 245h1M56 245h1M67 245h1M27 246h1M55 246h1M88 246h1M1 247h1M9 247h1M13 247h1M47 247h1M58 247h1M70 247h1M22 248h1M40 248h1M42 248h1M68 248h1M80 248h1M85 248h1M90 248h1M7 249h1M13 249h2M17 249h1M32 249h1M35 249h1M49 249h1M54 249h1M57 249h1M62 249h1M64 249h1M68 249h2M75 249h1M85 249h1M87 249h1M2 250h1M10 250h1M22 250h1M37 250h1M45 250h1M47 250h1M50 250h2M53 250h1M65 250h1M83 250h1M11 251h1M15 251h1M67 251h1M69 251h1M6 252h1M22 252h1M30 252h1M40 252h1M50 252h1M52 252h1M55 252h1M59 252h1M62 252h1M8 253h1M24 253h1M41 253h1M44 253h1M52 253h1M69 253h1M73 253h1M1 254h1M11 254h1M51 254h1M60 254h1M0 255h1M42 255h1M60 255h1M63 255h1M78 255h1M25 256h1M27 256h2M38 256h1M44 256h1M78 256h1M0 257h1M23 257h1M25 257h1M27 257h1M34 257h1M46 257h1M64 257h2M72 257h1M76 257h1M86 257h1M90 257h1M24 258h2M42 258h1M46 258h1M54 258h1M88 258h1M9 259h1M15 259h1M28 259h1M39 259h1M42 259h1M52 259h1M62 259h1M70 259h1M86 259h2M5 260h1M14 260h1M19 260h1M25 260h1M44 260h1M68 260h1M70 260h1M76 260h1M84 260h1M86 260h1M89 260h1M0 261h1M11 261h1M13 261h2M19 261h1M25 261h1M27 261h1M48 261h1M63 261h2M69 261h2M84 261h1M86 261h1M88 261h1M7 262h1M12 262h1M21 262h1M24 262h2M43 262h1M53 262h1M56 262h1M63 262h1M69 262h1M84 262h1M89 262h1M9 263h1M23 263h1M32 263h1M37 263h1M49 263h1M58 263h1M70 263h1M80 263h1M82 263h1M84 263h1M14 264h1M28 264h1M40 264h1M70 264h1M74 264h1M84 264h1M0 265h1M8 265h2M23 265h1M26 265h1M28 265h1M36 265h1M74 265h1M87 265h2M13 266h1M15 266h1M19 266h1M25 266h1M31 266h1M39 266h1M43 266h1M46 266h1M78 266h1M82 266h1M89 266h1M16 267h1M28 267h1M40 267h2M61 267h1M71 267h1M79 267h1M82 267h1M84 267h2M8 268h1M56 268h1M79 268h1M82 268h1M89 268h1M3 269h1M7 269h1M33 269h1M39 269h1M42 269h1M73 269h1M76 269h1M78 269h1M87 269h1M6 270h1M69 270h1M77 270h1M79 270h1M83 270h2M3 271h1M15 271h1M29 271h1M36 271h1M75 271h1M79 271h1M84 271h1M15 272h1M35 272h1M39 272h1M53 272h1M61 272h1M1 273h1M5 273h1M19 273h2M25 273h1M62 273h1M79 273h2M82 273h2M85 273h1M1 274h1M18 274h1M20 274h2M24 274h1M26 274h2M31 274h1M43 274h1M75 274h1M79 274h1M81 274h1M0 275h1M20 275h2M24 275h2M43 275h2M62 275h1M67 275h2M73 275h1M78 275h3M82 275h1M85 275h1M1 276h1M6 276h1M19 276h1M22 276h1M24 276h2M31 276h1M44 276h1M78 276h2M83 276h1M1 277h1M19 277h2M22 277h1M24 277h2M27 277h1M31 277h1M44 277h1M61 277h1M67 277h1M78 277h1M83 277h1M85 277h1M6 278h1M17 278h3M21 278h1M26 278h1M67 278h1M79 278h1M81 278h2M85 278h1M1 279h1M21 279h2M44 279h1M64 279h1M67 279h1M73 279h1M78 279h1M81 279h3M35 280h1M52 280h2M55 280h1M66 280h1M74 280h1M77 280h1M2 281h1M8 281h1M27 281h1M31 281h1M39 281h1M44 281h1M77 281h2M81 281h1M83 281h1M6 282h1M9 282h1M14 282h1M29 282h1M45 282h1M50 282h1M52 282h1M54 282h1M74 282h1M82 282h1M13 283h1M28 283h1M34 283h1M48 283h1M75 283h1M79 283h1M81 283h1M19 284h1M27 284h1M44 284h1M47 284h1M53 284h1M87 284h1M6 285h1M21 285h1M35 285h1M37 285h1M41 285h1M63 285h1M76 285h1M80 285h1M83 285h1M85 285h1M2 286h3M7 286h3M13 286h1M18 286h9M28 286h3M32 286h2M36 286h1M39 286h4M44 286h1M49 286h1M51 286h2M58 286h2M63 286h2M67 286h2M74 286h3M80 286h1M86 286h1M0 287h6M7 287h1M11 287h2M14 287h1M16 287h2M19 287h1M23 287h2M26 287h1M28 287h9M41 287h2M44 287h6M51 287h2M54 287h1M58 287h1M61 287h1M63 287h3M67 287h2M76 287h2M81 287h1M86 287h1M89 287h1M0 288h16M17 288h4M22 288h5M28 288h3M32 288h2M36 288h1M38 288h1M40 288h3M44 288h2M48 288h2M53 288h1M58 288h1M61 288h1M63 288h1M67 288h2M73 288h1M75 288h2M84 288h1M86 288h1M88 288h1M19 289h1M22 289h1M42 289h1M66 289h1M80 289h1M82 289h1M86 289h1M2 290h1M10 290h1M15 290h1M52 290h1M61 290h1M70 290h1M88 290h1M9 291h1M14 291h1M39 291h1M73 291h2M82 291h1M0 292h1M39 292h1M71 292h1M86 292h1M4 293h1M8 293h1M20 293h1M33 293h1M66 293h1M77 293h1M7 294h1M9 294h1M23 294h1M30 294h1M38 294h1M49 294h1M5 295h1M27 295h1M35 295h1M54 295h1M62 295h1M70 295h1M73 295h1M6 296h1M55 296h2M72 296h1M86 296h1M0 297h1M35 297h1M52 297h1M80 297h1M35 298h1M57 298h1M77 298h1M11 299h1M41 299h1M55 299h1M65 299h1M81 299h1M87 299h1M13 300h1M27 300h1M56 300h1M62 300h1M69 300h1M71 300h1M80 300h2M10 301h1M27 301h1M34 301h1M45 301h1M56 301h1M68 301h1M14 302h1M22 302h1M36 302h1M50 302h1M62 302h1M65 302h1M68 302h1M88 302h1M3 303h1M7 303h1M14 303h1M17 303h1M23 303h1M67 303h1M71 303h1M75 303h1M88 303h1M90 303h1M42 304h1M3 305h1M5 305h1M16 305h1M30 305h1M35 305h1M41 305h2M46 305h1M48 305h1M50 305h1M53 305h1M2 306h1M4 306h1M22 306h2M25 306h1M35 306h1M39 306h1M54 306h2M57 306h1M59 306h1M71 306h2M22 307h1M27 307h1M45 307h1M74 307h1M6 308h1M39 308h1M54 308h1M61 308h1M74 308h1M64 309h1M74 309h1M5 310h1M15 310h1M41 310h1M48 310h1M64 310h1M26 311h2M30 311h1M37 311h1M10 312h2M19 312h1M24 312h1M34 312h1M38 312h1M43 312h2M61 312h1M67 312h1M26 313h1M30 313h2M49 313h1M56 313h2M6 314h1M29 314h1M36 314h3M55 314h1M57 314h1M69 314h1M1 315h1M13 315h1M22 315h1M27 315h1M48 315h1M63 315h1M66 315h1M30 316h1M60 316h1M63 316h1M66 316h1M39 317h1M45 317h1M55 317h1M70 317h2M1 318h1M4 318h1M14 318h1M16 318h1M20 318h1M22 318h2M35 318h2M45 318h1M53 318h1M63 318h1M72 318h1M76 318h1M7 319h1M64 319h1M7 320h1M13 320h1M53 320h1M62 320h1M1 321h1M7 321h1M9 321h1M34 321h1M43 321h1M71 321h1M88 321h1M8 322h2M11 322h1M20 322h1M25 322h1M27 322h1M45 322h1M88 322h1M3 323h1M36 323h1M42 323h1M58 323h1M72 323h1M79 323h1M82 323h1M14 324h1M27 324h1M34 324h1M49 324h2M62 324h1M66 324h1M88 324h1M7 325h1M9 325h1M39 325h1M51 325h1M18 326h1M22 326h1M39 326h1M41 326h1M49 326h1M73 326h2M84 326h1M9 327h1M20 327h1M28 327h2M55 327h1M65 327h3M89 327h1M1 328h1M4 328h1M13 328h1M28 328h1M58 328h1M79 328h1M82 328h1M3 329h1M6 329h1M15 329h1M23 329h1M30 329h1M38 329h1M51 329h1M57 329h1M75 329h1M86 329h1M88 329h1M10 330h1M12 330h1M20 330h1M42 330h1M60 330h1M63 330h1M2 331h2M20 331h1M41 331h1M52 331h1M54 331h1M65 331h1M70 331h2M78 331h1M80 331h1M6 332h1M24 332h1M30 332h1M36 332h1M49 332h1M54 332h1M60 332h1M77 332h1M1 333h2M19 333h1M24 333h1M30 333h1M32 333h1M50 333h2M63 333h3M71 333h1M85 333h2M88 333h1M15 334h1M18 334h1M24 334h1M34 334h1M42 334h1M45 334h1M32 335h1M45 335h1M70 335h1M24 336h1M32 336h2M42 336h1M60 336h1M66 336h1M82 336h1M11 337h1M15 337h1M28 337h1M42 337h1M45 337h1M70 337h1M15 338h1M45 338h1M60 338h1M23 339h1M27 339h1M34 339h1M42 339h1M66 339h1M70 339h1M82 339h1M15 340h1M20 340h1M24 340h1M32 340h1M34 340h1M70 340h1M77 340h1M87 340h1M15 341h1M24 341h1M32 341h3M42 341h1M54 341h1M60 341h1M66 341h1M70 341h1M7 342h1M24 342h1M32 342h3M54 342h1M66 342h1M70 342h1M6 343h1M18 343h1M45 343h1M54 343h1M60 343h1M66 343h1M70 343h1M78 343h1M7 344h1M15 344h1M32 344h1M34 344h1M45 344h1M54 344h1M85 349h1M85 352h1M7 354h1M12 354h1M33 354h1M42 354h1M11 355h2M32 355h1M42 355h1M60 355h1M11 356h2M32 356h1M60 356h1M7 357h1M11 357h2M52 357h1M54 357h1M70 357h1M32 358h1M34 358h1M66 358h1M70 358h1M32 359h1M42 359h1M70 359h1M32 360h1M42 360h1M54 360h1M60 360h1M32 361h1M42 361h1M52 361h1M11 362h2M52 362h1M54 362h1M66 362h1M70 362h1M11 363h1M66 363h1M70 363h1M18 364h1M34 364h1M66 364h1M70 364h1M7 365h1M12 365h1M32 365h1M70 365h1M82 367h1M84 367h1M83 368h1M84 369h2M87 369h1M89 369h1M82 370h1M78 371h1M84 371h1M11 372h1M47 372h1M66 372h1M70 372h1M78 372h2M81 372h1M7 373h1M25 373h1M78 373h1M80 373h2M85 373h1M87 373h1M34 374h1M51 374h1M67 374h1M83 374h1M89 374h1M0 375h1M38 375h1M40 375h1M50 375h1M77 375h1M81 375h3M32 376h1M46 376h1M53 376h1M61 376h1M78 376h1M80 376h1M83 376h2M86 376h1M62 377h1M77 377h1M82 377h1M87 377h1M4 378h1M13 378h1M19 378h1M24 378h1M40 378h1M47 378h1M55 378h1M60 378h1M77 378h1M79 378h1M89 378h1M4 379h1M24 379h1M77 379h1M81 379h1M85 379h1M70 380h1M77 380h2M84 380h1M86 380h1M39 381h1M57 381h2M60 381h1M71 382h1M73 382h1M77 382h1M79 382h2M23 383h1M62 383h1M86 383h1M36 384h1M44 384h1M58 384h1M60 384h1M86 384h1M0 385h1M12 385h1M19 385h1M23 385h1M27 385h2M50 385h1M52 385h1M54 385h1M57 385h1M64 385h1M68 385h1M72 385h2M79 385h1M85 385h1M15 386h1M20 386h1M25 386h1M56 386h1M70 386h1M77 386h1M84 386h3M32 387h1M34 387h1M54 387h1M60 387h1M70 387h1M77 387h1M80 387h1M7 388h1M11 388h1M15 388h1M33 388h1M42 388h1M53 388h1M60 388h1M78 388h1M80 388h1M82 388h1M84 388h1M11 389h1M32 389h1M42 389h1M54 389h1M66 389h1M86 389h2M5 390h1M34 390h1M42 390h1M54 390h1M66 390h1M70 390h1M79 390h1M34 391h1M45 391h1M54 391h1M66 391h1M70 391h1M77 391h2M81 391h1M15 392h1M34 392h1M69 392h1M77 392h1M79 392h1M81 392h1M84 392h1M86 392h1M67 393h1M77 393h1M82 393h1M87 393h1M77 394h2M81 394h1M87 394h1M89 394h1M51 395h1M86 395h1M89 395h1M35 396h1M49 396h1M79 397h1M82 397h2M89 397h1M79 398h1M81 398h1M89 398h1"/>
<path stroke="#e2ddf0" d="M7 0h1M9 0h1M69 0h1M11 1h1M37 1h1M40 1h1M50 1h2M15 2h1M46 2h1M1 3h1M16 3h1M34 3h1M41 3h1M61 3h1M25 4h1M39 4h1M57 4h1M10 5h1M36 5h1M57 5h1M65 5h1M74 5h1M8 6h1M11 6h1M75 6h1M47 7h1M66 7h1M68 7h1M31 8h1M64 8h1M76 8h1M88 8h1M18 9h1M52 9h3M71 9h1M19 10h1M60 10h1M66 10h1M78 11h1M82 11h1M79 14h1M34 15h1M45 15h1M54 15h1M67 15h1M13 16h1M23 16h2M51 16h1M70 16h3M24 17h1M73 17h1M77 18h1M77 20h1M86 20h1M87 21h1M86 22h1M8 24h1M41 24h1M6 25h1M13 25h1M55 25h1M74 25h1M88 25h1M8 26h1M9 27h1M22 27h1M25 27h1M33 27h1M59 27h1M64 27h3M70 27h1M21 28h1M38 28h1M57 28h1M25 29h1M39 29h1M41 29h1M73 29h1M2 30h1M6 30h1M12 30h1M20 30h1M27 30h1M29 30h1M42 30h1M11 31h1M18 31h1M21 31h1M47 31h1M67 31h1M45 32h1M52 32h1M66 32h1M70 32h1M13 33h1M15 33h1M17 33h1M30 33h1M37 33h1M42 33h1M45 33h1M33 34h1M38 34h1M55 34h1M31 35h1M38 35h1M47 35h1M30 36h1M42 36h1M79 36h1M83 36h1M90 36h1M3 37h1M14 37h1M24 37h1M60 37h1M76 37h1M79 37h1M81 37h1M83 37h1M88 37h1M31 38h1M35 38h1M49 38h1M85 38h1M9 39h1M15 39h1M79 39h1M12 40h1M38 40h3M42 40h1M78 40h1M3 41h1M11 41h1M38 41h1M85 41h3M3 42h1M8 42h1M31 42h1M54 42h1M79 42h1M7 43h1M11 43h1M14 43h1M22 43h1M77 43h1M82 43h1M90 43h1M0 44h1M8 44h2M15 44h1M24 44h1M56 44h1M64 44h1M81 44h1M23 45h1M32 45h1M39 45h1M75 45h1M82 45h1M14 46h1M73 46h1M81 46h1M88 46h1M10 47h1M87 47h1M8 48h1M52 48h1M71 48h1M64 49h1M81 49h2M86 49h1M5 50h1M16 50h1M18 50h1M22 50h1M33 50h1M69 50h1M88 50h1M14 51h1M30 51h1M44 51h1M74 51h1M83 51h1M89 51h1M10 52h1M26 52h1M48 52h1M61 52h1M64 52h1M69 52h1M1 53h1M29 53h1M37 53h1M45 53h1M54 53h1M58 53h1M74 53h1M7 54h1M11 54h1M39 54h1M58 54h1M63 54h1M80 54h2M13 55h1M63 55h1M10 56h1M21 56h1M40 56h1M45 56h1M66 56h1M69 56h2M16 57h1M21 57h1M27 57h1M72 57h1M74 57h1M48 58h1M0 59h1M43 59h1M58 59h1M6 60h1M28 60h1M84 60h1M0 61h1M18 61h1M54 61h1M72 61h1M75 61h1M88 61h1M8 62h1M30 62h2M33 62h1M82 62h1M21 63h1M34 63h2M48 63h1M1 64h1M14 64h1M31 64h1M34 64h1M44 65h1M18 66h1M24 66h1M66 66h1M18 67h1M33 67h1M42 67h1M57 67h1M60 67h1M73 67h1M77 67h1M4 68h1M26 68h2M4 69h1M39 70h1M66 70h1M5 71h1M11 71h2M19 71h1M31 71h1M33 71h1M42 71h1M55 71h1M74 71h1M9 72h1M32 72h1M39 72h1M43 72h1M46 72h1M55 72h1M66 72h1M1 73h1M16 73h1M23 73h1M29 73h1M82 73h1M6 74h1M10 74h1M45 74h1M66 74h1M43 75h1M75 75h1M87 76h1M38 77h1M51 77h1M8 78h1M15 78h1M21 78h1M25 78h1M83 78h1M12 79h1M20 79h1M24 79h1M41 79h1M58 79h1M66 79h1M83 79h1M0 80h1M17 80h1M22 80h1M42 80h1M72 80h1M28 81h1M32 81h1M44 81h1M48 81h1M2 82h1M6 82h1M36 82h1M49 82h2M79 82h1M24 83h1M35 83h1M2 84h1M5 84h1M48 84h1M55 84h1M76 84h1M55 85h1M58 85h1M67 85h1M74 85h1M86 85h2M0 86h1M23 86h1M26 86h1M38 86h1M69 86h1M73 86h1M0 87h1M9 87h1M20 87h1M24 87h1M34 87h1M90 87h1M18 88h1M23 88h1M59 88h1M71 88h1M84 89h1M14 90h1M45 90h1M88 90h1M42 91h1M38 92h1M42 92h1M11 93h1M25 93h1M45 93h1M57 93h1M6 94h1M37 94h1M66 94h1M75 94h1M1 95h1M16 95h1M18 95h1M22 95h1M36 95h1M40 95h1M54 95h1M67 95h2M80 96h1M85 96h1M9 97h2M23 97h1M28 97h1M52 97h1M79 97h1M81 97h1M13 98h1M45 98h1M66 98h1M80 98h1M82 98h1M88 98h2M1 99h1M40 99h1M67 99h1M69 99h1M87 99h1M66 100h1M86 100h1M49 101h1M86 101h1M15 102h2M27 102h1M57 102h1M80 103h1M83 103h1M74 104h1M79 106h1M83 106h1M85 106h1M50 107h1M83 107h2M66 108h1M74 109h1M87 109h1M59 110h1M83 110h2M4 111h1M21 111h1M58 111h1M70 111h1M4 112h1M39 112h1M52 112h1M25 113h1M83 113h1M85 113h1M84 115h1M87 115h1M89 115h1M79 116h1M20 118h1M49 118h1M78 118h1M81 118h1M21 119h1M29 119h1M57 119h1M77 119h1M86 119h1M40 120h1M65 120h1M80 120h1M82 120h1M86 120h1M22 121h1M35 121h1M71 121h1M79 121h1M87 121h1M1 122h1M44 122h1M60 122h1M68 122h2M75 122h1M85 122h1M11 123h1M41 123h1M50 123h1M74 123h1M77 123h1M80 123h1M83 123h2M86 123h1M53 124h1M82 124h2M13 125h1M32 125h1M39 125h1M45 125h1M84 125h1M1 126h1M6 126h1M75 126h1M86 127h1M50 128h1M8 129h1M11 129h1M41 129h1M47 129h1M51 129h1M57 129h1M2 130h2M25 130h1M55 130h2M75 130h1M3 131h1M11 131h1M39 131h1M42 131h1M58 131h1M66 131h1M77 131h1M7 132h1M44 132h1M56 132h1M66 132h1M77 132h1M6 133h1M21 133h1M33 133h1M37 133h1M48 133h2M4 134h1M8 134h1M27 134h1M7 135h1M11 135h1M42 135h1M7 136h1M11 136h1M33 136h1M42 136h1M7 137h1M33 137h1M42 137h1M11 138h1M33 138h2M7 139h1M11 139h1M33 139h1M42 139h1M11 140h1M7 141h1M33 141h2M11 142h1M34 142h1M7 143h1M11 143h1M89 150h1M55 157h1M65 157h1M82 159h1M87 160h1M80 163h1M70 164h1M83 164h1M86 165h1M82 166h1M82 167h1M41 168h2M48 168h1M69 168h1M81 168h2M2 169h1M6 169h1M34 169h1M38 169h1M66 169h1M74 169h1M79 169h1M81 169h1M86 169h1M84 170h1M88 170h1M28 171h1M34 171h1M61 171h1M78 171h1M44 172h1M59 172h1M73 172h1M83 172h1M2 173h1M8 173h1M13 173h1M37 173h1M39 173h1M47 173h2M62 173h1M70 173h1M78 173h1M80 173h1M84 173h2M87 173h1M89 173h1M1 174h1M15 174h1M46 174h1M66 174h1M69 174h1M81 174h1M13 175h1M26 175h1M78 175h3M83 175h1M86 175h1M0 176h1M2 176h1M6 176h1M11 176h1M34 176h1M64 176h1M83 176h1M10 177h1M22 177h1M43 177h1M90 177h1M52 178h1M60 178h1M63 178h1M85 178h1M5 179h1M8 179h1M20 179h1M47 179h1M74 179h1M77 179h1M81 179h1M85 179h1M12 180h1M15 180h1M17 180h1M26 180h1M29 180h1M80 180h2M0 181h1M24 181h1M26 181h1M35 181h1M56 181h1M0 182h3M13 182h1M39 182h1M60 182h1M0 183h1M30 183h1M63 183h1M0 184h1M19 184h1M29 184h1M41 184h1M44 184h1M47 184h2M72 184h1M12 185h1M72 185h1M6 186h1M11 186h1M38 186h1M51 186h1M60 186h1M88 186h1M25 187h1M27 187h1M42 188h1M11 189h1M35 189h1M2 190h2M28 190h2M54 190h1M88 190h1M5 191h1M26 191h1M34 191h1M40 191h1M44 191h2M55 191h1M70 191h1M10 192h1M14 192h1M35 192h1M71 192h1M19 193h1M25 193h1M42 193h1M52 193h1M71 193h1M76 193h1M4 194h1M20 194h1M30 194h1M40 195h1M44 195h1M4 196h1M31 196h1M71 196h1M8 197h1M17 197h1M51 197h1M60 197h1M15 198h1M32 198h1M63 198h2M4 199h1M23 199h1M27 199h1M57 199h1M16 200h1M40 200h1M53 200h1M71 200h1M74 200h1M57 201h1M81 201h1M88 201h1M11 202h1M35 202h1M50 202h1M56 202h1M13 203h1M16 203h1M43 203h1M65 203h1M72 203h1M87 203h1M10 204h1M51 204h1M80 204h1M85 204h2M9 205h1M12 205h1M16 205h1M29 205h1M34 205h1M50 205h1M66 205h1M77 205h1M81 205h1M84 205h1M87 205h1M40 206h1M60 206h1M84 206h1M87 206h1M25 207h1M31 207h1M61 207h1M79 207h1M11 208h1M65 208h1M80 208h1M85 208h2M18 209h1M20 209h1M35 209h1M65 209h1M78 209h2M87 209h1M48 210h1M79 210h1M4 211h1M29 211h1M77 211h1M79 211h1M83 211h1M45 212h1M53 212h1M69 212h1M83 212h1M85 212h1M24 213h1M82 213h1M26 214h1M56 214h1M63 214h1M70 214h2M77 214h1M83 214h1M17 215h1M66 215h1M25 216h1M41 216h2M66 216h1M71 216h1M74 216h1M88 216h1M45 217h1M61 217h1M16 218h1M25 218h1M37 218h1M56 218h1M78 218h1M80 218h1M86 218h1M39 219h1M44 219h1M63 219h1M65 219h1M81 219h1M83 219h1M79 220h1M4 221h1M11 221h1M14 221h1M31 221h1M33 221h1M51 221h1M66 221h1M81 221h1M36 222h1M51 222h1M83 222h1M2 223h1M9 223h1M38 223h1M16 225h1M44 225h2M48 225h1M50 225h2M69 225h1M18 226h1M31 226h1M44 226h1M88 226h1M5 228h1M14 229h1M38 229h1M48 229h1M15 230h1M27 230h1M31 230h1M47 230h1M55 230h1M88 230h1M1 231h1M7 231h1M45 231h1M69 231h1M6 233h1M41 233h1M54 233h1M76 233h1M8 234h1M11 234h1M29 234h1M45 234h1M52 234h1M68 234h1M6 235h1M22 235h1M31 235h1M50 235h1M74 235h1M58 236h1M68 236h1M8 237h1M19 237h1M26 237h1M87 237h1M47 238h1M58 238h1M79 238h1M84 238h1M88 238h1M15 239h1M29 239h1M61 239h1M81 239h1M86 239h1M9 240h1M79 240h1M8 241h1M78 241h1M8 242h1M30 242h1M71 242h1M78 242h1M25 243h1M49 243h1M62 243h1M5 244h1M42 244h1M53 244h1M62 244h1M70 244h1M72 244h1M12 245h1M75 245h1M42 246h1M58 246h1M70 246h1M21 247h1M26 247h1M67 247h1M14 248h1M29 248h1M53 248h1M84 248h1M1 249h1M8 249h1M10 249h1M22 249h1M26 249h1M33 249h1M48 249h1M51 249h1M56 249h1M80 249h1M84 249h1M3 250h1M43 250h2M74 250h1M82 250h1M0 251h1M38 251h1M61 251h1M88 251h1M5 252h1M14 252h1M20 252h1M25 252h1M27 252h1M39 252h1M51 252h1M53 252h1M6 253h1M9 253h1M13 253h1M36 253h1M3 254h2M7 254h1M34 254h1M45 254h1M52 254h1M61 254h1M3 255h1M36 255h1M47 255h1M51 255h1M54 255h1M77 255h1M81 255h1M87 255h1M69 256h1M79 256h1M83 256h1M85 256h1M1 257h1M24 257h1M30 257h1M33 257h1M45 257h1M57 257h1M74 257h1M77 257h1M79 257h2M84 257h1M14 258h1M84 258h1M89 258h2M7 259h1M11 259h1M21 259h1M57 259h1M83 259h1M24 260h1M30 260h1M41 260h1M78 260h1M80 260h1M1 261h1M8 261h1M54 261h1M80 261h1M82 261h1M85 261h1M6 262h1M8 262h1M11 262h1M22 262h1M50 262h1M55 262h1M58 262h1M74 262h1M77 262h1M82 262h2M46 263h1M53 263h1M55 263h1M81 263h1M41 264h1M55 264h1M72 264h1M81 264h1M83 264h1M3 265h1M6 265h1M14 265h1M19 265h1M37 265h1M54 265h1M66 265h1M77 265h1M80 265h2M84 265h1M86 265h1M17 266h1M21 266h1M61 266h1M66 266h2M84 266h2M26 267h1M30 267h1M35 267h1M53 267h1M80 267h1M14 268h1M28 268h1M30 268h1M34 268h1M57 268h1M49 269h1M59 269h1M68 269h1M88 269h1M15 270h2M21 270h1M25 270h1M61 270h2M78 270h1M85 270h1M2 271h1M13 271h1M40 271h1M58 271h1M81 271h1M20 272h1M44 272h1M80 272h3M87 272h1M90 272h1M6 273h1M22 273h1M27 273h1M50 273h2M58 273h1M61 273h1M69 273h1M75 273h1M81 273h1M6 274h1M58 274h1M61 274h1M67 274h3M73 274h2M82 274h2M85 274h1M51 275h1M58 275h1M61 275h1M64 275h1M69 275h1M75 275h1M27 276h1M51 276h1M58 276h1M61 276h2M64 276h1M66 276h2M73 276h1M75 276h1M80 276h1M82 276h1M21 277h1M50 277h1M58 277h1M62 277h1M64 277h1M68 277h1M73 277h1M75 277h1M79 277h1M82 277h1M1 278h1M20 278h1M44 278h1M61 278h2M68 278h2M83 278h1M20 279h1M24 279h1M51 279h1M61 279h1M68 279h1M75 279h1M80 279h1M85 279h1M2 280h2M24 280h1M63 280h1M80 280h1M89 280h1M13 281h1M30 281h1M34 281h1M79 281h1M89 281h1M13 282h1M16 282h1M24 282h1M32 282h1M37 282h1M41 282h1M56 282h1M77 282h1M7 283h1M24 283h1M45 283h1M52 283h1M86 283h1M7 284h1M77 284h2M81 284h1M8 285h1M79 285h1M84 285h1M1 286h1M5 286h2M10 286h2M14 286h2M34 286h2M38 286h1M45 286h1M48 286h1M50 286h1M53 286h2M57 286h1M60 286h2M65 286h1M69 286h4M77 286h1M79 286h1M83 286h2M87 286h3M6 287h1M8 287h3M13 287h1M15 287h1M20 287h2M27 287h1M39 287h1M50 287h1M53 287h1M55 287h3M59 287h2M62 287h1M66 287h1M69 287h3M74 287h2M78 287h1M80 287h1M83 287h2M87 287h1M21 288h1M27 288h1M34 288h2M39 288h1M50 288h2M54 288h4M59 288h2M62 288h1M65 288h2M70 288h2M74 288h1M77 288h7M85 288h1M87 288h1M89 288h1M8 289h1M10 289h1M14 289h1M43 289h1M45 289h1M69 289h1M5 290h1M27 290h1M29 290h1M47 290h1M56 290h1M65 290h1M78 290h1M80 290h1M48 291h1M78 291h1M81 291h1M84 291h1M33 292h1M36 292h1M58 292h1M66 292h1M69 292h1M79 292h1M39 293h1M49 293h1M58 293h1M78 293h1M82 293h2M87 293h1M2 294h1M4 294h1M70 294h1M83 294h1M85 294h1M2 295h1M7 295h1M21 295h1M68 295h1M84 295h1M33 296h1M39 296h1M78 296h2M85 296h1M87 296h1M22 297h1M55 297h1M13 298h1M53 298h1M81 298h1M19 299h1M47 299h1M62 299h1M23 300h2M35 300h1M39 300h1M44 300h1M46 300h1M48 300h1M51 300h1M53 300h1M73 300h1M78 300h1M84 300h1M16 301h1M43 301h1M64 301h1M19 302h1M29 302h1M66 302h1M37 303h1M28 304h1M57 304h1M69 304h1M15 305h1M20 305h1M55 305h2M58 305h1M28 306h1M41 306h1M43 306h1M11 307h1M40 307h1M59 307h1M3 308h1M20 308h1M70 308h2M3 309h1M15 309h1M29 309h1M75 309h1M22 310h1M45 310h1M62 310h1M14 311h1M19 311h1M22 311h1M28 311h2M38 311h1M42 311h1M55 311h1M29 312h1M40 312h2M46 312h1M53 312h1M70 312h1M58 313h1M8 314h1M30 314h1M33 314h1M39 314h1M47 314h1M8 315h1M49 315h1M51 315h1M70 315h1M25 316h1M32 316h1M51 316h1M58 316h1M70 316h1M75 317h1M0 318h1M5 318h1M29 318h1M32 318h1M47 318h1M56 318h1M71 318h1M21 319h1M10 320h1M15 320h1M27 320h1M41 320h1M46 320h1M60 320h1M27 321h1M53 321h1M57 321h1M70 321h1M21 322h1M32 322h1M36 322h1M63 322h1M51 323h1M80 323h1M1 324h1M32 324h1M58 324h1M78 324h1M84 324h1M86 324h2M89 324h1M8 325h1M45 325h1M64 325h1M82 325h1M50 326h1M86 326h1M54 327h1M56 327h1M58 327h1M75 327h1M22 328h1M24 328h1M35 328h1M68 328h1M71 328h1M56 329h1M61 329h1M90 329h1M15 330h1M71 330h1M14 331h1M44 331h1M53 331h1M56 331h1M60 331h1M79 331h1M87 331h1M2 332h1M15 332h1M22 332h1M63 332h1M74 332h1M3 333h1M7 333h1M15 333h1M17 333h1M21 333h1M52 333h1M66 333h1M69 333h1M7 334h1M11 334h1M33 334h1M7 335h1M11 335h1M33 335h2M42 335h1M7 336h1M11 336h1M34 336h1M7 337h1M7 338h1M11 338h1M33 338h1M42 338h1M66 338h1M70 338h1M7 339h1M11 339h1M33 339h1M7 340h1M11 340h1M33 340h1M60 340h1M79 340h1M11 341h1M79 341h1M42 342h1M7 343h1M11 343h1M15 343h1M33 343h1M42 343h1M79 343h1M11 344h1M33 344h1M42 344h1M85 345h1M84 346h1M85 347h1M84 348h1M11 354h1M33 355h1M7 356h1M34 356h1M70 356h1M18 357h1M33 357h1M7 358h1M33 358h1M7 359h1M33 359h1M7 360h1M11 360h2M7 361h1M11 361h1M7 362h1M32 362h2M7 363h1M12 363h1M33 363h1M7 364h1M12 364h1M33 364h1M11 365h1M77 366h1M79 367h1M79 368h1M85 368h2M79 369h1M81 369h1M77 370h1M84 370h1M67 372h1M77 372h1M77 374h2M8 375h1M39 375h1M70 375h1M79 375h2M84 375h1M87 375h1M5 376h1M7 376h1M20 376h1M34 376h1M39 376h1M55 376h1M57 376h1M79 376h1M81 376h1M87 376h1M45 377h1M81 377h1M85 377h1M64 378h1M86 378h1M9 379h1M74 379h1M79 379h1M83 379h1M27 380h1M58 380h1M80 380h1M83 380h1M28 381h1M56 381h1M83 381h2M30 382h1M87 382h1M59 383h1M66 383h1M82 383h1M2 384h1M20 384h1M82 384h1M84 384h1M4 385h1M13 385h1M55 385h1M66 385h1M78 385h1M80 385h1M35 386h1M59 386h1M78 386h1M83 386h1M11 387h1M33 387h1M78 387h1M84 387h1M32 388h1M34 388h1M70 388h1M83 388h1M87 388h1M7 389h1M33 389h2M70 389h1M77 389h1M82 389h3M7 390h1M33 390h1M83 390h3M7 391h1M11 391h1M82 391h1M84 391h1M89 391h1M78 392h1M79 393h1M83 394h1M77 395h1M79 395h5M84 396h2M87 396h1M80 397h1M85 397h1M87 397h1M78 398h1M83 398h1M85 398h3"/>
<path stroke="#fdefe7" d="M45 0h1M62 0h1M35 1h1M36 2h1M53 2h1M55 2h1M14 3h1M56 3h1M43 4h1M46 4h1M54 4h1M88 4h1M3 5h1M26 5h1M62 5h1M45 6h1M55 6h1M62 6h1M76 6h1M16 7h1M13 9h1M69 9h1M31 10h1M87 12h1M31 15h1M38 15h1M20 16h1M58 16h1M1 17h1M86 18h1M79 19h1M80 20h1M85 21h1M63 24h1M70 24h1M5 26h1M10 27h1M19 27h1M31 28h1M39 28h1M45 28h1M51 28h1M68 28h1M29 29h1M57 29h1M70 29h1M76 32h1M40 33h1M88 33h1M52 34h1M76 34h1M10 35h1M17 35h1M21 35h1M35 35h1M70 35h1M73 35h1M78 35h1M86 35h2M67 36h2M77 36h1M82 36h1M15 37h1M51 37h1M54 37h1M62 37h1M84 37h1M90 37h1M0 38h1M61 38h1M64 38h1M66 38h1M81 38h1M87 38h1M1 39h1M32 39h1M43 39h1M1 40h1M21 40h1M31 40h1M72 40h1M82 40h1M88 40h1M30 41h1M35 41h1M42 41h1M40 42h1M50 42h1M58 42h1M63 42h1M82 42h1M87 42h1M10 43h1M27 43h1M35 43h1M75 43h1M83 43h1M18 44h1M62 44h1M78 44h1M84 44h1M87 44h1M6 45h1M79 45h1M84 45h1M5 46h2M10 46h1M27 46h1M40 46h1M43 46h1M48 46h1M50 46h1M61 46h1M74 46h1M80 46h1M48 47h1M50 47h1M82 47h1M90 47h1M7 49h1M25 49h1M35 49h1M20 50h1M74 50h1M80 50h1M86 50h1M0 51h1M12 51h1M32 51h1M34 51h1M55 51h1M79 51h1M86 51h1M88 51h1M31 52h1M45 52h1M78 52h1M83 52h1M87 52h1M17 53h1M51 53h1M62 53h1M83 53h1M85 53h1M88 53h1M47 54h1M62 54h1M77 54h1M86 54h1M23 55h1M38 55h1M61 55h1M77 55h1M87 55h1M73 56h1M78 56h1M42 57h1M55 57h1M86 57h2M5 58h1M22 58h1M31 58h1M45 58h1M69 58h1M78 58h1M63 59h1M76 59h1M80 59h2M90 59h1M16 60h1M51 60h1M68 60h1M79 60h1M61 61h1M73 61h1M78 61h1M81 61h1M12 62h1M17 62h1M45 62h1M52 62h2M63 62h2M69 62h1M79 62h1M53 63h1M77 63h1M9 64h1M27 64h1M52 64h1M79 64h2M84 64h1M16 65h1M32 65h1M53 65h1M84 65h1M29 66h1M39 66h1M32 67h1M37 67h1M75 67h1M79 67h1M85 67h1M73 68h1M77 68h1M2 69h2M32 69h1M51 69h1M20 70h1M30 70h1M62 70h2M44 71h1M54 71h1M61 71h2M41 72h1M70 72h1M83 72h1M14 73h1M62 73h1M28 74h2M75 74h1M78 74h1M82 74h1M84 74h1M90 74h1M27 75h1M69 75h1M90 75h1M0 76h1M17 76h1M52 76h1M69 76h1M4 77h1M72 77h1M3 78h2M35 78h1M52 78h1M62 78h1M87 78h1M16 79h1M35 79h1M56 79h1M87 79h1M23 80h1M36 80h1M55 80h1M26 81h1M46 81h1M50 81h1M56 81h1M71 81h1M86 81h1M89 81h1M7 82h1M28 83h1M43 83h1M10 84h1M42 84h1M51 84h1M85 84h1M30 85h1M56 85h1M62 85h1M83 85h1M85 86h1M6 87h1M10 87h2M25 87h1M30 87h1M36 87h1M79 87h1M89 87h1M13 88h1M39 88h1M58 88h1M60 88h1M80 88h1M90 88h1M23 89h1M33 90h1M58 90h1M69 90h1M78 90h1M82 90h1M1 91h1M78 91h1M84 91h1M86 91h1M3 92h1M12 92h1M25 92h1M56 92h1M69 92h1M73 92h1M1 93h1M9 93h1M12 93h1M9 95h1M27 95h1M29 95h1M50 96h1M56 96h1M5 97h1M13 97h1M22 97h1M88 97h1M46 98h1M86 98h1M90 98h1M22 99h1M64 99h1M71 99h1M74 99h1M32 100h1M64 100h1M77 100h1M1 101h1M20 101h1M37 101h1M41 101h1M87 101h1M21 102h1M43 102h1M56 102h1M56 103h1M81 104h1M86 104h1M54 105h1M81 105h1M50 106h1M86 109h1M79 110h1M77 111h1M78 112h1M82 112h1M89 113h1M81 115h1M78 116h1M6 119h1M28 119h1M30 119h1M68 119h1M71 119h1M80 119h1M31 120h1M43 120h1M58 120h1M84 120h1M42 121h1M53 121h1M83 121h1M11 122h1M25 122h1M33 122h1M63 122h1M78 122h1M82 122h1M86 122h2M65 123h1M81 123h1M3 124h1M34 124h2M68 124h1M77 124h2M1 125h1M27 125h1M65 125h1M14 126h1M54 126h1M27 127h1M47 128h1M88 128h1M35 129h1M55 129h1M58 129h1M11 130h1M88 130h1M0 131h1M33 132h1M43 132h1M49 132h1M57 132h1M74 132h1M25 133h1M90 133h1M32 134h1M59 134h1M80 136h1M11 137h1M84 138h1M7 140h1M33 140h1M7 142h1M33 143h1M79 156h1M60 157h1M86 158h2M77 159h1M77 160h1M79 160h1M79 161h1M77 162h3M85 162h1M79 163h1M77 164h1M82 165h1M86 166h1M2 168h1M19 168h1M47 168h1M49 168h1M59 168h1M10 169h1M26 170h1M41 170h2M81 170h1M85 170h1M2 171h1M33 171h1M35 171h1M37 171h1M63 171h1M6 172h1M8 172h1M13 172h1M78 172h1M87 172h1M89 172h1M17 173h1M21 173h1M74 173h1M77 173h1M45 174h1M62 174h1M14 175h1M49 175h1M59 175h1M35 176h1M61 176h1M19 177h1M64 177h1M77 177h1M85 177h1M87 177h1M29 178h1M53 178h1M67 178h1M0 179h1M10 179h1M31 179h1M43 179h1M28 180h1M43 180h1M78 180h1M87 180h1M50 181h1M14 182h1M31 182h1M34 183h1M67 183h1M18 184h1M40 184h1M46 184h1M55 184h1M18 185h1M30 185h1M36 185h2M40 185h1M10 186h1M41 186h1M74 186h1M38 187h1M27 188h2M74 188h1M9 189h1M50 190h1M11 191h1M15 191h1M30 191h1M58 191h1M40 192h1M0 193h1M29 193h1M34 193h1M36 194h1M40 194h1M47 194h1M64 194h1M2 195h1M9 195h1M34 195h1M45 195h1M52 195h1M1 196h1M12 196h2M30 196h1M39 196h1M69 197h1M12 198h1M14 198h1M21 198h1M45 198h1M51 198h1M53 198h1M58 199h1M6 200h1M28 200h1M30 200h1M33 200h1M35 200h1M20 201h1M35 201h1M37 201h1M45 201h1M58 201h1M65 201h1M71 201h1M78 201h1M80 201h1M85 201h3M1 202h1M80 202h1M15 203h1M82 203h1M19 204h1M58 204h1M79 204h1M84 204h1M88 204h2M27 205h1M69 205h1M78 205h1M86 205h1M89 205h1M35 206h1M58 206h1M71 206h1M7 207h1M48 207h1M27 208h1M79 208h1M81 208h1M13 209h1M49 209h1M81 209h2M11 210h1M22 210h1M33 210h1M82 211h1M85 211h1M34 212h1M41 212h1M56 212h1M78 212h2M19 213h1M78 213h1M13 214h1M41 214h1M79 214h1M15 215h1M79 215h1M81 215h2M0 216h1M21 216h1M56 216h1M18 217h1M79 217h1M87 217h1M13 218h2M53 218h1M77 218h1M85 218h1M89 218h1M17 219h1M31 219h1M33 219h1M46 219h1M88 219h1M6 220h1M20 221h1M49 221h1M77 221h3M83 221h1M17 222h1M78 222h1M85 222h1M72 223h1M6 224h1M70 224h1M1 225h1M41 225h1M21 226h1M36 226h1M24 227h1M29 227h1M49 228h1M75 229h1M24 232h2M53 232h1M11 233h1M37 233h1M53 233h1M70 233h1M39 234h1M48 235h1M70 235h1M86 235h1M82 236h1M86 236h1M28 237h1M46 237h1M80 237h1M89 237h1M20 238h1M27 239h1M41 239h1M43 239h2M79 239h2M84 240h1M4 241h1M25 241h1M71 241h1M81 241h1M16 242h1M41 242h1M55 242h1M77 242h1M81 242h1M84 242h1M19 243h1M36 243h1M57 243h1M4 244h1M13 244h1M30 244h1M55 244h1M47 245h1M51 245h1M55 245h1M64 245h1M72 245h1M4 246h1M57 246h1M23 247h1M50 247h1M21 248h1M32 248h1M46 248h1M55 248h2M69 248h1M72 248h1M15 249h1M36 249h1M83 249h1M70 250h1M85 250h2M24 251h1M70 251h1M76 251h1M10 252h1M13 252h1M33 252h1M3 253h1M28 253h1M40 253h1M62 253h1M21 254h1M29 254h1M38 254h1M29 255h1M85 255h1M9 256h1M50 256h1M82 256h1M84 256h1M31 257h1M85 257h1M56 258h1M82 258h1M81 259h1M77 260h1M79 260h1M81 260h1M83 260h1M87 260h1M53 261h1M73 261h1M77 261h2M87 261h1M80 262h1M85 262h1M14 263h1M24 263h1M50 263h1M67 263h1M74 263h1M78 263h1M83 263h1M37 264h1M77 264h1M79 264h1M86 264h2M27 265h1M70 265h1M82 265h2M89 265h1M58 266h1M79 266h1M83 266h1M50 267h1M67 267h1M70 267h1M54 268h1M74 268h1M80 268h1M14 269h1M25 269h1M69 269h1M71 269h1M79 269h1M81 269h1M23 270h1M68 270h1M18 271h1M22 271h1M27 271h1M44 271h1M63 271h1M65 271h1M24 272h1M29 272h1M54 272h1M57 272h1M76 272h1M64 273h1M66 273h3M50 274h2M62 274h1M64 274h1M50 275h1M66 275h1M74 275h1M50 276h1M68 276h2M74 276h1M51 277h1M69 277h1M74 277h1M51 278h1M58 278h1M64 278h1M66 278h1M74 278h2M58 279h1M62 279h1M69 279h1M74 279h1M17 280h1M31 280h1M83 280h1M87 280h1M24 281h1M67 281h1M85 281h1M1 282h1M10 282h1M35 282h1M85 283h1M83 284h1M39 285h1M50 285h1M70 285h1M77 285h2M27 286h1M47 286h1M55 286h2M62 286h1M66 286h1M78 286h1M81 286h2M85 286h1M79 287h1M82 287h1M85 287h1M69 288h1M27 289h1M53 289h1M72 289h1M79 289h1M81 289h1M83 289h1M71 290h1M76 291h2M8 292h1M29 292h1M78 292h1M83 292h1M27 293h1M86 293h1M11 294h1M77 294h1M80 294h1M86 294h2M78 295h3M6 297h1M71 297h1M78 297h1M86 297h1M6 298h1M29 298h1M51 298h1M80 298h1M84 298h2M25 299h1M29 300h1M54 300h1M86 300h2M89 300h1M21 301h1M70 301h1M51 302h1M54 302h1M67 302h1M52 303h1M4 304h1M23 304h1M44 304h1M56 304h1M12 305h2M23 305h3M38 305h1M52 305h1M73 305h1M17 306h1M61 306h1M66 306h1M73 306h1M38 307h1M43 307h1M21 308h2M28 308h1M40 308h1M76 308h1M14 309h1M39 309h1M60 309h1M21 310h1M61 310h1M74 310h1M67 311h1M2 312h1M9 312h1M23 312h1M69 312h1M43 313h1M50 314h1M72 315h1M1 316h1M42 317h1M54 317h1M53 319h1M55 321h1M13 322h1M69 322h1M15 323h1M49 323h1M77 323h1M81 323h1M2 324h1M26 324h1M45 324h1M27 325h1M32 325h1M81 325h1M86 325h1M89 325h1M13 326h1M20 326h1M29 326h1M32 326h1M51 326h1M58 326h1M77 326h1M52 327h1M77 327h1M80 327h1M84 327h1M88 327h1M39 328h1M85 328h2M53 329h1M33 330h1M65 330h1M39 331h1M63 331h1M68 331h1M3 332h1M9 332h1M20 332h1M61 332h1M87 332h1M41 333h1M49 333h1M84 334h2M82 335h1M81 336h1M33 337h1M80 337h1M84 338h1M89 338h1M11 342h1M87 342h1M84 343h1M84 351h1M84 352h1M7 355h1M33 356h1M11 358h1M33 360h1M33 361h1M11 364h1M33 365h1M80 368h1M84 368h1M87 368h1M78 370h1M86 371h1M84 372h1M77 373h1M79 373h1M82 373h1M60 375h1M49 377h1M83 377h1M81 378h1M31 379h1M87 379h1M89 380h1M82 381h1M83 382h1M85 383h1M78 384h1M82 385h1M87 385h1M40 386h1M79 386h2M82 386h1M87 386h1M7 387h1M79 387h1M83 387h1M86 387h1M79 388h1M79 389h2M11 390h1M81 390h1M42 391h1M79 391h1M82 392h1M79 394h1M84 394h1M78 395h1M84 395h1M83 396h1M77 397h1M81 397h1M84 397h1M77 398h1"/>
<path stroke="#f8ccb9" d="M35 0h1M66 2h1M50 3h2M1 4h1M34 5h2M15 7h1M63 7h1M68 8h1M12 9h1M36 10h1M64 10h1M77 11h1M77 14h1M86 14h1M0 15h1M36 15h1M52 15h1M33 16h1M78 20h1M89 20h1M83 23h1M52 24h1M68 25h1M43 26h2M12 27h1M36 27h1M57 27h1M23 28h1M73 28h1M20 29h1M24 29h1M48 29h1M61 29h1M65 29h1M88 29h1M38 30h1M46 30h2M57 30h1M60 30h1M76 30h1M25 31h1M44 31h1M12 32h1M25 32h1M39 32h1M67 32h1M69 32h1M5 33h1M8 33h1M16 33h1M38 33h1M67 33h1M11 34h1M13 34h1M28 34h1M48 34h1M4 35h1M54 35h2M57 35h1M74 35h1M81 35h3M16 36h1M85 36h1M0 37h1M29 37h1M57 37h1M68 37h1M85 37h1M4 38h1M46 38h1M71 38h1M77 38h3M83 38h1M24 39h1M34 39h1M55 39h1M77 39h1M84 39h1M4 40h1M10 40h1M48 40h1M50 40h1M77 40h1M79 40h1M5 41h1M18 41h1M39 41h1M49 41h1M54 41h1M77 41h1M79 41h2M78 42h1M81 42h1M8 43h1M19 43h1M49 43h1M65 43h1M78 43h1M85 43h2M6 44h1M16 44h1M77 44h1M79 44h1M85 44h1M5 45h1M54 45h1M76 45h1M81 45h1M67 46h1M0 47h1M20 47h1M22 47h1M44 47h1M59 47h1M64 47h1M79 47h1M81 47h1M84 47h1M26 48h1M30 48h1M51 48h1M79 48h2M82 48h1M84 48h1M63 49h1M76 49h1M79 49h1M83 49h1M85 49h1M73 50h1M79 50h1M48 51h1M57 51h1M64 51h1M77 51h1M81 51h1M0 52h1M23 52h1M59 52h1M85 52h1M19 53h1M33 53h1M81 53h1M86 53h1M82 54h1M84 54h2M89 54h1M0 55h1M69 55h1M76 55h1M78 55h1M80 55h1M83 55h1M33 56h1M76 56h1M89 56h1M32 57h1M50 57h1M78 57h1M1 58h1M82 58h2M50 59h1M79 59h1M50 60h1M57 60h2M66 60h1M73 60h2M77 60h1M53 61h1M36 62h1M77 62h2M86 62h1M2 63h2M20 63h1M25 63h1M58 63h1M78 63h2M85 63h3M39 64h1M65 64h2M90 64h1M7 65h1M13 65h1M74 65h1M12 66h1M37 66h1M62 66h1M4 67h1M67 67h1M82 67h1M90 67h1M69 68h1M85 68h1M28 69h1M38 69h1M62 69h1M75 69h1M87 69h1M15 70h1M45 70h1M53 70h1M79 70h1M83 70h1M6 71h1M24 71h1M28 71h1M45 71h1M56 71h1M79 71h1M81 71h1M90 71h1M0 72h2M24 72h1M42 72h1M49 72h1M65 73h1M77 73h1M36 74h1M40 74h1M56 74h1M67 74h1M70 74h1M87 74h1M28 75h2M32 75h1M48 75h1M79 75h2M1 76h1M70 76h1M79 76h1M83 76h1M86 76h1M2 77h1M27 77h1M32 77h1M62 77h1M66 77h2M81 77h1M84 77h1M31 78h1M33 78h1M80 78h1M86 78h1M29 79h1M36 79h1M42 79h1M76 79h2M79 79h2M38 80h1M80 80h1M86 80h1M35 82h1M56 82h2M69 82h1M82 82h1M34 83h1M62 83h1M40 84h1M53 84h1M59 84h1M66 84h1M71 84h1M86 84h1M0 85h1M24 85h1M26 85h1M79 85h1M3 86h1M54 86h1M71 86h2M87 86h1M8 87h1M19 87h1M29 87h1M77 87h1M85 87h3M1 88h1M15 88h1M2 89h1M60 89h1M64 89h1M80 89h1M16 90h1M59 90h1M81 90h1M84 90h1M13 91h1M33 91h1M60 91h1M24 92h1M30 92h1M59 92h1M75 92h1M77 92h1M83 92h1M79 93h1M86 93h1M12 94h1M70 94h1M83 94h1M58 95h2M81 95h1M11 96h1M72 96h1M82 96h2M26 97h1M49 97h1M76 97h1M83 98h1M27 99h1M30 99h1M60 99h1M84 99h1M10 100h1M13 100h1M15 100h1M53 100h1M71 100h1M6 101h1M17 101h1M72 101h1M77 101h1M81 101h1M9 102h1M26 102h1M55 102h1M58 102h2M85 102h2M79 105h1M85 105h1M82 106h1M82 107h1M87 107h1M85 109h1M78 111h1M29 112h1M83 112h1M85 112h1M86 113h1M30 118h1M82 118h1M19 119h1M41 119h1M74 119h1M82 119h1M87 119h1M23 120h1M60 120h2M81 120h1M80 121h1M82 121h1M66 122h1M9 124h1M32 124h1M55 124h1M11 125h1M53 125h1M26 126h1M57 127h1M63 127h1M84 127h1M10 129h1M36 129h1M78 129h1M14 130h1M52 130h1M68 130h1M70 130h1M77 130h1M83 130h1M60 131h1M64 131h1M10 132h1M38 133h1M73 133h1M83 133h1M77 134h1M84 139h1M84 140h1M80 141h1M82 144h1M85 152h1M87 154h1M84 156h1M78 158h1M80 158h1M79 159h1M87 159h1M80 160h1M82 160h1M84 160h1M86 160h1M81 161h1M86 162h2M81 163h1M83 163h1M86 164h2M79 165h1M84 166h1M81 167h1M83 167h1M0 168h1M4 168h1M14 168h1M16 168h1M40 168h1M43 168h1M4 169h1M30 169h2M46 169h1M2 170h1M17 170h1M30 170h1M67 170h1M82 170h1M16 171h1M18 171h1M23 171h1M84 171h1M1 172h1M22 172h1M31 172h1M84 172h1M1 173h1M14 173h1M29 173h1M82 173h1M23 174h1M84 174h2M87 174h1M16 175h1M20 175h1M87 175h1M20 176h1M37 176h1M52 176h1M66 176h1M77 176h1M79 176h1M85 176h1M37 177h1M47 177h1M55 177h1M67 177h1M70 177h1M58 178h1M13 179h1M40 179h1M42 179h1M57 179h1M82 179h1M86 179h1M89 179h1M6 180h1M31 180h1M3 181h1M16 181h1M34 181h1M45 181h1M24 182h2M36 182h1M67 182h1M73 182h1M4 183h1M11 183h1M31 183h1M72 183h1M36 184h1M39 184h1M61 184h1M17 185h1M42 185h2M4 186h1M16 186h1M25 186h1M46 186h1M48 186h1M8 187h2M19 187h1M39 187h1M7 188h1M46 188h1M48 188h1M12 190h1M20 190h1M22 190h1M24 190h1M32 190h1M17 191h1M19 191h1M1 192h1M7 193h1M15 194h1M19 194h1M24 194h1M55 194h1M4 195h1M13 195h1M15 195h1M26 195h1M39 195h1M46 195h1M73 195h1M5 196h1M55 196h1M65 196h2M75 196h1M26 197h1M36 197h1M46 197h1M24 198h1M74 198h1M10 199h1M43 199h2M19 200h1M1 201h1M42 201h1M5 202h1M16 202h1M41 202h1M81 202h2M86 202h2M51 203h1M79 203h1M81 203h1M85 203h2M5 204h1M16 204h1M30 204h1M36 204h1M7 205h1M82 205h1M36 206h1M21 207h1M38 207h1M82 207h1M14 208h1M17 208h1M48 208h1M78 208h1M84 208h1M21 209h1M39 209h1M86 209h1M27 210h1M36 210h1M85 210h1M89 210h1M40 211h1M44 211h2M70 211h1M24 212h1M30 212h1M32 212h1M52 212h1M62 212h1M21 213h1M26 213h1M35 213h1M38 213h1M50 213h1M81 213h1M2 214h1M9 214h1M28 214h1M35 214h1M45 214h1M81 214h1M87 214h1M18 215h1M1 216h2M23 216h1M30 216h1M77 216h2M6 217h1M21 217h1M37 217h1M82 217h1M89 217h1M19 218h1M82 218h1M41 219h1M59 219h1M79 219h1M82 219h1M5 220h1M30 220h1M32 220h1M41 220h1M52 220h1M6 221h1M15 221h1M30 221h1M40 221h1M45 221h1M54 221h1M62 221h1M64 221h1M12 222h1M19 222h1M37 222h1M39 222h1M45 222h1M79 222h1M86 222h1M8 223h1M48 224h1M2 225h1M4 227h1M28 227h1M46 227h1M17 228h1M40 228h1M21 229h1M60 231h1M7 232h1M11 232h1M14 232h1M30 232h1M46 232h1M56 232h1M67 232h1M1 233h1M7 233h1M27 233h1M49 233h1M15 234h1M48 234h1M5 235h1M13 235h1M30 235h1M80 235h1M82 235h1M30 236h1M65 236h1M78 236h2M81 236h1M85 236h1M4 237h1M7 237h1M9 237h1M47 237h1M61 237h1M65 237h1M83 237h1M6 238h1M24 238h1M49 238h1M74 238h1M76 238h1M45 239h1M85 239h1M57 240h1M0 241h1M14 241h1M76 241h1M85 241h1M34 242h1M86 242h1M16 243h1M18 243h1M44 244h1M43 245h1M3 246h1M9 246h1M16 246h1M30 246h1M6 247h1M34 247h1M64 247h1M23 248h2M16 249h1M50 249h1M63 249h1M81 249h1M75 250h1M79 250h1M87 250h2M9 251h1M27 251h1M32 251h1M46 252h1M71 252h1M22 253h1M61 253h1M65 253h1M55 254h1M24 255h1M35 255h1M82 255h1M77 256h1M80 256h2M86 256h2M4 257h1M36 257h1M58 257h1M81 257h1M83 257h1M81 258h1M85 258h1M87 258h1M78 259h1M80 259h1M84 259h1M90 259h1M85 260h1M79 261h1M81 261h1M83 261h1M76 262h1M81 262h1M87 262h1M66 263h1M56 264h1M78 264h1M80 264h1M85 264h1M5 265h1M78 265h1M50 266h1M77 266h1M1 267h1M57 267h1M87 267h1M18 268h1M75 268h1M2 269h1M34 269h1M37 269h1M65 269h1M51 270h1M66 270h1M71 270h1M76 270h1M64 271h1M85 271h1M6 272h1M84 272h1M73 273h2M66 274h1M66 277h1M50 278h1M50 279h1M66 279h1M22 280h1M59 280h1M78 280h1M54 281h1M84 281h1M87 281h1M27 282h1M60 282h1M72 282h1M75 282h1M78 282h1M81 282h1M78 283h1M8 284h1M37 284h1M41 284h1M58 284h1M79 284h2M84 284h1M86 284h1M89 284h1M48 285h1M54 285h1M82 285h1M65 289h1M68 289h1M85 289h1M49 290h1M64 290h1M82 290h1M85 290h1M4 291h1M65 291h1M90 291h1M19 292h1M76 292h1M81 292h1M87 292h1M79 293h2M84 293h1M88 293h1M60 294h1M75 294h1M84 294h1M61 295h1M63 295h1M69 295h1M85 295h1M90 295h1M65 296h1M77 296h1M81 296h1M63 297h1M83 297h3M12 298h1M58 298h1M83 298h1M89 298h1M59 299h1M11 302h1M17 302h1M33 302h1M37 302h2M70 302h1M75 302h1M10 303h1M60 303h1M41 304h1M47 304h1M58 304h1M70 304h1M27 305h1M57 305h1M53 306h1M56 306h1M70 306h1M31 307h1M61 309h1M19 310h1M31 311h1M45 312h1M6 313h1M25 313h1M71 313h1M88 313h1M74 314h1M69 317h1M11 319h1M13 319h1M55 319h1M58 320h1M86 323h1M80 324h1M17 325h1M78 325h1M80 325h1M79 326h1M81 327h1M83 327h1M86 327h2M8 328h1M75 328h1M41 330h1M82 330h1M85 330h1M83 331h1M86 331h1M19 332h1M51 332h1M79 332h1M86 332h1M45 333h1M76 333h1M80 335h1M83 336h2M87 337h1M83 340h2M89 340h1M7 341h1M85 342h2M89 342h1M80 343h1M85 343h2M84 345h1M11 359h1M82 366h1M81 368h1M79 370h1M81 370h1M81 371h1M87 372h1M55 374h1M80 374h1M84 374h1M54 375h1M85 375h1M85 376h1M84 377h1M86 377h1M82 378h1M51 380h1M79 380h1M79 384h1M81 389h1M80 390h1M83 393h2M80 396h2"/>
<path stroke="#f3a893" d="M46 3h1M2 4h1M9 4h1M59 4h1M69 4h1M64 5h1M67 6h1M7 7h1M10 7h1M52 8h1M75 8h1M66 9h1M89 12h1M80 14h1M85 14h1M87 14h1M12 15h1M24 15h1M32 15h1M4 16h1M26 16h1M13 17h1M66 17h1M72 17h1M81 19h1M79 20h1M77 21h1M89 22h1M86 23h1M26 27h1M44 27h1M52 27h2M56 27h1M74 27h1M5 28h1M17 28h1M30 28h1M55 28h1M10 29h1M14 29h1M53 29h1M17 30h1M37 30h1M56 30h1M66 31h1M76 31h1M9 32h1M18 32h1M53 32h1M12 33h1M60 33h1M74 33h1M15 34h1M23 34h1M36 34h2M2 35h1M9 35h1M26 35h1M36 35h1M43 35h1M45 35h1M79 35h2M84 35h2M20 36h1M43 36h1M46 36h1M52 36h1M74 36h1M84 36h1M27 37h1M33 37h1M86 37h1M32 38h1M59 38h1M70 38h1M72 38h2M25 39h1M50 39h1M52 39h1M82 39h1M86 39h1M2 40h1M55 40h1M84 40h2M24 41h1M28 41h1M57 41h1M71 41h2M84 41h1M10 42h1M47 42h1M89 42h1M6 43h1M45 43h1M35 44h1M80 44h1M27 45h1M78 45h1M85 45h1M87 45h1M9 46h1M12 46h1M54 46h1M68 46h1M72 46h1M85 46h1M8 47h1M31 47h1M62 47h1M83 47h1M86 47h1M65 48h1M72 48h1M78 48h1M83 48h1M87 48h1M12 49h1M47 49h1M59 49h2M71 49h1M77 49h2M80 49h1M87 49h1M0 50h1M46 50h1M63 50h1M85 50h1M87 50h1M60 51h1M82 51h1M3 52h1M8 52h1M11 52h1M24 52h1M46 52h1M28 53h1M47 53h1M4 54h1M31 54h1M48 54h1M71 54h1M68 55h1M88 55h1M3 56h1M9 56h1M17 56h1M20 56h1M36 56h1M49 56h1M53 56h2M58 56h1M74 56h1M77 56h1M23 57h1M30 57h1M80 57h1M84 57h1M4 58h1M33 58h1M47 58h1M52 58h1M62 58h1M65 58h1M75 58h1M12 59h1M14 59h1M52 59h1M67 59h2M82 59h1M84 59h1M3 60h1M14 60h1M52 60h1M60 60h1M30 61h1M33 61h1M69 61h1M79 61h1M84 61h1M90 61h1M14 62h1M27 62h1M83 62h1M87 62h1M17 63h1M24 63h1M26 63h1M28 63h1M50 63h1M55 63h1M76 63h1M84 63h1M5 64h1M68 64h1M77 64h1M86 64h1M11 65h1M35 65h2M41 65h1M56 65h1M58 65h1M71 65h2M78 65h1M86 65h1M88 65h1M34 66h1M48 66h1M72 66h1M83 66h2M86 66h1M2 67h1M26 67h1M58 67h1M78 67h1M80 67h1M84 67h1M86 67h1M18 68h1M79 68h1M81 68h1M0 69h1M11 69h1M67 69h1M77 69h1M79 69h1M81 69h1M83 69h1M85 69h1M88 69h1M11 70h1M17 70h1M42 70h1M61 70h1M46 71h1M58 71h1M77 71h1M17 72h1M68 72h1M73 72h1M79 72h1M81 72h1M87 72h1M11 73h1M26 73h1M31 73h1M81 73h1M83 73h1M52 74h1M58 74h1M63 74h1M68 74h1M77 74h1M80 74h1M86 74h1M89 74h1M0 75h1M12 75h1M21 75h1M38 75h1M63 75h1M83 75h1M86 75h1M16 76h1M51 76h1M55 76h1M59 76h1M82 76h1M84 76h2M34 77h1M58 77h1M64 77h1M79 77h1M83 77h1M2 78h1M13 78h1M18 78h1M67 78h1M72 78h1M77 78h1M90 78h1M2 79h1M25 79h2M31 79h1M85 79h1M79 80h1M81 80h1M84 80h1M18 81h1M34 81h1M43 81h1M68 81h2M83 81h1M3 82h1M40 82h1M51 82h1M67 82h1M87 82h1M29 83h1M37 83h1M52 83h1M57 83h1M61 83h1M68 83h1M81 83h1M15 84h1M38 84h1M83 84h1M7 85h1M45 85h1M68 85h2M77 85h2M85 85h1M90 85h1M30 86h1M42 86h1M47 86h1M78 86h1M13 87h1M60 87h1M63 87h1M75 87h1M9 88h1M42 88h1M48 88h1M81 88h1M84 88h3M32 89h1M58 89h1M67 89h1M72 89h1M75 89h2M81 89h2M85 89h1M11 90h1M17 90h1M62 90h1M73 90h1M86 90h1M9 91h1M12 91h1M64 91h1M80 91h1M87 91h1M60 92h3M79 92h1M81 92h1M84 92h1M87 92h1M44 93h1M50 93h1M65 93h1M73 93h1M77 93h1M83 93h2M5 94h1M29 94h1M57 94h1M59 94h1M78 94h1M84 94h1M21 95h1M78 95h1M83 95h1M85 95h1M87 95h1M77 96h1M79 96h1M84 96h1M87 96h1M75 97h1M77 97h2M80 97h1M84 97h2M87 97h1M89 97h1M7 98h1M17 98h1M37 98h1M70 98h1M77 98h1M0 99h1M9 99h1M28 99h1M50 99h1M63 99h1M85 99h1M16 100h1M19 100h1M57 100h1M73 100h1M79 100h2M85 100h1M19 101h1M42 101h1M76 101h1M79 101h1M84 101h1M17 102h1M20 102h1M32 102h1M51 102h1M76 102h1M79 102h1M87 102h1M84 106h1M86 107h1M79 109h1M84 109h1M1 111h1M66 111h1M85 111h1M88 111h1M17 112h1M51 112h1M57 112h1M67 112h1M80 113h1M87 113h1M24 119h1M83 119h2M20 120h1M30 120h1M85 120h1M30 122h1M81 122h1M84 122h1M61 123h1M37 124h1M54 124h1M47 125h1M62 125h1M78 125h1M87 125h1M71 126h1M81 126h1M80 127h1M25 128h1M31 128h1M33 130h1M67 130h1M78 130h1M27 131h1M49 131h1M78 131h1M17 132h1M8 133h1M64 133h1M86 133h1M26 134h1M82 134h1M79 136h1M81 137h1M86 138h1M81 141h4M89 141h1M80 143h1M86 144h1M83 145h1M79 147h1M87 147h1M86 150h1M81 154h1M85 155h1M89 155h1M85 156h1M87 156h1M78 159h1M80 159h1M86 159h1M83 160h1M85 160h1M85 161h3M83 162h2M77 163h2M82 163h1M84 163h1M86 163h1M78 164h2M82 164h1M84 164h1M85 165h1M77 166h1M79 166h1M81 166h1M83 166h1M85 166h1M80 167h1M84 167h1M25 168h1M53 168h1M78 168h1M1 169h1M11 169h2M18 169h1M35 169h1M49 169h1M85 169h1M3 170h1M5 170h1M18 170h1M25 170h1M32 170h1M37 170h1M46 170h1M49 170h1M63 170h1M12 171h1M46 171h1M73 171h1M14 172h1M24 172h1M32 172h1M42 172h1M10 173h1M12 173h1M36 173h1M4 174h1M6 174h1M10 174h1M14 174h1M16 174h2M29 174h1M68 174h1M4 175h1M7 175h1M12 175h1M47 175h1M10 176h1M13 176h1M15 176h1M26 176h1M41 176h1M46 176h1M73 176h1M14 177h1M53 177h1M60 177h1M79 177h1M10 178h1M45 178h1M79 178h1M4 179h1M0 180h1M3 180h1M23 180h1M45 180h1M66 180h1M18 181h1M4 182h2M21 182h1M23 182h1M28 182h1M56 182h1M9 183h1M16 183h1M45 183h1M49 184h1M0 185h1M4 185h1M16 185h1M31 185h1M33 185h2M41 185h1M13 186h1M21 186h1M31 187h1M35 187h1M41 187h1M44 187h1M5 188h1M15 188h1M21 188h1M25 188h1M35 188h1M37 188h1M8 189h1M30 189h1M33 189h2M42 189h1M69 189h1M75 189h1M0 190h1M62 190h1M71 190h1M38 191h1M43 191h1M46 191h1M3 192h2M21 192h1M30 192h1M52 192h1M20 193h1M37 193h1M90 193h1M29 194h1M48 194h1M51 194h1M75 194h1M2 196h1M7 196h1M18 196h1M42 196h1M45 196h1M49 196h1M70 196h1M3 197h1M7 197h1M5 199h1M19 199h1M72 199h1M1 200h1M21 200h1M24 200h1M27 200h1M37 200h1M47 200h1M63 200h1M65 200h1M24 201h1M75 201h1M77 201h1M79 201h1M22 202h1M25 202h1M29 202h1M78 202h1M83 202h1M85 202h1M12 203h1M18 203h1M1 204h1M3 204h1M21 205h1M37 205h1M40 205h1M52 205h1M85 205h1M26 206h1M57 206h1M80 206h1M83 206h1M46 207h1M78 207h1M81 207h1M85 207h1M23 208h1M29 208h1M33 209h1M15 210h1M42 210h1M68 210h1M78 210h1M86 210h1M0 211h1M9 211h1M18 211h1M30 211h2M33 211h1M35 211h1M41 211h1M43 211h1M78 211h1M0 212h1M8 212h1M15 212h1M20 212h1M50 212h1M68 212h1M80 212h1M43 213h1M79 213h1M17 214h1M13 215h1M19 215h1M29 215h1M44 215h1M86 215h1M4 216h1M13 216h2M17 216h1M20 216h1M31 216h1M83 216h1M12 217h1M23 217h1M47 217h1M78 217h1M81 217h1M9 218h1M32 218h1M44 218h1M48 218h1M84 218h1M14 219h1M18 219h1M29 219h1M78 219h1M84 219h1M1 220h1M12 220h1M21 220h1M31 220h1M34 220h1M40 220h1M43 220h1M61 220h1M84 220h1M7 221h1M37 221h2M43 221h1M82 221h1M2 222h1M11 222h1M22 222h1M32 222h2M35 222h1M40 222h1M5 224h1M39 224h1M22 225h1M23 226h1M16 228h1M47 229h1M0 231h1M55 231h1M9 232h1M57 232h1M10 233h1M16 233h1M50 233h1M4 234h1M6 234h1M14 234h1M20 234h1M35 234h1M71 234h1M29 235h1M42 235h1M83 235h1M1 236h1M13 236h1M39 236h1M63 236h1M84 236h1M78 237h2M23 238h1M43 238h1M48 238h1M85 238h1M17 239h1M32 239h1M64 239h1M17 240h1M45 240h1M59 240h1M80 240h1M85 240h1M1 241h1M6 241h1M28 241h1M32 241h1M35 241h1M39 241h1M54 241h1M77 241h1M84 241h1M0 242h1M15 242h1M27 242h1M56 242h1M87 242h1M7 243h1M28 243h1M3 244h1M23 244h1M37 244h1M1 245h3M5 245h1M20 245h1M35 246h1M51 246h1M72 246h1M76 246h1M14 247h1M59 247h1M44 248h1M83 248h1M6 249h1M38 249h1M76 249h1M29 250h1M39 250h2M52 250h1M62 250h1M66 250h1M77 250h1M81 250h1M31 251h1M44 251h1M48 251h1M50 251h1M19 252h1M64 252h1M75 252h1M1 253h1M7 253h1M18 253h1M23 253h1M25 253h1M22 254h1M58 254h2M5 255h1M16 255h1M44 255h1M67 255h1M59 256h1M65 256h1M65 258h1M79 258h2M58 259h1M82 259h1M85 259h1M6 261h1M31 261h1M5 262h1M62 262h1M5 263h1M77 263h1M79 263h1M62 264h1M66 264h1M75 264h2M76 265h1M90 265h1M70 266h1M80 266h1M5 267h1M17 267h1M77 267h1M35 268h1M61 268h1M63 268h1M68 268h2M73 268h1M38 269h1M44 269h1M51 269h1M64 269h1M75 269h1M80 269h1M22 270h1M50 270h1M52 270h1M8 271h1M51 271h1M72 271h1M74 271h1M86 271h1M60 272h1M66 272h1M79 272h1M6 280h1M64 280h1M3 281h1M62 281h1M75 281h1M20 282h1M53 282h1M69 282h1M79 282h2M82 283h1M85 284h1M13 285h2M55 285h1M61 285h1M71 285h1M81 285h1M86 285h1M9 289h1M12 289h1M60 289h2M63 289h1M77 289h1M67 290h1M77 290h1M79 290h1M79 291h1M85 291h1M87 291h1M89 291h1M26 292h1M54 292h1M72 292h1M77 292h1M84 292h1M88 292h1M40 293h1M55 293h1M62 294h1M64 294h1M67 294h1M79 294h1M90 294h1M53 295h1M65 295h1M72 295h1M82 295h1M1 296h1M61 296h1M73 296h1M75 296h1M80 296h1M83 296h1M48 297h1M57 297h1M72 297h1M76 297h1M14 298h1M50 298h1M90 298h1M42 299h1M72 299h1M79 299h1M83 299h1M79 300h1M47 301h1M65 301h1M6 302h2M16 302h1M24 302h1M53 302h1M56 302h1M15 303h1M35 303h1M66 303h1M10 304h1M73 304h1M0 307h1M37 307h1M39 307h1M52 307h1M16 308h1M41 308h1M64 308h1M52 309h1M76 309h1M73 310h1M76 310h1M59 311h1M73 311h3M25 312h1M90 312h1M50 313h1M52 313h1M70 313h1M70 314h1M36 316h1M74 317h1M55 318h1M20 319h1M35 319h1M57 319h1M90 319h1M69 320h1M69 321h1M28 323h1M21 324h1M24 324h1M67 324h1M83 324h1M85 324h1M61 325h1M3 326h1M10 326h1M44 326h1M78 326h1M83 326h1M87 326h1M18 329h1M54 329h1M80 329h1M83 329h1M31 330h1M49 330h1M68 330h1M79 330h2M86 330h1M26 331h1M75 331h1M85 331h1M85 332h1M75 333h1M82 333h1M84 333h1M79 334h1M79 335h1M83 335h2M82 337h1M77 338h1M80 338h1M80 339h1M84 339h1M87 339h1M78 340h1M86 341h1M77 342h1M87 343h1M78 344h1M83 344h2M80 367h1M86 369h1M87 371h1M33 373h1M84 373h1M54 374h1M81 374h1M28 379h1M36 383h1M82 387h1M78 390h1"/>
<path stroke="#ed8975" d="M11 0h1M36 1h1M23 2h1M28 2h1M76 2h1M89 3h1M35 6h1M46 6h1M21 7h1M38 7h1M69 7h1M89 7h1M40 8h1M62 9h1M84 11h1M81 14h1M7 15h1M17 15h1M89 15h1M52 16h1M57 16h1M59 16h1M73 16h1M78 16h1M7 17h1M31 17h1M79 17h1M82 17h1M89 18h1M85 19h2M85 20h1M81 21h1M80 24h1M57 25h1M63 25h1M55 26h1M79 26h1M38 27h1M51 27h1M58 27h1M71 27h1M76 27h1M28 28h1M34 28h1M41 28h1M63 28h1M71 28h1M34 29h1M38 29h1M42 29h1M64 29h1M67 29h1M69 29h1M89 29h1M31 30h1M36 30h1M81 30h1M51 31h1M57 31h1M73 31h1M82 31h1M15 32h1M41 32h1M46 32h1M39 33h1M44 33h1M47 33h1M57 33h1M70 33h1M76 33h1M35 34h1M51 34h1M73 34h1M78 34h1M59 35h1M63 35h1M77 35h1M27 36h1M49 36h1M60 36h2M65 36h1M69 36h1M87 36h1M5 37h1M10 37h1M20 37h1M34 37h1M45 37h1M49 37h1M65 37h1M77 37h1M80 37h1M1 38h1M8 38h1M11 38h1M15 38h1M43 38h1M58 38h1M90 38h1M5 39h1M40 39h1M56 39h2M80 39h1M19 40h1M51 40h1M59 40h1M64 40h1M74 40h1M80 40h1M86 40h1M89 40h1M26 41h1M47 41h1M50 41h1M52 41h1M61 41h1M81 41h2M43 42h1M57 42h1M71 42h1M74 42h1M77 42h1M30 43h1M37 43h1M80 43h1M87 43h1M3 44h1M31 44h1M41 44h1M45 44h1M51 44h1M63 44h1M70 44h1M0 45h1M2 45h1M52 45h1M62 45h1M72 45h1M58 46h1M63 46h1M77 46h1M83 46h2M47 47h1M54 47h1M66 47h1M69 47h1M76 47h1M12 48h1M29 48h1M44 48h1M58 48h1M70 48h1M85 48h1M13 49h1M16 49h1M40 49h2M55 49h1M89 49h1M11 50h1M42 50h2M71 50h1M11 51h1M42 51h1M54 51h1M62 51h1M72 51h1M75 51h1M87 51h1M35 52h1M77 52h1M79 52h1M86 52h1M12 53h1M65 53h1M69 53h1M77 53h1M82 53h1M21 54h1M44 54h1M53 54h1M55 54h1M57 54h1M60 54h1M83 54h1M87 54h1M24 55h1M42 55h1M48 55h1M51 55h1M54 55h1M79 55h1M8 56h1M41 56h1M64 56h1M87 56h2M64 57h1M73 57h1M77 57h1M82 57h1M85 57h1M7 58h1M12 58h1M20 58h1M53 58h1M59 58h1M63 58h1M67 58h1M86 58h3M25 59h1M32 59h1M41 59h1M54 59h1M69 59h1M87 59h1M81 60h1M87 60h1M5 61h1M21 61h1M27 61h2M36 61h1M44 61h1M48 61h1M65 61h1M15 62h1M24 62h1M49 62h1M58 62h2M66 62h1M71 62h1M80 62h1M89 62h1M0 63h1M6 63h1M60 63h1M73 63h1M81 63h1M10 64h1M25 64h1M61 64h1M76 64h1M78 64h1M81 64h1M88 64h1M0 65h1M18 65h1M57 65h1M80 65h2M85 65h1M6 66h2M46 66h1M60 66h1M65 66h1M69 66h1M87 66h1M1 67h1M17 67h1M22 67h1M28 67h1M35 67h1M54 67h1M72 67h1M74 67h1M9 68h1M20 68h1M53 68h1M58 68h1M61 68h1M63 68h1M70 68h1M72 68h1M76 68h1M80 68h1M82 68h1M84 68h1M6 69h1M8 69h1M12 69h1M15 69h1M48 69h1M60 69h1M71 69h1M78 69h1M84 69h1M16 70h1M71 70h1M74 70h1M77 70h1M85 70h1M87 70h1M39 71h1M78 71h1M85 71h2M6 72h1M37 72h1M56 72h1M80 72h1M86 72h1M55 73h1M64 73h1M70 73h1M74 73h1M87 73h1M12 74h1M23 74h1M35 74h1M85 74h1M24 75h1M55 75h1M77 75h1M84 75h2M8 76h1M33 76h1M53 76h1M60 76h1M80 76h1M11 77h1M28 77h1M33 77h1M35 77h1M65 77h1M68 77h1M75 77h1M80 77h1M87 77h1M19 78h1M41 78h1M66 78h1M75 78h1M79 78h1M82 78h1M89 78h1M17 79h1M61 79h3M81 79h1M39 80h1M49 80h1M52 80h1M56 80h1M59 80h1M65 80h1M73 80h1M76 80h1M85 80h1M8 81h1M29 81h1M42 81h1M77 81h2M9 82h1M11 82h1M14 82h1M47 82h1M77 82h1M81 82h1M84 82h2M88 82h1M3 83h1M5 83h1M13 83h1M26 83h1M53 83h1M70 83h1M73 83h1M87 83h1M19 84h1M27 84h1M39 84h1M61 84h1M63 84h1M79 84h1M81 84h1M87 84h1M3 85h1M9 85h1M11 85h1M21 85h1M31 85h1M33 85h1M52 85h1M64 85h1M80 85h1M89 85h1M24 86h1M55 86h1M61 86h2M74 86h1M77 86h1M31 87h1M57 87h1M68 87h1M78 87h1M80 87h1M84 87h1M4 88h1M19 88h1M35 88h1M56 88h1M65 88h1M76 88h1M82 88h1M89 88h1M12 89h1M34 89h1M41 89h1M45 89h1M55 89h1M61 89h1M63 89h1M12 90h1M24 90h1M57 90h1M63 90h1M66 90h1M72 90h1M74 90h1M85 90h1M87 90h1M24 91h1M34 91h1M44 91h1M79 91h1M85 91h1M89 91h1M51 92h1M64 92h1M66 92h1M80 92h1M7 93h1M51 93h1M53 93h1M62 93h1M67 93h2M81 93h1M80 94h1M49 95h1M57 95h1M62 95h1M65 95h1M89 95h1M0 96h1M22 96h1M27 96h1M36 96h1M43 96h1M52 96h1M58 96h1M81 96h1M86 97h1M26 98h1M36 98h1M53 98h1M62 98h1M81 98h1M84 98h1M87 98h1M6 99h1M32 99h1M53 99h2M56 99h1M61 99h1M73 99h1M78 99h1M83 99h1M8 100h1M12 100h1M29 100h1M40 100h1M43 100h1M81 100h1M83 100h2M90 100h1M78 101h1M82 101h1M25 102h1M35 102h1M39 102h1M44 102h1M53 102h1M69 102h1M75 102h1M80 102h1M83 102h2M84 103h1M84 105h1M85 110h1M2 111h1M45 111h1M57 111h1M65 111h1M83 111h1M18 112h1M90 112h1M89 114h1M80 115h1M82 117h1M85 117h1M50 118h1M13 119h1M64 119h1M75 119h1M11 120h1M18 120h1M90 120h1M12 121h1M39 121h1M64 121h1M78 121h1M81 121h1M84 121h1M10 122h1M24 122h1M61 122h1M7 123h1M45 123h1M63 123h1M67 123h1M71 123h1M56 124h1M65 124h1M71 124h1M87 124h1M4 125h1M24 125h1M81 125h1M32 126h1M79 126h2M85 126h3M83 127h1M88 127h2M55 128h1M71 128h1M83 128h1M63 129h1M82 130h1M4 131h1M38 131h1M61 131h1M65 131h1M70 132h1M84 132h2M85 133h1M37 134h1M83 136h1M87 136h1M77 139h1M83 139h1M87 139h1M86 142h1M87 143h1M89 144h1M86 146h1M85 147h1M89 147h1M81 150h1M81 152h1M83 152h1M79 153h1M79 154h1M82 155h1M80 156h1M89 156h1M79 157h2M85 157h2M77 158h1M82 158h1M83 159h2M80 161h1M83 161h1M85 163h1M80 164h1M78 165h1M83 165h1M6 168h3M12 168h1M27 168h1M29 168h1M32 168h1M36 168h2M45 168h1M50 168h1M76 168h1M20 169h1M22 169h1M25 169h1M14 170h1M33 170h1M9 171h1M13 171h3M20 171h1M26 171h1M49 171h1M51 171h1M69 171h1M2 172h2M10 172h1M18 172h1M20 172h1M34 172h2M74 172h1M7 173h1M32 173h1M38 173h1M50 173h1M68 173h1M2 174h1M7 174h1M35 174h1M41 174h1M43 174h1M73 174h1M28 175h1M38 175h1M48 175h1M28 176h1M30 176h2M76 176h1M78 176h1M6 177h1M15 177h1M18 177h1M45 177h1M13 178h1M15 178h1M23 178h1M35 178h1M40 178h2M44 178h1M1 179h1M22 179h1M24 179h1M55 179h1M9 180h2M35 180h2M41 180h1M65 180h1M7 181h1M10 181h1M38 181h1M49 181h1M3 182h1M8 182h1M11 182h1M19 182h2M22 182h1M38 182h1M40 182h1M42 182h1M47 182h1M13 183h1M22 183h1M43 183h1M47 183h1M66 183h1M5 184h1M20 184h1M1 185h2M19 185h2M29 185h1M37 186h1M39 186h1M65 186h2M5 187h1M32 187h1M37 187h1M43 187h1M68 187h1M10 188h1M12 188h1M19 188h1M39 188h1M43 188h1M4 189h1M16 189h1M36 189h1M4 190h1M19 190h1M34 190h1M47 190h1M67 190h1M2 191h1M16 191h1M22 191h1M25 191h1M54 191h1M56 191h1M22 192h1M47 192h1M1 193h1M11 193h2M22 193h1M48 193h2M51 193h1M72 193h1M75 193h1M12 194h1M25 194h1M1 195h1M5 195h1M16 195h1M24 195h1M37 195h1M42 195h1M16 196h1M28 196h1M33 196h1M40 196h1M18 197h1M23 197h1M0 198h1M22 198h1M26 198h1M14 199h1M24 199h1M29 199h1M37 199h1M64 199h1M71 199h1M5 200h1M17 200h1M20 200h1M52 200h1M4 201h1M33 201h1M51 201h1M6 202h2M20 202h1M46 202h1M65 202h1M77 202h1M29 203h1M80 203h1M7 204h1M9 204h1M21 204h1M23 204h1M46 204h1M54 204h1M77 204h2M83 204h1M1 205h1M4 205h1M20 205h1M24 205h1M26 205h1M44 205h3M62 205h2M71 205h1M83 205h1M4 206h1M9 206h1M34 206h1M42 206h1M55 206h1M78 206h1M11 207h1M6 208h1M15 208h1M30 208h1M77 208h1M83 208h1M24 209h1M29 209h1M32 209h1M67 209h1M85 209h1M1 210h1M5 210h1M12 210h1M16 210h1M30 210h1M35 210h1M74 210h1M81 210h1M3 211h1M11 211h1M16 211h2M19 211h1M50 211h1M57 211h1M87 211h1M1 212h2M7 212h1M18 212h1M28 212h1M49 212h1M81 212h1M33 213h1M41 213h1M84 213h2M0 214h1M10 214h1M16 214h1M19 214h1M25 214h1M27 214h1M47 214h1M59 214h1M86 214h1M12 215h1M20 215h2M23 215h2M46 215h1M80 215h1M16 216h1M48 216h1M52 216h1M75 216h1M80 216h1M86 216h1M9 217h1M26 217h1M36 217h1M48 217h1M70 217h1M83 217h1M85 217h1M4 218h1M17 218h1M20 218h1M34 218h2M39 218h2M79 218h1M6 219h2M15 219h1M35 219h1M9 220h1M14 220h2M26 220h1M29 220h1M35 220h1M44 220h1M47 220h1M56 220h1M77 220h1M21 221h1M42 221h1M85 221h1M87 221h1M0 222h1M6 222h1M20 222h1M30 222h2M43 222h1M81 222h1M25 223h1M22 224h1M37 224h1M21 225h1M30 225h1M36 225h1M76 225h1M29 226h1M2 229h1M6 229h1M15 229h1M39 229h1M17 230h1M30 231h1M15 232h1M17 232h1M21 232h1M39 232h1M47 232h1M21 233h1M23 233h1M39 233h1M47 233h1M68 233h1M38 234h1M65 234h1M76 234h1M0 235h1M21 235h1M32 235h1M78 235h1M81 235h1M7 236h1M15 236h1M17 236h1M26 236h1M42 236h1M45 236h1M48 236h1M37 237h1M43 237h1M69 237h1M10 238h1M19 238h1M42 238h1M83 238h1M87 238h1M7 239h1M19 239h1M35 239h1M58 239h1M72 239h2M75 239h1M77 239h1M15 240h1M19 240h1M44 240h1M48 240h2M56 240h1M66 240h1M81 240h1M89 240h1M3 241h1M23 241h1M27 241h1M82 241h1M87 241h1M2 242h1M17 242h1M21 242h1M24 242h1M26 242h1M57 242h1M80 242h1M8 243h1M38 243h1M21 244h1M24 244h2M28 244h2M32 244h1M47 244h1M17 245h1M39 245h1M53 245h1M7 246h1M18 246h1M22 246h1M33 246h1M45 246h1M41 247h1M52 247h1M0 248h1M11 248h2M39 248h1M67 248h1M44 249h1M86 249h1M90 249h1M4 250h1M21 250h1M67 250h1M73 250h1M5 251h1M14 251h1M21 251h1M71 251h2M32 252h1M31 253h1M88 253h1M90 253h1M31 254h2M49 254h2M54 254h1M56 254h1M63 254h1M69 254h1M8 255h1M39 255h1M45 255h1M8 256h1M49 256h1M55 256h1M74 256h1M10 257h1M61 257h1M87 257h1M13 258h1M57 258h1M72 258h1M31 259h1M75 259h1M16 260h1M39 260h1M82 260h1M12 261h1M30 261h1M45 261h1M33 262h1M36 262h1M39 262h1M64 262h1M73 262h1M79 262h1M11 264h1M39 264h1M4 265h1M57 265h1M71 265h1M75 265h1M79 265h1M3 266h1M52 266h2M81 266h1M90 266h1M59 267h1M68 267h2M64 268h1M66 268h1M48 269h1M54 269h1M62 269h1M72 269h1M7 270h1M13 270h1M28 270h1M30 270h1M49 270h1M58 270h2M12 271h1M28 271h1M53 271h1M57 271h1M61 271h1M18 272h1M38 272h1M51 272h1M55 272h1M62 272h1M70 272h1M26 280h1M57 280h1M68 280h1M90 280h1M37 281h1M59 281h1M64 281h1M88 281h1M34 282h1M67 283h1M72 283h1M77 283h1M80 283h1M22 284h1M27 285h1M38 285h1M65 285h1M55 289h1M87 289h1M55 290h1M23 291h1M50 291h1M85 292h1M50 293h1M56 293h1M81 293h1M40 294h1M50 294h1M66 294h1M78 294h1M81 294h1M74 295h1M86 295h2M46 296h1M84 296h1M33 298h1M47 298h1M55 298h1M61 298h1M78 298h1M82 298h1M44 299h1M49 299h1M77 299h2M82 299h1M61 300h1M82 300h2M6 301h1M15 301h1M18 301h1M73 301h1M48 302h1M90 302h1M20 304h1M33 304h1M46 304h1M49 304h1M53 304h1M55 304h1M59 304h1M61 304h1M67 304h1M72 304h1M11 305h1M36 305h1M44 305h1M65 305h1M69 305h1M1 306h1M10 306h1M15 306h1M45 306h1M69 306h1M6 307h1M42 307h1M57 307h1M66 307h1M70 307h1M72 307h1M10 308h1M31 308h1M36 308h1M46 308h1M48 308h1M90 308h1M5 309h1M24 309h1M37 309h1M47 309h1M73 309h1M6 310h1M23 310h1M65 310h1M16 311h1M20 311h1M34 311h1M36 311h1M44 311h1M49 311h1M51 311h1M69 311h1M0 312h1M22 312h1M14 313h1M32 313h1M64 314h1M73 314h1M60 315h1M73 315h1M74 316h1M66 318h1M47 319h1M72 319h1M66 320h1M68 320h1M90 320h1M66 321h1M85 323h1M87 323h1M18 324h1M81 324h1M77 325h1M64 326h1M82 326h1M85 326h1M42 327h1M51 327h1M78 327h1M82 327h1M38 328h1M81 328h1M83 328h1M89 328h1M82 329h1M85 329h1M87 329h1M57 330h1M75 330h1M21 331h1M81 331h1M47 332h1M58 332h1M82 332h3M33 333h1M55 333h1M80 333h1M87 333h1M89 333h1M81 334h1M86 334h1M77 335h2M86 335h1M89 335h1M78 336h1M87 336h1M83 337h2M85 338h1M87 338h1M86 339h1M81 340h1M86 340h1M77 341h1M81 341h1M84 341h1M83 342h1M80 344h1M87 344h1M82 369h1M42 373h1M3 375h1M17 377h1M25 377h1M8 380h1M30 381h1M39 382h1M9 383h1M31 383h1M57 383h1M21 384h1M61 386h1"/>
<path stroke="#e76c59" d="M63 0h1M14 2h1M80 2h1M12 3h1M16 4h1M35 4h1M29 5h1M73 6h1M56 7h2M15 8h1M5 9h1M21 9h1M37 9h1M61 9h1M83 10h1M89 10h1M89 11h1M84 13h1M86 13h1M83 14h1M56 16h1M27 17h2M39 17h1M85 17h1M80 19h1M84 20h1M86 21h1M78 22h1M78 23h1M81 23h1M87 23h1M2 24h1M47 24h1M69 24h1M81 24h2M86 25h1M2 27h1M7 27h1M29 27h2M43 27h1M50 27h1M60 27h1M63 27h1M67 27h1M83 27h1M26 28h1M33 28h1M64 28h1M80 28h1M17 29h1M23 29h1M28 29h1M50 29h1M63 29h1M50 30h1M66 30h1M70 30h1M15 31h1M22 31h1M40 31h1M59 31h2M72 31h1M3 32h1M37 32h1M57 32h1M79 32h1M6 33h1M51 33h1M55 33h1M65 33h2M73 33h1M0 34h1M9 34h1M14 34h1M34 34h1M58 34h1M1 35h1M16 35h1M20 35h1M41 35h1M51 35h1M53 35h1M56 35h1M64 35h1M67 35h1M89 35h1M9 36h1M23 36h1M56 36h1M59 36h1M89 36h1M16 37h1M25 37h1M55 37h1M59 37h1M64 37h1M87 37h1M89 37h1M7 38h1M52 38h1M55 38h1M63 38h1M10 39h1M13 39h1M27 39h1M37 39h1M44 39h1M61 39h1M66 39h1M68 39h1M90 39h1M15 40h1M22 40h1M28 40h1M35 40h1M62 40h1M90 40h1M22 41h1M29 41h1M34 41h1M44 41h1M67 41h1M21 42h1M41 42h1M51 42h1M62 42h1M64 42h1M67 42h1M73 42h1M5 43h1M20 43h1M28 43h1M41 43h1M52 43h1M58 43h1M66 43h1M36 44h1M39 44h1M55 44h1M66 44h1M69 44h1M88 44h1M15 45h1M33 45h1M59 45h1M80 45h1M4 46h1M13 46h1M22 46h1M55 46h1M64 46h1M19 47h1M35 47h1M52 47h1M65 47h1M5 48h1M7 48h1M24 48h1M68 48h1M77 48h1M81 48h1M15 49h1M30 49h1M45 49h1M61 49h1M65 49h1M74 49h1M17 50h1M28 50h1M37 50h1M51 50h1M68 50h1M77 50h2M82 50h1M89 50h1M45 51h1M51 51h1M61 51h1M73 51h1M76 51h1M36 52h1M44 52h1M51 52h2M57 52h2M70 52h1M16 53h1M38 53h1M84 53h1M29 54h1M35 54h1M49 54h1M52 54h1M45 55h1M50 55h1M62 55h1M81 55h1M42 56h1M46 56h1M65 56h1M68 56h1M79 56h2M82 56h1M14 57h1M52 57h1M58 57h1M61 57h1M68 57h1M79 57h1M14 58h1M36 58h1M51 58h1M66 58h1M77 58h1M80 58h2M39 59h1M48 59h1M51 59h1M64 59h1M72 59h1M78 59h1M83 59h1M49 60h1M53 60h1M69 60h1M71 60h1M76 60h1M80 60h1M82 60h1M88 60h1M1 61h1M4 61h1M16 61h1M34 61h1M50 61h2M56 61h1M70 61h1M85 61h1M87 61h1M39 62h1M46 62h1M67 62h1M88 62h1M57 63h1M68 63h1M80 63h1M2 64h1M12 64h1M16 64h1M46 64h1M75 64h1M82 64h2M2 65h1M4 65h2M9 65h1M43 65h1M59 65h1M62 65h1M66 65h1M77 65h1M87 65h1M0 66h1M9 66h1M35 66h1M44 66h1M52 66h1M75 66h1M79 66h1M82 66h1M85 66h1M7 67h1M45 67h1M56 67h1M61 67h2M69 67h1M83 67h1M87 67h1M10 68h1M36 68h1M68 68h1M83 68h1M86 68h1M1 69h1M14 69h1M21 69h1M43 69h1M59 69h1M80 69h1M0 70h1M26 70h1M32 70h1M50 70h1M72 70h1M78 70h1M80 70h1M82 70h1M84 70h1M86 70h1M18 71h1M20 71h1M43 71h1M57 71h1M64 71h2M67 71h1M83 71h1M87 71h1M50 72h1M65 72h1M72 72h1M74 72h2M22 73h1M37 73h1M39 73h1M46 73h1M51 73h1M63 73h1M67 73h1M69 73h1M78 73h1M84 73h2M27 74h1M83 74h1M33 75h1M36 75h1M56 75h1M59 75h2M62 75h1M64 75h1M87 75h1M13 76h1M22 76h1M49 76h1M77 76h1M81 76h1M88 76h1M16 77h1M23 77h1M25 77h1M43 77h1M49 77h1M78 77h1M88 77h1M12 78h1M23 78h1M27 78h1M32 78h1M37 78h1M40 78h1M50 78h2M69 78h1M76 78h1M8 79h1M10 79h1M34 79h1M40 79h1M50 79h1M78 79h1M84 79h1M13 80h1M19 80h1M27 80h1M44 80h1M50 80h1M62 80h1M75 80h1M83 80h1M87 80h1M1 81h1M15 81h1M21 81h1M25 81h1M38 81h2M59 81h1M66 81h1M76 81h1M26 82h1M72 82h1M76 82h1M78 82h1M80 82h1M86 82h1M14 83h1M48 83h1M51 83h1M56 83h1M66 83h1M69 83h1M74 83h1M78 83h3M86 83h1M54 84h1M62 84h1M19 85h1M39 85h1M66 85h1M7 86h1M15 86h1M31 86h1M41 86h1M44 86h1M52 86h1M79 86h1M82 86h2M65 87h1M74 87h1M82 87h1M6 88h1M67 88h1M70 88h1M73 88h1M75 88h1M0 89h1M3 89h1M59 89h1M62 89h1M65 89h1M78 89h1M87 89h1M89 89h1M35 90h1M54 90h1M79 90h1M83 90h1M89 90h1M3 91h1M36 91h1M47 91h1M52 91h1M63 91h1M8 92h1M19 92h1M53 92h1M19 93h1M52 93h1M78 93h1M80 93h1M85 93h1M15 94h1M34 94h1M55 94h1M58 94h1M61 94h1M63 94h1M79 94h1M88 94h1M77 95h1M79 95h1M86 95h1M63 96h1M67 96h1M74 96h1M86 96h1M35 97h1M50 97h1M59 97h1M83 97h1M49 98h1M55 98h1M61 98h1M67 98h1M72 98h1M75 98h1M78 98h2M85 98h1M2 99h2M19 99h1M36 99h1M52 99h1M55 99h1M58 99h1M77 99h1M79 99h2M82 99h1M86 99h1M47 100h1M49 100h1M60 100h1M87 100h1M16 101h1M50 101h1M71 101h1M85 101h1M5 102h1M13 102h1M19 102h1M60 102h1M88 102h1M85 103h1M41 111h1M75 111h1M2 112h1M8 112h1M81 113h1M77 114h1M86 114h1M83 115h1M83 116h1M78 117h1M57 118h2M66 118h1M75 118h2M85 118h1M90 118h1M14 120h1M36 120h1M68 120h1M58 121h1M13 122h1M45 122h1M54 122h1M27 123h1M70 123h1M22 124h1M29 124h1M50 124h1M76 124h1M25 125h1M54 125h1M75 125h1M27 126h1M56 126h1M83 126h1M48 127h1M69 127h1M78 127h1M85 127h1M11 128h1M77 128h1M85 128h1M87 128h1M74 129h1M81 130h1M84 130h1M89 130h1M10 131h1M13 131h1M84 131h1M78 133h1M81 133h2M87 133h1M49 134h2M55 134h1M60 134h1M85 134h1M87 135h1M84 136h1M83 137h1M80 138h1M81 139h1M86 139h1M77 140h1M79 140h1M80 142h3M86 143h1M79 144h1M83 144h1M87 144h1M79 145h1M80 146h1M84 146h2M82 147h1M82 148h1M85 148h2M89 148h1M81 149h2M77 150h1M83 150h2M84 151h2M89 151h1M79 152h1M86 152h1M77 153h1M81 153h1M84 153h2M86 154h1M78 155h1M77 156h2M82 156h2M86 156h1M77 157h1M82 157h2M89 161h1M85 167h1M5 168h1M17 168h1M24 168h1M9 169h1M43 169h1M53 169h1M9 170h1M24 170h1M61 170h1M11 171h1M36 171h1M54 171h1M4 172h1M7 172h1M39 172h1M22 173h1M24 173h1M35 173h1M45 173h2M19 174h1M21 174h2M26 174h1M30 174h1M40 174h1M44 174h1M47 174h1M65 174h1M3 175h1M24 175h1M31 175h1M36 175h1M75 175h1M5 176h1M18 176h1M21 176h1M51 176h1M0 177h2M5 177h1M13 177h1M16 177h1M31 177h1M33 177h1M38 177h1M12 178h1M18 178h1M22 178h1M24 178h2M37 178h1M42 178h1M88 178h1M12 179h1M46 179h1M5 180h1M19 180h2M44 180h1M52 180h1M1 181h1M19 181h1M27 181h1M32 181h1M10 182h1M15 182h2M18 182h1M29 182h1M35 182h1M46 182h1M53 182h1M14 183h1M17 183h1M20 183h1M28 183h1M32 183h2M35 183h2M40 183h1M6 184h1M11 184h1M14 184h1M25 184h1M27 184h2M67 184h1M3 185h1M9 185h1M21 185h1M24 185h1M26 185h1M45 185h1M1 186h1M5 186h1M14 186h1M19 186h1M23 186h1M34 186h1M36 186h1M11 187h1M13 187h1M16 187h1M30 187h1M60 187h1M2 188h1M9 188h1M26 188h1M29 188h1M40 188h1M44 188h1M58 188h1M7 189h1M21 189h2M24 189h1M26 189h1M29 189h1M37 189h1M41 189h1M14 190h2M26 190h1M43 190h1M51 190h1M4 191h1M14 191h1M18 191h1M41 191h1M65 191h1M67 191h1M9 192h1M31 192h1M39 192h1M48 192h1M56 192h1M2 193h1M6 193h1M13 193h1M47 193h1M62 193h1M6 194h1M23 194h1M34 194h2M38 194h1M17 195h1M31 195h1M62 195h1M0 196h1M8 196h1M15 196h1M17 196h1M23 196h1M29 196h1M41 196h1M44 196h1M60 196h1M64 196h1M22 197h1M31 197h1M66 197h1M2 198h1M33 198h1M37 198h3M43 198h1M50 198h1M65 198h1M1 199h1M26 199h1M33 199h1M47 199h1M9 200h1M11 200h1M14 200h1M34 200h1M36 200h1M8 201h1M28 201h1M3 202h1M13 202h1M15 202h1M17 202h1M26 202h1M53 202h1M61 202h1M20 203h1M33 203h1M39 203h1M46 203h2M77 203h1M13 204h1M38 204h1M48 204h1M82 204h1M0 205h1M35 205h1M43 205h1M48 205h1M60 205h1M79 205h1M3 206h1M24 206h1M27 206h1M29 206h1M37 206h1M2 207h1M22 207h1M30 207h1M36 207h1M43 207h1M47 207h1M80 207h1M4 208h1M8 208h1M10 208h1M18 208h1M25 208h1M61 208h1M76 208h1M3 209h2M17 209h1M23 209h1M84 209h1M0 210h1M6 210h1M9 210h2M14 210h1M18 210h1M39 210h1M64 210h1M80 210h1M84 210h1M12 211h1M56 211h1M89 211h1M4 212h1M13 212h1M19 212h1M23 212h1M26 212h1M35 212h1M47 212h2M76 212h1M11 213h1M15 213h2M22 213h1M25 213h1M27 213h1M4 214h1M12 214h1M23 214h1M34 214h1M50 214h1M27 215h1M35 215h1M70 215h1M87 215h1M9 216h1M12 216h1M26 216h1M45 216h1M85 216h1M87 216h1M2 217h1M11 217h1M19 217h1M25 217h1M74 217h1M0 218h1M8 218h1M21 218h1M31 218h1M46 218h1M87 218h1M0 219h1M4 219h1M23 219h1M30 219h1M34 219h1M37 219h1M60 219h1M16 220h1M23 220h1M36 220h1M62 220h1M18 221h1M5 222h1M29 222h1M69 222h1M19 223h1M35 223h1M34 224h1M66 224h1M28 228h1M36 228h1M42 229h1M67 229h1M3 232h1M18 232h2M26 232h2M36 232h1M41 232h1M45 232h1M75 232h1M3 233h1M44 233h1M60 233h2M5 234h1M26 234h1M31 234h1M42 234h1M49 234h1M62 234h1M25 235h1M84 235h1M89 235h1M2 236h1M18 236h1M34 236h1M43 236h1M46 236h1M70 236h1M80 236h1M87 236h1M1 237h1M24 237h1M35 237h1M48 237h1M2 238h1M5 238h1M18 238h1M22 238h1M26 238h1M45 238h1M81 238h1M1 239h1M8 239h1M11 239h1M55 239h1M68 239h1M26 240h1M33 240h1M62 240h1M70 240h1M74 240h1M78 240h1M83 240h1M10 241h1M15 241h1M17 241h1M19 241h1M24 241h1M34 241h1M41 241h1M47 241h1M4 242h1M12 242h1M20 242h1M29 242h1M31 242h1M40 242h1M43 242h1M76 242h1M13 243h1M20 243h1M29 243h1M31 243h1M48 243h1M27 244h1M50 244h1M22 245h1M25 245h1M29 245h1M35 245h1M37 245h1M10 246h1M40 246h1M67 246h1M16 247h1M18 247h1M54 247h1M63 247h1M68 247h2M25 248h1M48 248h1M62 248h1M39 249h1M45 249h1M74 249h1M77 249h1M6 250h1M89 250h2M17 251h1M51 251h1M37 252h1M44 252h1M74 252h1M2 253h1M11 253h1M43 254h1M57 255h1M62 255h1M64 255h1M88 255h1M45 256h1M89 256h1M8 257h1M33 258h1M45 258h1M12 259h1M25 259h1M49 259h1M65 259h1M73 259h1M31 260h1M45 260h1M63 260h1M35 261h1M50 261h1M56 261h1M62 261h1M13 262h1M45 262h1M34 263h1M87 263h1M35 264h2M58 264h1M64 264h1M13 265h1M39 265h1M45 265h1M53 265h1M60 266h1M68 266h1M75 266h2M8 267h1M11 267h1M31 267h1M33 267h1M55 267h1M66 267h1M15 268h1M24 268h1M33 268h1M55 268h1M60 268h1M70 268h2M16 269h1M24 269h1M53 269h1M54 270h1M67 270h1M17 271h1M56 271h1M66 271h1M69 271h1M73 271h1M34 272h1M45 272h1M28 280h1M0 281h1M15 282h1M58 282h1M36 283h1M53 283h1M84 283h1M48 284h1M56 285h1M90 285h1M18 289h1M88 289h1M83 290h1M86 290h1M59 291h2M63 291h1M66 291h1M80 291h1M60 292h1M63 292h1M73 292h1M82 292h1M62 293h2M74 294h1M76 294h1M59 295h1M64 295h1M88 295h1M52 296h1M39 297h1M47 297h1M65 297h1M81 297h1M87 297h1M41 298h1M59 298h1M65 298h1M69 298h1M86 298h1M35 299h1M54 299h1M58 299h1M86 299h1M55 300h1M64 300h1M74 300h1M23 301h1M55 301h1M2 302h1M28 302h1M40 302h1M29 303h1M59 303h1M6 304h1M13 304h1M21 304h1M26 304h1M36 304h1M62 304h1M10 305h1M26 305h1M28 305h1M43 305h1M74 305h2M16 306h1M21 306h1M33 306h1M38 306h1M40 306h1M46 306h1M60 306h1M7 307h1M49 307h1M53 307h1M8 308h2M33 308h1M42 308h1M2 309h1M88 309h1M90 309h1M57 310h1M11 311h1M50 311h1M63 311h1M68 311h1M8 312h1M28 312h1M57 312h1M29 313h1M35 313h2M39 313h1M63 313h1M66 313h1M0 314h1M67 315h1M33 316h1M50 316h1M73 316h1M72 317h1M54 318h1M57 318h1M3 319h1M65 321h1M78 323h1M84 323h1M88 323h2M7 324h1M9 324h1M20 324h1M22 324h1M44 324h1M57 324h1M60 325h1M70 325h1M83 325h1M31 326h1M80 326h2M8 327h1M53 327h1M79 327h1M11 328h1M78 328h1M1 329h1M68 329h1M78 329h1M34 330h1M78 330h1M77 331h1M84 331h1M0 332h1M79 333h1M81 333h1M83 334h1M87 335h1M77 336h1M79 336h1M78 337h2M85 337h1M77 339h1M82 340h1M85 340h1M82 341h1M87 341h1M79 342h1M84 342h1M79 344h1M89 344h1M2 374h1M28 374h1M30 377h1M58 377h1M38 379h1M60 380h1M57 382h1M67 383h1M4 384h1M48 385h1"/>
<path stroke="#df5547" d="M15 1h1M71 1h1M89 1h1M64 2h1M89 2h1M77 3h1M79 3h2M86 3h1M83 4h1M71 5h1M12 6h1M81 7h2M86 7h1M54 8h1M59 8h1M89 8h1M23 9h1M59 9h1M78 10h1M81 10h1M84 10h1M87 10h1M80 11h2M83 11h1M77 12h1M81 12h2M85 12h1M77 13h1M80 13h2M89 14h1M18 15h1M41 15h1M47 15h1M55 15h1M58 15h1M79 15h1M35 16h1M37 16h1M82 16h2M86 16h1M11 17h1M18 17h1M63 17h1M80 18h2M83 18h1M89 19h1M79 21h1M89 21h1M81 22h1M82 23h1M49 24h1M51 24h1M79 24h1M89 24h1M80 26h1M85 26h1M1 27h1M31 27h1M61 27h1M89 27h1M35 28h1M37 28h1M47 28h1M84 28h1M90 28h1M0 29h1M2 29h1M45 29h1M68 29h1M24 30h2M39 30h1M72 30h1M78 30h1M80 30h1M89 30h1M50 31h1M68 31h1M8 32h1M11 32h1M19 32h2M24 32h1M27 32h1M30 32h1M38 32h1M44 32h1M83 32h1M85 32h1M9 33h1M25 33h1M31 33h1M63 33h1M68 33h1M81 33h1M83 33h1M85 33h1M7 34h1M27 34h1M61 34h1M70 34h1M77 34h1M81 34h1M86 34h1M14 35h1M71 35h1M0 36h1M38 36h1M54 36h1M76 36h1M81 36h1M67 37h1M16 38h1M18 38h1M51 38h1M62 38h1M12 39h1M16 39h1M29 39h1M39 39h1M42 39h1M59 39h1M62 39h1M73 39h1M83 39h1M88 39h1M8 40h1M29 40h2M60 40h1M65 40h1M7 41h1M9 41h2M19 41h1M27 41h1M40 41h1M68 41h1M17 42h1M29 42h1M52 42h1M56 42h1M70 42h1M24 43h1M43 43h1M63 43h2M89 43h1M33 44h1M47 44h1M50 44h1M52 44h2M58 44h1M67 44h1M20 45h1M26 45h1M30 45h1M35 45h1M50 45h2M58 45h1M63 45h1M69 45h1M0 46h1M19 46h1M30 46h1M32 46h1M56 46h1M59 46h1M66 46h1M70 46h1M78 46h2M87 46h1M51 47h1M55 47h1M60 47h1M78 47h1M85 47h1M11 48h1M40 48h1M48 48h1M55 48h3M59 48h1M64 48h1M75 48h1M22 49h1M33 49h1M50 49h1M68 49h1M70 49h1M6 50h1M8 50h1M54 50h1M76 50h1M83 50h1M1 51h1M7 51h1M29 51h1M49 51h1M66 51h1M70 51h1M78 51h1M85 51h1M30 52h1M68 52h1M74 52h1M76 52h1M81 52h1M7 53h1M11 53h1M22 53h1M34 53h1M42 53h1M46 53h1M66 53h1M79 53h1M87 53h1M9 54h1M42 54h1M54 54h1M74 54h1M57 55h1M65 55h2M12 56h1M15 56h1M35 56h1M43 56h1M47 56h1M67 56h1M71 56h1M84 56h1M7 57h1M51 57h1M57 57h1M69 57h1M71 57h1M0 58h1M38 58h1M42 58h1M58 58h1M71 58h2M79 58h1M84 58h1M38 59h1M89 59h1M12 60h1M29 60h1M33 60h1M83 60h1M85 60h1M11 61h1M25 61h1M55 61h1M60 61h1M83 61h1M3 62h1M38 62h1M57 62h1M61 62h1M70 62h1M84 62h1M90 62h1M9 63h1M15 63h1M42 63h1M56 63h1M90 63h1M23 64h1M38 64h1M53 64h1M55 64h2M62 64h2M70 64h1M85 64h1M87 64h1M50 65h1M60 65h1M69 65h1M83 65h1M2 66h2M14 66h1M49 66h1M53 66h2M67 66h1M77 66h1M80 66h2M6 67h1M9 67h1M14 67h1M39 67h1M68 67h1M76 67h1M0 68h1M13 68h1M19 68h1M24 68h1M30 68h1M45 68h1M64 68h1M75 68h1M87 68h1M9 69h1M20 69h1M22 69h1M29 69h1M61 69h1M74 69h1M89 69h1M29 70h1M33 70h1M38 70h1M47 70h1M59 70h1M64 70h2M81 70h1M3 71h1M17 71h1M32 71h1M37 71h1M41 71h1M63 71h1M71 71h2M3 72h1M26 72h1M29 72h1M34 72h1M45 72h1M57 72h1M59 72h1M77 72h2M84 72h1M33 73h1M61 73h1M72 73h1M86 73h1M7 74h1M30 74h1M32 74h1M43 74h1M53 74h1M59 74h1M71 74h1M74 74h1M79 74h1M81 74h1M20 75h1M47 75h1M78 75h1M82 75h1M15 76h1M38 76h1M42 76h1M73 76h2M78 76h1M6 77h1M57 77h1M60 77h1M77 77h1M85 77h2M89 77h1M10 78h1M28 78h1M34 78h1M70 78h1M84 78h1M13 79h1M21 79h1M23 79h1M27 79h1M32 79h1M37 79h1M52 79h1M54 79h1M60 79h1M7 80h1M48 80h1M67 80h1M71 80h1M78 80h1M55 81h1M57 81h2M79 81h1M84 81h1M87 81h1M1 82h1M18 82h1M25 82h1M53 82h1M59 82h1M65 82h1M83 82h1M7 83h1M10 83h1M16 83h1M21 83h1M42 83h1M67 83h1M83 83h3M23 84h1M32 84h1M70 84h1M73 84h1M77 84h2M80 84h1M82 84h1M50 85h1M76 85h1M2 86h1M10 86h1M13 86h1M20 86h1M49 86h1M51 86h1M56 86h1M58 86h1M64 86h1M68 86h1M80 86h1M84 86h1M86 86h1M43 87h1M52 87h1M56 87h1M59 87h1M69 87h1M83 87h1M88 87h1M8 88h1M25 88h1M32 88h1M55 88h1M66 88h1M72 88h1M78 88h2M13 89h1M15 89h1M21 89h1M50 89h1M79 89h1M86 89h1M18 90h1M55 90h1M80 90h1M48 91h1M72 91h1M82 91h1M7 92h1M29 92h1M13 93h1M31 93h1M60 93h1M66 93h1M1 94h1M41 95h1M55 95h1M74 95h1M7 96h1M71 96h1M78 96h1M36 97h1M48 97h1M51 97h1M58 97h1M66 97h2M72 97h1M82 97h1M2 98h1M4 98h1M20 98h1M58 98h1M70 99h1M75 99h1M82 100h1M7 101h1M46 101h1M55 101h1M64 101h1M80 101h1M78 102h1M81 102h2M38 111h1M68 111h1M76 111h1M82 111h1M62 112h1M71 112h1M79 113h1M82 113h1M78 114h1M83 114h1M83 117h1M86 117h1M63 118h1M83 118h1M53 119h1M59 119h1M88 119h1M90 119h1M9 120h1M41 120h1M4 121h1M21 121h1M37 121h1M65 121h1M14 122h1M52 122h1M1 124h1M67 124h1M44 125h1M60 125h1M67 125h1M76 125h1M65 126h1M84 126h1M89 126h1M33 127h1M36 127h1M77 127h1M79 127h1M45 128h1M52 128h1M60 128h1M80 128h1M82 128h1M84 128h1M4 129h1M81 129h1M79 130h2M71 131h1M80 131h2M80 132h2M87 132h1M89 132h1M10 133h1M79 133h1M76 134h1M79 134h1M81 134h1M86 136h1M89 136h1M78 137h1M87 137h1M89 137h1M82 138h2M85 138h1M82 139h1M78 140h1M82 140h1M78 141h1M87 142h1M81 143h1M85 143h1M81 144h1M84 144h1M80 145h1M85 145h1M79 146h1M87 146h1M83 147h2M86 147h1M80 148h1M87 148h1M86 149h2M78 150h1M85 150h1M79 151h1M81 151h1M80 153h1M86 153h1M80 154h1M84 155h1M86 155h1M81 156h1M87 157h1M84 158h1M89 158h1M81 160h1M77 161h2M81 162h1M80 165h1M10 168h1M3 169h1M27 169h1M32 169h2M36 169h1M48 169h1M10 170h1M13 170h1M21 170h1M27 170h1M44 170h1M5 171h1M22 171h1M38 171h1M41 171h1M60 171h1M0 172h1M9 172h1M28 172h1M48 172h1M3 173h1M9 173h1M11 173h1M16 173h1M33 173h1M88 173h1M3 174h1M9 174h1M31 174h1M33 174h1M37 174h1M52 174h1M0 175h2M6 175h1M11 175h1M21 175h1M29 175h1M23 176h2M38 176h1M42 176h1M20 177h2M23 177h1M41 177h2M1 178h1M5 178h1M8 178h1M11 178h1M19 178h1M28 178h1M30 178h2M33 178h1M48 178h1M2 179h1M34 179h1M36 179h1M38 179h1M52 179h1M75 179h1M11 180h1M24 180h1M34 180h1M39 180h1M32 182h1M34 182h1M38 183h1M53 183h1M76 183h1M1 184h1M3 184h1M7 184h3M34 184h2M7 185h1M8 186h2M24 186h1M35 186h1M18 187h1M21 187h1M42 187h1M49 187h1M56 187h1M4 188h1M31 188h1M3 189h1M5 189h2M10 189h1M14 189h1M45 189h1M48 189h1M6 190h1M10 190h1M13 190h1M44 190h1M31 191h1M8 192h1M13 192h1M18 192h1M38 192h1M59 192h1M5 193h1M14 193h2M23 193h2M33 193h1M40 193h2M0 194h1M2 194h2M7 194h2M14 194h1M37 194h1M0 195h1M3 195h1M8 195h1M25 195h1M36 195h1M38 195h1M19 196h1M37 196h1M51 196h1M0 197h2M5 197h1M12 197h1M33 197h1M38 197h1M40 197h1M54 197h1M70 197h1M10 198h2M20 199h1M35 199h1M48 199h1M51 199h1M23 200h1M31 200h2M7 201h1M9 201h1M12 201h1M23 201h1M27 201h1M47 201h1M49 201h1M56 201h1M63 201h1M18 202h1M32 202h1M36 202h2M44 202h1M48 202h1M26 203h1M41 203h2M48 203h1M66 203h1M2 204h1M39 204h1M45 204h1M71 204h1M2 205h1M8 205h1M14 205h1M19 205h1M32 205h1M41 205h1M55 205h1M74 205h1M13 206h1M17 206h1M21 206h2M30 206h3M81 206h1M86 206h1M9 207h1M24 207h1M32 207h1M41 207h1M83 207h2M86 207h1M20 208h1M45 208h1M66 208h1M11 209h1M14 209h2M22 209h1M30 209h1M34 209h1M41 209h1M44 209h1M64 209h1M80 209h1M83 209h1M4 210h1M7 210h1M23 210h1M32 210h1M71 210h1M14 211h1M26 211h1M5 212h1M25 212h1M27 212h1M36 212h2M40 212h1M61 212h1M3 213h2M6 213h1M14 213h1M18 213h1M8 214h1M21 214h1M82 214h1M3 215h2M41 215h1M10 216h2M15 216h1M18 216h1M24 216h1M39 216h1M43 216h1M79 216h1M4 217h1M22 217h1M24 217h1M28 217h1M35 217h1M38 217h1M56 217h1M12 218h1M18 218h1M28 218h1M36 218h1M20 219h1M77 219h1M4 220h1M11 220h1M81 220h1M22 221h1M25 221h1M29 221h1M4 222h1M18 222h1M53 222h1M6 223h1M31 223h1M49 223h1M28 226h1M16 227h1M22 228h1M38 228h1M57 228h1M32 229h1M38 231h1M29 232h1M30 233h1M46 233h1M62 233h1M13 234h1M17 234h1M36 234h1M57 234h1M63 234h1M2 235h1M33 235h1M53 235h1M20 236h1M24 236h1M14 237h1M42 237h1M44 237h1M50 237h1M74 237h1M77 237h1M82 237h1M9 238h1M17 238h1M70 238h2M82 238h1M3 239h1M36 239h1M51 239h1M6 240h1M8 240h1M24 240h1M5 241h1M20 241h1M36 241h1M25 242h1M38 242h1M49 242h1M27 243h1M37 243h1M39 243h1M60 243h1M0 244h2M11 244h2M20 244h1M39 244h1M45 244h1M59 245h1M17 246h1M20 246h1M32 246h1M39 246h1M47 246h1M69 246h1M15 247h1M22 247h1M27 247h1M32 247h2M36 247h1M45 247h1M51 247h1M55 247h1M66 247h1M1 248h1M6 248h1M34 248h2M38 248h1M57 248h1M88 248h1M3 249h1M11 249h2M23 249h1M28 249h1M42 249h2M47 249h1M65 249h1M11 250h1M17 250h1M30 250h1M38 250h1M63 250h1M78 250h1M16 251h1M33 251h1M39 251h1M56 251h1M1 252h1M3 252h1M34 252h1M63 252h1M69 252h1M34 253h1M54 253h1M64 253h1M23 254h2M28 254h1M36 254h1M70 254h1M90 254h1M21 255h1M90 255h1M10 256h1M35 256h1M39 256h1M5 257h1M49 257h1M68 257h1M10 258h2M31 258h1M62 258h1M5 259h1M8 259h1M12 260h1M4 261h1M52 261h1M68 261h1M71 261h1M74 261h1M70 262h1M90 262h1M13 263h1M60 263h1M65 263h1M72 263h1M76 263h1M10 264h1M27 264h1M45 264h1M89 264h1M31 265h1M68 265h2M2 266h1M41 266h1M71 266h1M73 266h1M65 267h1M72 267h1M88 267h1M1 268h1M7 268h1M58 268h1M72 268h1M13 269h1M52 269h1M58 269h1M60 269h1M66 269h1M3 270h1M18 270h1M53 270h1M63 270h1M65 270h1M80 270h1M16 271h1M20 271h1M31 271h1M54 271h1M90 271h1M50 272h1M56 272h1M59 272h1M63 272h1M73 272h1M15 280h1M81 280h1M53 281h1M68 281h1M42 282h1M64 282h1M8 283h1M12 283h1M59 283h1M66 283h1M2 284h1M15 284h1M63 284h1M66 284h1M72 284h1M62 285h1M66 285h1M67 289h1M32 290h1M50 290h1M63 290h1M69 290h1M73 290h2M84 290h1M61 291h1M64 291h1M86 291h1M50 292h1M65 292h1M70 292h1M80 292h1M57 293h1M65 293h1M85 293h1M54 294h1M58 294h1M56 295h1M60 295h1M81 295h1M50 296h1M58 296h1M1 297h1M79 297h1M82 297h1M88 297h1M68 298h1M73 298h1M75 298h1M39 299h1M57 299h1M71 299h1M19 300h1M59 300h1M63 300h1M14 301h1M0 302h1M21 303h1M56 303h1M70 303h1M52 304h1M0 305h1M4 305h1M7 305h1M66 305h1M70 305h1M11 306h1M16 307h1M25 307h1M58 307h1M60 307h1M38 308h1M66 308h1M75 308h1M16 309h2M36 309h1M48 309h1M1 310h1M29 310h1M54 310h1M70 310h1M56 311h2M32 312h2M49 312h1M47 313h1M34 314h1M69 315h1M62 316h1M68 318h1M74 322h1M2 323h1M70 324h1M90 324h1M22 325h1M29 325h1M33 325h1M79 325h1M84 325h1M15 326h1M34 326h1M65 326h1M24 327h1M62 327h1M80 328h1M20 329h1M33 329h1M81 329h1M84 329h1M77 330h1M84 330h1M6 331h1M29 333h1M36 333h1M77 333h1M78 334h1M80 334h1M82 334h1M89 334h1M85 335h1M78 338h1M83 338h1M86 338h1M78 339h1M80 340h1M85 341h1M80 342h1M77 344h1M82 344h1M61 372h1M29 373h1M45 375h1M71 379h1M90 386h1"/>
<path stroke="#d73e36" d="M29 0h1M39 0h1M54 0h1M85 0h2M89 0h1M47 1h1M88 2h1M53 3h1M86 4h1M28 5h1M85 5h1M80 6h1M65 7h1M71 8h1M84 8h1M25 9h1M39 9h1M57 9h1M86 9h1M69 10h1M86 10h1M79 12h1M83 12h1M79 13h1M82 13h1M87 13h1M78 14h1M37 15h1M77 15h1M82 15h2M8 16h1M11 16h1M31 16h1M76 16h1M79 16h1M87 16h1M89 16h1M6 17h1M78 17h1M87 17h1M89 17h1M84 18h1M82 20h1M87 20h1M80 22h1M85 22h1M85 23h1M8 25h1M78 25h1M80 25h1M84 25h1M89 25h1M86 26h1M89 26h1M11 27h1M24 27h1M68 27h1M79 27h2M1 28h1M15 28h1M24 28h1M50 28h1M53 28h1M62 28h1M75 28h1M85 28h1M89 28h1M58 29h1M66 29h1M79 29h1M82 29h1M22 30h1M33 30h1M10 31h1M17 31h1M62 31h1M80 31h1M87 31h1M63 32h1M68 32h1M77 32h1M89 32h1M64 34h1M68 34h1M89 34h1M15 35h1M48 35h1M68 35h1M51 36h1M61 37h1M24 38h1M45 38h1M54 38h1M76 38h1M63 39h1M24 40h1M52 40h1M56 40h1M69 40h1M71 40h1M1 41h2M51 41h1M56 41h1M69 41h2M1 42h1M11 42h1M55 42h1M75 42h1M84 42h1M1 43h1M34 43h1M60 43h1M71 43h1M73 43h1M76 43h1M81 43h1M20 44h1M29 44h2M54 44h1M73 44h1M25 45h1M70 45h1M2 47h1M26 47h2M68 47h1M18 48h1M25 48h1M28 48h1M36 48h1M53 48h1M62 48h1M74 48h1M53 49h1M56 49h1M67 49h1M29 50h1M34 50h1M39 50h1M48 50h1M53 50h1M56 50h1M61 50h1M21 51h1M68 51h1M17 52h1M50 52h1M75 52h1M3 53h1M8 53h1M27 53h1M40 53h1M52 53h1M76 53h1M80 53h1M2 54h1M50 54h1M79 54h1M70 55h1M6 56h1M60 56h1M81 56h1M86 56h1M22 57h1M34 57h1M48 57h2M81 57h1M89 57h1M25 58h1M56 58h1M85 58h1M90 58h1M6 59h1M77 59h1M85 59h2M0 60h1M46 60h1M70 60h1M59 61h1M62 61h1M74 61h1M89 61h1M10 62h2M37 62h1M47 62h1M51 62h1M62 62h1M75 62h1M31 63h1M65 63h1M70 63h1M83 63h1M20 65h1M46 65h1M64 65h1M82 65h1M16 66h1M22 66h1M89 66h1M19 67h1M21 67h1M49 67h1M55 67h1M63 67h1M81 67h1M89 67h1M12 68h1M33 68h1M48 68h1M50 68h2M60 68h1M62 68h1M65 68h1M33 69h1M63 69h1M68 69h1M82 69h1M1 70h1M27 70h1M35 70h1M51 70h1M60 70h1M68 70h1M70 70h1M75 70h1M89 70h1M51 71h1M66 71h1M70 71h1M80 71h1M82 71h1M4 72h1M13 72h1M20 72h1M58 72h1M64 72h1M82 72h1M85 72h1M6 73h1M19 73h3M24 73h1M38 73h1M45 73h1M47 73h1M54 73h1M71 73h1M76 73h1M19 74h1M49 74h1M44 75h1M54 75h1M66 75h1M4 76h2M3 77h1M22 77h1M42 77h1M53 77h4M74 77h1M53 78h1M85 78h1M38 79h1M69 79h1M74 79h1M12 80h1M25 80h1M35 80h1M51 80h1M58 80h1M77 80h1M82 80h1M35 81h1M40 81h1M74 81h1M81 81h1M21 82h1M24 82h1M34 82h1M38 82h2M62 82h1M15 83h1M40 83h1M82 83h1M8 84h1M13 84h1M31 84h1M46 84h1M57 84h1M74 84h1M84 84h1M89 84h1M12 85h1M35 85h1M41 85h1M53 85h2M81 85h2M18 86h1M32 86h3M48 86h1M59 86h1M76 86h1M81 86h1M7 87h1M76 87h1M44 88h1M63 88h1M68 88h1M8 89h1M18 89h1M52 89h1M57 89h1M77 89h1M83 89h1M4 90h1M8 90h1M20 90h1M23 90h1M39 90h2M26 91h1M77 91h1M83 91h1M43 92h1M78 92h1M48 93h1M82 93h1M39 94h1M81 94h1M85 94h1M47 95h1M53 95h1M60 95h1M19 96h1M29 96h1M53 96h1M66 96h1M68 96h1M5 98h1M27 98h1M88 99h1M11 100h1M51 100h1M38 101h2M23 102h1M37 102h1M49 102h1M72 102h1M74 102h1M89 109h1M52 111h1M50 112h1M80 117h2M6 118h1M39 118h1M61 118h1M27 121h1M60 121h1M0 122h1M65 122h1M70 122h1M62 123h1M42 124h1M74 125h1M77 126h1M82 126h1M81 127h1M79 128h1M77 129h1M80 129h1M82 129h1M84 129h1M87 129h1M71 130h1M86 130h1M85 131h1M83 132h1M84 133h1M78 134h1M86 134h2M77 137h1M79 137h1M85 137h1M78 139h2M89 139h1M85 140h1M87 141h1M77 142h3M84 142h2M77 144h1M80 144h1M77 145h2M89 145h1M78 146h1M81 146h2M80 147h1M78 148h1M81 148h1M83 148h2M84 149h1M80 150h1M82 150h1M80 151h1M83 151h1M86 151h1M77 152h2M80 152h1M82 152h1M87 152h1M89 152h1M83 153h1M87 153h1M83 154h1M89 154h1M79 155h1M87 155h1M79 158h1M83 158h1M82 161h1M84 161h1M87 167h1M3 168h1M17 169h1M21 169h1M0 170h1M22 170h1M36 170h1M3 171h1M25 171h1M50 171h1M16 172h1M21 172h1M26 172h2M38 172h1M41 172h1M6 173h1M15 173h1M18 173h2M41 173h1M51 173h1M5 174h1M11 174h1M38 174h1M19 175h1M22 175h1M40 175h1M42 175h1M46 175h1M7 176h1M9 176h1M19 176h1M22 176h1M32 176h1M39 176h1M12 177h1M26 177h2M49 177h1M2 178h1M7 178h1M9 178h1M16 178h1M38 178h1M6 179h1M19 179h1M26 179h1M45 179h1M49 179h1M21 180h1M6 181h1M22 181h1M28 181h1M41 181h1M44 181h1M41 182h1M48 182h1M19 183h1M25 183h1M29 183h1M42 183h1M15 184h1M23 184h1M45 184h1M62 184h1M8 185h1M14 185h1M25 185h1M28 185h1M32 185h1M38 185h1M46 185h1M88 185h1M4 187h1M24 187h1M28 187h1M47 187h1M1 188h1M6 188h1M8 188h1M24 188h1M30 188h1M36 188h1M17 189h1M20 189h1M28 189h1M23 190h1M37 190h1M32 191h1M39 191h1M68 191h1M4 193h1M38 193h1M9 194h1M6 195h1M12 195h1M9 196h2M21 196h1M25 196h1M27 196h1M38 196h1M4 197h1M6 197h1M29 197h1M34 197h1M65 197h1M9 198h1M25 198h1M28 198h1M42 198h1M48 198h1M3 199h1M6 199h1M9 199h1M11 199h1M31 199h1M0 200h1M10 200h1M13 200h1M18 200h1M29 200h1M39 200h1M45 200h1M48 200h1M58 200h1M5 201h2M29 201h1M34 201h1M72 201h1M9 202h1M24 202h1M33 202h1M4 203h2M6 204h1M26 204h1M29 204h1M31 204h1M5 205h1M13 205h1M31 205h1M36 205h1M39 205h1M0 206h1M12 206h1M43 206h1M85 206h1M5 207h1M17 207h1M19 207h1M49 207h1M16 208h1M44 208h1M74 208h1M7 209h1M60 209h1M66 209h1M17 210h1M25 210h1M37 210h1M5 211h1M3 212h1M21 212h2M5 213h1M36 213h1M58 213h1M70 213h1M80 213h1M1 214h1M5 214h1M36 214h1M42 214h1M48 214h1M54 214h1M74 214h1M84 214h1M22 215h1M53 215h1M78 215h1M7 216h1M33 216h1M36 216h1M13 217h1M15 217h1M20 217h1M77 217h1M1 218h1M10 218h1M15 218h1M30 218h1M16 219h1M0 220h1M18 220h1M39 221h1M41 221h1M89 221h1M9 222h1M15 222h1M38 222h1M44 222h1M75 222h1M1 224h1M23 224h1M28 224h1M14 226h1M45 226h1M47 226h1M35 228h1M3 230h1M38 232h1M43 232h1M8 233h1M25 233h1M32 233h1M64 233h1M16 234h1M19 234h1M23 234h1M34 234h1M40 234h2M46 234h1M58 234h1M18 235h1M35 235h1M43 235h1M25 236h1M29 236h1M41 236h1M18 237h1M41 237h1M45 237h1M44 238h1M63 238h1M78 238h1M80 238h1M10 239h1M37 239h1M87 239h1M27 240h1M29 241h1M32 243h1M66 243h1M33 244h1M35 244h1M58 244h1M18 245h1M33 245h1M57 245h1M6 246h1M38 246h1M74 246h1M11 247h1M56 247h1M61 248h1M66 248h1M2 249h1M24 249h1M59 249h1M27 250h1M54 250h2M30 251h1M41 251h1M8 252h1M24 252h1M26 252h1M28 252h1M42 253h1M51 253h1M55 253h1M70 253h1M40 254h1M65 254h1M13 255h1M25 255h1M37 255h1M71 255h1M57 256h1M9 257h1M88 257h1M5 258h1M69 258h1M45 259h1M54 259h1M72 259h1M89 259h1M54 260h1M71 260h1M73 260h1M49 261h1M72 262h1M36 263h1M89 263h1M90 264h1M30 265h1M55 265h1M16 266h1M23 266h1M62 266h2M88 266h1M3 267h1M34 267h1M52 267h1M63 267h1M50 268h1M88 268h1M6 269h1M50 269h1M55 269h3M61 269h1M31 270h1M60 270h1M70 270h1M50 271h1M59 271h2M62 271h1M71 271h1M27 272h1M74 272h1M58 281h1M66 281h1M71 281h1M44 283h1M54 283h1M24 284h1M50 284h1M70 284h1M75 284h1M10 285h1M72 285h1M57 289h1M68 290h1M75 290h1M56 291h1M58 291h1M57 292h1M61 292h1M14 293h1M69 293h2M82 294h1M55 295h1M70 296h1M82 296h1M70 297h1M75 297h1M89 297h1M79 298h1M21 299h1M53 299h1M66 300h1M77 300h1M44 301h1M58 301h1M10 302h1M74 302h1M25 303h2M42 303h1M62 303h1M19 305h1M31 305h1M51 305h1M59 305h1M68 305h1M71 305h1M27 306h1M62 306h1M51 307h1M56 307h1M76 307h1M88 307h1M5 308h1M14 308h1M27 308h1M88 308h1M4 309h1M11 309h1M33 309h1M41 309h1M13 310h1M16 310h1M38 310h1M53 310h1M23 311h1M35 311h1M53 311h2M60 311h1M64 311h2M70 311h1M30 312h1M56 312h1M3 313h1M5 313h1M40 313h1M71 315h1M15 317h1M35 317h1M27 323h1M29 323h1M83 323h1M82 324h1M40 326h1M71 327h1M85 327h1M77 328h1M84 328h1M87 328h1M60 329h1M53 330h1M61 330h1M81 330h1M15 331h1M23 331h1M42 331h1M58 331h1M82 331h1M75 332h1M80 332h1M4 333h1M18 333h1M78 333h1M87 334h1M89 336h1M86 337h1M81 338h2M79 339h1M89 339h1M80 341h1M78 342h1M81 342h1M81 343h2M89 343h1M81 344h1M85 344h1M59 372h1M39 373h1M66 375h1"/>
<path stroke="#d1322f" d="M50 0h1M65 0h1M83 0h1M29 1h1M53 1h1M59 1h1M77 1h1M82 1h1M86 1h1M78 2h2M81 2h1M84 2h2M87 2h1M58 4h1M80 4h1M87 4h1M89 4h1M24 5h1M44 5h1M78 5h1M82 5h1M84 5h1M89 5h1M79 6h1M85 6h1M89 6h1M78 7h3M85 7h1M77 8h1M79 8h1M81 8h3M86 8h1M65 9h1M78 9h1M81 9h1M3 10h1M50 10h1M77 10h1M79 11h1M87 11h1M84 12h1M78 13h1M89 13h1M84 14h1M11 15h1M78 15h1M85 15h1M87 15h1M53 16h1M55 16h1M4 17h1M20 17h1M80 17h2M86 17h1M78 18h2M77 19h1M83 21h1M87 22h1M80 23h1M78 24h1M83 24h2M86 24h1M69 25h1M77 25h1M81 25h2M87 25h1M77 27h2M81 27h1M84 27h1M86 27h1M6 28h1M11 28h1M32 28h1M54 28h1M79 28h1M81 28h2M86 28h1M59 29h1M74 29h1M77 29h1M81 29h1M85 29h2M48 30h1M58 30h1M67 30h1M77 30h1M86 30h1M2 31h1M75 31h1M78 31h2M85 31h2M60 32h1M71 32h1M80 32h2M84 32h1M88 32h1M41 33h1M78 33h1M82 33h1M89 33h1M43 34h1M53 34h1M69 34h1M79 34h1M83 34h1M6 35h1M27 35h1M3 36h1M8 36h1M24 36h1M29 36h1M48 36h1M55 36h1M22 37h1M31 37h1M40 38h1M67 38h1M31 39h1M51 39h1M64 39h1M69 39h1M11 40h1M17 40h1M41 40h1M35 42h1M44 42h1M36 43h1M68 43h1M37 44h1M49 44h1M76 44h1M89 44h1M2 46h1M25 46h1M53 46h1M89 46h1M14 48h1M16 48h1M20 48h1M61 48h1M66 48h1M88 48h1M90 48h1M73 49h1M55 50h1M52 51h1M63 51h1M15 52h1M35 53h1M64 53h1M70 53h1M73 53h1M90 53h1M23 54h1M75 54h1M52 55h1M75 55h1M61 56h1M63 56h1M83 56h1M23 58h1M70 58h1M60 59h1M71 59h1M54 60h1M75 60h1M10 61h1M13 61h1M41 61h1M71 61h1M76 61h1M13 62h1M19 62h1M56 62h1M65 62h1M85 62h1M19 63h1M27 63h1M50 64h1M64 64h1M89 64h1M24 65h1M27 65h1M48 65h1M54 65h2M5 66h1M10 66h1M55 66h1M78 66h1M28 68h1M78 68h1M65 69h1M70 69h1M86 69h1M21 70h1M69 70h1M73 70h1M88 70h1M10 71h1M14 71h1M38 71h1M50 71h1M59 71h1M68 71h1M84 71h1M14 72h1M16 72h1M40 72h1M42 73h1M56 73h1M59 73h1M79 73h1M13 74h1M42 74h1M62 74h1M76 74h1M71 75h1M74 75h1M68 76h1M75 76h1M89 76h1M61 77h1M82 77h1M44 78h1M54 78h1M78 78h1M22 79h1M44 79h1M51 79h1M53 79h1M55 79h1M10 80h1M63 80h1M68 80h1M70 80h1M74 80h1M10 81h1M62 81h1M64 81h2M82 81h1M85 81h1M10 82h1M29 82h1M74 82h1M9 83h1M38 83h2M89 83h1M16 84h1M34 84h1M56 84h1M67 84h1M18 85h1M57 85h1M63 85h1M9 86h1M57 86h1M89 86h1M49 87h1M55 87h1M81 87h1M30 88h1M49 88h1M69 88h1M77 88h1M4 89h1M27 89h1M56 89h1M52 90h1M77 90h1M69 91h1M73 91h1M71 92h1M82 92h1M85 92h1M89 92h1M36 93h1M55 93h1M87 93h1M39 95h1M44 95h1M80 95h1M84 95h1M7 97h1M11 97h1M41 97h1M55 97h1M70 97h1M30 98h1M51 98h1M52 100h1M78 100h1M44 101h1M58 101h1M66 101h1M11 102h1M41 112h1M89 112h1M55 118h1M20 119h1M65 119h1M75 120h1M4 122h1M8 122h1M24 124h1M66 126h1M15 128h1M86 128h1M5 129h1M79 129h1M85 130h1M87 130h1M79 131h1M82 131h1M87 131h1M82 132h1M86 132h1M56 133h1M77 133h1M75 134h1M80 134h1M83 134h2M89 134h1M77 135h3M81 135h2M84 135h1M86 135h1M82 136h1M85 136h1M80 137h1M84 137h1M86 137h1M77 138h1M80 139h1M80 140h2M83 140h1M77 141h1M79 141h1M85 141h2M83 142h1M79 143h1M82 143h2M85 144h1M81 145h2M84 145h1M83 146h1M81 147h1M79 148h1M78 149h1M85 149h1M89 149h1M78 151h1M87 151h1M84 152h1M78 153h1M77 154h1M85 154h1M80 155h1M78 157h1M81 157h1M84 157h1M81 158h1M85 158h1M81 165h1M87 165h1M77 167h1M8 169h1M15 169h1M28 169h1M45 169h1M47 169h1M16 170h1M28 170h2M45 170h1M47 170h1M45 171h1M40 172h1M5 173h1M40 173h1M67 173h1M0 174h1M63 174h1M8 175h1M10 175h1M23 175h1M27 175h1M1 176h1M14 176h1M40 176h1M45 176h1M32 177h1M44 177h1M0 178h1M4 178h1M14 178h1M20 178h1M61 178h1M9 179h1M14 179h2M25 179h1M28 179h1M32 179h1M69 179h1M1 180h1M8 180h1M14 180h1M25 180h1M32 180h1M46 180h1M62 181h1M49 183h1M64 183h1M4 184h1M21 184h1M32 184h1M69 184h1M90 184h1M11 185h1M15 185h1M27 185h1M47 185h1M26 186h1M29 186h1M7 187h1M14 187h1M45 187h1M48 187h1M11 188h1M14 188h1M23 188h1M34 188h1M49 188h1M39 189h1M56 189h1M7 190h1M36 190h1M45 190h1M48 190h1M7 191h2M21 191h1M2 192h1M26 192h1M41 192h1M8 193h1M22 194h1M32 194h1M42 194h1M62 194h1M35 195h1M22 196h1M9 197h1M27 197h1M90 197h1M18 198h1M34 198h1M15 199h1M22 199h1M25 199h1M2 200h1M4 200h1M26 200h1M43 200h1M18 201h1M31 201h1M2 202h1M14 202h1M45 202h1M14 203h1M83 203h1M0 204h1M27 204h1M40 204h2M6 205h1M30 205h1M38 205h1M7 206h1M15 206h2M44 206h1M1 207h1M42 207h1M38 208h1M49 208h1M69 208h1M6 209h1M10 209h1M87 210h1M21 211h1M29 212h1M87 212h1M0 213h1M2 213h1M13 213h1M11 214h1M20 214h1M33 214h1M43 214h1M64 214h1M78 214h1M38 216h1M33 217h1M39 217h1M66 217h1M2 218h1M47 218h1M12 219h1M28 219h1M28 220h1M89 220h1M75 221h1M51 231h1M70 232h1M36 233h1M43 233h1M57 233h1M12 234h1M70 234h1M23 235h1M26 235h1M44 235h1M51 235h1M6 236h1M11 236h1M36 236h1M44 236h1M62 236h1M25 237h1M39 237h1M46 239h1M0 240h1M10 240h1M34 240h1M19 242h1M59 242h1M11 243h1M35 243h1M66 244h1M10 245h2M30 245h1M52 245h1M60 245h1M52 246h1M56 246h1M57 247h1M61 247h1M27 248h1M54 248h1M64 248h1M0 249h1M13 250h1M25 250h1M60 250h1M0 254h1M20 254h1M25 254h1M65 255h1M13 256h1M34 256h1M13 257h1M35 257h1M39 257h1M89 257h1M71 259h1M88 259h1M69 260h1M51 261h1M60 261h1M12 263h1M51 263h1M62 263h1M11 266h1M57 266h1M59 266h1M69 266h1M76 267h1M90 267h1M27 270h1M22 272h1M58 272h1M64 272h1M71 272h2M50 281h1M30 282h1M66 282h1M88 282h1M38 283h1M88 285h1M56 289h1M59 289h1M66 290h1M72 290h1M15 292h1M36 293h1M32 294h1M55 294h1M90 297h1M66 299h1M38 300h1M60 300h1M13 301h1M66 301h1M75 301h1M26 302h1M43 303h1M74 303h1M8 304h1M22 304h1M25 304h1M30 306h1M74 306h1M34 308h1M60 308h1M45 309h1M56 309h1M27 310h1M35 310h1M50 310h1M56 310h1M10 311h1M12 312h1M26 312h1M42 312h1M47 312h1M51 312h1M60 312h1M68 312h1M74 312h1M59 313h1M69 313h1M75 315h1M55 316h1M33 318h1M76 320h1M51 322h2M77 324h1M3 325h1M60 326h1M66 326h1M89 326h1M77 329h1M79 329h1M83 330h1M34 331h1M10 333h1M83 333h1M77 334h1M81 335h1M80 336h1M86 336h1M77 337h1M85 339h1M78 341h1M83 341h1M77 343h1M83 343h1M86 344h1M45 373h1M87 374h1M30 378h1M70 378h1M22 381h1"/>
<path stroke="#cb2528" d="M22 0h1M37 0h1M77 0h6M84 0h1M87 0h1M78 1h4M83 1h3M87 1h1M77 2h1M82 2h2M86 2h1M78 3h1M81 3h5M87 3h1M77 4h3M81 4h2M84 4h2M77 5h1M79 5h3M83 5h1M86 5h2M77 6h2M81 6h4M86 6h2M77 7h1M83 7h2M87 7h1M78 8h1M80 8h1M85 8h1M87 8h1M60 9h1M77 9h1M79 9h2M82 9h4M87 9h1M89 9h1M79 10h2M82 10h1M85 10h1M85 11h2M78 12h1M86 12h1M80 15h2M84 15h1M86 15h1M64 16h1M77 16h1M80 16h2M84 16h2M3 17h1M15 17h1M77 17h1M83 17h2M82 18h1M87 18h1M78 19h1M82 19h1M87 19h1M82 21h1M82 22h1M77 23h1M79 23h1M77 24h1M85 24h1M87 24h1M79 25h1M83 25h1M85 25h1M77 26h2M81 26h4M87 26h1M55 27h1M82 27h1M85 27h1M87 27h1M9 28h1M25 28h1M48 28h1M77 28h2M83 28h1M87 28h1M9 29h1M71 29h1M75 29h1M78 29h1M80 29h1M83 29h2M87 29h1M23 30h1M75 30h1M79 30h1M82 30h4M87 30h1M28 31h1M33 31h1M77 31h1M81 31h1M83 31h2M89 31h1M2 32h1M62 32h1M78 32h1M82 32h1M86 32h2M53 33h1M77 33h1M79 33h2M84 33h1M86 33h2M41 34h1M80 34h1M82 34h1M84 34h2M87 34h1M58 35h1M60 35h1M6 36h1M35 36h1M53 36h1M58 36h1M62 36h1M4 37h1M46 37h1M69 38h1M76 39h1M7 40h1M9 40h1M57 40h1M9 42h1M12 42h1M22 42h1M27 42h1M9 43h1M33 43h1M40 43h1M56 43h1M1 44h1M7 44h1M10 44h2M40 44h1M71 44h1M48 45h1M56 45h1M75 46h2M53 47h1M45 48h1M69 48h1M5 49h1M45 50h1M6 51h1M56 51h1M60 52h1M88 52h1M23 53h1M43 53h1M59 53h1M63 53h1M75 53h1M3 54h1M27 54h1M38 54h1M65 54h1M31 55h1M62 56h1M36 57h1M83 57h1M34 58h1M55 58h1M29 59h1M56 59h1M66 59h1M67 60h1M78 60h1M82 61h1M1 62h1M28 62h1M54 62h2M43 63h1M43 64h1M60 64h1M23 65h1M61 65h1M65 65h1M89 65h1M50 66h1M25 68h1M89 68h1M27 69h1M39 69h1M10 70h1M12 70h2M31 70h1M48 70h1M76 70h1M9 71h1M26 71h1M35 71h1M53 71h1M75 71h1M38 72h1M62 72h1M44 73h1M9 74h1M44 74h1M46 74h1M51 74h1M3 75h1M81 75h1M54 76h1M0 77h1M5 77h1M20 78h1M81 78h1M30 79h1M67 79h1M70 79h1M75 79h1M82 79h1M89 79h1M32 80h1M64 80h1M66 80h1M89 80h1M33 81h1M52 81h1M67 81h1M70 81h1M80 81h1M15 82h1M45 82h1M70 82h1M89 82h1M50 83h1M58 83h1M65 83h1M77 83h1M90 83h1M65 84h1M38 85h1M84 85h1M11 86h1M65 86h1M70 86h1M18 87h1M50 87h1M70 87h1M87 88h1M30 89h1M51 89h1M70 89h1M49 90h1M53 90h1M56 90h1M0 91h1M45 91h1M36 92h1M73 94h1M82 94h1M82 95h1M88 95h1M44 96h1M1 98h1M11 98h1M6 100h1M37 100h1M69 101h1M83 101h1M38 102h1M64 102h1M66 102h1M77 102h1M73 111h1M60 112h1M66 112h1M77 115h1M86 115h1M0 120h1M71 120h1M58 123h1M66 123h1M6 125h1M78 126h1M82 127h1M87 127h1M59 128h1M78 128h1M81 128h1M32 129h1M83 129h1M85 129h2M58 130h1M83 131h1M86 131h1M89 131h1M78 132h2M70 133h1M80 133h1M71 134h1M80 135h1M83 135h1M85 135h1M89 135h1M77 136h2M81 136h1M82 137h1M78 138h2M81 138h1M87 138h1M85 139h1M86 140h2M77 143h2M84 143h1M78 144h1M86 145h2M77 146h1M77 147h2M77 148h1M77 149h1M79 149h2M83 149h1M79 150h1M87 150h1M77 151h1M82 151h1M82 153h1M78 154h1M82 154h1M84 154h1M77 155h1M81 155h1M83 155h1M81 159h1M82 162h1M89 164h1M78 166h1M80 166h1M87 166h1M78 167h1M24 169h1M37 169h1M41 169h1M1 170h1M7 170h2M34 170h1M10 171h1M67 172h1M20 173h1M27 173h1M13 174h1M75 174h1M9 175h1M35 175h1M37 175h1M41 175h1M45 175h1M4 176h1M12 176h1M29 176h1M48 176h1M7 177h1M9 177h1M29 177h1M48 177h1M32 178h1M7 179h1M16 179h1M29 179h1M33 179h1M35 179h1M67 179h1M11 181h2M64 182h1M8 183h1M15 183h1M27 183h1M62 183h1M13 184h1M33 184h1M6 185h1M3 186h1M27 186h2M3 187h1M3 188h1M20 188h1M31 189h1M8 190h2M39 190h1M42 190h1M13 191h1M23 191h1M0 192h1M23 192h1M33 192h1M10 193h1M28 193h1M39 193h1M16 194h1M28 194h1M29 195h1M36 196h1M14 197h1M19 197h1M7 198h1M19 198h1M7 199h2M40 199h1M3 200h1M12 200h1M0 201h1M13 201h1M15 201h1M34 202h1M12 204h1M15 205h1M1 206h1M77 206h1M82 206h1M89 206h1M13 207h1M41 208h2M2 209h1M19 209h1M28 210h1M15 211h1M49 213h1M6 214h1M15 214h1M66 214h1M19 216h1M27 216h1M82 216h1M10 217h1M27 217h1M11 218h1M22 218h1M24 218h1M33 218h1M59 218h1M10 219h1M0 221h1M10 221h1M35 221h1M14 222h1M2 224h1M12 231h1M15 233h1M26 233h1M38 233h1M45 233h1M9 235h1M14 235h1M58 235h1M69 235h1M29 237h1M25 238h1M29 238h1M34 238h1M24 239h1M78 239h1M23 240h1M46 240h1M14 242h1M35 242h1M45 243h1M72 243h1M7 244h1M36 244h1M27 245h1M49 246h1M17 247h1M19 247h1M38 247h1M17 248h1M33 248h1M34 249h1M61 249h1M1 250h1M15 250h1M61 250h1M9 252h1M49 252h1M10 254h1M27 255h1M56 256h1M90 256h1M56 257h1M13 259h1M6 260h1M45 263h1M16 265h1M55 266h1M56 267h1M58 267h1M73 267h1M53 268h1M41 270h1M57 270h1M72 270h1M55 271h1M10 272h1M68 272h1M21 282h1M27 283h1M42 283h1M64 283h1M88 283h1M4 284h1M39 284h1M54 284h1M5 285h1M47 285h1M70 289h1M84 289h1M45 290h1M53 290h1M87 290h1M88 291h1M58 295h1M71 295h1M76 295h1M19 298h1M29 301h1M8 302h1M71 302h1M8 303h1M58 303h1M8 305h1M22 305h1M33 305h1M47 305h1M24 306h1M44 306h1M68 306h1M90 306h1M24 307h1M28 307h1M38 309h1M36 310h1M3 312h1M35 312h2M45 313h1M55 313h1M74 313h1M49 314h1M54 316h1M66 322h1M85 325h1M62 326h1M37 329h1M66 330h1M45 332h1M85 336h1M81 337h1M79 338h1M81 339h1M83 339h1M89 341h1M82 342h1M27 372h1M85 374h1M57 378h1M69 378h1M28 380h1M27 381h1M70 381h1M78 383h1"/>
</g>
<path d="M1743.0 143.4L1751.9 143.4L1752.4 146.4L1752.7 149.4L1753.3 152.4L1753.2 155.4L1753.8 158.4L1752.3 161.4L1753.4 164.4L1753.8 167.4L1752.4 170.4L1752.1 173.4L1750.3 176.4L1751.4 179.4L1751.4 182.4L1752.4 185.4L1752.8 188.4L1752.1 191.4L1752.9 194.4L1753.4 197.4L1754.9 200.4L1753.9 203.4L1751.8 206.4L1752.3 209.4L1750.2 212.4L1750.5 215.4L1749.7 218.4L1749.6 221.4L1751.5 224.4L1750.4 227.4L1750.6 230.4L1752.3 233.4L1752.2 236.4L1751.2 239.4L1752.7 242.4L1752.1 245.4L1752.5 248.4L1751.7 251.4L1753.2 254.4L1752.8 257.4L1753.4 260.4L1753.4 263.4L1752.3 266.4L1752.5 269.4L1752.2 272.4L1752.2 275.4L1752.1 278.4L1752.7 281.4L1753.4 284.4L1752.2 287.4L1753.7 290.4L1753.1 293.4L1753.1 296.4L1754.2 299.4L1753.3 302.4L1752.7 305.4L1752.8 308.4L1753.0 311.4L1751.4 314.4L1753.0 317.4L1750.8 320.4L1752.0 323.4L1751.9 326.4L1750.0 329.4L1751.6 332.4L1750.9 335.4L1751.5 338.4L1750.5 341.4L1750.7 344.4L1751.1 347.4L1752.8 350.4L1751.5 353.4L1752.7 356.4L1753.2 359.4L1753.4 362.4L1752.4 365.4L1752.5 368.4L1752.9 371.4L1753.3 374.4L1751.9 377.4L1753.1 380.4L1753.1 383.4L1753.2 386.4L1751.5 389.4L1753.2 392.4L1751.4 395.4L1751.8 398.4L1752.3 401.4L1752.8 404.4L1751.6 407.4L1752.7 410.4L1751.8 413.4L1751.3 416.4L1751.2 419.4L1751.0 422.4L1751.0 425.4L1751.2 428.4L1752.4 431.4L1753.1 434.4L1751.6 437.4L1751.5 440.4L1753.5 443.4L1752.7 446.4L1752.6 449.4L1752.3 452.4L1753.2 455.4L1753.8 458.4L1753.1 461.4L1753.2 464.4L1752.6 467.4L1754.4 470.4L1752.3 473.4L1753.0 476.4L1753.4 479.4L1751.7 482.4L1752.7 485.4L1752.8 488.4L1751.9 491.4L1752.0 494.4L1750.4 497.4L1750.8 500.4L1750.1 503.4L1751.3 506.4L1750.1 509.4L1750.3 512.4L1751.2 515.4L1750.8 518.4L1750.9 521.4L1749.8 524.4L1749.7 527.4L1750.1 530.4L1749.5 533.4L1749.0 536.4L1749.2 539.4L1748.6 542.4L1749.0 545.4L1750.2 548.4L1750.0 551.4L1749.3 554.4L1749.0 557.4L1748.6 560.4L1748.1 563.4L1748.4 566.4L1749.3 569.4L1749.5 572.4L1748.4 575.4L1749.2 578.4L1749.1 581.4L1748.9 584.4L1748.8 587.4L1749.0 590.4L1748.1 593.4L1748.7 596.4L1747.9 599.4L1748.3 602.4L1748.9 605.4L1748.8 608.4L1748.1 611.4L1749.4 614.4L1748.9 617.4L1748.8 620.4L1747.7 623.4L1748.8 626.4L1748.3 629.4L1749.2 632.4L1748.8 635.4L1749.5 638.4L1749.5 641.4L1750.4 644.4L1750.1 647.4L1751.3 650.4L1752.1 653.4L1752.8 656.4L1752.5 659.4L1753.5 662.4L1753.6 665.4L1753.1 668.4L1753.7 671.4L1753.6 674.4L1752.6 677.4L1752.6 680.4L1751.8 683.4L1753.1 686.4L1753.3 689.4L1752.3 692.4L1752.7 695.4L1752.7 698.4L1752.7 701.4L1751.5 704.4L1752.7 707.4L1752.2 710.4L1752.4 713.4L1751.8 716.4L1752.2 719.4L1752.4 722.4L1752.1 725.4L1752.2 728.4L1750.8 731.4L1751.0 734.4L1751.5 737.4L1751.8 740.4L1750.6 743.4L1751.1 746.4L1750.6 749.4L1749.0 752.4L1749.5 755.4L1748.6 758.4L1748.1 761.4L1748.5 764.4L1749.1 767.4L1749.0 770.4L1749.2 773.4L1749.1 776.4L1750.2 779.4L1750.2 782.4L1750.8 785.4L1751.0 788.4L1750.5 791.4L1752.0 794.4L1750.4 797.4L1751.4 800.4L1751.1 803.4L1751.3 806.4L1750.7 809.4L1752.1 812.4L1751.1 815.4L1750.4 818.4L1751.5 821.4L1750.4 824.4L1751.3 827.4L1750.9 830.4L1751.3 833.4L1752.0 836.4L1751.7 839.4L1750.9 842.4L1751.6 845.4L1751.2 848.4L1750.7 851.4L1750.3 854.4L1751.3 857.4L1751.3 860.4L1752.2 863.4L1752.3 866.4L1751.6 869.4L1751.2 872.4L1752.4 875.4L1750.7 878.4L1751.0 881.4L1752.0 884.4L1752.1 887.4L1751.3 890.4L1752.3 893.4L1752.9 896.4L1752.0 899.4L1751.8 902.4L1751.0 905.4L1750.7 908.4L1751.7 911.4L1750.1 914.4L1750.9 917.4L1750.4 920.4L1749.3 923.4L1748.5 926.4L1750.2 929.4L1749.4 932.4L1749.4 935.4L1749.3 938.4L1750.8 941.4L1750.0 944.4L1749.8 947.4L1750.3 950.4L1749.8 953.4L1751.0 956.4L1750.8 959.4L1750.5 962.4L1751.4 965.4L1751.4 968.4L1749.8 971.4L1750.7 974.4L1750.2 977.4L1751.5 980.4L1751.1 983.4L1750.0 986.4L1750.0 989.4L1749.7 992.4L1751.3 995.4L1749.9 998.4L1750.5 1001.4L1750.3 1004.4L1750.7 1007.4L1750.7 1010.4L1751.1 1013.4L1749.9 1016.4L1751.3 1019.4L1750.5 1022.4L1751.0 1025.4L1750.7 1028.4L1750.7 1031.4L1751.2 1034.4L1751.2 1037.4L1751.0 1040.4L1751.9 1043.4L1751.7 1046.4L1750.6 1049.4L1750.9 1052.4L1751.1 1055.4L1751.9 1058.4L1751.6 1061.4L1750.7 1064.4L1749.5 1067.4L1750.8 1070.4L1749.9 1073.4L1750.0 1076.4L1750.1 1079.4L1749.7 1082.4L1749.2 1085.4L1749.9 1088.4L1748.8 1091.4L1748.9 1094.4L1749.9 1097.4L1748.7 1100.4L1749.1 1103.4L1750.2 1106.4L1748.8 1109.4L1750.5 1112.4L1750.3 1115.4L1749.9 1118.4L1749.8 1121.4L1750.9 1124.4L1751.2 1127.4L1749.8 1130.4L1750.6 1133.4L1750.9 1136.4L1750.9 1139.4L1750.4 1142.4L1749.8 1145.4L1750.4 1148.4L1750.5 1151.4L1748.8 1154.4L1748.8 1157.4L1749.8 1160.4L1749.4 1163.4L1748.9 1166.4L1747.4 1169.4L1748.8 1172.4L1749.5 1175.4L1749.6 1178.4L1749.2 1181.4L1748.0 1184.4L1749.7 1187.4L1748.6 1190.4L1749.6 1193.4L1750.3 1196.4L1750.0 1199.4L1748.8 1202.4L1749.0 1205.4L1750.2 1208.4L1748.5 1211.4L1749.3 1214.4L1748.9 1217.4L1748.2 1220.4L1749.1 1223.4L1747.8 1226.4L1747.8 1229.4L1748.3 1232.4L1747.6 1235.4L1747.4 1238.4L1748.5 1241.4L1749.0 1244.4L1749.4 1247.4L1748.0 1250.4L1748.7 1253.4L1748.6 1256.4L1749.3 1259.4L1749.2 1262.4L1750.3 1265.4L1749.3 1268.4L1748.6 1271.4L1749.6 1274.4L1748.3 1277.4L1748.9 1280.4L1748.4 1283.4L1749.0 1286.4L1748.0 1289.4L1747.9 1292.4L1746.9 1295.4L1747.2 1298.4L1746.4 1301.4L1747.2 1304.4L1746.6 1307.4L1745.7 1310.4L1745.8 1313.4L1745.9 1316.4L1746.5 1319.4L1745.5 1322.4L1746.1 1325.4L1745.9 1328.4L1745.5 1331.4L1745.6 1334.4L1745.5 1337.4L1743.0 1340.2Z" fill="#0d0d0d"/>
<path d="M1748.3 144.4H1753.6V148.4H1748.3M1745.0 145.6L1752.6 146.8M1750.6 146.1H1758.1V158.1H1750.6M1745.0 149.7L1757.1 153.3M1748.3 151.5H1753.7V161.5H1748.3M1745.0 154.5L1752.7 157.5M1750.8 156.1H1758.7V178.1H1750.8M1745.0 162.7L1757.7 169.3M1750.6 163.0H1758.3V168.0H1750.6M1745.0 164.5L1757.3 166.0M1749.7 165.2H1756.4V171.2H1749.7M1745.0 167.0L1755.4 168.8M1749.4 167.1H1755.9V183.1H1749.4M1745.0 171.9L1754.9 176.7M1748.4 172.6H1753.7V184.6H1748.4M1745.0 176.2L1752.7 179.8M1750.0 177.0H1757.1V187.0H1750.0M1745.0 180.0L1756.1 183.0M1749.3 182.1H1755.5V194.1H1749.3M1745.0 185.7L1754.5 189.3M1750.3 188.3H1757.7V198.3H1750.3M1745.0 191.3L1756.7 194.3M1752.3 193.8H1761.6V205.8H1752.3M1745.0 197.4L1760.6 201.0M1749.8 198.7H1756.7V201.7H1749.8M1745.0 199.6L1755.7 200.5M1749.1 200.1H1755.2V205.1H1749.1M1745.0 201.6L1754.2 203.1M1748.2 201.7H1753.4V204.7H1748.2M1745.0 202.6L1752.4 203.5M1750.0 202.8H1757.0V218.8H1750.0M1745.0 207.6L1756.0 212.4M1746.7 209.9H1750.4V219.9H1746.7M1745.0 212.9L1749.4 215.9M1747.8 214.3H1752.5V226.3H1747.8M1745.0 217.9L1751.5 221.5M1747.0 219.6H1751.0V225.6H1747.0M1745.0 221.4L1750.0 223.2M1749.1 221.7H1755.3V231.7H1749.1M1745.0 224.7L1754.3 227.7M1748.0 227.3H1753.0V243.3H1748.0M1745.0 232.1L1752.0 236.9M1749.3 233.3H1755.5V241.3H1749.3M1745.0 235.7L1754.5 238.1M1747.2 237.5H1751.5V243.5H1747.2M1745.0 239.3L1750.5 241.1M1750.1 240.9H1757.3V250.9H1750.1M1745.0 243.9L1756.3 246.9M1748.8 245.0H1754.5V248.0H1748.8M1745.0 245.9L1753.5 246.8M1750.7 246.5H1758.4V262.5H1750.7M1745.0 251.3L1757.4 256.1M1748.7 252.1H1754.3V262.1H1748.7M1745.0 255.1L1753.3 258.1M1747.5 257.1H1752.1V262.1H1747.5M1745.0 258.6L1751.1 260.1M1749.4 259.7H1755.7V265.7H1749.4M1745.0 261.5L1754.7 263.3M1750.0 262.6H1757.0V272.6H1750.0M1745.0 265.6L1756.0 268.6M1748.9 266.1H1754.7V276.1H1748.9M1745.0 269.1L1753.7 272.1M1749.0 271.3H1755.0V287.3H1749.0M1745.0 276.1L1754.0 280.9M1750.5 277.3H1758.0V283.3H1750.5M1745.0 279.1L1757.0 280.9M1750.7 280.3H1758.4V292.3H1750.7M1745.0 283.9L1757.4 287.5M1748.9 284.8H1754.7V300.8H1748.9M1745.0 289.6L1753.7 294.4M1749.1 293.4H1755.3V305.4H1749.1M1745.0 297.0L1754.3 300.6M1750.2 297.1H1757.4V319.1H1750.2M1745.0 303.7L1756.4 310.3M1748.0 309.9H1753.0V313.9H1748.0M1745.0 311.1L1752.0 312.3M1749.7 312.0H1756.4V316.0H1749.7M1745.0 313.2L1755.4 314.4M1749.0 313.3H1755.1V319.3H1749.0M1745.0 315.1L1754.1 316.9M1747.2 316.0H1751.4V319.0H1747.2M1745.0 316.9L1750.4 317.8M1748.4 317.7H1753.7V333.7H1748.4M1745.0 322.5L1752.7 327.3M1749.0 322.7H1754.9V325.7H1749.0M1745.0 323.6L1753.9 324.5M1749.2 323.8H1755.3V345.8H1749.2M1745.0 330.4L1754.3 337.0M1747.1 331.6H1751.2V337.6H1747.1M1745.0 333.4L1750.2 335.2M1747.0 334.0H1750.9V338.0H1747.0M1745.0 335.2L1749.9 336.4M1748.3 336.4H1753.6V341.4H1748.3M1745.0 337.9L1752.6 339.4M1748.6 339.2H1754.2V345.2H1748.6M1745.0 341.0L1753.2 342.8M1748.8 341.7H1754.5V351.7H1748.8M1745.0 344.7L1753.5 347.7M1749.3 346.5H1755.5V358.5H1749.3M1745.0 350.1L1754.5 353.7M1749.3 350.5H1755.6V353.5H1749.3M1745.0 351.4L1754.6 352.3M1750.8 351.7H1758.7V367.7H1750.8M1745.0 356.5L1757.7 361.3M1748.7 361.3H1754.5V383.3H1748.7M1745.0 367.9L1753.5 374.5M1749.6 370.0H1756.3V374.0H1749.6M1745.0 371.2L1755.3 372.4M1749.1 371.5H1755.2V383.5H1749.1M1745.0 375.1L1754.2 378.7M1748.7 375.6H1754.4V379.6H1748.7M1745.0 376.8L1753.4 378.0M1751.0 377.6H1758.9V389.6H1751.0M1745.0 381.2L1757.9 384.8M1747.8 383.6H1752.7V391.6H1747.8M1745.0 386.0L1751.7 388.4M1749.0 387.7H1755.0V390.7H1749.0M1745.0 388.6L1754.0 389.5M1750.2 389.3H1757.5V399.3H1750.2M1745.0 392.3L1756.5 395.3M1748.8 392.5H1754.5V402.5H1748.8M1745.0 395.5L1753.5 398.5M1749.3 397.8H1755.6V400.8H1749.3M1745.0 398.7L1754.6 399.6M1748.7 399.3H1754.4V404.3H1748.7M1745.0 400.8L1753.4 402.3M1748.8 401.5H1754.7V404.5H1748.8M1745.0 402.4L1753.7 403.3M1747.7 403.0H1752.4V411.0H1747.7M1745.0 405.4L1751.4 407.8M1748.1 407.3H1753.1V429.3H1748.1M1745.0 413.9L1752.1 420.5M1747.4 414.4H1751.8V419.4H1747.4M1745.0 415.9L1750.8 417.4M1748.2 416.6H1753.3V426.6H1748.2M1745.0 419.6L1752.3 422.6M1748.0 419.8H1753.0V441.8H1748.0M1745.0 426.4L1752.0 433.0M1749.3 427.2H1755.5V432.2H1749.3M1745.0 428.7L1754.5 430.2M1750.1 429.4H1757.1V437.4H1750.1M1745.0 431.8L1756.1 434.2M1748.8 433.2H1754.6V439.2H1748.8M1745.0 435.0L1753.6 436.8M1748.3 435.3H1753.6V441.3H1748.3M1745.0 437.1L1752.6 438.9M1749.3 437.1H1755.6V442.1H1749.3M1745.0 438.6L1754.6 440.1M1750.2 438.7H1757.5V460.7H1750.2M1745.0 445.3L1756.5 451.9M1748.8 449.5H1754.7V454.5H1748.8M1745.0 451.0L1753.7 452.5M1748.7 452.4H1754.4V464.4H1748.7M1745.0 456.0L1753.4 459.6M1749.2 457.1H1755.4V463.1H1749.2M1745.0 458.9L1754.4 460.7M1748.9 459.7H1754.8V475.7H1748.9M1745.0 464.5L1753.8 469.3M1749.5 467.7H1756.0V472.7H1749.5M1745.0 469.2L1755.0 470.7M1748.0 470.7H1752.9V473.7H1748.0M1745.0 471.6L1751.9 472.5M1750.3 472.3H1757.6V484.3H1750.3M1745.0 475.9L1756.6 479.5M1747.5 476.7H1752.1V479.7H1747.5M1745.0 477.6L1751.1 478.5M1750.1 478.1H1757.2V494.1H1750.1M1745.0 482.9L1756.2 487.7M1748.3 484.6H1753.6V500.6H1748.3M1745.0 489.4L1752.6 494.2M1747.8 490.7H1752.5V496.7H1747.8M1745.0 492.5L1751.5 494.3M1747.8 493.4H1752.6V499.4H1747.8M1745.0 495.2L1751.6 497.0M1748.0 496.7H1753.0V499.7H1748.0M1745.0 497.6L1752.0 498.5M1747.0 497.9H1751.0V502.9H1747.0M1745.0 499.4L1750.0 500.9M1747.1 499.8H1751.3V511.8H1747.1M1745.0 503.4L1750.3 507.0M1748.1 504.0H1753.2V508.0H1748.1M1745.0 505.2L1752.2 506.4M1748.3 505.6H1753.6V511.6H1748.3M1745.0 507.4L1752.6 509.2M1748.5 508.7H1754.0V524.7H1748.5M1745.0 513.5L1753.0 518.3M1747.8 517.7H1752.6V521.7H1747.8M1745.0 518.9L1751.6 520.1M1746.4 519.3H1749.7V522.3H1746.4M1745.0 520.2L1748.7 521.1M1747.8 520.8H1752.6V525.8H1747.8M1745.0 522.3L1751.6 523.8M1747.2 522.3H1751.5V525.3H1747.2M1745.0 523.2L1750.5 524.1M1747.6 523.6H1752.1V545.6H1747.6M1745.0 530.2L1751.1 536.8M1747.3 534.9H1751.5V546.9H1747.3M1745.0 538.5L1750.5 542.1M1747.7 541.3H1752.3V563.3H1747.7M1745.0 547.9L1751.3 554.5M1746.9 551.5H1750.7V563.5H1746.9M1745.0 555.1L1749.7 558.7M1746.6 557.2H1750.1V579.2H1746.6M1745.0 563.8L1749.1 570.4M1745.8 565.7H1748.5V568.7H1745.8M1745.0 566.6L1747.5 567.5M1746.6 566.9H1750.2V578.9H1746.6M1745.0 570.5L1749.2 574.1M1747.3 573.9H1751.7V581.9H1747.3M1745.0 576.3L1750.7 578.7M1746.7 576.8H1750.4V579.8H1746.7M1745.0 577.7L1749.4 578.6M1747.2 578.3H1751.5V586.3H1747.2M1745.0 580.7L1750.5 583.1M1746.3 582.4H1749.6V604.4H1746.3M1745.0 589.0L1748.6 595.6M1745.8 592.4H1748.6V596.4H1745.8M1745.0 593.6L1747.6 594.8M1746.7 594.8H1750.3V616.8H1746.7M1745.0 601.4L1749.3 608.0M1746.6 607.8H1750.1V619.8H1746.6M1745.0 611.4L1749.1 615.0M1747.8 614.1H1752.5V636.1H1747.8M1745.0 620.7L1751.5 627.3M1746.7 626.7H1750.3V636.7H1746.7M1745.0 629.7L1749.3 632.7M1747.7 630.0H1752.4V652.0H1747.7M1745.0 636.6L1751.4 643.2M1748.2 643.1H1753.4V649.1H1748.2M1745.0 644.9L1752.4 646.7M1748.7 645.3H1754.3V653.3H1748.7M1745.0 647.7L1753.3 650.1M1748.8 649.6H1754.6V653.6H1748.8M1745.0 650.8L1753.6 652.0M1750.2 651.0H1757.3V663.0H1750.2M1745.0 654.6L1756.3 658.2M1748.8 655.4H1754.6V659.4H1748.8M1745.0 656.6L1753.6 657.8M1750.6 657.3H1758.3V679.3H1750.6M1745.0 663.9L1757.3 670.5M1749.6 666.7H1756.2V678.7H1749.6M1745.0 670.3L1755.2 673.9M1748.4 672.4H1753.9V678.4H1748.4M1745.0 674.2L1752.9 676.0M1748.4 674.7H1753.9V684.7H1748.4M1745.0 677.7L1752.9 680.7M1748.2 677.8H1753.4V681.8H1748.2M1745.0 679.0L1752.4 680.2M1748.6 679.7H1754.2V684.7H1748.6M1745.0 681.2L1753.2 682.7M1749.1 681.7H1755.1V685.7H1749.1M1745.0 682.9L1754.1 684.1M1747.5 683.7H1752.0V687.7H1747.5M1745.0 684.9L1751.0 686.1M1751.0 685.5H1758.9V707.5H1751.0M1745.0 692.1L1757.9 698.7M1750.0 694.2H1756.9V710.2H1750.0M1745.0 699.0L1755.9 703.8M1749.7 703.4H1756.4V709.4H1749.7M1745.0 705.2L1755.4 707.0M1750.4 706.4H1757.7V722.4H1750.4M1745.0 711.2L1756.7 716.0M1747.5 711.2H1752.0V716.2H1747.5M1745.0 712.7L1751.0 714.2M1749.3 713.2H1755.5V723.2H1749.3M1745.0 716.2L1754.5 719.2M1749.9 716.5H1756.9V732.5H1749.9M1745.0 721.3L1755.9 726.1M1748.9 725.2H1754.7V730.2H1748.9M1745.0 726.7L1753.7 728.2M1747.9 728.1H1752.8V732.1H1747.9M1745.0 729.3L1751.8 730.5M1747.7 730.3H1752.3V736.3H1747.7M1745.0 732.1L1751.3 733.9M1750.1 732.7H1757.2V748.7H1750.1M1745.0 737.5L1756.2 742.3M1747.2 742.3H1751.5V746.3H1747.2M1745.0 743.5L1750.5 744.7M1747.6 744.6H1752.2V760.6H1747.6M1745.0 749.4L1751.2 754.2M1746.6 750.0H1750.3V760.0H1746.6M1745.0 753.0L1749.3 756.0M1748.1 753.0H1753.1V765.0H1748.1M1745.0 756.6L1752.1 760.2M1746.6 760.0H1750.2V764.0H1746.6M1745.0 761.2L1749.2 762.4M1746.2 762.3H1749.3V770.3H1746.2M1745.0 764.7L1748.3 767.1M1748.0 766.7H1752.9V776.7H1748.0M1745.0 769.7L1751.9 772.7M1747.4 770.2H1751.7V780.2H1747.4M1745.0 773.2L1750.7 776.2M1748.6 774.1H1754.2V790.1H1748.6M1745.0 778.9L1753.2 783.7M1747.7 782.6H1752.3V786.6H1747.7M1745.0 783.8L1751.3 785.0M1749.3 784.1H1755.6V794.1H1749.3M1745.0 787.1L1754.6 790.1M1747.4 787.3H1751.9V799.3H1747.4M1745.0 790.9L1750.9 794.5M1747.6 792.4H1752.2V798.4H1747.6M1745.0 794.2L1751.2 796.0M1747.6 795.5H1752.2V800.5H1747.6M1745.0 797.0L1751.2 798.5M1748.8 797.2H1754.7V813.2H1748.8M1745.0 802.0L1753.7 806.8M1749.8 802.9H1756.5V814.9H1749.8M1745.0 806.5L1755.5 810.1M1748.5 807.3H1754.1V823.3H1748.5M1745.0 812.1L1753.1 816.9M1748.6 816.0H1754.2V819.0H1748.6M1745.0 816.9L1753.2 817.8M1746.8 817.1H1750.6V820.1H1746.8M1745.0 818.0L1749.6 818.9M1749.6 818.5H1756.2V830.5H1749.6M1745.0 822.1L1755.2 825.7M1747.4 822.3H1751.8V828.3H1747.4M1745.0 824.1L1750.8 825.9M1747.8 825.6H1752.5V828.6H1747.8M1745.0 826.5L1751.5 827.4M1748.5 826.6H1754.0V834.6H1748.5M1745.0 829.0L1753.0 831.4M1748.7 831.0H1754.5V847.0H1748.7M1745.0 835.8L1753.5 840.6M1749.2 836.0H1755.4V848.0H1749.2M1745.0 839.6L1754.4 843.2M1747.1 841.4H1751.2V844.4H1747.1M1745.0 842.3L1750.2 843.2M1749.2 842.7H1755.5V854.7H1749.2M1745.0 846.3L1754.5 849.9M1749.6 849.3H1756.2V861.3H1749.6M1745.0 852.9L1755.2 856.5M1748.8 854.2H1754.6V859.2H1748.8M1745.0 855.7L1753.6 857.2M1747.9 856.0H1752.7V862.0H1747.9M1745.0 857.8L1751.7 859.6M1747.8 859.5H1752.6V869.5H1747.8M1745.0 862.5L1751.6 865.5M1747.5 863.8H1752.0V871.8H1747.5M1745.0 866.2L1751.0 868.6M1748.3 867.0H1753.6V870.0H1748.3M1745.0 867.9L1752.6 868.8M1748.8 868.1H1754.5V873.1H1748.8M1745.0 869.6L1753.5 871.1M1747.6 869.7H1752.3V881.7H1747.6M1745.0 873.3L1751.3 876.9M1747.5 874.7H1752.0V879.7H1747.5M1745.0 876.2L1751.0 877.7M1750.6 876.3H1758.2V892.3H1750.6M1745.0 881.1L1757.2 885.9M1748.3 884.0H1753.6V889.0H1748.3M1745.0 885.5L1752.6 887.0M1750.2 885.6H1757.3V895.6H1750.2M1745.0 888.6L1756.3 891.6M1749.3 888.7H1755.5V893.7H1749.3M1745.0 890.2L1754.5 891.7M1749.1 890.3H1755.3V895.3H1749.1M1745.0 891.8L1754.3 893.3M1747.7 892.3H1752.5V898.3H1747.7M1745.0 894.1L1751.5 895.9M1747.8 895.1H1752.7V917.1H1747.8M1745.0 901.7L1751.7 908.3M1748.3 902.4H1753.5V914.4H1748.3M1745.0 906.0L1752.5 909.6M1748.2 907.3H1753.4V923.3H1748.2M1745.0 912.1L1752.4 916.9M1748.2 914.3H1753.5V920.3H1748.2M1745.0 916.1L1752.5 917.9M1747.1 916.3H1751.2V919.3H1747.1M1745.0 917.2L1750.2 918.1M1746.5 917.9H1750.0V922.9H1746.5M1745.0 919.4L1749.0 920.9M1745.9 920.4H1748.8V923.4H1745.9M1745.0 921.3L1747.8 922.2M1746.7 922.0H1750.3V934.0H1746.7M1745.0 925.6L1749.3 929.2M1747.4 928.1H1751.8V934.1H1747.4M1745.0 929.9L1750.8 931.7M1747.3 930.1H1751.5V952.1H1747.3M1745.0 936.7L1750.5 943.3M1748.3 941.2H1753.7V951.2H1748.3M1745.0 944.2L1752.7 947.2M1748.2 945.9H1753.5V961.9H1748.2M1745.0 950.7L1752.5 955.5M1748.4 953.8H1753.8V963.8H1748.4M1745.0 956.8L1752.8 959.8M1749.6 957.7H1756.2V969.7H1749.6M1745.0 961.3L1755.2 964.9M1748.0 962.3H1752.9V967.3H1748.0M1745.0 963.8L1751.9 965.3M1747.3 964.9H1751.7V980.9H1747.3M1745.0 969.7L1750.7 974.5M1747.3 970.7H1751.6V982.7H1747.3M1745.0 974.3L1750.6 977.9M1748.0 976.1H1753.0V998.1H1748.0M1745.0 982.7L1752.0 989.3M1747.9 985.4H1752.7V1001.4H1747.9M1745.0 990.2L1751.7 995.0M1747.7 992.6H1752.4V998.6H1747.7M1745.0 994.4L1751.4 996.2M1746.6 994.5H1750.2V998.5H1746.6M1745.0 995.7L1749.2 996.9M1748.9 996.7H1754.8V1006.7H1748.9M1745.0 999.7L1753.8 1002.7M1747.7 1000.5H1752.4V1008.5H1747.7M1745.0 1002.9L1751.4 1005.3M1746.9 1003.3H1750.9V1007.3H1746.9M1745.0 1004.5L1749.9 1005.7M1747.6 1005.5H1752.1V1013.5H1747.6M1745.0 1007.9L1751.1 1010.3M1748.1 1009.4H1753.3V1015.4H1748.1M1745.0 1011.2L1752.3 1013.0M1749.6 1012.3H1756.2V1028.3H1749.6M1745.0 1017.1L1755.2 1021.9M1747.9 1021.1H1752.9V1026.1H1747.9M1745.0 1022.6L1751.9 1024.1M1748.5 1023.9H1754.0V1033.9H1748.5M1745.0 1026.9L1753.0 1029.9M1748.1 1026.9H1753.2V1029.9H1748.1M1745.0 1027.8L1752.2 1028.7M1746.7 1028.4H1750.4V1031.4H1746.7M1745.0 1029.3L1749.4 1030.2M1749.2 1029.7H1755.4V1041.7H1749.2M1745.0 1033.3L1754.4 1036.9M1748.2 1035.5H1753.4V1041.5H1748.2M1745.0 1037.3L1752.4 1039.1M1748.5 1038.5H1753.9V1042.5H1748.5M1745.0 1039.7L1752.9 1040.9M1746.9 1040.4H1750.9V1043.4H1746.9M1745.0 1041.3L1749.9 1042.2M1750.0 1041.7H1757.0V1063.7H1750.0M1745.0 1048.3L1756.0 1054.9M1749.0 1053.1H1754.9V1057.1H1749.0M1745.0 1054.3L1753.9 1055.5M1747.2 1055.1H1751.5V1063.1H1747.2M1745.0 1057.5L1750.5 1059.9M1747.8 1059.3H1752.7V1067.3H1747.8M1745.0 1061.7L1751.7 1064.1M1748.0 1062.4H1752.9V1072.4H1748.0M1745.0 1065.4L1751.9 1068.4M1747.6 1068.2H1752.2V1084.2H1747.6M1745.0 1073.0L1751.2 1077.8M1746.9 1076.1H1750.7V1084.1H1746.9M1745.0 1078.5L1749.7 1080.9M1746.5 1080.0H1750.0V1096.0H1746.5M1745.0 1084.8L1749.0 1089.6M1746.8 1086.5H1750.7V1090.5H1746.8M1745.0 1087.7L1749.7 1088.9M1747.8 1088.2H1752.5V1110.2H1747.8M1745.0 1094.8L1751.5 1101.4M1747.5 1095.9H1752.1V1100.9H1747.5M1745.0 1097.4L1751.1 1098.9M1747.6 1097.7H1752.2V1119.7H1747.6M1745.0 1104.3L1751.2 1110.9M1746.3 1108.1H1749.6V1111.1H1746.3M1745.0 1109.0L1748.6 1109.9M1748.0 1109.2H1753.0V1125.2H1748.0M1745.0 1114.0L1752.0 1118.8M1747.6 1118.6H1752.1V1124.6H1747.6M1745.0 1120.4L1751.1 1122.2M1748.2 1121.6H1753.4V1133.6H1748.2M1745.0 1125.2L1752.4 1128.8M1747.5 1126.1H1752.1V1136.1H1747.5M1745.0 1129.1L1751.1 1132.1M1747.7 1129.4H1752.5V1137.4H1747.7M1745.0 1131.8L1751.5 1134.2M1747.7 1133.8H1752.5V1155.8H1747.7M1745.0 1140.4L1751.5 1147.0M1748.3 1144.6H1753.6V1148.6H1748.3M1745.0 1145.8L1752.6 1147.0M1747.0 1145.9H1751.0V1149.9H1747.0M1745.0 1147.1L1750.0 1148.3M1748.1 1147.3H1753.3V1155.3H1748.1M1745.0 1149.7L1752.3 1152.1M1747.5 1151.1H1752.0V1154.1H1747.5M1745.0 1152.0L1751.0 1152.9M1747.3 1152.4H1751.5V1157.4H1747.3M1745.0 1153.9L1750.5 1155.4M1746.3 1155.0H1749.5V1163.0H1746.3M1745.0 1157.4L1748.5 1159.8M1746.3 1159.5H1749.6V1163.5H1746.3M1745.0 1160.7L1748.6 1161.9M1746.6 1161.0H1750.2V1171.0H1746.6M1745.0 1164.0L1749.2 1167.0M1745.6 1166.6H1748.2V1170.6H1745.6M1745.0 1167.8L1747.2 1169.0M1746.8 1167.9H1750.5V1170.9H1746.8M1745.0 1168.8L1749.5 1169.7M1746.9 1169.5H1750.8V1191.5H1746.9M1745.0 1176.1L1749.8 1182.7M1746.0 1179.2H1749.0V1183.2H1746.0M1745.0 1180.4L1748.0 1181.6M1747.0 1180.4H1751.0V1202.4H1747.0M1745.0 1187.0L1750.0 1193.6M1747.3 1187.7H1751.5V1209.7H1747.3M1745.0 1194.3L1750.5 1200.9M1746.8 1196.7H1750.7V1200.7H1746.8M1745.0 1197.9L1749.7 1199.1M1746.3 1198.0H1749.7V1204.0H1746.3M1745.0 1199.8L1748.7 1201.6M1747.2 1200.8H1751.3V1204.8H1747.2M1745.0 1202.0L1750.3 1203.2M1747.2 1202.8H1751.4V1214.8H1747.2M1745.0 1206.4L1750.4 1210.0M1747.2 1207.4H1751.3V1229.4H1747.2M1745.0 1214.0L1750.3 1220.6M1746.0 1219.4H1749.0V1222.4H1746.0M1745.0 1220.3L1748.0 1221.2M1746.4 1220.8H1749.7V1225.8H1746.4M1745.0 1222.3L1748.7 1223.8M1746.3 1223.2H1749.5V1229.2H1746.3M1745.0 1225.0L1748.5 1226.8M1746.0 1226.5H1749.1V1248.5H1746.0M1745.0 1233.1L1748.1 1239.7M1746.5 1235.1H1750.0V1251.1H1746.5M1745.0 1239.9L1749.0 1244.7M1746.7 1242.6H1750.4V1264.6H1746.7M1745.0 1249.2L1749.4 1255.8M1746.7 1250.3H1750.4V1258.3H1746.7M1745.0 1252.7L1749.4 1255.1M1746.0 1253.6H1748.9V1257.6H1746.0M1745.0 1254.8L1747.9 1256.0M1746.5 1255.1H1750.0V1259.1H1746.5M1745.0 1256.3L1749.0 1257.5M1746.2 1256.5H1749.4V1262.5H1746.2M1745.0 1258.3L1748.4 1260.1M1747.1 1258.5H1751.1V1274.5H1747.1M1745.0 1263.3L1750.1 1268.1M1747.5 1265.5H1752.0V1270.5H1747.5M1745.0 1267.0L1751.0 1268.5M1747.3 1267.8H1751.6V1275.8H1747.3M1745.0 1270.2L1750.6 1272.6M1747.4 1270.8H1751.8V1280.8H1747.4M1745.0 1273.8L1750.8 1276.8M1746.0 1275.4H1749.0V1297.4H1746.0M1745.0 1282.0L1748.0 1288.6M1746.2 1287.0H1749.4V1297.0H1746.2M1745.0 1290.0L1748.4 1293.0M1746.3 1291.5H1749.7V1307.5H1746.3M1745.0 1296.3L1748.7 1301.1M1745.6 1298.8H1748.1V1306.8H1745.6M1745.0 1301.2L1747.1 1303.6M1745.0 1301.3H1746.9V1309.3H1745.0M1745.0 1303.7L1745.9 1306.1M1745.2 1304.7H1747.4V1316.7H1745.2M1745.0 1308.3L1746.4 1311.9M1745.2 1311.1H1747.4V1319.1H1745.2M1745.0 1313.5L1746.4 1315.9M1744.4 1315.3H1745.8V1318.3H1744.4M1745.0 1316.2L1744.8 1317.1M1745.3 1317.1H1747.5V1325.1H1745.3M1745.0 1319.5L1746.5 1321.9M1744.7 1320.5H1746.4V1328.5H1744.7M1745.0 1322.9L1745.4 1325.3M1744.6 1324.9H1746.1V1339.2H1744.6M1745.0 1329.2L1745.1 1333.5M1744.3 1332.3H1745.5V1339.2H1744.3M1745.0 1334.4L1744.5 1336.4M1744.0 1335.8H1745.1V1338.8H1744.0M1745.0 1336.7L1744.1 1337.6" fill="none" stroke="#0d0d0d" stroke-width="1.5"/>
<path d="M1761 154H1786.2V483.5H1773.5M1768 217.5H1773.5V752H1767M1760.5 178.5H1767.4V304H1761M1762.8 217V446M1759 262H1762.8M1764.5 300V590H1758M1761 330V520M1767 700V925H1761M1764 752V880M1761 790V1140H1757M1758.5 960V1090M1757 1100V1250H1753M1755.5 1180V1300M1759 640H1767V700" fill="none" stroke="#2e2434" stroke-width="1.25"/>
<text class="r" font-size="30.00" transform="translate(944.79 1387.60) scale(0.9685 1)">Image signature</text>
<text class="r" font-size="30.00" transform="translate(997.26 1432.30) scale(0.9735 1)">BP group</text>
<text class="r" font-size="30.00" transform="translate(994.15 1464.80) scale(0.9696 1)">GP group</text>
<text class="r" font-size="30.00" transform="translate(945.09 1519.80) scale(0.9675 1)">OS status</text>
<text class="r" font-size="30.00" transform="translate(992.93 1560.30) scale(0.9658 1)">survive and FU</text>
<text class="r" font-size="30.00" transform="translate(992.84 1592.70) scale(0.9686 1)">dead</text>
<text class="r" font-size="30.00" transform="translate(1178.96 1389.30) scale(0.9602 1)">Gender</text>
<text class="r" font-size="30.00" transform="translate(1227.48 1432.30) scale(0.9673 1)">Male</text>
<text class="r" font-size="30.00" transform="translate(1227.50 1464.80) scale(0.9574 1)">Female</text>
<text class="r" font-size="30.00" transform="translate(1326.16 1389.30) scale(0.9765 1)">Position</text>
<text class="r" font-size="30.00" transform="translate(1383.85 1425.00) scale(0.9587 1)">others</text>
<text class="r" font-size="30.00" transform="translate(1384.57 1458.00) scale(0.9623 1)">frontal</text>
<text class="r" font-size="30.00" transform="translate(1383.71 1490.80) scale(0.9714 1)">parietal</text>
<text class="r" font-size="30.00" transform="translate(1384.57 1523.80) scale(0.9571 1)">temporal</text>
<text class="r" font-size="30.00" transform="translate(1520.00 1384.60) scale(0.9625 1)">Age</text>
<text class="r" font-size="30.00" transform="translate(1561.34 1429.90) scale(0.9726 1)">&lt; 18</text>
<text class="r" font-size="30.00" transform="translate(1562.85 1463.10) scale(0.9536 1)">18-36</text>
<text class="r" font-size="30.00" transform="translate(1562.45 1495.90) scale(0.9570 1)">37-60</text>
<text class="r" font-size="30.00" transform="translate(1561.34 1528.80) scale(0.9700 1)">&gt; 60</text>
<text class="r" font-size="30.00" transform="translate(1657.39 1381.20) scale(0.9659 1)">IS feature</text>
<rect x="952.9" y="1408.6" width="30.2" height="28.4" fill="#d67f2c"/>
<rect x="952.9" y="1439.6" width="30.2" height="30.2" fill="#2b5a9b"/>
<rect x="952.9" y="1534.2" width="30.2" height="30.2" fill="#e8c343"/>
<rect x="952.9" y="1567.8" width="30.2" height="30.2" fill="#c8c6c3"/>
<rect x="1187.6" y="1407.2" width="30.5" height="30.0" fill="#217e4e"/>
<rect x="1187.6" y="1440.0" width="30.5" height="30.3" fill="#e8c343"/>
<rect x="1339.8" y="1401.0" width="29.8" height="28.9" fill="#c8c6c3"/>
<rect x="1339.8" y="1433.4" width="29.8" height="29.2" fill="#2b5a9b"/>
<rect x="1339.8" y="1466.4" width="29.8" height="29.1" fill="#6b66a3"/>
<rect x="1339.8" y="1499.4" width="29.8" height="29.1" fill="#52877f"/>
<rect x="1522.1" y="1404.8" width="30.1" height="29.5" fill="#ecaa27"/>
<rect x="1522.1" y="1437.5" width="30.1" height="29.5" fill="#eeb2ae"/>
<rect x="1522.1" y="1470.4" width="30.1" height="29.3" fill="#a5649e"/>
<rect x="1522.1" y="1503.2" width="30.1" height="29.8" fill="#df2a2f"/>
<defs><linearGradient id="cb" x1="0" y1="0" x2="0" y2="1">
<stop offset="0.0000" stop-color="#b02e3a"/>
<stop offset="0.0672" stop-color="#c0393c"/>
<stop offset="0.1490" stop-color="#d05548"/>
<stop offset="0.2093" stop-color="#d6705f"/>
<stop offset="0.2825" stop-color="#df9a8a"/>
<stop offset="0.3342" stop-color="#eabfaa"/>
<stop offset="0.3514" stop-color="#f0d8a6"/>
<stop offset="0.3686" stop-color="#eecbbd"/>
<stop offset="0.4074" stop-color="#f0d0c8"/>
<stop offset="0.4401" stop-color="#f8ecc8"/>
<stop offset="0.4634" stop-color="#ffffff"/>
<stop offset="0.5452" stop-color="#ffffff"/>
<stop offset="0.5624" stop-color="#ede0ea"/>
<stop offset="0.6227" stop-color="#c0b0d0"/>
<stop offset="0.7089" stop-color="#9a8ab8"/>
<stop offset="0.7950" stop-color="#7565a0"/>
<stop offset="0.8725" stop-color="#4e4a90"/>
<stop offset="0.9328" stop-color="#3a4088"/>
<stop offset="1.0000" stop-color="#2e3f85"/>
</linearGradient></defs>
<rect x="1656.6" y="1401.1" width="34.8" height="166.4" rx="1.5" fill="url(#cb)"/>
<path d="M1656.6 1412.3h8.6M1682.8 1412.3h8.6M1656.6 1448.1h8.6M1682.8 1448.1h8.6M1656.6 1555.6h8.6M1682.8 1555.6h8.6M1656.6 1519.3h14" stroke="#fff" stroke-width="1.7" fill="none"/>
<text class="r" font-size="26.20" transform="translate(1699.01 1422.80) scale(0.9460 1)">0.01</text>
<text class="r" font-size="26.20" transform="translate(1698.97 1458.10) scale(0.9826 1)">0.005</text>
<text class="r" font-size="26.20" transform="translate(1699.00 1494.00) scale(0.9542 1)">0</text>
<text class="r" font-size="26.20" transform="translate(1698.70 1529.80) scale(0.9902 1)">−0.005</text>
<text class="r" font-size="26.20" transform="translate(1698.76 1565.60) scale(0.9483 1)">−0.01</text>
</g>
</svg></body></html>
